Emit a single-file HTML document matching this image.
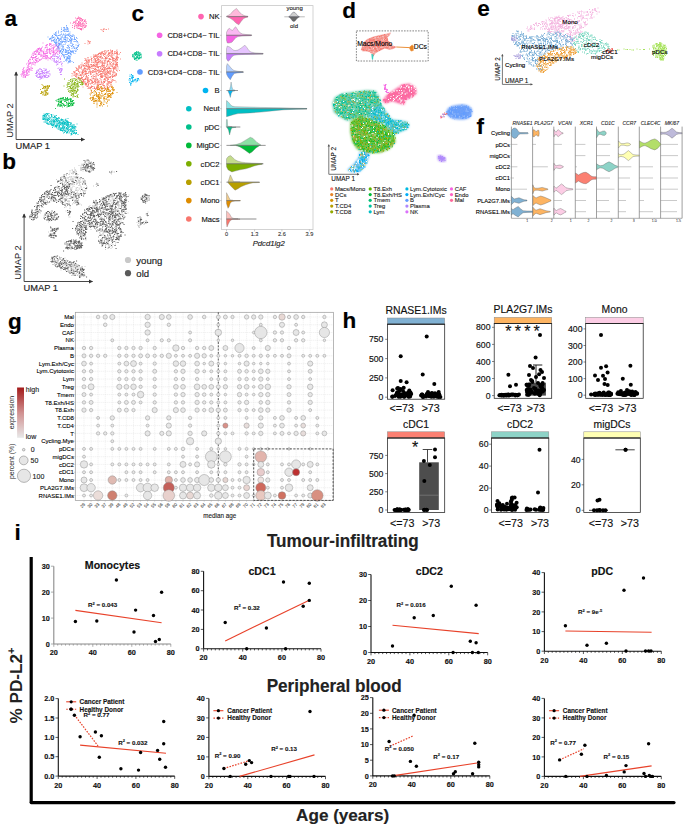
<!DOCTYPE html>
<html><head><meta charset="utf-8"><style>
html,body{margin:0;padding:0;background:#fff;width:685px;height:827px;overflow:hidden}
svg{display:block;font-family:"Liberation Sans",sans-serif}
</style></head><body>
<svg width="685" height="827" viewBox="0 0 685 827">
<rect width="685" height="827" fill="#fff"/>
<path d="M46 45h1M41.5 55.5h1M43 56.5h1M54.5 53h1M27.5 63h1M45.5 55.5h1M47.5 57.5h1M32.5 63h1M38.5 53h1M30 63h1M49 53h1M55 53.5h1M43.5 58.5h1M53 52.5h1M22.5 69.5h1M31.5 57.5h1M58.5 48h1M29.5 59.5h1M43.5 52h1M35 62.5h1M47 44.5h1M36 56.5h1M21.5 73.5h1M44.5 48h1M39 59.5h1M34 52h1M53 48.5h1M21 76h1M41 48h1M27 69.5h1M29.5 61h1M30.5 67h1M27.5 70.5h1M49 48.5h1M26 71.5h1M34 62h1M53 50h1M30 63h1M30.5 57.5h1M25.5 74.5h1M34.5 59h1M37.5 49h1M33 61h1M38 61.5h1M57.5 52h1M53.5 47.5h1M26.5 68h1M46.5 47.5h1M36 60h1M40.5 54.5h1M49 43.5h1M42.5 58h1M23 77h1M53 52h1M26 75h1M47.5 57.5h1M23 75.5h1M23.5 72.5h1M23 73h1M38.5 54.5h1M41 51h1M32.5 53.5h1M50.5 53h1M40 49h1M57.5 46.5h1M36 60.5h1M36.5 55h1M23 68.5h1M23.5 72h1M32 59h1M32.5 55h1M39 60.5h1M28 60.5h1M35.5 54h1M22 72h1M24.5 72h1M46.5 45h1M49.5 51.5h1M49 50h1M40 56h1M46 45.5h1M50 53.5h1M47 53h1M41 59h1M55.5 49.5h1M38 52h1M28.5 63h1M58 47.5h1M38 53.5h1M53.5 47h1M56 53h1M35 56.5h1M34.5 57.5h1M24.5 72h1M40.5 49.5h1M49 44.5h1M49.5 58.5h1M57 47h1M39 54.5h1M32 68.5h1M59 52h1M46.5 53h1M42.5 56.5h1M28.5 74.5h1M40 50.5h1M50 57h1M36.5 61h1M35 54.5h1M54.5 50.5h1M36 58.5h1M59 51.5h1M46 53.5h1M35.5 50.5h1M32 59h1M37 51.5h1M33.5 57.5h1M47.5 49.5h1M40.5 50h1M59 53.5h1M53 51h1M29 69.5h1M40 49.5h1M57 54h1M27.5 75.5h1M50 44h1M46.5 56h1M35 54.5h1M31.5 55h1M58 47h1M58.5 50h1M50.5 44h1M57 51.5h1M33.5 52h1M30.5 68h1M29.5 59.5h1M35.5 51.5h1M37.5 60h1M57 49h1M44.5 54h1M33 55.5h1M51.5 45.5h1M28 69h1M48.5 58.5h1M46.5 47h1M53.5 53h1M43 56h1M49.5 49.5h1M26.5 73.5h1M43 54h1M40.5 51h1M30.5 70h1M58 46.5h1M30.5 63.5h1M46 50h1M47 49h1M36 62h1M45.5 46h1M27 67h1M36.5 52.5h1M32.5 62.5h1M34.5 57.5h1M49 50h1M20.5 74.5h1M38.5 48.5h1M35 60.5h1M53 48.5h1M51.5 50.5h1M53 49h1M41 56h1M50.5 44h1M53.5 47h1M45 53.5h1M38 58h1M39.5 51h1M38.5 49h1M45.5 45.5h1M40.5 56h1M58 47.5h1M56.5 48.5h1M50.5 48.5h1M56 52.5h1M52.5 47.5h1M40.5 54h1M26.5 75.5h1M27 70h1M45.5 55.5h1M24.5 77.5h1M45.5 56.5h1M52 52h1M38 49h1M50 44.5h1M53 51.5h1M44.5 58h1M29 63h1M43.5 50h1M25.5 75.5h1M36 52h1M42.5 55h1M46 58h1M36.5 51h1M22.5 70h1M57.5 47.5h1M28 64h1M52.5 49h1M32.5 53h1M22 74h1M50 59h1M49.5 58.5h1M48.5 52h1M42 58h1M31 65h1M58.5 50.5h1M50 54h1M55 54h1M43 53.5h1M28.5 64.5h1M23.5 74.5h1M24.5 75h1M23 73h1M45.5 53h1M50.5 50h1M33 57.5h1M31.5 68h1M35 54h1M41.5 50.5h1M54.5 46h1M53 48.5h1M23.5 70.5h1M45 55h1M36 56.5h1M55.5 45.5h1M29.5 59h1M34 54h1M26.5 72h1M55.5 51h1M41 48.5h1M24.5 76.5h1M49.5 58h1M28 65h1M45.5 59h1M26 64h1M37 50.5h1M45.5 58.5h1M32.5 64.5h1M45.5 51.5h1M37 58.5h1M45 57h1M27.5 65.5h1M51 56.5h1M26.5 70h1M28.5 66.5h1M25 77h1M31 56.5h1M34 52h1M29 68.5h1M29 71h1M36 50h1M25.5 70h1M34.5 65h1M39 53h1M42 47h1M53.5 55h1M54 52h1M35 51.5h1M37 49h1M32 59.5h1M46.5 55.5h1M22.5 71.5h1M26 72h1M46.5 51.5h1M29.5 70h1M27 74h1M28 67h1M42.5 52h1M39 48h1M40 60h1M35 57.5h1M40.5 59.5h1M35 59.5h1M37 62h1M53 53h1M40.5 52h1M33.5 54h1M32 63h1M47.5 50h1M46.5 58.5h1M50.5 46.5h1M46.5 55.5h1M42.5 51.5h1M32 57.5h1M33 58h1M46 50h1M25 76.5h1M24 73h1M49 51h1M49.5 49.5h1M49 45.5h1M52.5 45.5h1M27 73h1M35 63h1M26 70.5h1M45.5 57.5h1M43 53h1M22.5 77h1M33.5 64h1M44 53.5h1M52.5 52.5h1M22 72h1M43 52.5h1M28 69h1M57.5 51h1M38.5 50h1M30.5 69h1M23.5 71h1M51 51h1M27.5 67.5h1M34.5 62.5h1M36 61h1M51.5 48h1M44 55h1M43 52h1M51 57.5h1M56.5 45h1M44 56.5h1M25 76.5h1M30.5 62.5h1M47 56.5h1M38 48.5h1M53.5 44.5h1M47 53h1M39.5 48.5h1M48.5 49.5h1M21.5 75h1M24 75h1M38 54.5h1M45 47.5h1M26 73h1M31 57h1M53.5 54.5h1M25 77h1M22.5 74h1M47 50h1M39 52.5h1M56 44.5h1M49 53h1M52.5 54.5h1M56.5 50.5h1M42.5 43h1M58 43.5h1M29 63.5h1M31.5 70.5h1M38 49.5h1M51.5 41h1M28 61.5h1M23.5 67.5h1M61 56h1M28 71.5h1M28.5 72.5h1M55.5 46.5h1M47.5 60h1" stroke="#F564E3" stroke-width="1" stroke-opacity="0.8" fill="none"/>
<path d="M72.5 47h1M63 56h1M56 40h1M55.5 41.5h1M68 48h1M58 44h1M69 61.5h1M65 41.5h1M64 31h1M71.5 51.5h1M70.5 52.5h1M72.5 35h1M51.5 37h1M73.5 41.5h1M63 50h1M68 58.5h1M69.5 60h1M52 37h1M61 49h1M62 54.5h1M65.5 50h1M77 47.5h1M55.5 45h1M69 48h1M72 51h1M66.5 52.5h1M50 38.5h1M72.5 39.5h1M76.5 42h1M67.5 34.5h1M65 39.5h1M77.5 43h1M59 45h1M69.5 57.5h1M67.5 45.5h1M69.5 34h1M69 58h1M72.5 44.5h1M73.5 47h1M72.5 35h1M54 39.5h1M63.5 44.5h1M68 52.5h1M66.5 35.5h1M68 31h1M69.5 32h1M61 34h1M63.5 28h1M76 37.5h1M52 38h1M62.5 47.5h1M57.5 47h1M78.5 44.5h1M71.5 38.5h1M71 36h1M68.5 62h1M63.5 55.5h1M58.5 40h1M51.5 37h1M67.5 53.5h1M70 51h1M53 40h1M78 46h1M60.5 50.5h1M59.5 35h1M74 36h1M61.5 53.5h1M67.5 31.5h1M68 41.5h1M63.5 34.5h1M67.5 57.5h1M64.5 31.5h1M70.5 40.5h1M69 47.5h1M63 46.5h1M64.5 42.5h1M65 49.5h1M53.5 41.5h1M67 29.5h1M66 42h1M60 51h1M65 50h1M71 52h1M59.5 35.5h1M62 36h1M68.5 33.5h1M69 53h1M55.5 43.5h1M65 52.5h1M66 58h1M69.5 56.5h1M64 57.5h1M78 45.5h1M62.5 52h1M51.5 40.5h1M67.5 41.5h1M70 62h1M62.5 31h1M71 39.5h1M56 45.5h1M64.5 39.5h1M63.5 57h1M59.5 39.5h1M58.5 49h1M56 39.5h1M72.5 44.5h1M75 51.5h1M74 48.5h1M72 36.5h1M63.5 27.5h1M67.5 50.5h1M67 58h1M62.5 35h1M77.5 45.5h1M59.5 46h1M58 31h1M67.5 34.5h1M59 44h1M59 44.5h1M55.5 35.5h1M75.5 49h1M68 53.5h1M53 40.5h1M59.5 48h1M66.5 31.5h1M70 60.5h1M55 42.5h1M66 30h1M70.5 39h1M70 51.5h1M53.5 34h1M61 41h1M66.5 31.5h1M70.5 36h1M66 51h1M66.5 37.5h1M59.5 44h1M74 38.5h1M65.5 54.5h1M67.5 35h1M57.5 45h1M52 35.5h1M73.5 48h1M49.5 38.5h1M49.5 38.5h1M63.5 49h1M58.5 42h1M74 39.5h1M60 39h1M69.5 58.5h1M66 35h1M67.5 57h1M63.5 27.5h1M68.5 50.5h1M65.5 52.5h1M65.5 40h1M65 36.5h1M68 41.5h1M67.5 31h1M65 34h1M72.5 36h1M67 54h1M65 39.5h1M70.5 43h1M60.5 34.5h1M69 39.5h1M55.5 40.5h1M76 40.5h1M68.5 58.5h1M70 35.5h1M59.5 38.5h1M61.5 37h1M75.5 45h1M53 37.5h1M58.5 49h1M62 42.5h1M69.5 56.5h1M53 37.5h1M64 39.5h1M71.5 43.5h1M61 42h1M68 51h1M61 39h1M76 48h1M67 48h1M70 53.5h1M68 46.5h1M57 38.5h1M57.5 38.5h1M71.5 36.5h1M61.5 46.5h1M60.5 32h1M68 35.5h1M70 53.5h1M70.5 41.5h1M65.5 52h1M62 51.5h1M62.5 48h1M63 50.5h1M63 39h1M65.5 40.5h1M75 39.5h1M73 51h1M74.5 39.5h1M66.5 47.5h1M71.5 40h1M55 32.5h1M60 51.5h1M74.5 50.5h1M76.5 38.5h1M62 41.5h1M70 40.5h1M60 51h1M64.5 37.5h1M69 36.5h1M57.5 43h1M69 49.5h1M64.5 56.5h1M66.5 38h1M65.5 60.5h1M56.5 36.5h1M62 46h1M63.5 29.5h1M62 49h1M56.5 35.5h1M67.5 63h1M74.5 48h1M62.5 41h1M68 56h1M61 31.5h1M56 34h1M57.5 38.5h1M60.5 43.5h1M66 27h1M64 58h1M55.5 43.5h1M65.5 54.5h1M61 28h1M67.5 38.5h1M64.5 29.5h1M60.5 51h1M58 41h1M58 35.5h1M60.5 42.5h1M65 37.5h1M68.5 61h1M68.5 53h1M59 43.5h1M70 51h1M55.5 43h1M55 34h1M61 53.5h1M55 34h1M70.5 54h1M54 34.5h1M70.5 54.5h1M73 46.5h1M70.5 45.5h1M63 34h1M70 43h1M73 53h1M70.5 38h1M69 35h1M53.5 37h1M68.5 52.5h1M54.5 39h1M59.5 51h1M64.5 29h1M57.5 37.5h1M66.5 54.5h1M55 44h1M76 48h1M58 48h1M58 33h1M59.5 44.5h1M59 40h1M62.5 54.5h1M61.5 52.5h1M71 40h1M74 37.5h1M56 32h1M57 46.5h1M58.5 35.5h1M66 28h1M57.5 47h1M71 46.5h1M72.5 52.5h1M61.5 49.5h1M55.5 35.5h1M72 45.5h1M51 39h1M71.5 48.5h1M54.5 38h1M67 28.5h1M60 41.5h1M68.5 62.5h1M66.5 56.5h1M63.5 55h1M64 36h1M70 37.5h1M72.5 52h1M54 41h1M68 61.5h1M64.5 54.5h1M67 51h1M68 29h1M66 59h1M66 61h1M69 41h1M68 55.5h1M59 40.5h1M69 56h1M69 60h1M61.5 37.5h1M63 41.5h1M58 32h1M65.5 29.5h1M60.5 44h1M50 39h1M75.5 41.5h1M65 35.5h1M60.5 39h1M58 38.5h1M67 58.5h1M52 35.5h1M66 51h1M71 51.5h1M71.5 51h1M56.5 42h1M64.5 38.5h1M57 37.5h1M69.5 61.5h1M68.5 45h1M52.5 40.5h1M58 45.5h1M61 29.5h1M64 28h1M65 60h1M50.5 38h1M64.5 52h1M76 48.5h1M59.5 52.5h1M63 49.5h1M77 41.5h1M69.5 40h1M63 30.5h1M77 49.5h1M64 41.5h1M65 51h1M74.5 41.5h1M51 41h1M70.5 41h1M70 38h1M67 40h1M67 57.5h1M61 45h1M71 42h1M56 42.5h1M72.5 51.5h1M60.5 37h1M68.5 59h1M70.5 55h1M67 45.5h1M67 60h1M58 40h1M66 59.5h1M64.5 31h1M62.5 55h1M62.5 45h1M67 27.5h1M65 44h1M63.5 37.5h1M73 62.5h1M76 51h1M78 46h1M47.5 37h1M49 39.5h1M74.5 53.5h1M63.5 61.5h1M59 56h1M55 35.5h1M71.5 61.5h1M54 42.5h1M56.5 49h1M66 25.5h1M77 46h1M139.5 73h1M138.5 71h1M139.5 69.5h1M138.5 72h1M138.5 71h1M137.5 71.5h1M138.5 73.5h1M138.5 72.5h1" stroke="#619CFF" stroke-width="1" stroke-opacity="0.8" fill="none"/>
<path d="M39 77h1M36 76h1M42 71h1M42.5 75h1M44.5 75.5h1M35.5 75.5h1M46.5 75.5h1M37 72.5h1M40.5 78h1M39.5 69h1M48 75.5h1M44.5 76h1M35 73.5h1M46 73h1M47.5 71.5h1M39.5 71.5h1M40.5 73.5h1M36 72.5h1M48 76.5h1M45 70.5h1M42 71.5h1M46.5 71.5h1M41 76h1M43.5 76.5h1M38.5 77.5h1M37 77h1M44 73.5h1M43 72.5h1M39 74.5h1M39 73h1M37 72h1M46 70h1M41 69.5h1M47.5 77h1M38.5 74.5h1M38 70h1M45.5 69.5h1M41.5 77h1M36 76.5h1M37.5 70h1M36 72.5h1M39.5 75.5h1M45.5 74.5h1M41.5 73.5h1M43 75.5h1M40.5 74h1M43.5 73h1M44 71h1M40.5 77.5h1M49.5 75h1M41 78.5h1M38.5 77h1M45.5 69h1M45 70.5h1M40 78h1M41.5 72h1M48.5 73.5h1M49.5 74h1M41 70h1M46 72.5h1M45.5 72.5h1M42.5 72.5h1M42.5 78h1M44 75.5h1M42 73h1M40 74h1M40 76.5h1M39.5 77h1M45.5 75.5h1M46.5 72.5h1M36.5 75h1M39 74h1M38 71h1M44 76.5h1M40.5 77.5h1M44.5 70h1M36 73h1M45 76.5h1M44 73h1M43.5 68.5h1M47 77.5h1M36 71h1M37.5 70.5h1M48.5 76.5h1M38 73.5h1M36 72h1M39 76.5h1M48 72h1M49 71h1M39 69h1M40 73.5h1M37 75h1M46 77.5h1M41 71.5h1M36 73.5h1M47 73h1M42 77h1M44.5 77h1M42 73h1M38 77.5h1M42 76.5h1M42.5 74h1M40 69h1M42.5 70.5h1M45.5 73h1M44.5 77.5h1M39.5 79.5h1M44.5 77h1M37.5 77.5h1M60.5 71.5h1M54 62h1M55.5 62h1M55.5 56.5h1M61 70.5h1M59.5 70h1M60 59.5h1M58.5 62.5h1M57 61.5h1M60.5 61.5h1M60.5 72h1M61.5 70h1M58.5 68h1M57.5 64h1M60 72.5h1M53.5 61.5h1M54 56.5h1M55 55h1M60 59h1M52 56h1M59.5 58.5h1M56.5 63h1M60 74.5h1M61 64.5h1M61 70h1M57.5 56.5h1M57 64.5h1M58.5 59h1M55 62h1M62 69h1M56 56.5h1M60 62h1M60 59h1M56 62.5h1M53.5 60.5h1M60 58h1M61.5 66h1M59.5 72.5h1M53.5 55h1M61 74.5h1M57.5 57.5h1M54 60h1M56 65h1M56.5 56.5h1M59 70h1M54 60h1M57 58h1M59 70h1M59 69.5h1M61.5 63.5h1M52 56h1M60 68.5h1M54 58.5h1M58 61h1M53 59h1M52 58.5h1M56.5 58.5h1M58 57.5h1M53 56h1M55.5 62h1M56 62h1M59 62.5h1M57.5 54.5h1M60.5 69.5h1M61.5 63h1M56 60.5h1M57.5 68.5h1M60.5 71h1M61 68.5h1M51.5 60h1" stroke="#C77CFF" stroke-width="1" stroke-opacity="0.8" fill="none"/>
<path d="M78 22.5h1M79.5 23.5h1M84.5 27.5h1M81.5 25.5h1M79.5 25h1M85 27h1M80.5 28.5h1M74 22.5h1M74.5 25h1M82 23.5h1M83.5 23.5h1M80 26h1M76 25.5h1M80 29h1M82.5 29h1M84 21.5h1M82.5 19.5h1M78.5 25.5h1M78 23h1M81 29.5h1M76.5 25.5h1M81 21h1M81.5 24.5h1M83.5 21.5h1M81 24h1M86 23.5h1M79 18h1M79 21h1M80 26h1M75.5 22h1M84.5 25h1M79 28.5h1M79.5 22h1M77.5 18h1M77 27h1M76.5 23.5h1M80 24h1M83 26h1M82 20.5h1M81.5 21h1M82 26h1M84 27.5h1M77.5 25h1M84.5 26.5h1M85.5 21.5h1M77 23.5h1M79.5 17.5h1M84.5 20h1M81 28.5h1M75 21h1M84 25h1M85.5 25.5h1M83 25.5h1M84 20.5h1M76.5 28h1M76.5 20.5h1M78.5 25h1M79 23h1M78 18h1M78.5 25.5h1M80 24h1M76.5 20.5h1M80 18.5h1M78 28.5h1M79.5 29h1M81 18.5h1M80 29.5h1M78 21.5h1M75 22h1M80 20.5h1M78 24.5h1M76 27h1M78 23h1M85.5 23h1M78.5 27h1M85.5 26h1M80 29h1M82 19.5h1M76.5 19.5h1M77.5 26h1M82.5 24.5h1M79 19.5h1M75 23.5h1M82 27h1M77 18.5h1M77.5 18.5h1M76.5 24.5h1M82 20.5h1M77.5 28.5h1M82.5 23.5h1M78 26h1M80.5 19.5h1M81 30h1M85 20h1M76.5 18.5h1M81 26.5h1M85.5 26h1M74.5 25h1M82.5 22.5h1M80 22.5h1M79 24h1M78.5 22h1M78.5 18.5h1M85 22h1M80.5 19h1M81 29.5h1M82.5 28h1M78 17h1M75 18h1M74 27h1M73.5 21.5h1M72 27.5h1M74 28.5h1M74 26.5h1M74.5 26h1M72.5 23.5h1M72 25.5h1M73 22.5h1M75.5 22h1M70 23h1" stroke="#FF64B0" stroke-width="1" stroke-opacity="0.8" fill="none"/>
<path d="M84 65.5h1M104 82.5h1M93.5 79h1M80.5 67.5h1M87.5 61.5h1M87.5 80h1M105 57.5h1M81.5 81.5h1M101.5 77h1M100.5 77.5h1M116 70.5h1M102 88.5h1M108.5 58.5h1M108 79.5h1M93.5 64.5h1M83.5 69h1M104 86h1M110.5 84.5h1M91.5 66.5h1M111 62.5h1M90.5 57h1M107 64.5h1M91.5 65.5h1M98.5 59.5h1M88 80.5h1M86.5 77h1M100 57h1M99.5 61h1M113.5 58.5h1M98 72.5h1M86 75.5h1M99 70h1M85 66h1M87.5 86h1M82 73h1M108 82.5h1M83 81h1M81.5 74.5h1M107.5 83.5h1M96.5 65h1M108.5 53.5h1M83 80h1M88 67h1M94.5 61h1M103.5 70.5h1M117 56h1M94.5 69.5h1M88 84.5h1M87.5 63h1M99.5 72h1M115.5 64.5h1M76 76h1M95.5 62.5h1M86 83.5h1M86.5 66.5h1M116 64h1M102 76.5h1M91.5 66h1M92 83h1M88 79h1M102.5 69.5h1M93 57.5h1M78.5 75.5h1M103.5 60h1M101 55h1M99.5 56h1M94.5 62h1M96.5 54.5h1M93.5 74.5h1M102.5 71.5h1M99.5 81h1M97.5 58.5h1M91.5 83h1M97.5 80h1M87.5 67.5h1M101.5 53.5h1M105 60h1M110.5 56.5h1M109.5 70.5h1M91.5 83h1M103 71h1M111.5 57.5h1M113 63h1M100 54h1M117.5 67h1M108 60.5h1M105 58.5h1M96.5 74h1M111.5 55h1M103.5 68h1M107.5 68h1M84 79.5h1M110 59.5h1M103.5 65.5h1M115.5 64h1M94.5 69.5h1M106 85h1M87.5 58h1M87 79h1M101.5 66h1M95.5 55.5h1M114 68.5h1M94.5 81.5h1M80 78.5h1M87 82.5h1M100.5 69h1M88.5 73h1M81 67h1M96.5 74h1M100 54.5h1M107.5 61h1M111.5 81.5h1M102.5 82.5h1M91 76.5h1M115.5 57h1M94.5 55.5h1M79 73h1M79.5 68.5h1M96 67h1M94.5 83.5h1M107 72.5h1M96 58h1M107.5 61.5h1M105 58.5h1M97.5 75.5h1M88 69h1M73.5 75.5h1M103 55.5h1M96.5 79h1M111.5 51.5h1M93.5 59.5h1M84.5 68h1M88 81.5h1M104.5 54h1M103.5 81h1M117.5 57.5h1M90 87.5h1M89 62h1M94.5 67h1M91 80.5h1M110 68.5h1M79 66h1M112.5 66h1M102 72h1M92.5 72.5h1M82 72h1M111.5 52.5h1M88 85h1M100 75h1M110.5 68.5h1M104 79h1M80 75.5h1M101.5 76h1M86 73.5h1M102 61h1M108 61.5h1M96.5 82h1M89 69.5h1M95 61.5h1M116.5 65h1M91 58.5h1M116.5 62.5h1M101 83h1M89 80h1M112 57.5h1M91.5 80.5h1M95 66.5h1M82 72h1M91.5 86.5h1M85 73h1M104 52h1M114 53.5h1M85 78.5h1M76.5 68.5h1M95 55h1M109.5 66h1M110 51h1M105.5 53h1M115 66h1M99 84.5h1M103.5 73h1M104.5 60.5h1M94 57h1M91 60.5h1M98 61.5h1M83.5 75.5h1M94 58.5h1M76 70h1M94.5 78.5h1M88 66h1M112.5 60.5h1M82.5 82.5h1M99.5 57.5h1M109 72h1M99.5 57h1M92.5 78.5h1M75 76h1M101 77.5h1M116 65h1M90.5 64.5h1M103.5 79.5h1M101.5 65.5h1M97.5 70.5h1M110 59h1M105.5 78.5h1M112 60h1M108 68.5h1M85.5 64.5h1M108.5 83.5h1M110.5 76.5h1M97.5 58h1M78 78.5h1M86 84h1M85 60h1M91 64.5h1M116 58.5h1M98 70h1M116.5 64.5h1M109 77.5h1M96.5 82.5h1M78 71.5h1M83 65.5h1M79.5 78h1M97.5 81h1M100 73.5h1M97.5 62.5h1M114.5 64.5h1M104 87.5h1M101 76.5h1M91.5 68h1M106.5 62h1M75.5 74.5h1M109 59.5h1M103 85.5h1M94 63h1M91.5 81.5h1M100.5 56.5h1M116.5 56.5h1M90 88h1M90 84h1M107.5 73h1M94 65.5h1M101 70h1M86 74h1M117.5 57.5h1M90.5 83.5h1M103.5 88.5h1M110 73h1M88.5 60h1M96 64.5h1M94 65.5h1M108.5 73.5h1M76 73.5h1M106.5 51h1M112 76.5h1M109.5 86h1M82 73h1M88.5 61.5h1M106.5 74.5h1M86 71.5h1M114.5 72.5h1M113.5 72.5h1M92.5 72h1M105 89h1M100 68.5h1M100.5 71h1M104 88h1M112 51.5h1M108 50.5h1M101 82h1M82 65h1M81 78h1M95.5 74h1M86 73h1M115.5 59.5h1M95 65h1M87 82h1M79 72h1M107 87.5h1M94 87.5h1M89.5 71.5h1M114.5 52h1M103.5 73h1M94.5 55h1M109.5 82.5h1M109 58.5h1M109.5 53h1M107 81h1M100.5 83h1M117 62.5h1M85.5 77h1M103 84h1M97.5 60.5h1M82.5 71.5h1M112.5 59h1M103.5 76.5h1M107 61.5h1M107 68.5h1M109 55.5h1M112 56h1M75 76.5h1M102 85h1M90 67.5h1M82 81.5h1M104.5 81.5h1M95.5 78h1M84.5 60.5h1M105.5 58h1M86 60.5h1M111.5 75.5h1M93 64.5h1M92 72.5h1M111.5 59.5h1M94.5 80.5h1M78 67h1M117.5 69h1M88.5 83.5h1M112.5 64.5h1M76.5 75h1M105.5 87h1M101.5 62h1M95 61h1M91.5 68.5h1M114.5 68.5h1M116 55h1M114 75.5h1M112 66h1M110.5 82.5h1M88 83h1M80.5 80h1M92.5 66h1M105 53h1M117 58h1M88.5 66h1M98 85.5h1M115 75h1M98 67.5h1M117 66h1M87 66.5h1M98.5 71.5h1M90.5 59.5h1M85.5 69.5h1M97 57.5h1M87 81h1M112.5 59h1M107.5 67h1M96 71h1M102 77.5h1M88.5 87h1M109.5 61.5h1M73.5 72h1M101.5 58.5h1M100 60.5h1M91.5 58.5h1M109 67.5h1M104.5 63.5h1M108.5 73.5h1M101.5 65.5h1M97 57h1M95.5 75.5h1M111.5 81h1M104.5 61.5h1M81.5 78h1M84.5 79h1M87 80.5h1M97.5 82.5h1M117 64.5h1M112 50.5h1M96.5 65h1M107 62h1M96.5 80h1M107 58h1M83 76.5h1M106.5 75h1M91.5 79h1M102 57.5h1M96 73.5h1M105 57.5h1M85 63h1M105 73h1M78.5 79h1M82.5 70h1M115 61h1M106 77.5h1M97 59.5h1M91 86h1M113 60.5h1M98 67.5h1M85 70.5h1M107 79h1M87 86.5h1M108 72h1M93 62.5h1M99.5 53h1M82 71h1M110 63.5h1M94 76.5h1M79.5 75h1M79.5 78.5h1M95.5 56.5h1M108 53h1M100 84.5h1M106.5 68.5h1M114.5 63h1M89.5 88.5h1M112.5 57.5h1M96.5 87.5h1M107 80h1M99 53.5h1M116 53.5h1M107.5 79h1M85.5 77h1M90 80h1M88.5 82h1M93 82.5h1M85 71.5h1M102.5 66.5h1M116 52.5h1M104 79h1M114 67h1M98.5 82.5h1M114 60.5h1M113 76.5h1M98 54.5h1M90 88h1M110.5 79h1M94 69.5h1M77.5 70h1M108.5 54.5h1M112 66.5h1M92.5 75.5h1M97.5 85.5h1M94.5 70h1M117.5 58h1M114 69h1M112 77.5h1M105 80h1M85 79h1M80.5 72h1M98.5 81h1M109.5 82h1M117 54h1M104.5 79.5h1M101 81h1M95 72h1M114 75.5h1M101.5 73.5h1M94 80h1M97.5 54.5h1M90.5 66.5h1M91 72h1M87.5 65h1M90.5 64.5h1M116.5 53h1M89 67.5h1M98.5 64h1M84 68h1M103.5 82h1M92.5 65h1M76 73.5h1M102 68.5h1M99.5 53.5h1M98.5 66.5h1M105 54h1M81.5 63h1M97.5 62.5h1M91.5 82.5h1M79 78.5h1M115.5 62.5h1M99 53.5h1M90 74.5h1M100.5 63h1M97 56h1M85 74.5h1M113 70.5h1M82.5 73h1M83.5 81h1M91.5 86.5h1M86 65.5h1M106.5 65.5h1M93 65.5h1M107 86h1M90.5 87h1M95.5 77h1M88.5 60.5h1M87.5 78h1M92.5 70.5h1M86.5 77h1M104 67h1M96.5 62.5h1M84 63.5h1M108 81.5h1M103.5 85.5h1M101.5 54h1M82.5 71h1M109.5 73h1M91 59h1M117 59.5h1M110.5 54h1M101.5 64h1M112.5 61.5h1M101 77h1M72.5 74h1M91 87h1M100.5 76h1M94.5 56.5h1M112 53.5h1M95 68.5h1M96.5 79h1M113 68.5h1M77.5 74h1M107.5 54.5h1M84.5 84h1M103 53.5h1M103 81.5h1M101.5 62h1M88.5 71.5h1M96.5 65.5h1M108.5 53h1M106.5 71h1M108 72.5h1M85.5 66h1M104 81.5h1M108 85h1M106.5 77.5h1M88 63h1M92.5 82.5h1M86.5 62.5h1M95 79.5h1M112.5 63.5h1M103.5 65.5h1M111.5 80.5h1M97 64h1M108.5 61.5h1M116 51h1M109 71h1M96.5 71.5h1M90 72h1M102.5 75.5h1M108.5 77.5h1M114.5 51.5h1M107.5 55.5h1M95.5 80.5h1M78 71h1M113 80h1M89.5 69h1M107.5 77h1M85 79h1M93.5 82h1M87.5 85h1M103 67.5h1M97 82h1M95.5 88.5h1M104.5 69h1M110.5 55.5h1M86.5 78.5h1M109.5 64.5h1M74 72.5h1M85.5 60h1M97 67.5h1M85 74h1M109.5 52.5h1M116 58.5h1M95.5 61.5h1M102.5 72h1M99 61.5h1M105.5 77.5h1M104.5 68.5h1M92.5 61h1M99.5 57h1M111 82.5h1M93.5 56.5h1M83.5 79.5h1M117 53.5h1M87 73.5h1M86.5 86.5h1M86 61.5h1M98.5 83h1M73.5 71.5h1M105 89.5h1M115 53.5h1M96 88.5h1M115.5 60h1M97 64h1M98 87.5h1M82.5 83h1M115 59.5h1M88 73h1M81.5 78h1M101.5 53h1M114 52h1M103.5 63.5h1M92 81.5h1M95.5 60.5h1M95 89.5h1M105 76.5h1M110.5 66h1M97 84h1M97.5 55h1M114 67h1M79.5 66h1M98.5 66.5h1M104 54.5h1M82.5 82h1M106 73.5h1M91 59h1M98.5 89.5h1M103.5 53.5h1M81 67h1M117 62.5h1M85.5 68.5h1M103.5 62.5h1M108 56.5h1M75.5 75h1M92 86.5h1M102 64.5h1M76.5 74h1M106.5 68.5h1M93 77h1M99.5 66.5h1M79.5 68h1M96.5 86h1M100.5 79.5h1M82 77.5h1M115 67h1M101.5 84.5h1M117 52h1M85 68.5h1M105.5 75h1M114.5 76.5h1M100.5 57.5h1M111 66h1M116 64h1M100 71.5h1M83 81h1M85.5 85.5h1M84.5 74h1M109 53.5h1M107.5 65h1M95.5 66.5h1M105.5 78h1M110 76.5h1M100.5 62h1M86.5 63.5h1M109 81.5h1M108 54h1M110.5 83h1M95 59h1M111 54h1M117 66h1M107 82h1M98 89.5h1M107 87h1M116 52.5h1M106 58.5h1M86 63h1M103.5 70.5h1M107 63h1M90 79.5h1M103.5 85.5h1M85 84h1M105.5 72.5h1M90 72.5h1M105 74.5h1M80.5 78.5h1M109.5 74.5h1M81.5 72.5h1M89 60h1M100.5 87.5h1M85 71.5h1M93.5 86.5h1M98 75.5h1M98 81.5h1M81 76h1M83 65h1M86 66h1M87.5 62.5h1M105.5 69.5h1M113 68h1M112.5 54h1M94 72h1M100 76.5h1M100 74.5h1M109.5 83h1M88.5 87.5h1M83 72.5h1M102.5 58.5h1M108 56.5h1M101 75h1M95.5 84h1M106 58h1M96 56h1M112.5 76h1M98.5 71h1M97.5 74h1M82 73.5h1M95.5 63h1M115.5 65.5h1M90.5 71.5h1M107 71h1M104.5 75.5h1M106.5 58h1M97.5 67h1M81.5 81h1M81 78h1M93.5 66.5h1M104 79h1M108.5 60h1M102 69.5h1M115 67.5h1M92.5 71h1M78.5 67.5h1M87 69.5h1M95.5 65h1M97 89h1M84 63.5h1M85.5 79.5h1M94 81.5h1M80.5 64.5h1M89.5 65h1M116 67h1M97.5 88.5h1M101 73.5h1M109.5 63h1M96 73h1M88 75.5h1M88 60.5h1M113 58.5h1M83.5 69h1M117 54h1M107.5 78.5h1M108 54h1M112.5 64h1M109 68.5h1M112.5 68.5h1M97.5 84.5h1M77.5 69h1M104.5 70h1M99.5 84.5h1M115.5 73.5h1M77 70h1M98 68h1M104.5 71h1M85 83.5h1M117 52h1M89 67.5h1M82.5 79.5h1M113.5 55h1M94.5 88.5h1M112.5 67.5h1M95 81.5h1M99.5 53h1M106 66.5h1M114.5 58.5h1M112 58.5h1M116.5 63.5h1M104.5 50.5h1M95 71h1M75 73h1M91.5 62.5h1M110 77.5h1M100.5 89h1M106.5 68.5h1M76.5 74h1M100 84.5h1M116.5 60h1M113 72h1M99 74.5h1M107 70.5h1M101.5 52.5h1M108 71.5h1M98 59h1M97.5 84h1M88 67h1M98 89.5h1M100.5 56.5h1M98 62.5h1M93 78.5h1M85.5 73.5h1M109.5 68.5h1M100.5 61h1M82.5 70h1M95.5 58.5h1M106.5 69.5h1M87.5 59.5h1M115 59.5h1M74 75h1M102.5 63h1M91.5 77h1M107.5 77h1M98 53.5h1M97.5 87h1M96.5 86.5h1M92.5 70.5h1M84 68h1M115 69h1M80 74.5h1M94.5 68.5h1M114.5 80.5h1M103.5 73.5h1M101.5 69.5h1M110 74h1M113.5 71.5h1M78.5 78h1M101 82h1M109 63h1M73.5 72h1M115.5 74.5h1M112 53.5h1M98 56.5h1M101.5 75.5h1M113.5 80.5h1M96 87.5h1M104 56.5h1M117 71h1M113 69.5h1M86 76.5h1M104 68h1M83.5 66.5h1M104.5 58.5h1M78 69h1M101.5 52h1M83 80.5h1M93.5 84.5h1M107.5 51h1M104 74.5h1M93.5 76.5h1M95 56.5h1M103.5 54.5h1M85 84h1M97.5 70h1M104 69.5h1M88.5 72h1M113.5 76h1M84 82h1M101.5 74h1M105.5 60h1M110 71.5h1M106.5 83.5h1M82.5 66h1M112 77h1M93.5 71.5h1M112 52h1M87.5 77.5h1M96 69.5h1M102 63h1M116.5 60.5h1M94 88.5h1M106.5 64h1M111 52h1M115.5 75.5h1M89 66.5h1M99.5 70.5h1M107.5 75.5h1M101.5 52h1M87.5 68.5h1M116.5 57h1M97 79.5h1M108 88h1M104.5 71.5h1M109.5 82h1M100.5 76.5h1M86 84.5h1M107.5 61h1M87.5 65h1M111 71h1M100.5 67h1M92.5 88.5h1M83.5 70.5h1M93 55h1M77.5 70h1M108.5 67h1M90.5 80h1M91 66.5h1M89.5 70.5h1M96.5 63.5h1M104.5 51h1M102.5 64h1M114.5 61.5h1M91 62h1M95.5 60.5h1M102 66h1M104 61h1M92 72h1M104.5 76h1M102 63h1M113.5 59h1M77.5 77h1M98 59.5h1M109 77h1M91 74h1M101.5 67h1M115.5 64.5h1M100.5 53h1M107 84.5h1M88 64.5h1M95 59.5h1M103 70h1M110 50h1M112 74.5h1M100 67h1M96.5 60.5h1M97.5 85h1M84.5 73h1M83.5 83h1M80.5 75.5h1M97 62.5h1M95 82.5h1M85 82h1M81.5 75h1M104 69.5h1M76 68.5h1M115 65h1M97 66.5h1M112.5 73h1M87 61h1M110.5 64.5h1M99 72h1M105.5 56h1M101.5 74h1M116 69h1M111 51h1M110 68.5h1M81 66h1M74 73h1M81 78h1M78.5 77.5h1M99.5 78.5h1M115.5 61.5h1M103 65.5h1M106.5 73.5h1M86.5 83h1M102.5 83.5h1M108.5 68h1M89 81.5h1M101.5 71.5h1M112 50.5h1M106 77h1M90 73.5h1M96.5 88h1M94.5 71.5h1M92.5 66h1M103 54h1M103.5 87h1M106.5 71.5h1M75 71h1M108.5 69h1M111 57h1M86.5 70h1M105 67.5h1M85 84.5h1M89 66.5h1M81 69h1M104 64h1M102 69.5h1M84 71.5h1M116 57.5h1M83.5 70h1M113.5 67.5h1M81.5 73.5h1M76 70.5h1M101 53h1M96.5 62h1M105.5 74.5h1M113.5 74h1M104 82.5h1M84 68.5h1M112 72h1M105.5 80.5h1M83.5 74.5h1M88.5 68.5h1M95.5 76.5h1M106.5 56h1M87 79.5h1M94 88.5h1M110.5 56h1M97 70.5h1M99.5 62.5h1M107 72.5h1M109.5 53h1M110.5 70h1M100.5 59h1M103.5 66h1M104.5 73h1M100.5 71.5h1M104.5 62.5h1M93 68.5h1M106 52h1M94.5 60h1M98.5 60h1M113 64h1M112 79.5h1M116 74h1M96 56h1M82 79.5h1M82.5 87h1M103.5 51.5h1M100.5 88h1M116 74h1M117.5 54.5h1M110.5 86.5h1M99 90h1M120 52.5h1M116.5 50h1M85.5 59h1M71.5 76h1M87.5 88.5h1M84.5 58.5h1M102 52h1M91 87.5h1M88.5 88.5h1M107.5 88h1M71.5 73.5h1M87.5 57.5h1M119 54h1M76 77h1M79 67h1M109 87h1M85 83.5h1M120 59h1M75.5 67.5h1M119 70.5h1M111.5 86h1M78 66h1M116 75h1M91 91.5h1M93.5 56.5h1M76.5 78h1M115.5 82h1M107.5 88h1M83 81h1M101.5 30h1M103.5 28.5h1M106 29.5h1M103 31.5h1M103 29.5h1M102.5 31h1M104.5 29.5h1M100.5 29.5h1M108 29h1M88 41.5h1M89.5 41.5h1M87.5 42h1M89.5 41.5h1M89 43h1M87.5 44h1M89 43h1M87.5 40.5h1M84.5 43.5h1M89.5 43h1" stroke="#F8766D" stroke-width="1" stroke-opacity="0.8" fill="none"/>
<path d="M92 99.5h1M94 101.5h1M107 89h1M109.5 95.5h1M98.5 100.5h1M98.5 89h1M101 88.5h1M101.5 87.5h1M108 90h1M105.5 99h1M94.5 98.5h1M103.5 98.5h1M94 95.5h1M95.5 92.5h1M111.5 86.5h1M101.5 96.5h1M101 91.5h1M101 86.5h1M108.5 89.5h1M97.5 87h1M97.5 96.5h1M108.5 96h1M92.5 99.5h1M103.5 98h1M92 92.5h1M98.5 101h1M94 95h1M112.5 89.5h1M98 98.5h1M107 95h1M102.5 103h1M91.5 98h1M97.5 101.5h1M107.5 94.5h1M93 101.5h1M107 97.5h1M95.5 100h1M110 91h1M112.5 92h1M109 93.5h1M101 98h1M110 94.5h1M112 90h1M102.5 88.5h1M93.5 91.5h1M90.5 97.5h1M105 94h1M109.5 97h1M97.5 86h1M93.5 103.5h1M92.5 98h1M99 99.5h1M99.5 106h1M108.5 91.5h1M97.5 96.5h1M111 87.5h1M104.5 94h1M99 94h1M107.5 95h1M113.5 89.5h1M110 94h1M100 98h1M96.5 104h1M108.5 91h1M99.5 94.5h1M107.5 91.5h1M98.5 96h1M95.5 94.5h1M108.5 96h1M90.5 93h1M104 90.5h1M99 97.5h1M98.5 89.5h1M111.5 87h1M112.5 87.5h1M103.5 97h1M99.5 98.5h1M112 92.5h1M90.5 90h1M108.5 93.5h1M97.5 100h1M103.5 104.5h1M93.5 93h1M101 102h1M92 99h1M97.5 100h1M97 89.5h1M96 100.5h1M100 87h1M110 91h1M107.5 96h1M95 101h1M101 104h1M110 97h1M99.5 97h1M93 97.5h1M96 93.5h1M101 91.5h1M93.5 99.5h1M95 91.5h1M98.5 96h1M112.5 87.5h1M104 98.5h1M96 93h1M100.5 104h1M109 95.5h1M91 93h1M110 94.5h1M99 99h1M90 99h1M100 103.5h1M96 96.5h1M98 97h1M99 93h1M101 93h1M111.5 93.5h1M106.5 89.5h1M103 91h1M112.5 93.5h1M98 97h1M110.5 97.5h1M105 88.5h1M106 92h1M108.5 96.5h1M109 100h1M99 105.5h1M100.5 96h1M101 102.5h1M89.5 94h1M95.5 98.5h1M98.5 98.5h1M112 94h1M110.5 95.5h1M97.5 95.5h1M104 90.5h1M105.5 99h1M97 88h1M96.5 90h1M96 101h1M90 98h1M104.5 94.5h1M110.5 97h1M98 96h1M101.5 89.5h1M106.5 103h1M99.5 101.5h1M92.5 96h1M106.5 97h1M97.5 86h1M107 89h1M104.5 96.5h1M111.5 89.5h1M107.5 93.5h1M107 100h1M99.5 105.5h1M100.5 95.5h1M107.5 89h1M112 92.5h1M112 88.5h1M92.5 98h1M95.5 95h1M94.5 100.5h1M108 100h1M107.5 97h1M106 103h1M102 91.5h1M91 100.5h1M106 99h1M102.5 95h1M112.5 93.5h1M93 96h1M101.5 93.5h1M109.5 91h1M114 90h1M96.5 103h1M95 100.5h1M96 94h1M101 91h1M113 89h1M90 95h1M108 97h1M106.5 91h1M99.5 87h1M99.5 101.5h1M97.5 89.5h1M103 104.5h1M100 90.5h1M110 94.5h1M100.5 104h1M97 95h1M103 99h1M98 98.5h1M100 103h1M103.5 101h1M104 100h1M99 88.5h1M98.5 92.5h1M102.5 95.5h1M92.5 100.5h1M102 106h1M111 94h1M98 94.5h1M109 95.5h1M108.5 96.5h1M108 96h1M104 94.5h1M103.5 97.5h1M92 97.5h1M113 90.5h1M109 91h1M107.5 91.5h1M104.5 102h1M102.5 90.5h1M97 97h1M108 89.5h1M91 90.5h1M105.5 94h1M98.5 98h1M93 98.5h1M106 90.5h1M106.5 88.5h1M94.5 101h1M105 93.5h1M107 101.5h1M106.5 90h1M100.5 105h1M94 90.5h1M101.5 88.5h1M95.5 101h1M89.5 98.5h1M99.5 100.5h1M96 95.5h1M111.5 93.5h1M96.5 105h1M98.5 97h1M104 90h1M116.5 92.5h1M110.5 85h1M107 106h1M108.5 95.5h1M93.5 103h1M107 87h1M107.5 88h1M96.5 107h1" stroke="#DE8C00" stroke-width="1" stroke-opacity="0.8" fill="none"/>
<path d="M74 91h1M77 90h1M70 88h1M82.5 84h1M76.5 95.5h1M79.5 81h1M72.5 96h1M72 91.5h1M73.5 93h1M77.5 85.5h1M81 84h1M71 92h1M70 87.5h1M79 82.5h1M71.5 88.5h1M76.5 81h1M68.5 83h1M71.5 94h1M73 89h1M76.5 83.5h1M71.5 93.5h1M74 82.5h1M67 83h1M77 89h1M66.5 87.5h1M72 91h1M80.5 82.5h1M82.5 84h1M77 96.5h1M68.5 80.5h1M79.5 79h1M74.5 78.5h1M75.5 85h1M76 92h1M71.5 88.5h1M78 90h1M71.5 84.5h1M69.5 86.5h1M70 81.5h1M67 86h1M75 82.5h1M72.5 94.5h1M81.5 85h1M72 81.5h1M69.5 91h1M75 88h1M77.5 81.5h1M69.5 92h1M76.5 85h1M68.5 84.5h1M77 83h1M67.5 84.5h1M81 82h1M72.5 97h1M73.5 96h1M74.5 89h1M74.5 88h1M79.5 80.5h1M70.5 95h1M74.5 96.5h1M79.5 79.5h1M77 84h1M74.5 84.5h1M68.5 90.5h1M74.5 85.5h1M81.5 84h1M68.5 86.5h1M76 79.5h1M68.5 88.5h1M72.5 90.5h1M75.5 83.5h1M73 84h1M75 80.5h1M74 84.5h1M71.5 83h1M73.5 93h1M78 85h1M73 94h1M67.5 84h1M70.5 87h1M75 87h1M75 80h1M70.5 88.5h1M72.5 93.5h1M79.5 82.5h1M77 96h1M82 84.5h1M75 96.5h1M71 95.5h1M72 81h1M75.5 93.5h1M74 82h1M67.5 86.5h1M73 95h1M77 89.5h1M74 83.5h1M68.5 82.5h1M76.5 91.5h1M70 86h1M76.5 91h1M73.5 85h1M81.5 82.5h1M77.5 87h1M69.5 88h1M75.5 88h1M70 80h1M76.5 84.5h1M76.5 87h1M77 90h1M73 87h1M73 91h1M75.5 91.5h1M76.5 86h1M73.5 78.5h1M72.5 89.5h1M74 90.5h1M69.5 92.5h1M72 87.5h1M70 79.5h1M71.5 79h1M72.5 86.5h1M77 83.5h1M71 85.5h1M71.5 80h1M72.5 84h1M74.5 80h1M71 82h1M76.5 81h1M75 93h1M72 85h1M82 84h1M71 90.5h1M76.5 97h1M75 90.5h1M73.5 90h1M68 91.5h1M66.5 85h1M71.5 90h1M81 81h1M77.5 97.5h1M73.5 86.5h1M78.5 82.5h1M70.5 90h1M77.5 87h1M71 88.5h1M78.5 86.5h1M77.5 83.5h1M68.5 83h1M70.5 84h1M80 84.5h1M69 86.5h1M72.5 83h1M82 82.5h1M67.5 89.5h1M73.5 88h1M72.5 80.5h1M73.5 92h1M70 91h1M76 92.5h1M71.5 94h1M76.5 86.5h1M77.5 79h1M77.5 94.5h1M78 77.5h1M64 79h1M63.5 86h1M72.5 79h1" stroke="#7CAE00" stroke-width="1" stroke-opacity="0.8" fill="none"/>
<path d="M58 102h1M61 101h1M68 103.5h1M67 97.5h1M72 104.5h1M72.5 103.5h1M67.5 106.5h1M69.5 103.5h1M69 106h1M63 99h1M64 106h1M69.5 98.5h1M59.5 99h1M69.5 99.5h1M72 101.5h1M59.5 101.5h1M58.5 106h1M56.5 101.5h1M63 97.5h1M71.5 101.5h1M71.5 104.5h1M66 102.5h1M69 103.5h1M72 105h1M64 106h1M61 101h1M66.5 107h1M60.5 106h1M68 106.5h1M61.5 104h1M68.5 106h1M67.5 103h1M59.5 102.5h1M56.5 100h1M60.5 106h1M59.5 105h1M59.5 100.5h1M66.5 100h1M68 99.5h1M73 100.5h1M73 103.5h1M72.5 105h1M57 105h1M63 99h1M72 104h1M62.5 98h1M59 105h1M61 105.5h1M69 103.5h1M67 98.5h1M65.5 99h1M57.5 99.5h1M61 102.5h1M70 100h1M70.5 105h1M59.5 106.5h1M66.5 103.5h1M66.5 98.5h1M70 101.5h1M62.5 105.5h1M62 107h1M62 103.5h1M60.5 104.5h1M61 101.5h1M69 105.5h1M58.5 99h1M60 105h1M68 104.5h1M70.5 99.5h1M62.5 103.5h1M60.5 105.5h1M60 101.5h1M68.5 99.5h1M68 101h1M67.5 105.5h1M68 106h1M68 105h1M71 103h1M65.5 98.5h1M58 101h1M61 103h1M71 100h1M72 105.5h1M59.5 103h1M60 99h1M70.5 106h1M62.5 100.5h1M68.5 102.5h1M62 98.5h1M58 104.5h1M60 102.5h1M61 102h1M65 100h1M58 101.5h1M70.5 98.5h1M65.5 105.5h1M66.5 100.5h1M72.5 105h1M64.5 101.5h1M71 103.5h1M66 102.5h1M72 100.5h1M58.5 99h1M60.5 98h1M73.5 103h1M70.5 101.5h1M65.5 99.5h1M72 101.5h1M63.5 104.5h1M64.5 101.5h1M71 101.5h1M59.5 102h1M61.5 99.5h1M70 100.5h1M67 100h1M58 105h1M70 104.5h1M67 99h1M65 105.5h1M70 103h1M67.5 99h1M57 106h1M63 104.5h1M68.5 106h1M60.5 98.5h1M62 98h1M73.5 103h1M65 97.5h1M70 99h1M61 98.5h1M65.5 100h1M66.5 104.5h1M60 98.5h1M65.5 101h1M64 101h1M69 103.5h1M68.5 103.5h1M65 99h1M72.5 102.5h1M64 99.5h1M63.5 105.5h1M58 103.5h1M70.5 105.5h1M55.5 100.5h1M55 108.5h1M58 99.5h1M58 104.5h1" stroke="#00BA38" stroke-width="1" stroke-opacity="0.8" fill="none"/>
<path d="M43.5 86.5h1M45 91.5h1M41 93.5h1M46.5 89h1M42.5 93h1M44 86.5h1M44.5 90.5h1M47.5 93h1M45 86.5h1M44.5 93h1M47 87h1M42 88.5h1M43.5 88h1M47 89h1M44.5 90h1M46 92.5h1M43.5 87h1M47 94h1M43.5 88.5h1M45 87.5h1M47.5 94h1M42.5 95h1M42 88.5h1M44 95h1M43 93h1M46.5 89h1M45.5 95.5h1M40 89.5h1M45.5 93h1M40 93.5h1M46.5 94h1M49 85.5h1M43 87.5h1M42.5 94.5h1M42 92.5h1M47.5 87.5h1M46.5 93h1M45.5 90.5h1M45 93h1M41.5 91.5h1M48 87h1M45 87h1M47 86.5h1M41 91.5h1M45 88h1M47.5 88.5h1M45.5 86h1M46 91h1M49 86.5h1M49 86.5h1M45.5 87h1M45.5 94.5h1M48 86h1M44.5 91h1M46 90h1M47 90.5h1M43.5 88h1M45.5 88h1M41 92.5h1M44.5 95.5h1M45.5 93h1M47 85.5h1M43.5 91.5h1M48 88h1M45.5 86.5h1M49 86.5h1M45 94.5h1M47 94h1M41.5 84.5h1M42.5 85.5h1" stroke="#B79F00" stroke-width="1" stroke-opacity="0.8" fill="none"/>
<path d="M62 123h1M72.5 130.5h1M51.5 124h1M66 121.5h1M71 128h1M59.5 130h1M62 131h1M50 121h1M62 124h1M72.5 130.5h1M56 120.5h1M59 126.5h1M66.5 121h1M59 122h1M65 131h1M50.5 120h1M55.5 123h1M74.5 128h1M51.5 123.5h1M67.5 121.5h1M68.5 133h1M61.5 123.5h1M68.5 127h1M49.5 117.5h1M71 126.5h1M68 129h1M59.5 122h1M47 114h1M67 126h1M62.5 131h1M57 120h1M56.5 124.5h1M55.5 122h1M59.5 124h1M50.5 124.5h1M45.5 114h1M57 121.5h1M54 121.5h1M64 127.5h1M64 132.5h1M56.5 125h1M65 121h1M46 119h1M45.5 118h1M72 126.5h1M49.5 122.5h1M54.5 127h1M67 123h1M62.5 122h1M42.5 115.5h1M76 133.5h1M58 123h1M65.5 131.5h1M70 131h1M56 119h1M69 127h1M67.5 127h1M60 129h1M44 115h1M66 125.5h1M60 130h1M56 126.5h1M60.5 130.5h1M50.5 124h1M70.5 123h1M74.5 132.5h1M46 113.5h1M46 121h1M59.5 128h1M64.5 127h1M45.5 117h1M59.5 124h1M58.5 118.5h1M67.5 122h1M53.5 118h1M47 124h1M67 122.5h1M48.5 124.5h1M42 119h1M48 118.5h1M67.5 123h1M68.5 129.5h1M67 129h1M47 120h1M64.5 128.5h1M70.5 129h1M64.5 123.5h1M61 129h1M66 124.5h1M57.5 124.5h1M63.5 123.5h1M56 127h1M62 119.5h1M71.5 128h1M42 117h1M51 115h1M74 128h1M48 116h1M65 131.5h1M65 120h1M61 120h1M53.5 125h1M72.5 125h1M69.5 129.5h1M73 133.5h1M56 121h1M68 127h1M59.5 124h1M61 130.5h1M63 120h1M52.5 124.5h1M67 131.5h1M66 133h1M68 124h1M53.5 122.5h1M64.5 124h1M74 129h1M47 118h1M61.5 120.5h1M60.5 120h1M53.5 119.5h1M56.5 128h1M69.5 122.5h1M47.5 113.5h1M44.5 115.5h1M56 127h1M64.5 129.5h1M68.5 122.5h1M59 121h1M70 131h1M67 132.5h1M51 123h1M67 129h1M53.5 124h1M53 120h1M47.5 115h1M54 120.5h1M54.5 118h1M59.5 125h1M66.5 120.5h1M72 131.5h1M54.5 116h1M49 116h1M54.5 121h1M52 125h1M60.5 123.5h1M70.5 124h1M51 121.5h1M59 122.5h1M53.5 117.5h1M60.5 130h1M47 119.5h1M58 120.5h1M51 114.5h1M62 127.5h1M51 117h1M55.5 126.5h1M53.5 124h1M63 129h1M43 119.5h1M57.5 119.5h1M58 121h1M74 126h1M58.5 127.5h1M44.5 115h1M76 130.5h1M56.5 126h1M44.5 118h1M63 130h1M54 123h1M63 124h1M68.5 124.5h1M70 129h1M60.5 130.5h1M53.5 124h1M64 127h1M62 126h1M66.5 125h1M65.5 130.5h1M67 122.5h1M67 129h1M66 123h1M66 128.5h1M43.5 116.5h1M44 119h1M71 129.5h1M45.5 114h1M68 124.5h1M48 124h1M73.5 133.5h1M75 134h1M66 132.5h1M61.5 124h1M48.5 124h1M63.5 122.5h1M75.5 127h1M52.5 115h1M70.5 130.5h1M62 122h1M53 121.5h1M56.5 123.5h1M58 129h1M51 116.5h1M66.5 132.5h1M73.5 124.5h1M55.5 121h1M50 123.5h1M61.5 122.5h1M51 125h1M59.5 122.5h1M58 117.5h1M52 117h1M45 119h1M58.5 127.5h1M47 120.5h1M66.5 129h1M72 126.5h1M70.5 135h1M48.5 123h1M76 132.5h1M55.5 117.5h1M66.5 133h1M66.5 125.5h1M51 115.5h1M75 130h1M67.5 131h1M64 123.5h1M43.5 117h1M61 119h1M63.5 122h1M71.5 125h1M56 126.5h1M57.5 125.5h1M73 129h1M68 125.5h1M73 128h1M70.5 125.5h1M49.5 121.5h1M52.5 120h1M72 127.5h1M54.5 117h1M74 130.5h1M64.5 126h1M66 121h1M45.5 116.5h1M64 123.5h1M64 131h1M57.5 129h1M43.5 118h1M47 120h1M67 126.5h1M55.5 118h1M64.5 124.5h1M72 128.5h1M53 125h1M58.5 123.5h1M56 120h1M68 130.5h1M75 126.5h1M62.5 128h1M66 127.5h1M70 124.5h1M59 129h1M43 115.5h1M57.5 126h1M60 120h1M71 133.5h1M67 124.5h1M45 114.5h1M56.5 118.5h1M62.5 126.5h1M51 120h1M60 129.5h1M70.5 123.5h1M47.5 118h1M45 120h1M62.5 123.5h1M58.5 126.5h1M60 128h1M73.5 126.5h1M57 118.5h1M57 122h1M43.5 115.5h1M64.5 124.5h1M53.5 122h1M54.5 116h1M61.5 128h1M75 133.5h1M71 131h1M65.5 122.5h1M68.5 122.5h1M63.5 121h1M71.5 130h1M62.5 124h1M46.5 123.5h1M51 124.5h1M56.5 118.5h1M43 119.5h1M43 119.5h1M63 125.5h1M70.5 133.5h1M63 128h1M47 123.5h1M61.5 123.5h1M54.5 117h1M51.5 119h1M67.5 131h1M65 122.5h1M59 126h1M44 116.5h1M63.5 127h1M59 121h1M53 125h1M43.5 115.5h1M44 119h1M74.5 128h1M73 127.5h1M43 118h1M53.5 120.5h1M62 125h1M64.5 122.5h1M53.5 126h1M60.5 129h1M54.5 121.5h1M48 119h1M61.5 119.5h1M46.5 120h1M74 127h1M46 123h1M54 116.5h1M64 130.5h1M70 126.5h1M68 128h1M68 123h1M69 132h1M59 125.5h1M63.5 122h1M45.5 117h1M52 121h1M53 117.5h1M55 126.5h1M64.5 120h1M56.5 125.5h1M49.5 118.5h1M61 119.5h1M51.5 125.5h1M65 120h1M67 121.5h1M60.5 122.5h1M64 122.5h1M62.5 126.5h1M55.5 119.5h1M56 126h1M49 119.5h1M48.5 119h1M53 122h1M50.5 114.5h1M69 126h1M47 122h1M44.5 120h1M53.5 121.5h1M55 119.5h1M60 124.5h1M46 115.5h1M49.5 117.5h1M74 133h1M45.5 119.5h1M72.5 131.5h1M55 125.5h1M71 133.5h1M46.5 123h1M66 129h1M44.5 122h1M72.5 132.5h1M51.5 122.5h1M55.5 125h1M58 123h1M66.5 123.5h1M76 133h1M48 120.5h1M52.5 126h1M48.5 113.5h1M71 132h1M71.5 134.5h1M43.5 122h1M74 132.5h1M56 118.5h1M57 121h1M66.5 127.5h1M67 125h1M71 134.5h1M42.5 119h1M63.5 124.5h1M72.5 126h1M60.5 122h1M69.5 130h1M65.5 123.5h1M67.5 123h1M61.5 120.5h1M44 115.5h1M72.5 126h1M49 121.5h1M55.5 125.5h1M72.5 133h1M54 116.5h1M62 123h1M70.5 123h1M64 128h1M47 114h1M52.5 121h1M62.5 128h1M59.5 122h1M61.5 128.5h1M61 128h1M63 121.5h1M47.5 120h1M72.5 131.5h1M61 125h1M62.5 129h1M45 122h1M57.5 123.5h1M52 125.5h1M65.5 119h1M47 114.5h1M43.5 118.5h1M57.5 118.5h1M67.5 118.5h1M62 130.5h1M63 133h1M56 115.5h1M43.5 114h1M73.5 131.5h1M52 127.5h1M62.5 130h1M59 118h1M76.5 124h1M77.5 134.5h1" stroke="#00BFC4" stroke-width="1" stroke-opacity="0.8" fill="none"/>
<path d="M139 55.5h1M135 54.5h1M140.5 57.5h1M136.5 54.5h1M140.5 58h1M137.5 57h1M136.5 54.5h1M135 55.5h1M138.5 58h1M133 55h1M137.5 55h1M133.5 56h1M138 59h1M135.5 54.5h1M137.5 52h1M135 58.5h1M139 56h1M140.5 54h1M134 54h1M139.5 57.5h1M136 51.5h1M139.5 55h1M134.5 58h1M135 53h1M133.5 56.5h1M136.5 57.5h1M136.5 56.5h1M134.5 53h1M138.5 53.5h1M133.5 58h1M134.5 58.5h1M136.5 59h1M136 53.5h1M136 53.5h1M133.5 57h1M140.5 54.5h1M137.5 57.5h1M136 58h1M134 53.5h1M139 58.5h1M134 53h1M136 54.5h1M134.5 54.5h1M135.5 60h1M138.5 52.5h1M135.5 53.5h1M140.5 57h1M137 57h1M135 58.5h1M137 57.5h1M136.5 58h1M134 59h1M138 55h1M139 55h1M140 53h1M137.5 54.5h1M137.5 55.5h1M132.5 55h1M136 52.5h1M139 57h1M139 53h1M138 58.5h1M140 54.5h1M136.5 60.5h1M135.5 58h1M136.5 56.5h1M137 53h1M132.5 57h1M134 59.5h1M133.5 54h1M135.5 58.5h1M139 55h1M136.5 55.5h1M135.5 54h1M134.5 59.5h1M132 55h1M134.5 55h1M137.5 56h1M138.5 53.5h1M135.5 58h1M138 53h1M137.5 52h1M138.5 59h1M136 57h1M135 52.5h1M136 54.5h1M134 58h1M138 52h1M132 56.5h1M141 56h1M138 58.5h1M136.5 52.5h1M139.5 58h1M132 55h1M139 58h1M139.5 55.5h1" stroke="#00C08B" stroke-width="1" stroke-opacity="0.8" fill="none"/>
<path d="M132 80h1M129.5 76.5h1M132.5 75.5h1M129.5 79h1M130.5 83.5h1M132 80.5h1M137 80.5h1M132 76.5h1M129 82.5h1M132 79h1M133.5 80h1M131.5 77.5h1M134.5 79.5h1M129.5 75h1M137 80.5h1M132 75.5h1M130 84h1M138 79h1M130 85h1M135 79.5h1M131.5 75.5h1M131.5 81.5h1M131 77h1M138 78.5h1M138 78.5h1M131 74.5h1M137 80h1M129.5 81h1M133 81h1M137 78.5h1M137 80h1M131.5 81.5h1M136 81h1M138.5 80h1M133 77.5h1M129.5 78.5h1M130 83h1M133.5 81h1M131.5 78.5h1M131.5 81.5h1M132.5 82h1M131 83h1M134.5 80.5h1M133 77h1M137 81h1M131.5 78.5h1M134.5 80h1M135.5 82h1M130.5 85h1M131 74.5h1M129 78.5h1M135.5 79h1M132 77.5h1M131.5 81.5h1M131.5 77.5h1M128.5 80h1M130 80h1" stroke="#00B4F0" stroke-width="1" stroke-opacity="0.8" fill="none"/>
<path d="M50 198h1M51.5 199h1M62.5 195.5h1M35.5 205.5h1M46.5 195.5h1M38 205.5h1M57.5 195.5h1M63.5 196h1M51.5 201h1M61 195h1M43 205h1M29.5 218.5h1M35 212h1M35.5 213h1M57.5 191h1M46.5 204h1M34.5 210.5h1M57 186h1M50.5 200.5h1M31 219.5h1M61 194.5h1M56 200h1M31.5 218h1M32 215h1M31 215.5h1M49.5 193.5h1M65.5 189h1M44 203h1M44.5 197.5h1M32 214.5h1M47.5 203h1M30.5 214.5h1M54.5 187.5h1M58 194h1M49 201.5h1M66.5 190h1M46.5 196h1M64.5 195.5h1M43.5 199h1M32.5 214.5h1M49 192h1M57 187h1M57.5 201h1M47.5 197h1M44.5 201h1M67 194h1M54 196h1M45 194h1M48.5 192.5h1M67 196h1M48 192h1M65.5 196.5h1M55 198.5h1M59 186.5h1M39 210.5h1M52.5 196.5h1M59.5 188h1M56.5 201h1M58 192h1M39 212.5h1M54.5 192.5h1M44.5 204.5h1M35 209.5h1M45 195h1M41 205h1M57.5 192.5h1M47 191h1M60 193h1M49 198.5h1M62 189.5h1M53.5 196h1M46.5 200.5h1M47 191.5h1M48.5 198.5h1M48.5 196.5h1M35 218h1M54 198h1M53.5 199h1M46 191.5h1M58 187h1M34 218h1M44.5 194.5h1M54 200.5h1M44.5 193.5h1M61 191.5h1M58 201h1M50.5 200.5h1M39 207.5h1M63.5 196.5h1M51 196h1M37 207h1M31 215.5h1M40 210.5h1M50 193h1M63 188.5h1M44.5 199h1M32.5 219h1M57.5 200.5h1M54 201h1M41 207h1M53.5 194h1M45.5 201h1M53 199.5h1M42.5 194.5h1M44 192.5h1M42.5 207.5h1M47 195.5h1M61.5 197.5h1M43.5 194h1M54.5 198h1M34 214.5h1M54.5 194h1M38 212.5h1M35 216.5h1M47 190.5h1M48 202.5h1M43.5 200h1M41.5 196.5h1M55.5 192.5h1M55 201h1M33.5 219h1M57.5 192h1M43 205.5h1M34.5 213h1M53.5 200h1M51 195.5h1M30 214.5h1M51.5 195h1M36.5 211.5h1M38.5 211.5h1M43 205h1M39 205h1M55.5 195.5h1M47.5 191h1M30 217.5h1M32.5 217.5h1M46.5 197h1M33 219.5h1M57.5 195.5h1M66.5 186h1M40 213h1M46 192h1M36.5 204h1M71 198.5h1M64.5 182.5h1M63.5 184h1M76 190.5h1M77.5 204h1M73.5 184h1M72.5 173.5h1M80 194h1M80.5 177.5h1M60 179.5h1M76 201h1M78 202.5h1M60 179.5h1M69.5 191.5h1M70 197h1M74 192.5h1M85.5 190h1M64 187.5h1M77.5 190.5h1M80 193.5h1M58.5 181h1M80.5 182h1M84.5 184.5h1M73 182h1M86 185.5h1M78 200h1M76 188h1M77.5 176.5h1M77.5 200.5h1M80.5 187h1M82 189.5h1M62 182h1M72 187h1M76.5 195h1M75 178h1M76 173.5h1M77.5 174.5h1M69.5 176.5h1M72 170.5h1M84 180h1M66 189.5h1M86.5 187h1M79.5 181h1M79.5 178.5h1M72 198h1M67 182.5h1M78 193.5h1M61.5 182.5h1M68.5 193h1M68 177.5h1M70 196h1M76.5 184h1M71.5 177h1M75.5 200h1M72.5 174h1M79 183h1M77.5 190h1M71.5 189h1M72.5 185h1M75.5 172h1M74 184.5h1M73 192.5h1M79.5 194.5h1M68 178h1M70.5 178.5h1M76.5 176h1M77.5 195.5h1M64 186h1M73.5 195h1M74 200.5h1M77.5 199h1M72.5 200h1M71 194.5h1M60 183h1M76 184h1M78.5 204.5h1M71 173.5h1M79 182h1M64.5 188h1M72 199.5h1M68 182h1M67 191.5h1M64.5 182h1M81 187h1M82.5 191h1M80 179h1M72 170h1M76 193h1M75 200.5h1M70.5 177.5h1M86 188h1M76 177h1M67.5 187h1M64 178h1M83.5 191.5h1M61.5 183h1M68 190.5h1M75 174h1M63 185h1M74.5 172.5h1M78.5 181.5h1M78.5 194h1M61.5 176.5h1M79 178.5h1M74.5 193.5h1M75 180h1M68 186.5h1M82.5 181h1M73.5 197h1M76 177.5h1M82 190.5h1M58 181h1M72 191.5h1M66.5 184.5h1M82.5 182h1M68 181.5h1M77.5 201h1M74.5 177.5h1M76 199.5h1M71.5 170h1M76.5 193h1M73 179h1M76 184h1M73.5 176.5h1M80.5 178.5h1M75.5 196.5h1M73 182h1M78.5 185.5h1M69 177h1M77.5 182h1M64 183h1M78.5 178h1M68 181h1M70 179.5h1M83.5 187.5h1M70.5 185h1M78 199h1M80 186h1M76.5 193.5h1M69 181.5h1M84 190.5h1M75 190.5h1M78 196h1M76 189h1M65 181h1M79.5 179h1M70 189h1M68.5 174.5h1M79 184h1M74 194.5h1M71 190.5h1M71.5 193h1M73.5 183h1M83.5 182h1M75 190h1M80 182.5h1M68 194h1M70 184h1M78.5 183h1M68 193.5h1M73 180h1M77 179h1M66 185.5h1M77 192h1M73 199h1M73.5 203h1M65 179h1M70.5 188.5h1M72 172h1M70 191.5h1M76 205.5h1M83 190.5h1M70.5 183.5h1M69 174h1M66 181h1M74.5 169.5h1M74 197h1M69.5 170.5h1M73 172h1M66 183.5h1M66.5 178h1M68.5 185h1M73.5 180h1M77 203.5h1M77 195.5h1M78.5 193.5h1M64 185.5h1M63 176.5h1M69.5 196h1M79 196.5h1M62 177h1M79 197h1M81.5 189h1M78.5 188h1M71 176.5h1M78.5 185.5h1M79 180.5h1M62 179.5h1M77 195h1M62.5 181.5h1M68 193.5h1M73 171.5h1M84.5 190.5h1M66 175.5h1M67.5 187h1M69.5 195h1M79.5 182.5h1M82.5 180h1M64.5 174.5h1M65.5 189h1M67 178h1M74.5 170.5h1M65.5 189.5h1M79 189h1M81 195h1M70 192h1M80.5 188h1M59.5 181.5h1M80 191h1M62.5 180.5h1M75.5 171h1M77 205h1M74.5 199h1M72 178.5h1M78 180h1M81 194.5h1M62 183.5h1M76.5 204h1M76 171.5h1M74 201.5h1M74.5 203.5h1M77 183.5h1M67.5 183h1M77.5 198.5h1M70 180h1M66 174.5h1M84 184h1M73.5 178h1M69 181.5h1M66.5 181h1M74 193.5h1M79.5 194h1M65 184.5h1M72.5 181h1M65 180h1M77 187.5h1M61 183h1M69.5 172h1M72 170.5h1M73 202.5h1M59 180.5h1M84.5 191h1M77.5 182.5h1M71.5 173h1M85 192h1M72.5 184h1M73.5 193.5h1M82.5 184h1M59.5 183.5h1M79 183.5h1M78 180.5h1M75.5 182.5h1M75.5 200h1M69 187.5h1M79.5 184.5h1M68.5 179.5h1M76.5 201.5h1M75.5 188h1M66.5 182.5h1M74.5 202h1M73 173.5h1M71 197.5h1M70.5 187.5h1M75 170h1M73.5 186.5h1M81 205h1M86 188.5h1M56 179.5h1M72 204h1M67.5 198.5h1M63.5 178h1M79.5 204h1M65 191.5h1M74 168h1M47.5 219.5h1M44 218.5h1M53 218h1M55 218h1M53 218.5h1M43.5 216h1M54 215.5h1M48.5 216h1M44 215h1M53.5 213h1M55 214h1M46.5 220h1M45.5 219.5h1M51.5 215h1M45 214.5h1M54.5 212.5h1M49.5 212h1M47 217h1M46.5 212.5h1M54 212h1M49.5 219.5h1M44 215h1M50 216h1M51 218h1M52 213.5h1M49 220h1M49.5 221h1M47 219.5h1M48 220.5h1M56.5 216h1M54.5 215h1M50 215.5h1M48 216.5h1M53.5 218h1M52 219h1M44 215.5h1M53 219h1M52 215.5h1M55 220h1M44.5 213.5h1M46 216h1M44 214.5h1M57 213.5h1M48 216h1M44 216h1M55 215.5h1M52.5 219.5h1M50 219h1M54 215.5h1M52.5 220h1M48 222h1M46 220h1M63.5 204.5h1M63.5 199h1M69.5 213h1M67.5 212.5h1M68.5 202h1M67 205h1M65.5 204h1M69 214.5h1M70 212.5h1M65.5 206.5h1M62.5 199h1M63 197.5h1M68.5 201.5h1M67.5 201h1M68.5 217h1M69.5 207h1M66 199h1M65.5 207h1M67 201.5h1M63.5 204.5h1M68.5 201.5h1M68.5 200.5h1M69.5 208.5h1M62 197.5h1M69.5 217h1M64 207.5h1M64.5 199h1M67.5 212.5h1M65 200.5h1M67.5 212h1M70 206h1M68.5 211h1M62 201h1M64 204.5h1M64 204.5h1M66 197h1M64.5 203h1M65.5 211h1M60 202.5h1M90 168h1M93 169.5h1M82.5 167.5h1M88.5 168.5h1M88.5 171.5h1M90.5 171.5h1M91 162h1M87 168h1M86.5 165.5h1M89 166.5h1M94 166h1M87.5 163.5h1M88.5 168.5h1M86 160.5h1M85.5 169.5h1M90 163.5h1M90.5 168.5h1M86 167.5h1M93.5 164h1M93 162.5h1M89.5 171h1M83.5 163.5h1M94 168h1M92.5 163h1M85 163h1M86 160.5h1M84.5 163h1M88.5 161h1M89 161h1M83.5 164.5h1M86 165.5h1M94 165.5h1M86.5 169.5h1M88 171.5h1M90.5 162h1M86 168.5h1M87.5 162h1M90.5 169.5h1M85 161h1M85.5 161h1M90.5 166h1M86.5 168.5h1M88.5 162h1M89 172.5h1M85 161h1M89.5 169h1M88.5 165h1M87.5 166.5h1M86.5 161h1M89 161.5h1M91 170.5h1M86.5 159.5h1M81.5 164h1M82.5 171h1M82.5 169h1M82.5 168.5h1M80.5 166h1M81 165h1M83.5 164.5h1M78.5 165.5h1M92.5 208h1M89 210h1M95.5 204h1M90 224h1M110 219.5h1M109 220h1M117 201h1M102 207h1M99.5 209h1M119 205h1M115.5 207h1M99.5 208h1M107 202h1M94.5 219.5h1M108.5 199.5h1M107.5 203.5h1M122 201h1M94 218h1M107.5 212.5h1M93.5 208.5h1M96 228.5h1M89.5 217h1M112 213h1M125.5 198.5h1M103 212h1M95.5 205.5h1M108 214.5h1M94.5 226h1M124 206.5h1M110 219h1M100 208.5h1M101 200h1M111.5 202.5h1M109.5 197.5h1M108 198.5h1M101.5 217h1M106 201h1M99.5 225.5h1M109.5 196h1M113 202.5h1M118 213h1M99.5 225.5h1M116.5 203h1M113.5 201h1M112 210.5h1M116 210.5h1M114 227.5h1M95 221.5h1M122.5 211h1M88 221h1M95.5 225h1M115.5 203.5h1M111 225h1M87.5 215.5h1M104 209.5h1M102.5 226h1M115 215h1M96.5 211.5h1M111.5 198h1M105 221.5h1M120 194h1M113 196.5h1M97.5 204.5h1M103 209.5h1M118 211h1M121 208.5h1M100.5 215h1M90.5 214.5h1M118.5 211h1M112.5 221.5h1M110 218.5h1M110.5 203.5h1M103.5 204h1M99.5 201h1M109.5 225.5h1M99.5 223h1M103.5 209h1M100 229h1M112.5 194.5h1M122.5 196h1M85 211h1M103.5 197.5h1M117.5 208.5h1M123.5 208.5h1M107 227h1M111.5 215.5h1M99.5 203h1M121 203h1M91 225h1M108 200h1M108 199.5h1M100.5 221h1M83.5 218.5h1M124 207.5h1M99 207h1M118.5 201.5h1M120.5 202.5h1M116 211h1M116.5 226h1M105.5 200.5h1M99.5 207h1M106.5 212.5h1M124.5 207h1M86 214h1M106 223.5h1M122.5 207h1M109.5 219h1M100 210.5h1M84 217h1M111 228h1M100 224h1M108.5 199h1M98.5 230.5h1M98.5 226.5h1M109.5 212.5h1M99 226h1M118.5 215.5h1M104.5 207h1M116.5 216h1M84.5 216h1M120.5 219h1M90.5 215.5h1M94.5 214h1M122 215h1M108.5 211h1M120.5 194h1M116 193h1M104 216.5h1M124 202h1M103 207.5h1M103 197.5h1M117.5 225h1M117 201h1M109 225.5h1M121 201.5h1M115.5 211h1M117.5 198h1M83 219h1M90.5 224h1M92.5 203h1M114 200.5h1M119.5 202h1M125.5 211.5h1M97 226h1M84.5 217.5h1M110 204.5h1M103 203.5h1M122.5 211h1M124.5 197.5h1M122.5 218h1M96.5 225.5h1M113.5 195.5h1M125.5 208.5h1M107 214h1M121 201.5h1M115.5 209.5h1M104 213.5h1M110.5 220h1M97 229.5h1M82 214.5h1M110 201h1M108.5 203h1M117.5 210h1M112.5 206h1M117 216h1M109.5 208h1M105.5 199.5h1M104 218h1M90 220.5h1M95.5 223h1M125.5 207h1M104.5 207.5h1M105 222.5h1M115.5 200.5h1M110.5 200h1M113.5 200h1M93.5 205.5h1M87 221.5h1M99 228.5h1M93 213h1M115.5 221.5h1M95 229h1M116 214.5h1M107.5 195.5h1M118.5 206h1M87.5 221h1M104 199h1M116.5 195.5h1M115 211h1M97.5 231h1M107 196h1M101 225h1M93 214h1M124 195h1M112 221.5h1M107 225h1M121.5 219h1M106.5 197h1M85.5 212.5h1M120.5 209h1M122.5 211.5h1M120.5 220h1M93 221.5h1M107 223.5h1M125 196.5h1M122.5 218h1M102 222.5h1M106 197h1M125 195.5h1M97.5 210h1M112 224.5h1M101 207.5h1M84 216h1M113.5 196.5h1M89.5 205.5h1M87.5 221h1M124 205h1M109 205.5h1M105.5 198.5h1M121.5 213h1M92 223.5h1M99 229.5h1M97 203h1M96 220.5h1M105 205h1M92 206h1M112 228h1M109.5 196.5h1M99.5 229.5h1M103 211h1M85.5 216.5h1M110 204.5h1M97 214h1M116.5 227.5h1M115 220h1M96.5 205.5h1M100.5 225h1M120.5 206h1M111.5 208h1M116.5 204h1M117 213.5h1M98 214.5h1M117 220h1M104 223h1M116 219.5h1M93 221.5h1M96 227.5h1M105.5 224.5h1M118 207h1M82.5 215h1M105 210h1M107 204h1M113.5 220h1M112.5 211h1M91.5 222h1M95.5 216h1M95 229h1M94.5 204h1M106 230h1M91 225.5h1M90 220.5h1M104 203h1M113.5 219h1M118.5 208.5h1M122.5 209.5h1M112.5 197h1M91 224.5h1M111.5 196h1M116.5 199h1M100 229h1M110.5 207h1M105 228.5h1M123 209.5h1M109.5 227h1M125.5 194.5h1M108.5 200h1M91.5 223.5h1M108.5 204.5h1M95 206h1M118.5 225.5h1M103 201.5h1M114.5 201h1M94 205.5h1M115 205.5h1M98.5 222h1M113.5 217h1M118 217h1M97.5 202.5h1M108.5 230h1M106.5 224h1M96 205h1M121.5 210.5h1M102.5 214.5h1M108.5 217h1M97 230h1M110.5 201h1M116.5 199h1M103.5 226.5h1M107 213.5h1M105.5 216.5h1M123.5 208h1M115 213.5h1M112.5 218h1M115 200.5h1M89.5 223.5h1M102 209h1M101 213.5h1M87 210h1M104 207.5h1M92 206h1M97.5 207.5h1M118 205.5h1M104 215.5h1M96.5 218h1M125 196.5h1M116 221h1M121 206.5h1M117.5 211h1M106 227h1M86 211.5h1M113 212.5h1M124 216h1M113 213.5h1M93.5 226h1M91 222h1M103 231h1M121 210h1M107.5 195.5h1M122.5 201h1M112.5 193h1M103 213.5h1M83.5 215.5h1M115 211h1M85 216.5h1M121 214.5h1M107.5 217h1M115.5 213h1M116.5 214h1M105.5 226.5h1M96 209.5h1M106 232h1M109 199h1M104 201h1M115 212h1M111 205.5h1M116 219.5h1M106 229.5h1M103 211h1M109.5 212h1M121.5 214h1M86.5 220.5h1M109.5 224.5h1M117 205.5h1M124 217h1M106 199h1M110 218h1M121.5 223h1M104.5 230h1M112 199h1M112.5 210.5h1M112.5 201h1M86.5 211.5h1M91.5 223h1M111.5 197h1M93.5 226.5h1M122 218.5h1M92 224.5h1M114.5 226h1M120 219.5h1M102 214h1M120.5 194.5h1M102.5 231h1M124 218h1M97 209h1M125 199.5h1M94 227h1M101.5 197.5h1M85.5 212.5h1M116.5 209.5h1M98.5 222.5h1M98 213h1M105 206h1M99.5 204.5h1M104 203h1M110.5 208.5h1M112.5 203.5h1M100.5 214.5h1M113 218.5h1M110 205.5h1M106 202h1M117 219.5h1M110 209.5h1M123.5 207h1M109 195.5h1M103 202h1M120 217h1M104.5 203h1M106 227.5h1M92 225.5h1M88.5 218h1M105 205h1M103.5 225h1M93.5 224.5h1M112.5 212h1M84 211h1M123.5 207.5h1M105 209h1M120.5 215.5h1M95 203.5h1M118.5 207h1M107.5 214.5h1M113.5 198.5h1M124 211.5h1M118.5 211h1M82.5 215.5h1M89 220.5h1M87 220h1M111 208h1M115 216h1M95 225.5h1M117 210.5h1M97.5 224h1M110 214h1M120 193h1M105 230.5h1M103 214h1M100.5 208.5h1M111.5 196.5h1M111.5 229.5h1M83 213.5h1M119.5 199.5h1M113 210h1M93 227h1M124 200h1M90 216h1M105 204.5h1M112 225h1M114 223h1M92 217h1M104 219h1M95 222h1M102 231h1M108 205h1M115 215h1M118 195.5h1M119 212.5h1M108.5 201.5h1M113 215.5h1M108.5 214h1M112.5 205h1M101.5 211h1M106.5 202.5h1M121 206.5h1M120.5 222h1M124.5 216.5h1M90 222h1M90.5 229.5h1M111.5 194h1M108.5 230.5h1M124.5 216.5h1M128.5 195h1M94 201.5h1M99.5 230h1M97 231h1M95.5 200h1M117 229.5h1M128 201.5h1M127.5 213h1M124.5 217.5h1M99.5 234h1M101.5 199h1M91 223.5h1M110 172.5h1M111.5 171h1M114 172h1M111 174h1M110.5 173.5h1M112.5 172h1M97.5 184h1M95.5 184.5h1M97.5 184h1M96 186.5h1M97.5 185.5h1M96 183h1M93 186h1M107 243h1M116 232.5h1M102.5 241h1M103.5 235h1M109 229h1M117 232h1M105.5 239h1M111.5 240.5h1M121 232h1M106.5 241h1M115 237.5h1M100 240.5h1M116 237h1M115.5 240h1M120.5 234.5h1M118 237h1M111 231h1M102 234h1M98.5 240h1M113.5 236.5h1M106 228.5h1M107 242h1M107.5 248.5h1M106 239h1M119 230h1M112.5 236.5h1M107.5 236.5h1M121.5 232h1M108.5 240.5h1M105 246.5h1M108 237h1M115.5 234h1M106.5 238.5h1M103.5 237h1M99 235.5h1M112 233h1M107.5 240h1M120 229.5h1M120.5 230h1M99 232.5h1M117 236h1M112 247h1M101.5 235.5h1M109.5 244.5h1M100.5 241.5h1M105 232h1M104.5 243h1M108 229.5h1M116 238.5h1M109.5 246.5h1M118 239.5h1M108 239.5h1M102 242h1M103 234h1M107 238.5h1M112 241h1M109 246.5h1M118.5 237h1M107.5 241.5h1M108 246h1M104 239h1M106.5 239.5h1M107.5 235.5h1M119.5 236h1M121 236h1M106 239.5h1M117 239h1M107.5 248h1M109.5 245h1M98 236.5h1M106.5 241h1M114 241.5h1M105 230.5h1M105 232.5h1M98 240.5h1M118.5 239.5h1M109.5 232h1M114.5 245.5h1M108 244h1M101 238.5h1M115.5 231.5h1M116 236h1M115.5 242.5h1M108 248h1M116 231.5h1M120 231h1M116.5 242.5h1M110.5 234h1M114.5 241.5h1M121 236h1M101.5 238.5h1M105 245.5h1M103.5 243h1M104.5 236.5h1M109.5 233.5h1M98 237.5h1M115 233.5h1M105.5 232h1M111.5 247h1M118.5 237h1M109 246.5h1M105 237.5h1M111.5 241.5h1M106 241h1M108.5 245.5h1M111.5 243.5h1M110.5 248.5h1M119.5 236.5h1M106.5 237h1M116.5 238.5h1M121.5 233h1M116 234h1M112.5 244.5h1M111 233h1M116.5 232h1M99.5 233h1M113.5 236.5h1M107 240.5h1M101 241h1M114 233h1M103 243.5h1M115 244h1M102.5 233h1M103.5 243.5h1M108 243h1M104 238h1M107 239.5h1M105 249.5h1M82.5 233.5h1M78 230.5h1M82 235.5h1M79.5 234.5h1M78.5 230h1M87.5 225h1M85 223.5h1M80 236.5h1M84.5 226h1M82.5 225h1M75.5 225.5h1M80 233.5h1M88.5 225h1M85.5 239h1M83 221h1M80 231h1M86 232.5h1M90 227.5h1M85.5 224h1M78 234.5h1M81.5 238.5h1M83 231.5h1M88 223h1M79 237.5h1M88 222h1M83 227h1M83 228h1M89.5 226.5h1M81 233h1M81.5 226.5h1M82.5 227h1M81.5 235.5h1M86 227.5h1M81.5 236.5h1M83 229.5h1M81 236h1M87.5 225h1M83.5 239h1M76 229h1M81.5 237.5h1M85.5 232h1M82 226h1M78.5 228.5h1M83.5 230.5h1M85 227h1M81.5 233.5h1M78 222h1M85 226h1M80.5 227.5h1M79 233h1M85 239.5h1M82 232.5h1M75 227.5h1M80 232.5h1M85.5 240h1M86.5 225h1M79 231h1M87 229h1M88.5 227h1M90.5 225h1M81.5 230.5h1M80.5 223h1M82 234.5h1M78 233.5h1M84.5 229h1M86 221.5h1M85.5 237h1M86.5 220h1M66.5 244.5h1M69 243.5h1M76 246h1M77 248.5h1M78 241h1M68 244h1M74.5 245h1M77 246h1M68.5 248.5h1M69.5 246.5h1M77 248.5h1M67.5 245h1M65 242.5h1M68.5 248.5h1M68 243h1M75 241h1M74 241.5h1M66 242h1M70.5 249.5h1M70.5 246h1M69 247h1M69.5 244h1M67 241.5h1M70.5 246h1M68 244h1M66.5 243.5h1M79 242.5h1M67.5 245.5h1M68 241.5h1M79 248.5h1M66.5 247h1M68.5 240.5h1M71.5 247h1M68 244.5h1M75.5 242.5h1M73.5 248h1M72.5 242h1M64 243h1M66.5 247h1M52.5 229h1M53 233h1M53 232.5h1M54.5 235h1M55 236.5h1M50.5 231h1M55 231.5h1M48 232h1M55 236.5h1M56 230h1M53.5 235.5h1M53.5 229.5h1M49 234h1M57.5 229h1M53.5 237h1M53 233.5h1M55 233h1M52.5 238h1M53.5 235.5h1M55.5 228h1M56.5 230.5h1M54 229h1M53 237h1M70 265.5h1M80.5 273h1M59.5 266.5h1M74.5 264h1M79.5 270.5h1M68 272.5h1M70 273.5h1M70 266.5h1M80.5 273h1M64 263h1M67 264.5h1M58.5 262.5h1M63.5 265.5h1M82.5 270.5h1M76 264h1M77 275.5h1M70 266h1M79.5 269h1M76.5 271.5h1M67.5 264.5h1M55 256.5h1M75 268.5h1M70.5 273.5h1M65 267h1M64 264.5h1M68 266.5h1M59 267h1M62.5 264h1M72 270h1M64.5 267.5h1M73 263.5h1M54 260.5h1M75 265.5h1M71 264.5h1M84.5 276h1M74 274h1M78 273.5h1M64.5 261.5h1M76 269.5h1M68 271.5h1M52.5 257.5h1M74.5 268h1M68.5 272.5h1M69 273h1M54.5 256h1M54 263.5h1M68 270.5h1M73 269.5h1M54 259.5h1M68 266.5h1M76 264.5h1M55.5 266.5h1M75.5 265h1M56.5 261h1M76 265.5h1M55.5 262.5h1M78.5 271.5h1M73 266h1M69.5 271.5h1M74 267h1M66 267h1M72 266h1M64.5 269.5h1M70.5 262h1M80 270.5h1M50.5 259.5h1M59 257.5h1M82.5 270.5h1M56 258.5h1M73.5 274h1M73 262.5h1M69 262.5h1M61.5 267.5h1M80.5 267.5h1M77.5 272h1M81 276h1M64.5 263.5h1M76.5 269.5h1M67.5 266.5h1M60.5 267h1M75 274h1M61.5 265h1M72.5 266.5h1M82 271.5h1M55 260.5h1M70 263h1M69 262.5h1M62 262h1M65 270.5h1M78 265h1M56 256h1M52.5 258h1M73 272h1M76.5 265h1M67 263.5h1M78 273.5h1M75.5 275h1M61.5 266.5h1M61.5 262.5h1M56 257.5h1M62.5 263h1M63 260.5h1M74.5 263h1M80.5 274h1M62.5 258.5h1M69 266h1M78.5 266.5h1M67.5 265h1M61.5 260h1M69 272.5h1M55 262h1M66 263h1M59 257h1M70 270h1M59.5 259.5h1M62 266.5h1M71.5 271.5h1M51 262h1M65.5 262h1M66 263.5h1M66.5 270h1M84 273h1M64.5 268.5h1M52.5 260.5h1M71 272.5h1M62.5 265.5h1M71.5 266.5h1M77 267h1M78.5 271.5h1M69 273h1M72 269.5h1M70.5 268.5h1M74.5 267.5h1M75.5 265h1M75.5 271.5h1M74 265.5h1M74.5 271h1M52.5 261.5h1M76.5 267h1M56.5 266.5h1M81.5 276h1M83 276.5h1M74 275h1M69.5 266.5h1M72 265h1M61 257.5h1M70 264.5h1M61.5 264h1M65 266h1M66.5 271.5h1M59 259h1M75 275h1M63.5 263.5h1M58 266h1M59 267.5h1M67.5 265h1M66 260h1M60 259.5h1M53 261.5h1M67 270h1M55.5 263h1M75 271.5h1M80.5 269h1M57 265.5h1M63.5 260h1M74.5 275.5h1M76 273.5h1M72 266h1M52 259.5h1M69 261.5h1M71.5 264.5h1M80 267.5h1M64.5 269h1M66 268h1M76.5 268h1M81 270.5h1M78.5 268h1M58 264h1M61 262.5h1M63 259.5h1M82 273h1M72.5 268.5h1M74.5 263.5h1M72.5 266h1M72 273.5h1M52 260.5h1M55.5 262.5h1M75.5 269h1M72.5 267h1M80.5 271h1M67 266h1M76 273h1M83.5 269h1M74 270h1M78.5 267h1M67 271.5h1M51.5 258h1M79.5 276h1M75.5 267h1M53.5 257h1M64.5 261h1M70.5 269h1M68.5 272h1M79 266h1M55.5 260.5h1M53.5 262.5h1M70.5 266h1M66.5 269h1M68.5 270.5h1M65.5 261h1M65.5 264.5h1M73 267h1M62 264.5h1M70 270.5h1M83.5 276h1M77 265h1M71.5 263.5h1M79.5 272.5h1M55 266h1M59.5 267h1M64.5 261h1M51 262h1M71 268h1M78.5 276h1M71 270.5h1M70 266h1M76 273.5h1M73.5 265h1M67 268.5h1M71.5 269.5h1M67.5 263.5h1M61 267.5h1M51.5 260.5h1M70.5 267.5h1M73 265h1M69 271.5h1M63 264h1M56.5 261.5h1M55 262.5h1M54.5 265.5h1M62.5 259h1M78 269h1M76.5 265.5h1M77.5 274.5h1M71.5 264.5h1M53.5 259.5h1M60 263.5h1M61 260h1M63.5 269h1M73 262.5h1M58 261h1M75 264h1M72.5 265h1M63.5 262h1M64.5 268.5h1M57 262h1M57 261.5h1M59 257h1M77.5 268.5h1M52.5 262.5h1M62 264h1M63 262h1M68 267h1M54 258h1M57.5 260h1M82.5 275.5h1M54 262h1M81 274h1M63.5 268h1M54.5 265.5h1M53 264.5h1M66.5 265.5h1M75 266h1M84 275.5h1M60.5 268.5h1M79.5 274.5h1M52 264.5h1M75 270h1M75.5 267.5h1M79.5 277h1M51 261.5h1M71.5 267h1M80.5 268.5h1M77.5 272.5h1M73.5 266h1M76 265.5h1M69.5 263h1M81 268.5h1M57.5 264h1M64 268h1M80.5 275.5h1M62.5 259h1M70.5 265.5h1M79 265.5h1M72.5 270.5h1M55.5 256.5h1M70.5 270.5h1M68 264.5h1M70 271h1M69.5 270.5h1M69.5 267.5h1M70.5 271.5h1M53.5 264.5h1M66 266h1M65.5 261h1M70 273h1M71 275.5h1M64.5 258h1M51.5 256.5h1M60.5 270h1M67.5 260.5h1M84.5 266.5h1M147 198h1M143.5 197h1M148.5 200h1M145 197h1M149 200.5h1M146 199.5h1M145 197h1M143 198h1M147 200.5h1M141.5 197.5h1M146.5 201.5h1M144 197h1M147 198.5h1M148.5 196.5h1M148 200h1M148 197.5h1M143 200.5h1M143 195.5h1M141.5 199h1M145 200h1M145 199h1M143 195.5h1M147 196h1M142.5 201h1M144.5 196h1M144.5 196h1M149 197h1M146 200h1M147 201h1M142 195.5h1M144.5 197h1M143 197h1M147 195h1M144 196h1M149 199.5h1M143 201h1M145.5 200h1M144.5 200.5h1M142.5 201.5h1M146 197.5h1M147.5 197.5h1M145.5 197h1M146 198h1M141 197.5h1M147 199.5h1M147.5 195.5h1M146.5 201h1M148 197h1M144.5 199h1M141.5 196.5h1M144 201h1M147.5 197.5h1M144.5 198h1M143 202h1M140.5 197.5h1M146.5 196h1M144 200.5h1M146 194.5h1M146.5 201.5h1M144 199.5h1M143.5 195h1M144 197h1M142.5 200.5h1M146.5 194.5h1M149 198.5h1M146.5 201h1M144.5 195h1M148 200.5h1M140.5 197.5h1M147.5 200.5h1M148 198h1M137.5 219h1M141 218h1M139 226h1M140 223h1M145.5 223h1M137 225h1M140 221.5h1M143 222h1M145.5 223h1M140.5 218h1M138 226.5h1M146.5 221.5h1M138.5 227.5h1M143 222h1M139.5 218h1M140 224h1M139.5 219.5h1M146 221h1M146 221h1M138 223.5h1M145 221h1M139.5 224h1M144 223.5h1M141 220h1M138 225.5h1M142 223.5h1M139.5 224h1M141 224.5h1M139.5 225.5h1M142.5 223h1M145.5 223.5h1M143.5 224.5h1M139 227.5h1M137.5 221h1M143.5 221.5h1M140.5 220h1M136.5 222.5h1M138.5 222.5h1M147 213.5h1M147.5 212h1M147 214.5h1M145.5 214h1M147 216h1" stroke="#CDCDCD" stroke-width="1" fill="none"/>
<path d="M54.5 187.5h1.1M54 198h1.1M55.5 200h1.1M41 205.5h1.1M31 212h1.1M39.5 200h1.1M66.5 190.5h1.1M38 202h1.1M52 194.5h1.1M55.5 187h1.1M44 199h1.1M29.5 216h1.1M53 190.5h1.1M47 202h1.1M42 194.5h1.1M61.5 191h1.1M49.5 190.5h1.1M37.5 203.5h1.1M39 209.5h1.1M34.5 214h1.1M42.5 204.5h1.1M61.5 192.5h1.1M38 205.5h1.1M39 200h1.1M34 217h1.1M42.5 201.5h1.1M46 191.5h1.1M41.5 203.5h1.1M66 194.5h1.1M62 190h1.1M55 190h1.1M44.5 202.5h1.1M49 197h1.1M34.5 217.5h1.1M46.5 197h1.1M41 196h1.1M58.5 195.5h1.1M48.5 191.5h1.1M31.5 211h1.1M40 201.5h1.1M41 197.5h1.1M36.5 203h1.1M44 196.5h1.1M32.5 214.5h1.1M57.5 192.5h1.1M48 198.5h1.1M54 188h1.1M58 196h1.1M55.5 195.5h1.1M64 192h1.1M46.5 194.5h1.1M37 205.5h1.1M62 189.5h1.1M43 200h1.1M65.5 189.5h1.1M40.5 211h1.1M67.5 194.5h1.1M54.5 195.5h1.1M50.5 199h1.1M37 217h1.1M48.5 193h1.1M58.5 199.5h1.1M45 203.5h1.1M43.5 197h1.1M63 193h1.1M44 193h1.1M40.5 201.5h1.1M42 200h1.1M55.5 192h1.1M61 193.5h1.1M37.5 212h1.1M36 218h1.1M58 186.5h1.1M43.5 197h1.1M39.5 197.5h1.1M66.5 189.5h1.1M67 192.5h1.1M65 194h1.1M42 194.5h1.1M38 202h1.1M44 194h1.1M45.5 202.5h1.1M65.5 191.5h1.1M41 198h1.1M36.5 211.5h1.1M55 189.5h1.1M62 195.5h1.1M51 198.5h1.1M34.5 216h1.1M51.5 196.5h1.1M48.5 193.5h1.1M66 189h1.1M38.5 206h1.1M55.5 191.5h1.1M54 188.5h1.1M42.5 200h1.1M29 217h1.1M43.5 203h1.1M61.5 191h1.1M61.5 191.5h1.1M58.5 186.5h1.1M48 193.5h1.1M54 188h1.1M66.5 190h1.1M65 191h1.1M58.5 191h1.1M64 195h1.1M61 190h1.1M35.5 212.5h1.1M32.5 220h1.1M60 194.5h1.1M61 194h1.1M53 200.5h1.1M37.5 205.5h1.1M52 192.5h1.1M51 197.5h1.1M31 212.5h1.1M66 190h1.1M36.5 206.5h1.1M41 195.5h1.1M30.5 216.5h1.1M58 201.5h1.1M57 194.5h1.1M67 193h1.1M58 196.5h1.1M31.5 217h1.1M33 217.5h1.1M53.5 195.5h1.1M58.5 192.5h1.1M41 200h1.1M43 196.5h1.1M61 191h1.1M32 213h1.1M53.5 197.5h1.1M64 188h1.1M38 201.5h1.1M42.5 196.5h1.1M34.5 214.5h1.1M63.5 193.5h1.1M49.5 191h1.1M36.5 207.5h1.1M53.5 201.5h1.1M34 206.5h1.1M45.5 193h1.1M36 208h1.1M59.5 199h1.1M35 212.5h1.1M37 209h1.1M33.5 219.5h1.1M39.5 199h1.1M37.5 211h1.1M37 213.5h1.1M33.5 212.5h1.1M50.5 189.5h1.1M62.5 194.5h1.1M45.5 191.5h1.1M40.5 202h1.1M31 214h1.1M36.5 209.5h1.1M50.5 194.5h1.1M49 202h1.1M43 202h1.1M45.5 204.5h1.1M61.5 195.5h1.1M48.5 194.5h1.1M40.5 205.5h1.1M59 189h1.1M54.5 198h1.1M51 194h1.1M40.5 200h1.1M41 200.5h1.1M54 192.5h1.1M32 215.5h1.1M57 193.5h1.1M57.5 188h1.1M61 188h1.1M35 215.5h1.1M31 219.5h1.1M41.5 206.5h1.1M52.5 196h1.1M60.5 195h1.1M65.5 193.5h1.1M47 192.5h1.1M32 213.5h1.1M59 193.5h1.1M35.5 210h1.1M44.5 203.5h1.1M60 190.5h1.1M52.5 197.5h1.1M51 194.5h1.1M59.5 200h1.1M64.5 187.5h1.1M52.5 199h1.1M33.5 219h1.1M55 199h1.1M46.5 191h1.1M62 187h1.1M57 192h1.1M53.5 190h1.1M34.5 215.5h1.1M39 199.5h1.1M62 197h1.1M31 216.5h1.1M55 192.5h1.1M47.5 195h1.1M64 187h1.1M60.5 197h1.1M65 193h1.1M50.5 185.5h1.1M37 206h1.1M60 183.5h1.1M31.5 210h1.1M69.5 198.5h1.1M36.5 214h1.1M36.5 215h1.1M64 189h1.1M56 202.5h1.1M81 189.5h1.1M66 186.5h1.1M78.5 195h1.1M82 184h1.1M71 192.5h1.1M75 195h1.1M75.5 177h1.1M67.5 187.5h1.1M80.5 177.5h1.1M60.5 180.5h1.1M70.5 190h1.1M76.5 204.5h1.1M60 179.5h1.1M75.5 196h1.1M86 188.5h1.1M82.5 178.5h1.1M76 174h1.1M73.5 192h1.1M62 184h1.1M68.5 193.5h1.1M86 188h1.1M73 182h1.1M83.5 194h1.1M68 188.5h1.1M66.5 173.5h1.1M67 186.5h1.1M76 196h1.1M78 203h1.1M69.5 183.5h1.1M75 174h1.1M65.5 187.5h1.1M60 178h1.1M57.5 181h1.1M73.5 195h1.1M74 182.5h1.1M76 173.5h1.1M84.5 183h1.1M77 201h1.1M61.5 180h1.1M67 191.5h1.1M61 180h1.1M72.5 182h1.1M69 184.5h1.1M65.5 181h1.1M76.5 178h1.1M78 196h1.1M70.5 194h1.1M71.5 181.5h1.1M81 193.5h1.1M83 182h1.1M63.5 175h1.1M83 193h1.1M84.5 181h1.1M75 180.5h1.1M65 178h1.1M76.5 198.5h1.1M64 176.5h1.1M69 186h1.1M72 200.5h1.1M63.5 186h1.1M76 181h1.1M68.5 193.5h1.1M67.5 186h1.1M63.5 176.5h1.1M81 195.5h1.1M77 177.5h1.1M65.5 180h1.1M75 197h1.1M63 186.5h1.1M66 190.5h1.1M67 182.5h1.1M71 197h1.1M63.5 178h1.1M68 184h1.1M72 197.5h1.1M72.5 197h1.1M75 193.5h1.1M76 198h1.1M77 202.5h1.1M71.5 184h1.1M73.5 172h1.1M69 186.5h1.1M58 181.5h1.1M75.5 201h1.1M60.5 178h1.1M80 193.5h1.1M78 204h1.1M66.5 188h1.1M73 194.5h1.1M68 195h1.1M71.5 192h1.1M85 184h1.1M64.5 185h1.1M81 194h1.1M78.5 197.5h1.1M75.5 202.5h1.1M71.5 180h1.1M84.5 193.5h1.1M57 182h1.1M83 196h1.1M62 185h1.1M85 188.5h1.1M50.5 213.5h1.1M51 217.5h1.1M43.5 218h1.1M45 215h1.1M49 220.5h1.1M48 211.5h1.1M56 218h1.1M56 214h1.1M47.5 214h1.1M56 219h1.1M50.5 214h1.1M49.5 218.5h1.1M51.5 219h1.1M52.5 216h1.1M47 217h1.1M47.5 215.5h1.1M55.5 219.5h1.1M44 219h1.1M46 212.5h1.1M47.5 218h1.1M54 217h1.1M48.5 216.5h1.1M51.5 215.5h1.1M57.5 217.5h1.1M54 211.5h1.1M53.5 213h1.1M50 214.5h1.1M58 216.5h1.1M49 212.5h1.1M54 215h1.1M50.5 215h1.1M51 220.5h1.1M52.5 218h1.1M48.5 219h1.1M48 219.5h1.1M55 215h1.1M45 217.5h1.1M47.5 216.5h1.1M46 213.5h1.1M48.5 220h1.1M53 212.5h1.1M51.5 211h1.1M45.5 213h1.1M57 219h1.1M47.5 219h1.1M56.5 214.5h1.1M47 211.5h1.1M45 217.5h1.1M54.5 220h1.1M49.5 214h1.1M50 219.5h1.1M50.5 215.5h1.1M46.5 220h1.1M50.5 216.5h1.1M48 211.5h1.1M51 213h1.1M53 219.5h1.1M69 214h1.1M62.5 204.5h1.1M68.5 204h1.1M67 210.5h1.1M68 215h1.1M62 204h1.1M60.5 198.5h1.1M64.5 205.5h1.1M69.5 212.5h1.1M70 211.5h1.1M64.5 199h1.1M68.5 204.5h1.1M64.5 205h1.1M61.5 203h1.1M68 215h1.1M65.5 200h1.1M62.5 202.5h1.1M62 202.5h1.1M67.5 212.5h1.1M60.5 198.5h1.1M66.5 203.5h1.1M61.5 201.5h1.1M60.5 201h1.1M64.5 201h1.1M66 200h1.1M61.5 198.5h1.1M67 205h1.1M69 212h1.1M69.5 205.5h1.1M69 213.5h1.1M69 211h1.1M86 165h1.1M87.5 166h1.1M93 170h1.1M87.5 167.5h1.1M89 171h1.1M82.5 165h1.1M90 166h1.1M91.5 166h1.1M84 168h1.1M92.5 164h1.1M89.5 172h1.1M85 168h1.1M89.5 163.5h1.1M90 167h1.1M92 164h1.1M87.5 160.5h1.1M84 164.5h1.1M93 167.5h1.1M87.5 171h1.1M87.5 164.5h1.1M85 166h1.1M88.5 166.5h1.1M91.5 168.5h1.1M90 163h1.1M92.5 170h1.1M92.5 169h1.1M85.5 166h1.1M87.5 160h1.1M92.5 167.5h1.1M91.5 168h1.1M85 170.5h1.1M87 167.5h1.1M87.5 165.5h1.1M87 168h1.1M88 166.5h1.1M86 171h1.1M88 171.5h1.1M88.5 172h1.1M86 164h1.1M88.5 163h1.1M86.5 167h1.1M84.5 169.5h1.1M93.5 168.5h1.1M84.5 162h1.1M91 167h1.1M83 166h1.1M84.5 167h1.1M90.5 163h1.1M85.5 171h1.1M93 162.5h1.1M94 168.5h1.1M82.5 167.5h1.1M90.5 165h1.1M87 164.5h1.1M93.5 164.5h1.1M89.5 172h1.1M83.5 160.5h1.1M82.5 169.5h1.1M80.5 170h1.1M80.5 168h1.1M112.5 225h1.1M101.5 221.5h1.1M96 222.5h1.1M113.5 200h1.1M124.5 213h1.1M110.5 231h1.1M116.5 222h1.1M91.5 211.5h1.1M112.5 228.5h1.1M119 227h1.1M99 199.5h1.1M96.5 223h1.1M106.5 215h1.1M90.5 215.5h1.1M116.5 225h1.1M91.5 223.5h1.1M115.5 226h1.1M104.5 207.5h1.1M116.5 196h1.1M91 222.5h1.1M96.5 209.5h1.1M103 203.5h1.1M96.5 227h1.1M124 207h1.1M84 218.5h1.1M104 205h1.1M95 209h1.1M100.5 225.5h1.1M96.5 221.5h1.1M111 212h1.1M87 218h1.1M103 204.5h1.1M105 197h1.1M111 214h1.1M108 223.5h1.1M105.5 222.5h1.1M96 210h1.1M119 199h1.1M111.5 213.5h1.1M119.5 200h1.1M121.5 205.5h1.1M108.5 196.5h1.1M125.5 209.5h1.1M105 216.5h1.1M119.5 197.5h1.1M92 222h1.1M118 202h1.1M111.5 208h1.1M124 206.5h1.1M103 212h1.1M95.5 200.5h1.1M110 208.5h1.1M103.5 198h1.1M103 224h1.1M109 211.5h1.1M96.5 215.5h1.1M89 209.5h1.1M105 216.5h1.1M108.5 197h1.1M119.5 224h1.1M99.5 219h1.1M124 199.5h1.1M103 198h1.1M88 211h1.1M104.5 200.5h1.1M116 204h1.1M113 201h1.1M106 218h1.1M82 218h1.1M102 202h1.1M93 210.5h1.1M96.5 224h1.1M112 223.5h1.1M126 200h1.1M98.5 230h1.1M99.5 223h1.1M87 208.5h1.1M110 214.5h1.1M119.5 195h1.1M96.5 227.5h1.1M108.5 217.5h1.1M88.5 218h1.1M94 216h1.1M116 204h1.1M104.5 224.5h1.1M97.5 212h1.1M124.5 207.5h1.1M124.5 205h1.1M97.5 222.5h1.1M120 200h1.1M90 214.5h1.1M93 215.5h1.1M93 221h1.1M118.5 193.5h1.1M114 195.5h1.1M113 203h1.1M102.5 199.5h1.1M106.5 204h1.1M92 218h1.1M102.5 201h1.1M84 212.5h1.1M102.5 221h1.1M96.5 208.5h1.1M117 214.5h1.1M109.5 220h1.1M111.5 222h1.1M109.5 208h1.1M105.5 213h1.1M114 221h1.1M93.5 207h1.1M119 219h1.1M86 221h1.1M94.5 226.5h1.1M93 202.5h1.1M124 201h1.1M117 220h1.1M105 225h1.1M91.5 208h1.1M88 220.5h1.1M108.5 216h1.1M105.5 205h1.1M112 230h1.1M114.5 204.5h1.1M117 202h1.1M102 205.5h1.1M125 199h1.1M115.5 215.5h1.1M102 208h1.1M94 216.5h1.1M126 200h1.1M112 231h1.1M97 202.5h1.1M102 208h1.1M114.5 193.5h1.1M118 228.5h1.1M96.5 204h1.1M115 217h1.1M122.5 215h1.1M100.5 214.5h1.1M113 231.5h1.1M109 213.5h1.1M112 230.5h1.1M109.5 224.5h1.1M90 207.5h1.1M89.5 220.5h1.1M94 215.5h1.1M95 224.5h1.1M87 214.5h1.1M115.5 230h1.1M102 230h1.1M97.5 214h1.1M122.5 194.5h1.1M112 215.5h1.1M118 195.5h1.1M115 223.5h1.1M125.5 205h1.1M93.5 219.5h1.1M111 226.5h1.1M105.5 203h1.1M90.5 214h1.1M112 219h1.1M115 204h1.1M120.5 198.5h1.1M110 227.5h1.1M98 210h1.1M112.5 224h1.1M104 220.5h1.1M94 203h1.1M119.5 218h1.1M101.5 207h1.1M100 215h1.1M102.5 223h1.1M86 209.5h1.1M121 207h1.1M114 229.5h1.1M100 211h1.1M120 208.5h1.1M119 225h1.1M89 222.5h1.1M101 208.5h1.1M125 200.5h1.1M96.5 208.5h1.1M106 228h1.1M123.5 217.5h1.1M106.5 210h1.1M95.5 209h1.1M99 202h1.1M93.5 212h1.1M105.5 200h1.1M95 223.5h1.1M117.5 204h1.1M100 201h1.1M120 223.5h1.1M113 204h1.1M93 221.5h1.1M106 225h1.1M120.5 193h1.1M115 204.5h1.1M91 219h1.1M115 217.5h1.1M100 221.5h1.1M104 216h1.1M113.5 215.5h1.1M90.5 212.5h1.1M123 203.5h1.1M114.5 220h1.1M105.5 202h1.1M121.5 203h1.1M106 210h1.1M101.5 205h1.1M90 213.5h1.1M102.5 219h1.1M88 217.5h1.1M108.5 227h1.1M123 205.5h1.1M121 200h1.1M104.5 230h1.1M115.5 222.5h1.1M124 196h1.1M116 221.5h1.1M94 219.5h1.1M98 222.5h1.1M97 224.5h1.1M111 209h1.1M122.5 209.5h1.1M122.5 203h1.1M98.5 230.5h1.1M118.5 221.5h1.1M102 212h1.1M116.5 197h1.1M100.5 218h1.1M106 228h1.1M103 212.5h1.1M125.5 200.5h1.1M113.5 222.5h1.1M88.5 214.5h1.1M118 224.5h1.1M113 222h1.1M109.5 223.5h1.1M103 214.5h1.1M110 216h1.1M99 209h1.1M99.5 214.5h1.1M96 207.5h1.1M99 207h1.1M107 206.5h1.1M92.5 210.5h1.1M110.5 211h1.1M108 196h1.1M106.5 209h1.1M106 205h1.1M99.5 225h1.1M107.5 196h1.1M98 217h1.1M93.5 217h1.1M91 215.5h1.1M99.5 229h1.1M94.5 208h1.1M114.5 208h1.1M101.5 208h1.1M115.5 228.5h1.1M103.5 219.5h1.1M100.5 213h1.1M94.5 219.5h1.1M112.5 209.5h1.1M116 224h1.1M91 213.5h1.1M117.5 215.5h1.1M99 201.5h1.1M125.5 202h1.1M119 196.5h1.1M109.5 206.5h1.1M121 204h1.1M109 219.5h1.1M81 216.5h1.1M108.5 218.5h1.1M103 199h1.1M120 196h1.1M105 221.5h1.1M121 211h1.1M116 197h1.1M92.5 226.5h1.1M111.5 196h1.1M111.5 224h1.1M105 208h1.1M116.5 195.5h1.1M115 213.5h1.1M116 215h1.1M94 208.5h1.1M112 224h1.1M95 205h1.1M103 222h1.1M119.5 223h1.1M105 206.5h1.1M124.5 193.5h1.1M105 214h1.1M110.5 218h1.1M123 194h1.1M115.5 198h1.1M86 213.5h1.1M121.5 222.5h1.1M97.5 211.5h1.1M102 224.5h1.1M111 210h1.1M104 231h1.1M112.5 211.5h1.1M119 198h1.1M95 221h1.1M94 202.5h1.1M93.5 216.5h1.1M118 195h1.1M124 201h1.1M104 204h1.1M110.5 214.5h1.1M101 203.5h1.1M108 199.5h1.1M119 225h1.1M102 199h1.1M125.5 196h1.1M106.5 225.5h1.1M82 214h1.1M113.5 232h1.1M123 196h1.1M104 231h1.1M123.5 202.5h1.1M105.5 206.5h1.1M123.5 202h1.1M96 215.5h1.1M109.5 195.5h1.1M122.5 194.5h1.1M112 206h1.1M100.5 224h1.1M103.5 232h1.1M105 226.5h1.1M106 197.5h1.1M87.5 208.5h1.1M107 209h1.1M114.5 216h1.1M99 201.5h1.1M106.5 232h1.1M89.5 209.5h1.1M125.5 205h1.1M94 211h1.1M112 205h1.1M83.5 217.5h1.1M85 216.5h1.1M114.5 211h1.1M101 219.5h1.1M107.5 209h1.1M87.5 210.5h1.1M108.5 222h1.1M90.5 220h1.1M93.5 211h1.1M114 217.5h1.1M123 219h1.1M119.5 208.5h1.1M124 206.5h1.1M108 214h1.1M94 228h1.1M93 216.5h1.1M117 196h1.1M115.5 207.5h1.1M103.5 209h1.1M113.5 220.5h1.1M118 219h1.1M117 224h1.1M116.5 196.5h1.1M119.5 196.5h1.1M125.5 208.5h1.1M115.5 224.5h1.1M106.5 232h1.1M115.5 229.5h1.1M124.5 195h1.1M112 213h1.1M112 228h1.1M93.5 226.5h1.1M113.5 215h1.1M98 215h1.1M88.5 221h1.1M89.5 215h1.1M93 214h1.1M101.5 229h1.1M106 218h1.1M89.5 218.5h1.1M91 207.5h1.1M94 208.5h1.1M113.5 212h1.1M121 196.5h1.1M108 219h1.1M117.5 225.5h1.1M91 215h1.1M109 217.5h1.1M114.5 200.5h1.1M104 198.5h1.1M120.5 218.5h1.1M90 216h1.1M104 205.5h1.1M99 214h1.1M105.5 209.5h1.1M89.5 220.5h1.1M112 221.5h1.1M116.5 202.5h1.1M110.5 212h1.1M123.5 210h1.1M95.5 212h1.1M105.5 231.5h1.1M94 222h1.1M102 224h1.1M88.5 207h1.1M124.5 209.5h1.1M106 231h1.1M109 216h1.1M96.5 203h1.1M121 201h1.1M91.5 211.5h1.1M116.5 196.5h1.1M121 211h1.1M107.5 227h1.1M85.5 212.5h1.1M106.5 210.5h1.1M125.5 194.5h1.1M97 210h1.1M121.5 197.5h1.1M103.5 224h1.1M114.5 209h1.1M120.5 201h1.1M125 206h1.1M100 205h1.1M118 220h1.1M109 231.5h1.1M108.5 227h1.1M125 202.5h1.1M109.5 195h1.1M106.5 201.5h1.1M106.5 205h1.1M101 221h1.1M93.5 216h1.1M117.5 211h1.1M108.5 203.5h1.1M91 212.5h1.1M95.5 202h1.1M123 202h1.1M82 217.5h1.1M99.5 219.5h1.1M106.5 196h1.1M105 229h1.1M101 213h1.1M92 210.5h1.1M123 211.5h1.1M88 217h1.1M122.5 223h1.1M112 216h1.1M118.5 216.5h1.1M82 214.5h1.1M120.5 196h1.1M125.5 213.5h1.1M121.5 212h1.1M94.5 219h1.1M92 209h1.1M110 194.5h1.1M102 227h1.1M115.5 193.5h1.1M112 217h1.1M101.5 219h1.1M103.5 199h1.1M105.5 212.5h1.1M112.5 212h1.1M97 214.5h1.1M109.5 216.5h1.1M114 202.5h1.1M118.5 214h1.1M91 208.5h1.1M95.5 220h1.1M104 212h1.1M110.5 205.5h1.1M124.5 203h1.1M115 206.5h1.1M119.5 194.5h1.1M107.5 213h1.1M115.5 218h1.1M110 194.5h1.1M96 211h1.1M105.5 222h1.1M116 230.5h1.1M112.5 214h1.1M118 224.5h1.1M108.5 219h1.1M116 203.5h1.1M96 207.5h1.1M119 213.5h1.1M108.5 209.5h1.1M100.5 231h1.1M92 213h1.1M99.5 209h1.1M113 193.5h1.1M111 206.5h1.1M122.5 204h1.1M122 201.5h1.1M85.5 219.5h1.1M99 216.5h1.1M115.5 227h1.1M96.5 207h1.1M111.5 212.5h1.1M118.5 192.5h1.1M108 209.5h1.1M92.5 215.5h1.1M90 217.5h1.1M109.5 216.5h1.1M119.5 193.5h1.1M89 208.5h1.1M108 221h1.1M124 204h1.1M111 226h1.1M114.5 219.5h1.1M98 216h1.1M115 214h1.1M117 211.5h1.1M94.5 212.5h1.1M97.5 209h1.1M89.5 211.5h1.1M112 206.5h1.1M110 212h1.1M92.5 214h1.1M91.5 212.5h1.1M121.5 210h1.1M84 213h1.1M109.5 195.5h1.1M114 217h1.1M122 216.5h1.1M92 211h1.1M120 214.5h1.1M96.5 211h1.1M115 198.5h1.1M118.5 198.5h1.1M105.5 213h1.1M111.5 208.5h1.1M114 194.5h1.1M103 202.5h1.1M104.5 198.5h1.1M126 197h1.1M119 229h1.1M107.5 232.5h1.1M125 192.5h1.1M80 218.5h1.1M96 231h1.1M93 201h1.1M110.5 194.5h1.1M116 230.5h1.1M80 216h1.1M127.5 196.5h1.1M84.5 219.5h1.1M87.5 209.5h1.1M93 226h1.1M84 210h1.1M120 228.5h1.1M86.5 208.5h1.1M84.5 220.5h1.1M123.5 224.5h1.1M116 230.5h1.1M111 172h1.1M109 172h1.1M116 171.5h1.1M96.5 184h1.1M97.5 185.5h1.1M97.5 185.5h1.1M100.5 242h1.1M102.5 244h1.1M115 231.5h1.1M118 238h1.1M107 231.5h1.1M109 231h1.1M109.5 230h1.1M113.5 241.5h1.1M111.5 241h1.1M102 238h1.1M120 229h1.1M109.5 239h1.1M109 234h1.1M105.5 229.5h1.1M117 238.5h1.1M101 242h1.1M100.5 235h1.1M107 243.5h1.1M102 237.5h1.1M111 245.5h1.1M105.5 244h1.1M101.5 244h1.1M103.5 242.5h1.1M118 233.5h1.1M117.5 236h1.1M109 240.5h1.1M120.5 232.5h1.1M118 239.5h1.1M101.5 246h1.1M101 240.5h1.1M117 234h1.1M116 237.5h1.1M118.5 236.5h1.1M116.5 233.5h1.1M116.5 238.5h1.1M107 232h1.1M111.5 239.5h1.1M108 241h1.1M120 235h1.1M106 242.5h1.1M106 242.5h1.1M118 233.5h1.1M103.5 243.5h1.1M101.5 240h1.1M104.5 236h1.1M109.5 234h1.1M120.5 230h1.1M104 235.5h1.1M117.5 238h1.1M99.5 235.5h1.1M98.5 241.5h1.1M109.5 235.5h1.1M115 232h1.1M111.5 233.5h1.1M118.5 240h1.1M113.5 231h1.1M114 234.5h1.1M117.5 242.5h1.1M108.5 238.5h1.1M104 241h1.1M120.5 236.5h1.1M119 238h1.1M105.5 238h1.1M112 233h1.1M104.5 243.5h1.1M113 237h1.1M106.5 238.5h1.1M115 239.5h1.1M106 228.5h1.1M113 239h1.1M120 232h1.1M108.5 238h1.1M120.5 235h1.1M100.5 240.5h1.1M103.5 237.5h1.1M102.5 243h1.1M116 239.5h1.1M114.5 245.5h1.1M99 243h1.1M110.5 237.5h1.1M110 236h1.1M117.5 233.5h1.1M122.5 232.5h1.1M121 231.5h1.1M116.5 239.5h1.1M108 229.5h1.1M107.5 244h1.1M108.5 233h1.1M112 242.5h1.1M107.5 231h1.1M107 235h1.1M111 238h1.1M100.5 243h1.1M117 238h1.1M116.5 239h1.1M112.5 237h1.1M112 240h1.1M100 240h1.1M117.5 233.5h1.1M105.5 239.5h1.1M114.5 231h1.1M113 236h1.1M115 232.5h1.1M108.5 247.5h1.1M110 231h1.1M98 241h1.1M119.5 236h1.1M105 247.5h1.1M112.5 232.5h1.1M124.5 235h1.1M118.5 227.5h1.1M115.5 248.5h1.1M117 238h1.1M102 245.5h1.1M115.5 229.5h1.1M116 230.5h1.1M85.5 232.5h1.1M91 226.5h1.1M85 238h1.1M87.5 223.5h1.1M81 238.5h1.1M80.5 234h1.1M86 228h1.1M89 226.5h1.1M79.5 231h1.1M76.5 225.5h1.1M81 231.5h1.1M80 236h1.1M85 231.5h1.1M75 230h1.1M91 226.5h1.1M77 223h1.1M87.5 221.5h1.1M84 227.5h1.1M84 234.5h1.1M80 227h1.1M78 229h1.1M78.5 224h1.1M75 228.5h1.1M83.5 225h1.1M81 237h1.1M80.5 224h1.1M78 233.5h1.1M83.5 230.5h1.1M85 227.5h1.1M76.5 227h1.1M85.5 225.5h1.1M76 227h1.1M89 224.5h1.1M81 239.5h1.1M83 230.5h1.1M83 239h1.1M85.5 226.5h1.1M77 233h1.1M76.5 229h1.1M84.5 222h1.1M77 231h1.1M83.5 226h1.1M83 223h1.1M79.5 225.5h1.1M76 226.5h1.1M79 229.5h1.1M83 222.5h1.1M79 231h1.1M85 238.5h1.1M90 227h1.1M79.5 238h1.1M80.5 223.5h1.1M83.5 236h1.1M82 224.5h1.1M77 225h1.1M84.5 234h1.1M84.5 233.5h1.1M81.5 227.5h1.1M89.5 225h1.1M86 229.5h1.1M77.5 230.5h1.1M78.5 222.5h1.1M85 229.5h1.1M85 232.5h1.1M81 229.5h1.1M83.5 234h1.1M85 228.5h1.1M82 221h1.1M81 232h1.1M82.5 233h1.1M78 235h1.1M80.5 230h1.1M80 221.5h1.1M81 229h1.1M79.5 228h1.1M79.5 222.5h1.1M81 226.5h1.1M83 222.5h1.1M79 224.5h1.1M84.5 223.5h1.1M83 235.5h1.1M90.5 226.5h1.1M83 233h1.1M76.5 234h1.1M89.5 223.5h1.1M81.5 229h1.1M79 232.5h1.1M85.5 229.5h1.1M85.5 226h1.1M77 225.5h1.1M78.5 226.5h1.1M77.5 229h1.1M80.5 225.5h1.1M76 232h1.1M84.5 235h1.1M80 236.5h1.1M72.5 221.5h1.1M72 228.5h1.1M81 221.5h1.1M75.5 240h1.1M80.5 247h1.1M80.5 246h1.1M76 249h1.1M77.5 246h1.1M71 241.5h1.1M72 248.5h1.1M68 241.5h1.1M77.5 242h1.1M80.5 244h1.1M67 248.5h1.1M64.5 244h1.1M71 240h1.1M80 244h1.1M79.5 247h1.1M80.5 247.5h1.1M72.5 248.5h1.1M69.5 243.5h1.1M74.5 249.5h1.1M76 249h1.1M75.5 245.5h1.1M67.5 247.5h1.1M75 242.5h1.1M76.5 242h1.1M81.5 243h1.1M81 246h1.1M81 247.5h1.1M65.5 247.5h1.1M71 241.5h1.1M80.5 246.5h1.1M70.5 240.5h1.1M67.5 247.5h1.1M69.5 248h1.1M77.5 246h1.1M69.5 245h1.1M78.5 242.5h1.1M79 247.5h1.1M67.5 249h1.1M75 246h1.1M75 241h1.1M78.5 244h1.1M71 248h1.1M77.5 248h1.1M68 247.5h1.1M76.5 247h1.1M79 242h1.1M69 248h1.1M76.5 242h1.1M76 243.5h1.1M76 248h1.1M76.5 248.5h1.1M76.5 247.5h1.1M79.5 245.5h1.1M74 241h1.1M69.5 245.5h1.1M80.5 248h1.1M71 243h1.1M77 245h1.1M70 241h1.1M68.5 245h1.1M69 244.5h1.1M73.5 242.5h1.1M66.5 244h1.1M79 241h1.1M74 248h1.1M74.5 243h1.1M81 247.5h1.1M73 244h1.1M79.5 246h1.1M74 245h1.1M80.5 243h1.1M66.5 241.5h1.1M82 245.5h1.1M78.5 244h1.1M73.5 242h1.1M80.5 244h1.1M73 244h1.1M79 244h1.1M70 242h1.1M78 243h1.1M66.5 247.5h1.1M78 247h1.1M75.5 241.5h1.1M78.5 245.5h1.1M75.5 241.5h1.1M65.5 248.5h1.1M71.5 247h1.1M77 248.5h1.1M69 241h1.1M70 240.5h1.1M81.5 245.5h1.1M73 240h1.1M78 241.5h1.1M69 241h1.1M74 242.5h1.1M74.5 247h1.1M68.5 241h1.1M73.5 243.5h1.1M72.5 243.5h1.1M77.5 246h1.1M76.5 246h1.1M73.5 241.5h1.1M81 245h1.1M71.5 248h1.1M66.5 246h1.1M79 248h1.1M63 251h1.1M66 242h1.1M52 229h1.1M53.5 234h1.1M49.5 236h1.1M55 231.5h1.1M50.5 235.5h1.1M55.5 235.5h1.1M53.5 229h1.1M52.5 235.5h1.1M55.5 229.5h1.1M50.5 231h1.1M52 230.5h1.1M55 231.5h1.1M52 229.5h1.1M52 231h1.1M53.5 230h1.1M55.5 236.5h1.1M50.5 237.5h1.1M52.5 237.5h1.1M51 235.5h1.1M53.5 238h1.1M53.5 235.5h1.1M48.5 236h1.1M57.5 228h1.1M51.5 230h1.1M51 237h1.1M50.5 235h1.1M55 235.5h1.1M53.5 233h1.1M50 234h1.1M56 229.5h1.1M55.5 229h1.1M53.5 230.5h1.1M55.5 231h1.1M54 228.5h1.1M54 233.5h1.1M57.5 229h1.1M53.5 229.5h1.1M56.5 228.5h1.1M54 232.5h1.1M52 230.5h1.1M54 230.5h1.1M49.5 235h1.1M51.5 234h1.1M57 229h1.1M55.5 236.5h1.1M50 227h1.1M50.5 228h1.1M58.5 263.5h1.1M67.5 269h1.1M75 263.5h1.1M73 273.5h1.1M59.5 266h1.1M77 269.5h1.1M57.5 260h1.1M65.5 262.5h1.1M54 256.5h1.1M65.5 264h1.1M72.5 275h1.1M54.5 261.5h1.1M80 269h1.1M58 265h1.1M63 269.5h1.1M51 258h1.1M66 265.5h1.1M77.5 269.5h1.1M64.5 269h1.1M58.5 266.5h1.1M78.5 265.5h1.1M83 275h1.1M67 261h1.1M61.5 260.5h1.1M56.5 267h1.1M50.5 261.5h1.1M77 272h1.1M75.5 271.5h1.1M73 271h1.1M69.5 273h1.1M71.5 262.5h1.1M74.5 275.5h1.1M76.5 266.5h1.1M64.5 269.5h1.1M59 265.5h1.1M75 271.5h1.1M67.5 267.5h1.1M57 258.5h1.1M63 263.5h1.1M60.5 267.5h1.1M59 264h1.1M64 269h1.1M82 268.5h1.1M52.5 257.5h1.1M62 266.5h1.1M73.5 273h1.1M52 259h1.1M79 272h1.1M53.5 256.5h1.1M57 266.5h1.1M83.5 269.5h1.1M79 273h1.1M81.5 267h1.1M70 265h1.1M79 277.5h1.1M84 275h1.1M75 268h1.1M59.5 258h1.1M83 272.5h1.1M81.5 271.5h1.1M80 270h1.1M54 259h1.1M66 271.5h1.1M64 260.5h1.1M61 267.5h1.1M64 262.5h1.1M71 270.5h1.1M66 268.5h1.1M68.5 262.5h1.1M59.5 262.5h1.1M81.5 269h1.1M52 258h1.1M63 258.5h1.1M79 273.5h1.1M74 265h1.1M70.5 266.5h1.1M51.5 262h1.1M55 266h1.1M62.5 259.5h1.1M60 261.5h1.1M52 259h1.1M52 258h1.1M52.5 261.5h1.1M83 270.5h1.1M81.5 270h1.1M61.5 263h1.1M61.5 268.5h1.1M70 262h1.1M82.5 269.5h1.1M72 273h1.1M76.5 270.5h1.1M67 268h1.1M65 268h1.1M69 262h1.1M60 268h1.1M73 262.5h1.1M69 265h1.1M71 269h1.1M61 264.5h1.1M55.5 264.5h1.1M79 276h1.1M74.5 271.5h1.1M80.5 275h1.1M59.5 265h1.1M63.5 267.5h1.1M56.5 263h1.1M57 256h1.1M79.5 277h1.1M82 275h1.1M64.5 261h1.1M65.5 263.5h1.1M68.5 264.5h1.1M52 258h1.1M60.5 263.5h1.1M71 264h1.1M55.5 262.5h1.1M81 274h1.1M60 268h1.1M73.5 261.5h1.1M55.5 257h1.1M52 261h1.1M76 261h1.1M82 274h1.1M71 272.5h1.1M86 277h1.1M145.5 197.5h1.1M141.5 198.5h1.1M145.5 194.5h1.1M143.5 201h1.1M142 196.5h1.1M144.5 194h1.1M142 200.5h1.1M145 201.5h1.1M141.5 199.5h1.1M144 200.5h1.1M142 196h1.1M143.5 202.5h1.1M145.5 199.5h1.1M148.5 195.5h1.1M144.5 195h1.1M145 203h1.1M143.5 200.5h1.1M145.5 195.5h1.1M141 199.5h1.1M142.5 202h1.1M144 196.5h1.1M142.5 197.5h1.1M146 198.5h1.1M146.5 195.5h1.1M140.5 199h1.1M140.5 222.5h1.1M138 221.5h1.1M140 219h1.1M142 222.5h1.1M140 220h1.1M137.5 217.5h1.1M139.5 217h1.1M145.5 222.5h1.1M141.5 223.5h1.1M145 222.5h1.1M147 222.5h1.1M138 221h1.1M139.5 221h1.1M141 219.5h1.1M139.5 221h1.1M142.5 222.5h1.1M139.5 217h1.1M140 224h1.1M140 220h1.1M147.5 215.5h1.1M146.5 213.5h1.1M146.5 215h1.1" stroke="#666666" stroke-width="1.1" fill="none"/>
<defs><filter id="bl" x="-10%" y="-10%" width="120%" height="120%"><feGaussianBlur stdDeviation="0.9"/></filter></defs>
<polygon points="332.3,103.4 334.8,97.2 342.3,93.5 354.7,91.8 367.1,90.3 375.8,91 379.5,97.2 380.7,104.7 384.4,109.6 382,117.1 374.5,119.6 367.1,118.3 359.6,117.1 352.2,119.6 347.2,120.8 339.8,117.1 333.6,112.1" fill="#62CEAA" filter="url(#bl)"/>
<path d="M356 107.5h1M380.5 104.5h1M359 108h1M342 106h1M365 114.5h1M337 99.5h1M368.5 91.5h1M366.5 109h1M360 92h1M342 97.5h1M334 104.5h1M355.5 116h1M359.5 110h1M358.5 110.5h1M356 99h1M376 112h1M348.5 97.5h1M372 102.5h1M376.5 102h1M382 116h1M379.5 104.5h1M336 109.5h1M373 98.5h1M337 100.5h1M382.5 113.5h1M338.5 98h1M374 95.5h1M361.5 104h1M342 112.5h1M339 110h1M338.5 103h1M343.5 98.5h1M348 117.5h1M343.5 102.5h1M377 110h1M343.5 98h1M372.5 100.5h1M337 108h1M345 108.5h1M351.5 104h1M362 116.5h1M342 95h1M379.5 115h1M345.5 96h1M378.5 108.5h1M354.5 93.5h1M344.5 112h1M345.5 115.5h1M363.5 99h1M341.5 112.5h1M336 97.5h1M361.5 116.5h1M364.5 99h1M355.5 92h1M341.5 101.5h1M362 94.5h1M351 117.5h1M383.5 110.5h1M368.5 108h1M333.5 109.5h1M357.5 112.5h1M336 107h1M370.5 118h1M370.5 112h1M373.5 118h1M350.5 111h1M379 117h1M354 114.5h1M377.5 108h1M365 102h1M362.5 109h1M336.5 110h1M370 102h1M370.5 108h1M355.5 116h1M336.5 113h1M334 108.5h1M357.5 97.5h1M368.5 105.5h1M348 111h1M343 95.5h1M379.5 110.5h1M355.5 117.5h1M349.5 110.5h1M342.5 103.5h1M374.5 118h1M378 102h1M362.5 100h1M339.5 105.5h1M376 116h1M346.5 95.5h1M356 98.5h1M343.5 103h1M365 105.5h1M348.5 116h1M369 107.5h1M348.5 114.5h1M375.5 97.5h1M365 104h1M365 110.5h1M374.5 119.5h1M368 96.5h1M357 95.5h1M333 104.5h1M369.5 96h1M346.5 101h1M368.5 106h1M364.5 113.5h1M353 114.5h1M381 112.5h1M339 104h1M352 107.5h1M378 114.5h1M366 96.5h1M370 115.5h1M365.5 112h1M343.5 117.5h1M360.5 114.5h1M349 118h1M377 101h1M336.5 103.5h1M361 113.5h1M374.5 92.5h1M374 95.5h1M350 114.5h1M339.5 95h1M359 112.5h1M376 111.5h1M344 106.5h1M347.5 112.5h1M365.5 106h1M376.5 107.5h1M348.5 102h1M376.5 118h1M343 116h1M362 96.5h1M360 105.5h1M364 91h1M353 114.5h1M361.5 105.5h1M368.5 92.5h1M360.5 103h1M346.5 104.5h1M339 103.5h1M375 118h1M357 100h1M342.5 109h1M373 91h1M342.5 97h1M368 100h1M351 109h1M338 112.5h1M338.5 106h1M345.5 96.5h1M360 103.5h1M352 103h1M360 95h1M343 109.5h1M365.5 106.5h1M376.5 109h1M377 97.5h1M371 115h1M379.5 100h1M348.5 118.5h1M345 112.5h1M346 93.5h1M375.5 103h1M373.5 94h1M353.5 111h1M368 118h1M358.5 113.5h1M358.5 111h1M361 106h1M362 95h1M342 96.5h1M356.5 113.5h1M349.5 104.5h1M359 103.5h1M369 116h1M341.5 104h1M371 102.5h1M342.5 95.5h1M379 115h1M369 116.5h1M365 102.5h1M363.5 105.5h1M346 118h1M371 114h1M374.5 102.5h1M379 117h1M368.5 113.5h1M372 102.5h1M370 92.5h1M350 104.5h1M365.5 109.5h1M344.5 119h1M367 100.5h1M366.5 107.5h1M360 102h1M369 113.5h1" stroke="#00BF74" stroke-width="1" fill="none"/>
<path d="M364.5 113h1M345.5 102.5h1M352 93.5h1M345.5 118h1M361 106h1M382.5 107.5h1M384 110h1M374.5 92.5h1M363.5 113.5h1M340.5 104.5h1M341 105.5h1M364 92h1M359.5 108.5h1M351.5 99h1M366.5 107.5h1M347 112h1M340.5 113.5h1M352.5 117.5h1M371.5 92h1M354.5 105h1M370 104.5h1M363.5 94h1M365 104h1M360 94h1M355.5 110.5h1M356 98.5h1M362.5 103h1M373 106.5h1M370.5 97.5h1M373 109.5h1M351 98.5h1M368 107.5h1M363 109.5h1M371.5 96h1M380 117h1M346.5 103.5h1M365 93.5h1M360.5 92.5h1M337 111h1M361 109.5h1M351.5 105h1M343.5 101h1M371 116h1M374.5 109.5h1M372.5 97h1M354.5 98h1M374.5 101.5h1M349.5 107h1M371 118.5h1M354.5 101.5h1M361.5 105h1M368 99.5h1M372.5 92.5h1M343.5 110.5h1M336.5 99.5h1M370 111.5h1M347 94.5h1M351 112.5h1M351.5 94h1M369.5 107.5h1M380 103.5h1M374 99.5h1M349 102.5h1M345 101.5h1M351.5 101.5h1M353 102h1M342.5 107.5h1M374 107h1M376 107.5h1M341.5 113.5h1M378 99h1M333.5 106h1M360.5 107.5h1M382.5 110h1M374 92.5h1M361 114.5h1M370.5 117.5h1M336.5 109.5h1M340 113h1M366 98h1M344 113.5h1M359.5 113.5h1M353 100.5h1M382.5 111h1M358 106.5h1M370 112h1M380 103h1M375.5 110.5h1M377 115h1M375.5 117.5h1M382 110h1M359.5 112h1M374 103h1M354 95h1M352 95.5h1M343 103.5h1M347.5 120h1M335.5 99.5h1M338.5 110h1M372.5 96h1M335.5 104.5h1M342 97h1M344.5 112h1M363.5 97h1M342 99h1M341.5 113.5h1M348.5 107h1M375 105h1M346 117.5h1M380 100.5h1M357.5 97h1M374 102h1M360 106h1M366.5 97.5h1M333 104.5h1M351.5 114.5h1M369.5 109h1M340.5 95h1M349 98h1M377.5 106h1M346 106.5h1M340 114h1M376.5 115.5h1M336.5 98.5h1M369.5 93.5h1M357.5 104.5h1M382 108h1M377 99.5h1M373.5 103h1M375.5 96.5h1M360.5 106.5h1M340.5 115.5h1M348.5 100h1M336.5 99.5h1M356.5 112h1M351 111.5h1M338 102.5h1M375.5 110h1M369.5 97.5h1M361.5 104.5h1M374 96.5h1M364.5 99h1M352 107h1M348 100.5h1M352.5 110.5h1M345.5 96.5h1M370.5 100.5h1M381.5 107.5h1M370 100.5h1M375.5 93h1M367.5 112h1M341.5 102.5h1M376 108.5h1M337 97h1M353.5 92.5h1M380.5 103.5h1M359 110h1M372.5 115.5h1M352.5 100.5h1M353 111.5h1M366.5 109h1M350 110h1M338 102h1M359 114.5h1M375.5 109h1M340.5 113.5h1M379.5 107h1M350.5 105.5h1M339.5 112h1M369.5 116h1M365 96.5h1M336.5 98h1M362.5 111.5h1M349.5 118.5h1M351 104.5h1M360.5 107.5h1M361.5 98.5h1M375 108.5h1M338.5 115.5h1M347.5 117.5h1M345 108h1M375.5 96h1M361 92.5h1M366.5 99.5h1M367.5 113h1M352 108.5h1M342.5 104.5h1M339.5 102h1M362 95.5h1M359.5 98.5h1M362 100.5h1M365.5 91.5h1M367.5 94.5h1M382.5 108.5h1M357 103h1M365 111.5h1M372 113h1M376 116.5h1M353.5 103.5h1M359.5 106.5h1" stroke="#00C19F" stroke-width="1" fill="none"/>
<path d="M355 118h1M370 118h1M370.5 108.5h1M371.5 99.5h1M363 92.5h1M339 104h1M358.5 102.5h1M335 111.5h1M359.5 97.5h1M348.5 102.5h1M367 116.5h1M354.5 115h1M344 113h1M337.5 114.5h1M338.5 106.5h1M345 99.5h1M379 115h1M353 101h1M363 91.5h1M348.5 105.5h1M357 96.5h1M347.5 118.5h1M376 101h1M357 95.5h1M343 109.5h1M342.5 117h1M370 100h1M379 117h1M369.5 94.5h1M355.5 92.5h1M344 99.5h1M369.5 96.5h1M341.5 97.5h1M367 114.5h1M351.5 110.5h1M378.5 108.5h1M344 99.5h1M380.5 110.5h1M346.5 110h1M355 106.5h1M360 91.5h1M363.5 99h1M345.5 115h1M337 99h1M371.5 98h1M347 107h1M342 117.5h1M356.5 113h1M352.5 118.5h1M358.5 96h1M361.5 110h1M351 110.5h1M373 106h1M358.5 116h1M368 106h1M373 95.5h1M364 97.5h1M355 114h1M373.5 114.5h1M344.5 105h1M344 108h1M358.5 91.5h1M363.5 112h1M362 117h1M341.5 95h1M333 105.5h1M355 104h1M346 114.5h1M362 107h1M373.5 97.5h1M340 100h1M334.5 100h1M364.5 106.5h1M346 108.5h1M341 98h1M340.5 111.5h1M375.5 114.5h1M335.5 103h1M351.5 97h1M358 113.5h1M356 113h1M353 99.5h1M354.5 92.5h1M372 112.5h1M344.5 98h1M361 97.5h1M351.5 100.5h1M383.5 109h1M334.5 102.5h1M366 92h1M350 111.5h1M377.5 108.5h1M378.5 104.5h1M353 116h1M352 114h1M343.5 101h1M342 107h1M341 96.5h1M343.5 104.5h1M348.5 104h1M377 96.5h1M352.5 92.5h1M368.5 101.5h1M342 98.5h1M353 118.5h1M369.5 98.5h1M351 95h1M372 112.5h1M349 102h1M349 114h1" stroke="#7CC850" stroke-width="1" fill="none"/>
<path d="M359.5 92h1M353 97.5h1M363.5 91.5h1M348.5 103h1M360.5 94.5h1M369 98h1M370 110.5h1M340 96.5h1M347 112h1M353.5 102h1M377.5 97h1M347.5 101h1M333.5 109.5h1M362 115h1M343.5 111.5h1M377.5 97.5h1M365.5 93h1M354.5 102.5h1M335.5 102h1M349.5 105.5h1M347 95h1M353.5 105h1M341 110.5h1M350 103h1M340 108h1M369 107h1M369 91h1M352.5 101.5h1M335.5 102.5h1M335 105.5h1M363 104.5h1M349.5 98h1M333.5 101h1M379 107.5h1M346 110.5h1M342 104.5h1M351 108h1M381.5 114h1M365 109h1M353.5 103h1M346.5 115.5h1M378 102h1M339.5 106h1M348.5 101.5h1M342.5 97.5h1M367.5 97.5h1M353 97.5h1M358 110h1M361 109.5h1M361.5 115.5h1M350.5 117.5h1M348.5 112h1M368.5 111h1M382.5 115.5h1M340.5 109.5h1M358 107.5h1M351.5 99h1M371.5 106.5h1M344.5 98h1M349 95.5h1M359 94h1M337.5 112h1M338 104h1M372.5 105h1M341 116.5h1M345.5 106h1M374 102.5h1M369.5 98h1M369.5 100.5h1M349.5 113.5h1M376 115.5h1M362 103h1M369 109.5h1M375.5 114.5h1M339 102h1M367 97.5h1M368 103h1M365 102.5h1M335 112h1M347 112.5h1M360.5 105h1M352 99.5h1M374 116h1M347 102h1M364.5 113.5h1M368.5 107h1M374 95h1M357.5 94h1M362 94.5h1M365 98.5h1M344 105h1M351.5 98h1M379 99.5h1M343 117h1M357.5 103h1M374.5 102.5h1M335.5 107h1M366.5 109.5h1M346.5 119h1M355.5 115.5h1M370 95.5h1M351 113.5h1M348.5 106h1M360 115h1M373.5 112.5h1M353 115h1M375.5 113.5h1M369 98h1M362.5 97h1M352.5 101.5h1" stroke="#C8A848" stroke-width="1" fill="none"/>
<path d="M366.5 115h1M351.5 110h1M350.5 99h1M379.5 100h1M337 100.5h1M371 96.5h1M371 107h1M367.5 95.5h1M350.5 103.5h1M333 105.5h1M353.5 100h1M343 117h1M349 113.5h1M343.5 103h1M369 95.5h1M346.5 111h1M342 101h1M365.5 102h1M366 97h1M364.5 117.5h1M377 109.5h1M358.5 107.5h1M338 116h1M368 104h1M367 103h1M352.5 97.5h1M363.5 108h1M359 91.5h1M365 104h1M363 108.5h1M370.5 100h1M353 117h1M358 97.5h1M376 110h1M381 115.5h1M374 106h1M377.5 112h1M345.5 115h1M356 106.5h1M377.5 96.5h1M347 110h1M336 107h1M373.5 105.5h1M345 114.5h1M377 114h1M374 95h1M351.5 93.5h1M334 101h1M377.5 115.5h1M338.5 96h1M352.5 116h1M364.5 118h1M343 109.5h1M378 112.5h1M342.5 110.5h1M350 100h1M365 99h1M363.5 111.5h1M341.5 94h1M368.5 104.5h1M381.5 109h1M351 96.5h1M370.5 101.5h1M348.5 103h1M340 109.5h1M354.5 115.5h1M353.5 104h1M350.5 112h1M344.5 108h1M347 117h1" stroke="#00BFC4" stroke-width="1" fill="none"/>
<path d="M347 116.5h1M367.5 104h1M371 108.5h1M355.5 92.5h1M354 99h1M347.5 111.5h1M367.5 98h1M353.5 94.5h1M379 98h1M354 100.5h1M375 116h1M363 107h1M337 101.5h1M352 112.5h1M367 101h1M333.5 109.5h1M356.5 101.5h1M356.5 100h1M367.5 109h1M375.5 110h1M336 104.5h1M353 110.5h1M343 101.5h1M339.5 102.5h1M371 93h1M341 110h1M365 113h1M345.5 115h1M370.5 114h1M338.5 104.5h1M333.5 101h1M360 106.5h1M338 114.5h1M348 106h1M339 107.5h1M359 99.5h1M373 98h1M354 92h1M343.5 104h1M361.5 104.5h1M376.5 93.5h1M376.5 95h1M353.5 109h1M340.5 115.5h1M370.5 112h1M340.5 106.5h1M348 120h1M366 116h1M334.5 103h1M336.5 98.5h1M349.5 105h1M366.5 117.5h1M381.5 107.5h1M353 99.5h1M371 98h1M351.5 103.5h1M357 101h1M354.5 104h1M335.5 106.5h1M361 102.5h1M344 93.5h1M351.5 100h1M357.5 97.5h1M371.5 105h1M333 102.5h1M351.5 108.5h1M351.5 99.5h1M364 108.5h1M348.5 105.5h1M359 113.5h1" stroke="#FFFFFF" stroke-width="1" fill="none"/>
<polygon points="372,106 380.7,104.7 384.4,109.6 391.9,119.6 400,120.5 408,122 409,126 406.8,129.5 400,132 394.4,134.4 384.4,127 374.5,121 368,119" fill="#58C8D4" filter="url(#bl)"/>
<path d="M378.5 112.5h1M400.5 124h1M406.5 127h1M386.5 117.5h1M373 114h1M395.5 121h1M372.5 108h1M376.5 117h1M390 129.5h1M385.5 116h1M395.5 132.5h1M388 125h1M376.5 115h1M374.5 115h1M392 120h1M384 122h1M383.5 126h1M385.5 123h1M391.5 121h1M381.5 109h1M407 127.5h1M376 120.5h1M399.5 122h1M407 126h1M378 105.5h1M380 112h1M373.5 119h1M379 113h1M379.5 120h1M403 130h1M393 121h1M398 120.5h1M395 132h1M377.5 118h1M408.5 125h1M403 128h1M388 121.5h1M373.5 113.5h1M369 119h1M392 125h1M393 123h1M402 125h1M389.5 122h1M399 128.5h1M382 115h1M379 122h1M375 109h1M378.5 119h1M378.5 120h1M375.5 111.5h1M380.5 114.5h1M398 124.5h1M400.5 120.5h1M378 111h1M383 115.5h1M400.5 128h1M383.5 113h1M392.5 126.5h1M387.5 129h1M404 126.5h1M383.5 108.5h1M371 110h1M380.5 110h1M373 120.5h1M390 121.5h1M377 107h1M374.5 114.5h1M387 122.5h1M388.5 124h1M387.5 123h1M381 115.5h1M404 122h1M385 120.5h1M387 114.5h1M380 110h1M382 121.5h1M389 116h1M379 122h1M371.5 119.5h1M388 123.5h1M402 128.5h1M388.5 117.5h1M388 119h1M376 111h1M402 128.5h1M396 128.5h1M397 128.5h1M393 132h1M406 124h1M403.5 127.5h1" stroke="#00B9E3" stroke-width="1" fill="none"/>
<path d="M400 130.5h1M384 115h1M395 127.5h1M381 113h1M396 132.5h1M407 123h1M407.5 127.5h1M381.5 113h1M389.5 119h1M390 118.5h1M376 122h1M378 114.5h1M382.5 120.5h1M407 123.5h1M385 117h1M377.5 119h1M386 125h1M399.5 121h1M394.5 132.5h1M399.5 124h1M371 112.5h1M373 117.5h1M391.5 127h1M384.5 124h1M396 123h1M373.5 106.5h1M371 116.5h1M388 122h1M373 113.5h1M389 117h1M383 117.5h1M386.5 114h1M386.5 119h1M384.5 124.5h1M397.5 133h1M395 124.5h1M386 124h1M368.5 117h1M401.5 129.5h1M384 122h1M397 127.5h1M398.5 122h1M391 121h1M398 133h1M379.5 121.5h1M389.5 119.5h1M404.5 124.5h1M371 113.5h1M396.5 125h1M379 115.5h1M383.5 124h1M374 114h1M378 110h1M373 107h1M400.5 126.5h1M379 119h1M401.5 130h1M387.5 114h1M391.5 123h1M382 118h1M405.5 125h1M375 115h1M377.5 115.5h1M390.5 122h1M392.5 130.5h1M375 113h1M395.5 125.5h1M381 118.5h1M380 121.5h1M382.5 115.5h1M378 113.5h1M378.5 105h1M380.5 122.5h1M379 108h1M404.5 127h1M393.5 124.5h1M385 116.5h1M388.5 118.5h1M389.5 120.5h1M400.5 131h1" stroke="#00BFC4" stroke-width="1" fill="none"/>
<path d="M377 105.5h1M380.5 105.5h1M400.5 123h1M379.5 110.5h1M403.5 129.5h1M396 125h1M384.5 121h1M405.5 129.5h1M371 112h1M374 116.5h1M386 127.5h1M392.5 122h1M375 118.5h1M405 124.5h1M377 118h1M391.5 123.5h1M401.5 126h1M374 110.5h1M381 112.5h1M394 123h1M378 113h1M405.5 124.5h1M370.5 110h1M377.5 113.5h1M402.5 125.5h1M408 124.5h1M370.5 119.5h1M383.5 120.5h1M381.5 109h1M392.5 132h1M375.5 119.5h1M388.5 127.5h1M393.5 127h1M399 126h1M374 109.5h1M402.5 122.5h1M372.5 113h1M376 108h1M375 109.5h1M389 116h1" stroke="#00C19F" stroke-width="1" fill="none"/>
<path d="M404.5 122h1M384 121h1M383.5 125.5h1M383.5 125.5h1M379.5 113.5h1M399 128h1M396.5 132h1M375.5 116.5h1M403 127.5h1M398.5 130.5h1M383 122.5h1M391.5 131h1M395 133h1M374 116.5h1M381 122.5h1M376 118h1M379 115.5h1M387.5 126h1M385.5 114h1M384.5 114h1M374.5 105.5h1M398 121.5h1M395.5 133.5h1M369.5 118.5h1M402 125h1M390.5 130h1M377.5 105.5h1M374.5 106.5h1M392.5 129h1M382 108.5h1" stroke="#7CC850" stroke-width="1" fill="none"/>
<path d="M395.5 126.5h1M392 130.5h1M396 133.5h1M368.5 119h1M379 122.5h1M389 120h1M393 125h1M380 118h1M388.5 128.5h1M388 116.5h1M387.5 115.5h1M374 117.5h1M392.5 127.5h1M386 113.5h1M373.5 108.5h1M404.5 127h1M377 118h1M405 128h1M376.5 106h1M407 123h1" stroke="#C8A848" stroke-width="1" fill="none"/>
<path d="M405 128.5h1M378 121h1M381 109.5h1M398.5 127.5h1M382 117h1M396.5 126.5h1M372 109.5h1M383 110h1M408 122.5h1M392.5 123h1M399.5 123h1M384.5 124h1M383.5 117h1M383 124h1M382.5 115h1M402.5 128.5h1M395.5 130h1M384 124h1M378.5 114h1M382.5 119h1M376.5 113.5h1M385.5 113h1M394 128.5h1M381.5 110.5h1M373 107h1M400.5 122.5h1M368.5 118h1M369.5 117h1M403.5 122h1M372 107.5h1M399 124h1M387.5 128h1M389.5 117h1M389 126h1M396.5 121.5h1M400.5 129h1M372 109h1M386 118.5h1M402.5 128.5h1M371 112.5h1" stroke="#FFFFFF" stroke-width="1" fill="none"/>
<polygon points="350.5,121 359.6,116.5 368,118.5 376,121 384.4,125.8 394.4,134.4 395.6,141.9 392,146 389.4,149.3 379.5,153 367.1,153 357.1,149.3 352.2,141.9 350.2,132" fill="#6CC648" filter="url(#bl)"/>
<path d="M385 138h1M380.5 131.5h1M374 124h1M371 126h1M356.5 123.5h1M374.5 137.5h1M388 130.5h1M357.5 146.5h1M384.5 146.5h1M355.5 122.5h1M360.5 149.5h1M391.5 134h1M356 129.5h1M361 140h1M383 145h1M370 133h1M371.5 130h1M371 141.5h1M382.5 128.5h1M376 122h1M352.5 130.5h1M354 132h1M351.5 128h1M367 128h1M356.5 138h1M388.5 130.5h1M358 120.5h1M360.5 143h1M359 128h1M385 143.5h1M364 133h1M366.5 133.5h1M387 150h1M377.5 151.5h1M364 132.5h1M388.5 141.5h1M359.5 149.5h1M389.5 135h1M352.5 127h1M363.5 132h1M393 138h1M361.5 143h1M365.5 125h1M369 136.5h1M368.5 137h1M381 129h1M372.5 130.5h1M362.5 118.5h1M363.5 127.5h1M370.5 135.5h1M386 137h1M372.5 129h1M384.5 135h1M386 147h1M391 143h1M381 133.5h1M374.5 137.5h1M374 146.5h1M384.5 139h1M377.5 149.5h1M352.5 134h1M367 151h1M357.5 137h1M357 144h1M372.5 143.5h1M364 148.5h1M350.5 124.5h1M383.5 148.5h1M354 142.5h1M392.5 136h1M351.5 134h1M365.5 120.5h1M356 133h1M362.5 141h1M355 128.5h1M369 134h1M370 138.5h1M391.5 147h1M360.5 125.5h1M371 140h1M377.5 129.5h1M359.5 143h1M361 125.5h1M386 149.5h1M362 120h1M382.5 134h1M384 144.5h1M373.5 126.5h1M374 140.5h1M365 140h1M360 125h1M388.5 146.5h1M383.5 147h1M372.5 149h1M381 141h1M381.5 130h1M391 143h1M386.5 133.5h1M359.5 133h1M381 136.5h1M368.5 125.5h1M360.5 124.5h1M369 142h1M391.5 141h1M378 143h1M378 129.5h1M365.5 119h1M381 150h1M380.5 138.5h1M378 140h1M389.5 139h1M388 139.5h1M395 138h1M389 144.5h1M350.5 128.5h1M368 126.5h1M364 131h1M356 138.5h1M369.5 146h1M365.5 152h1M359 136h1M360.5 117h1M364 149h1M363.5 134.5h1M374 126h1M366 127h1M387 144.5h1M382 138h1M389.5 143.5h1M352.5 121.5h1M384 147h1M357.5 137h1M378.5 138.5h1M373.5 126.5h1M353.5 141h1M362 124.5h1M364 138.5h1M364.5 141h1M361.5 146.5h1M354.5 137.5h1M353.5 120h1M383 135.5h1M387.5 134.5h1M374 150.5h1M383 142h1M365 144.5h1M376.5 131.5h1M374 126.5h1M363 149h1M366 144.5h1M367 123.5h1M357.5 118.5h1M378 139h1M361 124.5h1M372.5 132h1M367 151h1M364.5 146.5h1M382 125h1M381.5 147h1M383 125.5h1M367 149.5h1M353 127.5h1M366.5 119.5h1M366.5 124h1M370 139h1M370 146h1M362 146.5h1M361.5 131h1M375.5 136h1M382.5 151h1M381.5 124.5h1M359 134h1M363 136.5h1M354.5 142h1M389 148.5h1M368 152.5h1M358 143h1M377.5 134h1M355.5 140h1M356.5 121.5h1M377 140h1M386.5 146.5h1M356.5 127.5h1M356.5 134.5h1M381 146h1M372.5 150h1M388 147h1M366 118.5h1M385 134h1M370 148h1M362.5 139h1M353 141h1M393.5 135h1M357 137.5h1M353 133.5h1M354 131.5h1M387.5 143.5h1M389 133h1M386 137.5h1M368.5 122h1M355.5 119.5h1M369.5 121.5h1M388 139h1M389.5 136.5h1M357.5 126.5h1M388.5 138h1M379.5 139.5h1M352.5 124h1M370 147.5h1M393 138h1M362 118h1M375.5 131.5h1M359.5 117h1M361.5 139h1M391.5 144h1M363 138.5h1M363.5 144h1M362 148h1M381 149h1M366 151.5h1M376.5 126h1M379.5 128h1M378 125.5h1M354.5 145h1M356.5 144h1M362.5 130h1M377.5 150.5h1M378.5 137.5h1M365 130.5h1M376 125.5h1M379.5 148h1M351.5 130h1M370 147.5h1M375 135.5h1M377.5 136.5h1M381 137h1M375.5 125h1M356 132.5h1M363.5 137.5h1M373.5 133h1M358.5 145.5h1M354 125h1M363 124h1M359 119.5h1M374 123h1M379.5 138.5h1M378.5 134h1M378 127.5h1M371.5 141.5h1M360 143.5h1M377 152h1M378 136.5h1M385 127h1M367 132.5h1M383.5 143h1M367.5 119.5h1M383 139h1M385.5 132.5h1M384 138.5h1M379 136.5h1M380.5 137h1M354.5 141h1M382 132h1M358 135h1M366.5 122.5h1M373.5 153h1M391.5 133h1M379 133.5h1M357.5 129.5h1M370 148h1M355.5 136h1M371.5 136.5h1M386 138.5h1M365 151.5h1M377.5 126.5h1M375 148h1M352.5 140h1M372.5 127h1M357.5 125h1M370 132h1M377.5 126.5h1M378.5 134h1M386.5 146h1M375 128.5h1M362 142.5h1M370 141.5h1M362 148h1M362 148.5h1M370 131h1M376.5 135.5h1M375 137h1M393.5 143.5h1M351.5 123h1M372.5 147.5h1M351 122.5h1M364.5 134.5h1M394 140h1M389 138h1M391.5 141h1M361 130h1" stroke="#5EB300" stroke-width="1" fill="none"/>
<path d="M372 120.5h1M392 134h1M359.5 134.5h1M361 123.5h1M373 141.5h1M360.5 141.5h1M377 144h1M373.5 123h1M354 140h1M354 136.5h1M359 126h1M385 133h1M357 141.5h1M370.5 136h1M382 147h1M356 135h1M358.5 137h1M363 151h1M370 146.5h1M385 134.5h1M368.5 121h1M380 150h1M381.5 128h1M374 129.5h1M368 144.5h1M373.5 122h1M383.5 126h1M368.5 125.5h1M377.5 132h1M381 132h1M386 136.5h1M355 134.5h1M361.5 127.5h1M393 134h1M360.5 121h1M361 145h1M373.5 145.5h1M377.5 135.5h1M358.5 119h1M358.5 135.5h1M377.5 133.5h1M379 137h1M379.5 131.5h1M388.5 136h1M388 144.5h1M381.5 136.5h1M361.5 120h1M380 125.5h1M378 136.5h1M378 132h1M361 127.5h1M382 149h1M364.5 128h1M370.5 132h1M379 144h1M385 146h1M370.5 133h1M380 128h1M388 132h1M375.5 135.5h1M363 134h1M353.5 127.5h1M393 141h1M387.5 147h1M358.5 135h1M354.5 130.5h1M372.5 146.5h1M363.5 141h1M356.5 126h1M353 137.5h1M377 142.5h1M369.5 150.5h1M383 137h1M363.5 136.5h1M377.5 151.5h1M393 133.5h1M359.5 144.5h1M378.5 147.5h1M375 126h1M371.5 133.5h1M366 137.5h1M357 125.5h1M374 143.5h1M368.5 149.5h1M378 140.5h1M363 149.5h1M366 147.5h1M367.5 130.5h1M365.5 129.5h1M357.5 131h1M366.5 142.5h1M369.5 152h1M390 142.5h1M366.5 128.5h1M369.5 134h1M388.5 139.5h1M357 141h1M361 139h1M369 151.5h1M370.5 126.5h1M364.5 151.5h1M366 125.5h1M374.5 141h1M365 143h1M372.5 141.5h1M352.5 123h1M364 123h1M363 120.5h1M351.5 135.5h1M354.5 143h1M354 121.5h1M372.5 127.5h1M386 135h1M374 130h1M368 146.5h1M355 132.5h1M374.5 122h1M375 143h1M377.5 134h1M358 140h1M370.5 141.5h1M352 127h1M355.5 144.5h1M372 127h1M385.5 135.5h1M363.5 131h1M390 136.5h1M393 136h1M370 139h1M369 140.5h1M366 140.5h1M359.5 134.5h1M369.5 135.5h1M352.5 125.5h1M372 153h1M378 143.5h1M368 131h1M371.5 126.5h1M375.5 143h1M389.5 135h1M380 150.5h1M378 134.5h1M373.5 131.5h1M358.5 123.5h1M386.5 135.5h1M352 139h1M388 140.5h1M358.5 135h1M371 122.5h1M362.5 123.5h1M358 118h1M379.5 141h1M369.5 133h1M392.5 140h1M371.5 144h1M384 127.5h1M353.5 143h1M384 138.5h1M355.5 143.5h1M358 145.5h1M378.5 139.5h1M353.5 130h1M352 131.5h1M389 139.5h1M360.5 119.5h1M388 147.5h1M358 128h1M357.5 143.5h1M385 126.5h1M384 140h1M388 144h1M373 152h1M371 133h1M379 145.5h1M377 151h1M362.5 149h1M378.5 151.5h1M375.5 143h1M380.5 132.5h1M360 126.5h1M366.5 143.5h1M375.5 128h1M384.5 147h1M363 133.5h1M363.5 146.5h1M359.5 117h1M377.5 136.5h1M353.5 137h1M374 127.5h1M360.5 122h1M372 130h1M377 141h1M362.5 138.5h1M362 143.5h1M359.5 138h1M383.5 145.5h1M374.5 150h1M366.5 126h1M358 120h1M379.5 130.5h1M392 146h1M374.5 129h1M365 118.5h1M385.5 133h1M371.5 140h1M365.5 141h1M385.5 135h1M385.5 139.5h1M376 122.5h1M356.5 119.5h1M370 127h1M360 138h1M377 131h1M366 121.5h1M382 130h1M377.5 146.5h1M353.5 132h1M366 150.5h1M378.5 123.5h1M356.5 135h1" stroke="#00BA38" stroke-width="1" fill="none"/>
<path d="M374.5 124.5h1M376.5 128h1M388.5 133h1M358 127h1M369 119h1M371 151.5h1M358.5 123h1M375 140h1M356.5 124.5h1M377.5 125h1M389.5 146h1M364.5 138.5h1M378 139.5h1M375.5 125h1M361 119.5h1M353 137.5h1M394 139.5h1M350.5 130.5h1M366.5 128h1M353.5 125.5h1M351 133h1M372 125h1M373 146h1M366 144h1M385.5 129.5h1M384 129.5h1M358 132h1M355.5 142.5h1M361.5 134.5h1M387 138.5h1M391.5 143h1M381.5 143.5h1M381.5 150h1M377 140.5h1M375 136h1M359 135h1M364.5 142.5h1M359.5 139h1M368 141.5h1M371.5 120.5h1M381.5 152h1M354.5 139h1M378 139h1M373 135h1M370 146h1M380.5 146h1M360 125h1M360.5 134h1M390.5 143h1M377 149h1M378 144h1M363.5 127.5h1M391.5 145.5h1M378.5 143.5h1M393.5 143h1M363 120h1M358 126h1M376 128.5h1M357 119.5h1M381.5 146h1M356 135h1M374.5 146h1M385.5 143.5h1M366 134.5h1M354 140h1M359 133.5h1M386 137h1M359 138h1M354.5 128h1M369 128.5h1M358 119h1M379.5 151.5h1M379 150h1M356 139h1M367 147.5h1M377.5 139h1M356.5 132.5h1M354 137h1M360.5 142h1M362.5 135.5h1M363 133h1M375 140.5h1M366 124h1M383.5 130h1M360 123.5h1M369.5 147h1M370 146h1M371.5 137.5h1M362 131.5h1M371 125.5h1M363.5 129h1M359 137.5h1M352 125h1M362 123h1M388 141.5h1M358.5 128h1M373.5 147h1M388 148h1M365.5 132h1M350.5 129.5h1M360 128h1M358 147.5h1M355.5 132.5h1M360 125.5h1M383.5 129.5h1M379 125h1M352.5 136.5h1M372.5 148h1M386.5 143.5h1M385 136h1M372.5 135.5h1M368 147.5h1M358 129h1M365 118h1M362 144.5h1M363.5 120h1M369.5 137.5h1M356 130.5h1M375.5 143.5h1M368.5 152.5h1M362 144h1M375 123h1M387 148.5h1M386 143h1M376 130.5h1M364.5 146.5h1M353.5 137.5h1M385.5 142.5h1M365.5 132.5h1M383 142.5h1M371 151.5h1M379 149h1M359 131.5h1M363.5 134.5h1M368.5 134.5h1M367 125.5h1M354 136h1M365.5 151h1M379 132h1M357.5 118.5h1M381.5 139h1M372.5 135h1M369 149.5h1M352.5 125h1M386 128h1M365.5 132.5h1M363.5 144h1M354.5 137h1M382.5 129h1M383.5 129.5h1" stroke="#C8A040" stroke-width="1" fill="none"/>
<path d="M364.5 137h1M378 133.5h1M352 136h1M359.5 139h1M360.5 120h1M353.5 139.5h1M390 144.5h1M377 148.5h1M367.5 152h1M393 140h1M379 129h1M354.5 128.5h1M360.5 139.5h1M380 139.5h1M359.5 120h1M367 150h1M371.5 145.5h1M358.5 129.5h1M383.5 138.5h1M366.5 152.5h1M367 126.5h1M382 134h1M378.5 130.5h1M362.5 127h1M360.5 142h1M354 121h1M373 152.5h1M385.5 141h1M355.5 121h1M366 134h1M360 119.5h1M356.5 124h1M357 140h1M383.5 150.5h1M385 145h1M382 132h1M376 150.5h1M370.5 148.5h1M382.5 134h1M392.5 144h1M360.5 142h1M364.5 127.5h1M360 140.5h1M386.5 140h1M363 131h1M386 143.5h1M374.5 143.5h1M387.5 135.5h1M381 147.5h1M389 144h1M357.5 122h1M380 139h1M360 147h1M382 136.5h1M392 132.5h1M369 125h1M383 151h1M365 138h1M369 119h1M388.5 134.5h1M357.5 125h1M351 130.5h1M368 147.5h1M384 129.5h1M385 140.5h1M353.5 133.5h1M369.5 133.5h1M375.5 141.5h1M368.5 135.5h1M388 141.5h1M359 121.5h1M362.5 151h1M368 148.5h1M394 142h1M367 143.5h1M373 151.5h1M373 139.5h1M381.5 139.5h1M358.5 137h1M369.5 141.5h1" stroke="#93AA00" stroke-width="1" fill="none"/>
<path d="M367 126h1M394 134.5h1M370.5 151.5h1M385.5 148h1M373 121h1M367 119.5h1M368.5 133h1M372 152h1M374.5 122.5h1M358.5 141.5h1M373.5 131.5h1M372.5 131.5h1M381 138h1M352.5 134.5h1M361.5 138h1M371 144.5h1M394 143.5h1M378 135h1M355.5 143h1M359 130.5h1M376.5 126h1M389.5 136.5h1M371.5 128.5h1M376.5 140h1M377 151h1M370 130h1M384 136.5h1M362.5 150h1M360.5 119h1M374.5 149.5h1M389 146.5h1M378 135h1M363.5 122.5h1M370.5 147h1M375.5 152.5h1M386.5 136.5h1M377 131.5h1M358.5 149.5h1M381 129.5h1M384 132h1" stroke="#00BFC4" stroke-width="1" fill="none"/>
<path d="M381.5 135h1M379 150h1M390.5 134h1M368 142.5h1M373.5 126.5h1M363.5 125.5h1M363 137h1M389.5 140h1M379.5 144.5h1M368 132h1M380 124h1M384.5 150h1M356 139h1M366 123h1M378 136h1M374.5 135h1M378 145h1M383 142.5h1M388 133.5h1M354 133h1M381 125h1M372.5 133.5h1M361.5 139.5h1M366.5 129h1M370.5 137.5h1M361.5 150.5h1M355 142h1M353 136h1M365 151h1M370 147h1M351.5 125h1M352 126h1M366.5 136h1M367.5 127.5h1M371.5 133.5h1M358.5 135.5h1M376.5 137.5h1M384 133h1M355.5 127.5h1M369 131.5h1M360 148h1M364 136.5h1M370 121.5h1M375 143h1M355.5 133h1M380.5 130h1M393 134.5h1M368 142h1M388 134.5h1M389 144h1M369 142.5h1M373.5 120.5h1M373 127.5h1M373 130.5h1M375 132.5h1M384.5 140.5h1M363 123.5h1M361 128.5h1M369.5 135h1M362 127.5h1" stroke="#FFFFFF" stroke-width="1" fill="none"/>
<polygon points="359.6,151.8 369.6,153 368.3,159.3 364.6,166.7 359.6,171.7 352.2,172.5 347.2,170 353.4,164.2 358.4,158" fill="#6EC0EE" filter="url(#bl)"/>
<path d="M361.5 152.5h1M360.5 164h1M363.5 167h1M355 170h1M360 163h1M365 158h1M362.5 163.5h1M353 168h1M361.5 154.5h1M360.5 170h1M359.5 162.5h1M356.5 163.5h1M364 161.5h1M358.5 158h1M354 172h1M361.5 153.5h1M359 160.5h1M360.5 157.5h1M366 157h1M359.5 161h1M359 159.5h1M349.5 170.5h1M359.5 158h1M363.5 158h1M348.5 170h1M362.5 157.5h1M361.5 159.5h1M358.5 157.5h1M359.5 165h1M366 157h1M360 163.5h1M367 161.5h1M359 168h1M360.5 162.5h1M362 157h1M364 154h1M354.5 171h1M349.5 170h1M365 155h1M352 167h1M362 152.5h1M359 155.5h1M366.5 163h1M353 165.5h1M364.5 163.5h1M363.5 154.5h1M355.5 171h1M362 159h1M365 159.5h1M367.5 159h1M361 153h1M362.5 154.5h1M362 161.5h1M350.5 169.5h1M360.5 167.5h1M364 160h1M359.5 158h1M362 160.5h1M365 158h1M355.5 170h1M349.5 169h1M361 159h1M362.5 166.5h1M364.5 159h1M359 157.5h1M356.5 170.5h1M365.5 163h1M355 166.5h1M362 159.5h1M363 161.5h1" stroke="#00B9E3" stroke-width="1" fill="none"/>
<path d="M364 152.5h1M356.5 167h1M363 162h1M364.5 162h1M364 155h1M357.5 169h1M363 163.5h1M356.5 170h1M363 166h1M367.5 155h1M350.5 169.5h1M356 171h1M361 156.5h1M359.5 161.5h1M360 153h1M355.5 169h1M351 171h1M366.5 160h1M362.5 154h1M368.5 155.5h1M364 159h1M353 170h1M368 155h1M359 154.5h1M357.5 171h1M363.5 160.5h1M364.5 167h1M358.5 167h1M354.5 171.5h1M359.5 171h1M357.5 171.5h1M357 171.5h1M360 163h1M351.5 166.5h1M359 160h1M350 170.5h1M360 153.5h1M355.5 162h1M351 167h1M359 162.5h1M362.5 159.5h1M366.5 159h1M358 168h1M354 165h1M358.5 162h1M361.5 166.5h1M362.5 168.5h1M366 161h1M368 155.5h1M365.5 157.5h1" stroke="#00ADFA" stroke-width="1" fill="none"/>
<path d="M365 159.5h1M360 166h1M363.5 156h1M362 155h1M352.5 168h1M361 155h1M364 165.5h1M360 154.5h1M353.5 165.5h1M349 169.5h1M355 165h1M352 169h1M360 155.5h1M350 167.5h1M353 171h1M365.5 154h1M352 166h1M355 171h1M360 162h1M364 163.5h1" stroke="#C8A848" stroke-width="1" fill="none"/>
<path d="M365 165h1M357.5 167h1M361.5 157h1M361.5 166.5h1M353.5 168h1M366.5 161.5h1M360 165.5h1M361.5 169.5h1M362.5 154h1M362 163.5h1M361.5 153.5h1M359 157.5h1M362.5 165.5h1M363 157h1M352 168h1" stroke="#7CC850" stroke-width="1" fill="none"/>
<path d="M355 172h1M360 153h1M354.5 166h1M359.5 153h1M366 161.5h1M362.5 152.5h1M367.5 158.5h1M355.5 168h1M359.5 165h1M350.5 169h1M364.5 165h1M363 155h1M357.5 162h1M354.5 168h1M352 168.5h1M364.5 165h1M352.5 165.5h1M355 166h1M351.5 168h1M363 153.5h1M352 166.5h1M358.5 159.5h1M367 157.5h1M367.5 159.5h1M356.5 169h1M364 155.5h1M356 163.5h1M362 166.5h1M354.5 168h1M351 170h1M365.5 159h1M352 172h1M357.5 163h1M357.5 161.5h1M359.5 157h1M349 170.5h1M357 161h1M358 161h1M363 163.5h1M363 153h1M358 160.5h1M360.5 156h1M361 162h1M353.5 168.5h1M363.5 162h1M358.5 158h1M358 163h1M367 161h1M354 169.5h1M351.5 169h1" stroke="#FFFFFF" stroke-width="1" fill="none"/>
<polygon points="382,101 386.9,94.7 394.4,89.8 401.8,84.8 409.3,83.6 415.5,87.3 416.7,93.5 411.7,97.2 405.5,99.7 404.3,104.7 399.3,103.4 391.9,101 385.7,103.4" fill="#F870A6" filter="url(#bl)"/>
<path d="M406 95h1M397.5 100.5h1M414 91.5h1M400.5 92.5h1M396 91.5h1M393 97.5h1M405 96.5h1M400 98h1M406 99h1M410.5 88.5h1M403.5 101h1M389.5 95h1M413 91h1M396 97.5h1M403 104h1M406 91h1M388 94.5h1M412 95h1M400.5 88h1M392.5 93.5h1M414.5 89.5h1M390 99h1M414.5 88.5h1M392.5 92.5h1M401 89h1M390 100.5h1M398.5 95.5h1M405 99.5h1M386 99h1M399.5 95h1M408 96h1M389 93.5h1M393 96h1M405 90h1M395.5 94h1M413 95.5h1M414 92h1M389.5 97.5h1M393.5 94.5h1M405 95.5h1M397 92.5h1M400 89.5h1M401 96h1M395.5 100.5h1M408.5 98h1M387.5 98.5h1M405 95h1M407.5 95h1M409.5 87h1M398.5 97h1M407.5 99h1M404 96h1M398.5 93h1M403 90.5h1M409.5 95h1M397 94.5h1M398.5 99.5h1M397.5 102h1M394.5 94h1M402 86h1M405 89h1M404.5 88.5h1M398.5 90h1M409 92h1M385 102.5h1M406.5 86.5h1M403 93h1M406 85h1M388 100.5h1M400 93h1M389 95h1M385.5 98.5h1M389.5 95.5h1M399 94h1M406.5 92.5h1M403 96h1M401.5 98h1M401.5 85h1M411 95h1M383.5 99.5h1M396.5 93.5h1M408.5 93h1M397 99h1M413 93.5h1M406.5 95.5h1M401 88h1M405.5 99.5h1M404.5 98.5h1M387.5 102h1M410.5 88h1M410 87.5h1M394 100h1M411 92h1M396.5 98.5h1M388.5 96.5h1M407 88.5h1M408 96.5h1M402 94.5h1M400.5 97.5h1M404.5 87h1M412 92.5h1M399 97h1M393.5 96h1M407.5 88.5h1M386 97.5h1M402 95h1M403.5 85h1M408 85.5h1M399 100h1M409 90h1M404 95h1M399 96h1M397.5 91.5h1M408.5 97h1M410 86h1M399.5 94h1M393.5 96.5h1M395.5 91.5h1M404 98h1M413.5 91.5h1M399 93h1M383 100h1M404 85.5h1M402 98h1M394 95h1M404 95h1M408 92h1M400.5 90.5h1M411.5 90h1M404 100.5h1M415.5 91h1M407 88h1M414.5 89h1M410 87.5h1M398 96h1M408 89h1M411 87h1M399 89.5h1M401.5 89h1M401 89h1M409.5 93h1M400 97.5h1M396 99.5h1M407.5 93.5h1M403 89h1M410 91.5h1M402 98.5h1M400.5 99.5h1M391.5 100h1M393 94.5h1M388.5 95h1M405 98h1M406 99h1M403 87h1M401 89.5h1M416 93.5h1M408.5 97h1M411.5 96h1M398 95h1M394 93h1M403 90h1M403 85h1M412 86h1M388.5 95.5h1M384 99.5h1M409.5 88h1M405 98.5h1M412.5 87.5h1M413.5 89.5h1M408.5 87.5h1M412 93h1M385 101h1M398 94h1M402 85.5h1M396.5 99h1M413 96h1M407.5 88.5h1M389.5 94.5h1M390 97h1M395.5 93.5h1M385 101.5h1M385 101h1M415 91h1M393.5 99.5h1M390 99.5h1M383.5 100h1M402 86h1M405.5 96h1M399 100h1M404 102.5h1M391 92.5h1M400 93.5h1M414.5 91.5h1M400 103h1M402.5 103.5h1M393 91.5h1M387.5 102h1M401.5 96h1M402.5 102.5h1M400 95h1M397.5 90.5h1M404 84.5h1M398.5 88h1M390 93h1M407 85.5h1M411.5 92.5h1M389.5 100h1M395 91.5h1M414.5 94h1M397 96h1M412 97h1M392 93h1M400 95.5h1M400.5 93.5h1M409 89h1M397 98h1M413 89h1M394.5 93.5h1M391.5 94.5h1M414.5 88.5h1M399 91h1M411.5 91.5h1M391 101h1M387.5 95.5h1M408.5 94.5h1M392 96h1M393.5 97.5h1M409 86h1M391.5 97.5h1M404 102.5h1" stroke="#FF699C" stroke-width="1" fill="none"/>
<path d="M400.5 90.5h1M409 98h1M397.5 101h1M396.5 97.5h1M401.5 96h1M401 87h1M405 94h1M413.5 90.5h1M408.5 92.5h1M398.5 93.5h1M402.5 98h1M387 97.5h1M410.5 92.5h1M403 86h1M406 99.5h1" stroke="#FF61C3" stroke-width="1" fill="none"/>
<path d="M401 86.5h1M416.5 93.5h1M411 89h1M395.5 98h1M401 90.5h1M408.5 87.5h1M410.5 84.5h1M405 94h1M396.5 96h1M401 87h1M398.5 93h1M401 101h1M415 89.5h1M402 104h1M399.5 98h1M405 88h1M415.5 92h1M401.5 100h1M393 98.5h1M393 91h1M402 93h1M398.5 95.5h1M408.5 86.5h1M400 88h1M414.5 88h1M397.5 100h1M390 98.5h1M399 90.5h1M399.5 99.5h1M403.5 91h1M400.5 100.5h1M413.5 91h1M409 90h1M402 93h1M394 91h1M401 96.5h1M393.5 99h1M413.5 88h1M388 99.5h1M409 91h1M414 86.5h1M400 102h1M396 97.5h1M399 98.5h1M407.5 99h1M408.5 88h1M404.5 100.5h1M408 87.5h1M390.5 96.5h1M393 95.5h1M400.5 94.5h1M411 87.5h1M403.5 87.5h1M393 100.5h1M406 86.5h1M394 99.5h1M398.5 87h1M396.5 90.5h1M407.5 86h1M406.5 85.5h1M411 92.5h1M396.5 91h1M404.5 94h1M406.5 93h1M411 96h1M391.5 92.5h1M397 96.5h1M385.5 98h1M401 93h1M401 90.5h1" stroke="#FFFFFF" stroke-width="1" fill="none"/>
<path d="M384 89h1M384.5 89h1M385.5 84.5h1M384.5 85.5h1M385 88h1M385.5 91.5h1M388 92.5h1M384.5 89.5h1M386.5 89.5h1M385 85h1M384 88h1M385.5 89h1M384 88.5h1M386.5 90h1M384.5 87.5h1M384.5 89.5h1M385 88h1M385 85.5h1M386.5 90.5h1M385 85h1M386.5 89.5h1M386 91.5h1M386.5 92.5h1M384.5 86.5h1M385 86h1M384.5 85.5h1M385.5 91.5h1M387 92.5h1M386.5 92.5h1M383.5 85h1" stroke="#F564E3" stroke-width="1" fill="none"/>
<polygon points="447.7,108.4 452,106 458.9,104.7 464,104.6 468.8,105.9 471.8,109 472.2,112.1 471,115.5 468.8,118.3 464,119.5 458.9,119.6 454,119 450.2,117.6 446,113.3" fill="#6EA0F8" filter="url(#bl)"/>
<path d="M454.5 113h1M455.5 111h1M462.5 118.5h1M447.5 111h1M464.5 116.5h1M462.5 109h1M460.5 118h1M461.5 113.5h1M456 116h1M471.5 111.5h1M463 112.5h1M452.5 118h1M448 111h1M470 113h1M456 107.5h1M456 116h1M464 114h1M471 110h1M453.5 114h1M470.5 115h1M468.5 117h1M452.5 115h1M466.5 116.5h1M451 110h1M450 117h1M464.5 113h1M460.5 115.5h1M458 107.5h1M459 113h1M451.5 108h1M447.5 114.5h1M467.5 108.5h1M451 111h1M453.5 116h1M452.5 108.5h1M456.5 117.5h1M464.5 106.5h1M463.5 114.5h1M450.5 109h1M465 117h1M463 109.5h1M465.5 118.5h1M460.5 114h1M461.5 118.5h1M459 106.5h1M459 111h1M464 112h1M452.5 107.5h1M465.5 113h1M466 107.5h1M457.5 106.5h1M450.5 110h1M449 112.5h1M454.5 110h1M448.5 114h1M448 114.5h1M460 108.5h1M463 115h1M469 116.5h1M470 109.5h1M449.5 111h1M470 115h1M449 116h1M467 111.5h1M463 117.5h1M457 116.5h1M461 116.5h1M468 107h1M451 113.5h1M455 109h1M451.5 110h1M461.5 105h1M450.5 112.5h1M455.5 115h1M470 116h1M463 113.5h1M451 107h1M457.5 115h1M458 112h1M452.5 110.5h1M455.5 111.5h1M468 112h1M449 108h1M468 117h1M454 110h1M457.5 110h1M465.5 115h1M462 118.5h1M461.5 107.5h1M459.5 108.5h1M470 116.5h1M448.5 114.5h1M463 116h1M450 113.5h1M449 111h1M455.5 110h1M456.5 112.5h1M449 112.5h1M448 115h1M447 112h1M470.5 116h1M458 111.5h1M466 106h1M455.5 112h1M450.5 111.5h1M455 106.5h1M461.5 111h1M449.5 112.5h1M452 113h1M454.5 115.5h1" stroke="#619CFF" stroke-width="1" fill="none"/>
<path d="M455 116h1M455 116h1M465.5 111h1M458.5 106h1M453.5 108.5h1M467 116.5h1M462.5 116h1M457.5 114h1M459.5 118h1M459 118h1M456 108.5h1M450 111h1M454 106.5h1M454 119h1M466.5 111h1M452 112h1M454.5 114h1M453.5 114h1M466 109h1M452 113h1M461 118h1M467.5 111.5h1M459 116.5h1M461 106.5h1M456 106.5h1M463.5 116.5h1M462.5 105.5h1M464 116h1M451.5 115.5h1M470.5 108h1" stroke="#9CC0FC" stroke-width="1" fill="none"/>
<path d="M445.5 114.5h1M442.5 114h1M440.5 116.5h1M443.5 116.5h1M445 114.5h1M442.5 114.5h1M446 113.5h1M444 114.5h1M447 113.5h1M446 112h1M441.5 117h1M447 113.5h1" stroke="#619CFF" stroke-width="1" fill="none"/>
<path d="M443 115h1M443.5 117h1M444.5 114h1M440 117h1M440.5 116h1M440.5 118h1M442.5 114h1M441 117.5h1" stroke="#FF699C" stroke-width="1" fill="none"/>
<path d="M445 114.5h1M446 113.5h1M441 117.5h1M441.5 117h1M446.5 114h1M444 113h1" stroke="#F8766D" stroke-width="1" fill="none"/>
<polygon points="437.5,156 440,154.8 443,156.3 446,158.5 445.5,161.5 441,161.8 438,160" fill="#B08CF4" filter="url(#bl)"/>
<path d="M442 156.5h1M443.5 158.5h1M440 156h1M443.5 157.5h1M444.5 158h1M442 160h1M438.5 158h1M439 160.5h1M440.5 157.5h1M438 156.5h1M440.5 156.5h1M439.5 157h1M442 159.5h1M442.5 159h1M443 158h1M441.5 158h1M440 158.5h1M441 159h1M441 161.5h1M438.5 157h1M441 161h1M438.5 158.5h1M444 158h1M440.5 158.5h1M444.5 160.5h1" stroke="#AE87FF" stroke-width="1" fill="none"/>
<polygon points="361.3,49.4 362.5,45.9 363.7,42.4 367.2,39.4 373,37.1 380,35.3 385.9,34.2 390.5,32.8 389.4,35.3 387,37.7 388.2,41.2 391.7,44.7 394,46.4 396.4,47 392.9,48.8 389.4,49.4 384.7,48.2 380,50.5 375.4,52.9 373,56.4 371.9,54 369.5,51.7 366,51.1 362.5,51.1" fill="#F07A72" fill-opacity="0.8" stroke="#F07A72" stroke-width="0.8" stroke-opacity="0.5"/>
<path d="M372.5 52h0.8M371.5 49.5h0.8M381.5 47h0.8M391.5 45h0.8M377.5 37.5h0.8M378 45h0.8M382 41h0.8M385 46.5h0.8M370 46.5h0.8M384.5 39h0.8M385 43h0.8M369 49.5h0.8M389.5 47h0.8M386.5 47h0.8M388.5 36h0.8M368 44.5h0.8M377 49h0.8M375 46.5h0.8M385.5 46h0.8M374 53h0.8M383 39h0.8M381 40h0.8M381.5 48h0.8M378.5 36.5h0.8M383 37h0.8M366.5 50h0.8M373 56h0.8M372.5 49.5h0.8M374 51h0.8M370 50h0.8M380 35.5h0.8M363 45.5h0.8M382 48h0.8M375 37.5h0.8M387 35.5h0.8M377.5 50.5h0.8M374 38h0.8M379.5 37.5h0.8M382 45h0.8M382 41.5h0.8M380.5 47.5h0.8M366.5 43.5h0.8M367.5 49h0.8M387 42.5h0.8M390 48h0.8M380.5 38.5h0.8M367 51h0.8M375.5 49.5h0.8M368 41h0.8M371.5 53.5h0.8M372 48.5h0.8M390 43.5h0.8M376.5 49.5h0.8M367.5 41h0.8M387.5 42.5h0.8M365.5 45h0.8M371.5 47.5h0.8M373 52.5h0.8M373 54.5h0.8M386.5 34h0.8M379.5 35.5h0.8M383.5 36h0.8M395.5 47.5h0.8M373 38h0.8M389 44.5h0.8M374 44h0.8M363 45.5h0.8M365 44h0.8M376.5 39h0.8M371.5 44.5h0.8M373 43.5h0.8M369.5 44h0.8M364 42.5h0.8M388 41.5h0.8M385 39h0.8M377.5 49.5h0.8M363 46.5h0.8M388 47h0.8M389 47h0.8M370.5 51.5h0.8M364.5 43h0.8M363.5 43.5h0.8M371 45.5h0.8M389 34h0.8M378.5 42.5h0.8M383 45.5h0.8M378 51h0.8M372.5 48h0.8M383 36.5h0.8M387 47h0.8M386.5 43.5h0.8M382 36.5h0.8M373 42.5h0.8M386.5 35h0.8M375 52h0.8M386.5 38.5h0.8M373 48.5h0.8M382 41.5h0.8M373 42.5h0.8M373.5 51.5h0.8M393.5 46h0.8M365 44h0.8M362.5 50.5h0.8M376 47.5h0.8M375.5 41h0.8M364 45.5h0.8M377.5 42h0.8M368 43.5h0.8M365.5 48.5h0.8M371.5 53.5h0.8M368 50h0.8M379.5 48h0.8M374 45.5h0.8M376 44h0.8M365 45h0.8M383.5 47h0.8M383.5 40.5h0.8M367.5 49h0.8M363 45h0.8M379 47h0.8M388 40.5h0.8M392 45.5h0.8M380 44.5h0.8M386 45h0.8M365 45h0.8M383 39.5h0.8M388.5 48h0.8M373.5 43.5h0.8M364 43h0.8M370.5 48h0.8M368 45h0.8M369 48h0.8M378.5 37.5h0.8M375 39h0.8M371.5 48h0.8M373 48.5h0.8M390 46.5h0.8M371.5 46h0.8M369.5 41.5h0.8M369 43h0.8M388.5 33.5h0.8M379.5 38h0.8M385.5 44h0.8M365 50.5h0.8M376.5 47h0.8M371.5 44.5h0.8M378 36.5h0.8M375.5 41h0.8M368 41.5h0.8M373.5 48h0.8" stroke="#FFFFFF" stroke-width="0.8" stroke-opacity="0.6" fill="none"/>
<path d="M377.5 50h1M372.5 55.5h1M371.5 50h1M378 40.5h1M382.5 44h1M374.5 46.5h1M376 50.5h1M366.5 46h1M372.5 42h1M385.5 47h1M378.5 47h1M376.5 45.5h1M387 42h1M373 55.5h1M375 49h1M369.5 48.5h1M369.5 48.5h1M361.5 49.5h1M368.5 42h1M390 46h1M380 43.5h1M366 41h1M379 36.5h1M365 48h1M372.5 40.5h1M366 50.5h1M374 48.5h1M367 49h1M375 45.5h1M368 45.5h1M379 42.5h1M384 45h1M364 43h1M383 44.5h1M379.5 40.5h1M370 48h1M386 44h1M383.5 36h1M386.5 39h1M387 40h1M394 47h1M387 45.5h1M374.5 48.5h1M381 42.5h1M382.5 48.5h1M376.5 43.5h1M370.5 50.5h1M370 40h1M369 42.5h1M363 49.5h1M369 47.5h1M372 44h1M377 46.5h1M380 49h1M373 55h1M381.5 41.5h1M370.5 40.5h1M386.5 47.5h1M363 50h1M378.5 45h1M371 46h1M384.5 44h1M369 41.5h1M389.5 44h1M384.5 37h1M373 37.5h1M373.5 39.5h1M375 49h1M384 34.5h1M377 45.5h1M376.5 41.5h1M379.5 46.5h1M366 43.5h1M379 50.5h1M386.5 47.5h1M379 37h1M373.5 40h1M373.5 39.5h1M378.5 47.5h1M372 48h1M384.5 42h1M374.5 51.5h1M385.5 40.5h1M379 42h1M376.5 51h1M380.5 49h1M385 38.5h1M392.5 47.5h1M381.5 41.5h1M385.5 38h1M384 39.5h1M376.5 38.5h1M368.5 41.5h1M373 40h1M388.5 42h1M373 46.5h1M380.5 35.5h1M365.5 45.5h1M371.5 40h1M381.5 48.5h1M384.5 43.5h1M388 47h1M377.5 36.5h1M378 46.5h1M365.5 50.5h1M380.5 38.5h1M388 42h1M366 44.5h1M379.5 41h1M369 39h1M376 50h1M370 44.5h1M387 39h1M369.5 42h1M382.5 45.5h1M366.5 50.5h1M376 45.5h1M377 40.5h1M369 40h1M365 45h1" stroke="#F8766D" stroke-width="1" fill="none"/>
<line x1="396.4" y1="47" x2="409.2" y2="47.6" stroke="#E88526" stroke-width="0.9" />
<polygon points="409.2,47.6 412.1,44.9 413.3,45.9 413.3,50.5 411,51.1" fill="#E88526" stroke="#E88526" stroke-width="0.5"/>
<polygon points="371.3,54 373.6,54.6 373,59.9 371.9,59.3" fill="#3CCFC0"/>
<path d="M570 33.5h1M591.5 11h1M558.5 16h1M564 27.5h1M581 13h1M583.5 12h1M563.5 31h1M591 18h1M545.5 28.5h1M548 18h1M585 24h1M546.5 24h1M597.5 8h1M550.5 27.5h1M548.5 20h1M562.5 34.5h1M569 39.5h1M564 18.5h1M568 36.5h1M557 22h1M586.5 12h1M570.5 35h1M545 23h1M559.5 33h1M559 17.5h1M560.5 19h1M573.5 34h1M550 32h1M544 24.5h1M581.5 31.5h1M572 27.5h1M558 36h1M572 35.5h1M549 30h1M562 26h1M575.5 32.5h1M578.5 13.5h1M582.5 27.5h1M573.5 22h1M570 34.5h1M571 32.5h1M556 30h1M558 20.5h1M569.5 28h1M543.5 21.5h1M564 19h1M567 41h1M585 22h1M568 27h1M569 19.5h1M530.5 27h1M570.5 38.5h1M551 22.5h1M568 16.5h1M554 18.5h1M544 24h1M531.5 29h1M556.5 17.5h1M582.5 16h1M569 24h1M572 28.5h1M579.5 11.5h1M580.5 18h1M563 19h1M545 26h1M558 20h1M579.5 28h1M555 27.5h1M576.5 29.5h1M552 21h1M588 14h1M575.5 22.5h1M592.5 12.5h1M559 26.5h1M560.5 19h1M534 28h1M587 15h1M572 41h1M577 12h1M533.5 29h1M566.5 33.5h1M590 12h1M555.5 18.5h1M568.5 24.5h1M534 29.5h1M565 29h1M542.5 26.5h1M579 13.5h1M577 30.5h1M528.5 31h1M568 15.5h1M585.5 12h1M570.5 19.5h1M569.5 19.5h1M584 22.5h1M568 27.5h1M579 21h1M570 22.5h1M551 21h1M590 12.5h1M540 24.5h1M575 31h1M578.5 13h1M550 18h1M558 17h1M578.5 32.5h1M574 40.5h1M572 22.5h1M562 19.5h1M594 9h1M542 21.5h1M536 25h1M553 26h1M530.5 26.5h1M588 15h1M559.5 27.5h1M551 29.5h1M546 23h1M586 15h1M585.5 18.5h1M555 27.5h1M554.5 18.5h1M580 27h1M580.5 27.5h1M572.5 41h1M578 32h1M581 27h1M569.5 15.5h1M555 20h1M567 36.5h1M577 23h1M555.5 23h1M585 22h1M565.5 20h1M580 16h1M586 24.5h1M591.5 14.5h1M583.5 18.5h1M575 37.5h1M570 35.5h1M561.5 28h1M546 21h1M559 32h1M575.5 31h1M563.5 35.5h1M550 28h1M574.5 25.5h1M567 34h1M577 18h1M593.5 17h1M580 31h1M575 37h1M579 29h1M538 25.5h1M591 15.5h1M572.5 39h1M575 27h1M577.5 20.5h1M590.5 14.5h1M570 39h1M581 15h1M527 27h1M578 22h1M555 26h1M592 18h1M544 28.5h1M596.5 14h1M565.5 28.5h1M568 30h1M575.5 33h1M572 40h1M587 24h1M534 29h1M579 36h1M570.5 41.5h1M551 23.5h1M574.5 33.5h1M564 20.5h1M531 28.5h1M551 31.5h1M595 10h1M580.5 32.5h1M559 19.5h1M551.5 17.5h1M560.5 32h1M583 27.5h1M581 20h1M557.5 21h1M556 24h1M555.5 28h1M554.5 17h1M558.5 17.5h1M535 23.5h1M594.5 8.5h1M534 25.5h1M571.5 20.5h1M550.5 24h1M567 41.5h1M540.5 27.5h1M542.5 26.5h1M578.5 12h1M559 32h1M554.5 25h1M569 35h1M545 23h1M572.5 40h1M550.5 26h1M594 10h1M556.5 33h1M563 21h1M564.5 36.5h1M560 27h1M538 23.5h1M579 16.5h1M552 29.5h1M591.5 13.5h1M579 27h1M585.5 24.5h1M577.5 29h1M569.5 15h1M595.5 11h1M557.5 30h1M527.5 30h1M587 11.5h1M580.5 16.5h1M580.5 25.5h1M555 29h1M572.5 13.5h1M533 24.5h1M575 23h1M566.5 39.5h1M560 26h1M573 22h1M590.5 16.5h1M570.5 30h1M596 11.5h1M581.5 19h1M530 29.5h1M551.5 29.5h1M578 16.5h1M553.5 19h1M577.5 21.5h1M589 9.5h1M565.5 17.5h1M530.5 25.5h1M581.5 11.5h1M556 17h1M551.5 29.5h1M584.5 26h1M566.5 25h1M542 24h1M580.5 28.5h1M575.5 33h1M570 37.5h1M530 27.5h1M548 28h1M571.5 24.5h1M589.5 12h1M554.5 22h1M597.5 12h1M572.5 34h1M574 19h1M578.5 25h1M577 29h1M583.5 13h1M563.5 24h1M572.5 21h1M572 15.5h1M572.5 28h1M579.5 25h1M555.5 18h1M579 20.5h1M568 34h1M556.5 31.5h1M587 12.5h1M581 11h1M557.5 22.5h1M584 24h1M570 36.5h1M569.5 32.5h1M575 15h1M553 23h1M557 34.5h1M575.5 37.5h1M575 34h1M583 22h1M573 30.5h1M574.5 34.5h1M537 26h1M587 20h1M529.5 28.5h1M586.5 18.5h1M593.5 10h1M526.5 28.5h1M580.5 24h1M584 23h1M555 23h1M585.5 15.5h1M578.5 21.5h1M582 18h1M571.5 39.5h1M561.5 24h1M543.5 23h1M527.5 31h1M595 10.5h1M574.5 23.5h1M547.5 31.5h1M585.5 25h1M549 25h1M557 30.5h1M569.5 21.5h1M545.5 20h1M568.5 28h1M535.5 23h1M592 9.5h1M528.5 29.5h1M575.5 25h1M570 37h1M536 24h1M547 29.5h1M599 12h1M579.5 33h1M557.5 17h1M542 29h1M556 29h1M557 17.5h1M573 16h1M560.5 28h1M582 18h1M548 29h1M543 26h1M539 23.5h1M582.5 16h1M577.5 24.5h1M578.5 33h1M551.5 27.5h1M542 23.5h1M568 18.5h1M552.5 18.5h1M571 37.5h1M583 17.5h1M567 15.5h1M573.5 28h1M531.5 28h1M576.5 33h1M559.5 38h1M570.5 31.5h1M558 26.5h1M549 24h1M562.5 37h1M545.5 27h1M569 30.5h1M558.5 28.5h1M556.5 27h1M560.5 17.5h1M592 10h1M549 32h1M542 24h1M573.5 32.5h1M559 26h1M561 30.5h1M547.5 31.5h1M550.5 29h1M569.5 31h1M577 32h1M540 29h1M580.5 15h1M560 25.5h1M578 34.5h1M556.5 27h1M572.5 26.5h1M533.5 24.5h1M569.5 32h1M563 31h1M571.5 38h1M560 24.5h1M573 27h1M546.5 25h1M566 39h1M559 19h1M544.5 29.5h1M562.5 16.5h1M581 26.5h1M589.5 18.5h1M595 9h1M579 36h1M592 12.5h1M555 25.5h1M557 18h1M541 22h1M562.5 31h1M574 25.5h1M574 19h1M536 23h1M560 35h1M590.5 17.5h1M572.5 39.5h1M549 19.5h1M562 20.5h1M542.5 22h1" stroke="#F4B6E0" stroke-width="1" fill="none"/>
<path d="M569.5 26.5h1M564 29h1M561 24.5h1M563.5 24h1M550.5 20.5h1M554 23.5h1M552.5 29.5h1M558 19.5h1M546.5 24.5h1M551 27.5h1M554.5 21.5h1M553 27h1M558 25h1M562.5 24.5h1M569.5 24h1M561 26.5h1M565.5 28.5h1M550 23.5h1M562.5 22h1M546 28h1M554.5 24h1M562.5 32h1M563 20.5h1M560 27.5h1M552.5 31.5h1M561 28.5h1M549 30.5h1M552.5 27h1M564 22h1M552 22h1M557.5 26h1M562 21h1M560 26.5h1M558 23.5h1M557.5 23h1M564.5 26.5h1M558.5 29h1M559 26.5h1M560 18.5h1M548.5 29h1M554 19h1M566 29h1M564.5 23h1M548.5 29.5h1M551 28h1M563 21h1M545.5 26.5h1M565.5 26.5h1M564 24h1M560 21.5h1M551 26h1M560.5 32h1M560.5 25h1M562 27h1M555.5 21h1M562.5 23h1M554.5 28h1M562 25h1M566 22h1M554 29h1M562.5 24h1M559 31h1M567.5 20h1M566 25.5h1M569 22h1M562 27.5h1M570.5 22.5h1M555 18.5h1M562.5 18h1M567 19h1M550 32.5h1M558 29.5h1M554 20.5h1M554.5 33h1M550 32h1M567.5 28h1M552 29h1M568.5 26.5h1M551 27h1M561.5 17.5h1M552 25h1M547 26h1M562.5 22h1M560 25.5h1M565.5 26.5h1M561.5 26h1M566 18h1M548 31h1M568 27h1M567 28.5h1M555 18.5h1M564.5 28.5h1M557 21h1M554.5 32.5h1M557 20h1M564 23h1M557.5 28h1M552.5 26.5h1M550.5 20.5h1M559 24h1M568 19h1M568.5 21h1M554 18.5h1M553.5 33h1M554.5 30.5h1M550 24h1M549.5 21h1M554 19.5h1M562.5 25.5h1M552.5 21h1M556.5 18h1M558.5 21h1M565 21h1M569 20.5h1M569 24.5h1M567.5 24.5h1M559 21h1M564.5 23h1M567.5 28.5h1M552 23.5h1M554.5 26.5h1M563 28h1M565.5 24.5h1M558 32.5h1M559.5 26.5h1M553 28h1M557.5 32.5h1M566.5 26h1M549 29h1M561 19h1M566.5 27.5h1M564 21h1M556 23h1M555.5 32h1M556.5 30h1M561.5 18h1M550.5 26.5h1M565.5 20.5h1M551.5 23h1M557 23.5h1M569 27h1M552.5 22.5h1M558 19.5h1M555.5 17.5h1M562 31h1M568 26.5h1M555 26h1M559.5 19.5h1M559 25h1M550.5 24h1" stroke="#F4B6E0" stroke-width="1" fill="none"/>
<path d="M531.5 40h1M529.5 49.5h1M536.5 55.5h1M566 45.5h1M544.5 53h1M552.5 40.5h1M527 50h1M539 40h1M513.5 36h1M557 45.5h1M572.5 39h1M555 46.5h1M519 48h1M555 36.5h1M555.5 48h1M520 34.5h1M553.5 47.5h1M540 40h1M556.5 48h1M541.5 46.5h1M540 43.5h1M540 69h1M561 36h1M532.5 66h1M550 46h1M540 52.5h1M566.5 40.5h1M561 46h1M547 39.5h1M531.5 52.5h1M545 42h1M554.5 41h1M534 57.5h1M534.5 62h1M535 63.5h1M529.5 37.5h1M537 40h1M526 43h1M542 36h1M524 46.5h1M518.5 36.5h1M548.5 42.5h1M553 41.5h1M558.5 44h1M565.5 47.5h1M532.5 36.5h1M513 42h1M530.5 48h1M565.5 37.5h1M517.5 31h1M532 59.5h1M539 56.5h1M543 45h1M517 38.5h1M523.5 36h1M530 46h1M557 42.5h1M526 38.5h1M538.5 37.5h1M542 69h1M518.5 39.5h1M524.5 43.5h1M541.5 49h1M541.5 67h1M523 50h1M527.5 38.5h1M570.5 40h1M522 56.5h1M555.5 45h1M548.5 37h1M527.5 47h1M515.5 33.5h1M537.5 46.5h1M551 44.5h1M554.5 41.5h1M547.5 33h1M558.5 42.5h1M556 35h1M545 44.5h1M540.5 42h1M526 37.5h1M537.5 51h1M522 47h1M570 43h1M518.5 40.5h1M565 44.5h1M550 38.5h1M541 43.5h1M541 55h1M542.5 38.5h1M553 41.5h1M524 46h1M543 45.5h1M539.5 58.5h1M542.5 47h1M547 41.5h1M553.5 47.5h1M555 44.5h1M551 38.5h1M541.5 50.5h1M512 35.5h1M523 36.5h1M523 43h1M524 40h1M544 53h1M550.5 50h1M531.5 59.5h1M551 39.5h1M544 38.5h1M543.5 54h1M540 40h1M538.5 44h1M526 61.5h1M523 46h1M537.5 38h1M535 53.5h1M537.5 51h1M536 38h1M556.5 42.5h1M527.5 40.5h1M541 66h1M520.5 35h1M536.5 63.5h1M530 41h1M527 44h1M539 52h1M529 52h1M517 45.5h1M528.5 46.5h1M562.5 46h1M540 37h1M555.5 47h1M535 61.5h1M514 44.5h1M536.5 35.5h1M529 54h1M515 44h1M567 36h1M521.5 42.5h1M525 39h1M559.5 33.5h1M541.5 36h1M528.5 60h1M542 40h1M541.5 48h1M520.5 52.5h1M532 55h1M523.5 51.5h1M523 42h1M515.5 42.5h1M545 39.5h1M530.5 39h1M536 64.5h1M545 44h1M529 53h1M543 37.5h1M566 43h1M528.5 53.5h1M523.5 58.5h1M541 38.5h1M518.5 37h1M531.5 45.5h1M567.5 41h1M537 66.5h1M539 54h1M562.5 39.5h1M565.5 39.5h1M545 51h1M530.5 64.5h1M528.5 62h1M536.5 36.5h1M517 31.5h1M527 59h1M511.5 35.5h1M551 43h1M522 48h1M555.5 44h1M546 38h1M547 49.5h1M536 60.5h1M538.5 46.5h1M556 38h1M532.5 40h1M530.5 60h1M561.5 42h1M516.5 46h1M515 43.5h1M568 42h1M563.5 38h1M519.5 44h1M546.5 50.5h1M570.5 43h1M570.5 43.5h1M532.5 61h1M530.5 55.5h1M546.5 47.5h1M560.5 48.5h1M519.5 44.5h1M528.5 62h1M535 60.5h1M544.5 41h1M559.5 35h1M523 49.5h1M527 50h1M549.5 38.5h1M520 39.5h1M523 35h1M525.5 36.5h1M550.5 42.5h1M547 43.5h1M566 39.5h1M538.5 53.5h1M544.5 46h1M557.5 32h1M527 48.5h1M522 44.5h1M536 46h1M527 55h1M519.5 44h1M549.5 43h1M568 47h1M555 33.5h1M571.5 44h1M517.5 33.5h1M552 49.5h1M520 51h1M542 38.5h1M521.5 55.5h1M545 51.5h1M512.5 38.5h1M554 47h1M539 64.5h1M535 59.5h1M525.5 55h1M540 54h1M516.5 38h1M560 46h1M549 48h1M544.5 41h1M566.5 35.5h1M538.5 56h1M567.5 36.5h1M565 41h1M515.5 42.5h1M522.5 45.5h1M560.5 33.5h1M527 55.5h1M521.5 55.5h1M522.5 35h1M521 32h1M572 45h1M558.5 47.5h1M543 40.5h1M570 39h1M565 34.5h1M539 69h1M519.5 52h1M554.5 38h1M518.5 42.5h1M533.5 40h1M517.5 32h1M523.5 43.5h1M519.5 38.5h1M537.5 55.5h1M565.5 44h1M549 44h1M569 41.5h1M532 60.5h1M546.5 39h1M524 51h1M540.5 37h1M552.5 46.5h1M555.5 45.5h1M522 45h1M572 40.5h1M536 54.5h1M538.5 66h1M557 45.5h1M551 39h1M570 37h1M523.5 57.5h1M551 37h1M530.5 51.5h1M540.5 47h1M551.5 45h1M518 45.5h1M541 69.5h1M534 51.5h1M513 36h1M523 38h1M522 35h1M541.5 53h1M557 47.5h1M543.5 45.5h1M555 40h1M519.5 36.5h1M517.5 46h1M549 39h1M516 44h1M539.5 66h1M528.5 54h1M544.5 40h1M545 41h1M561 40h1M560 38h1M526.5 51h1M531.5 57h1M529 37h1M519.5 43.5h1M531.5 53h1M542 36.5h1M522.5 37.5h1M518.5 37.5h1M556 33h1M512 36.5h1M526 48h1M544.5 38.5h1M529 46.5h1M552.5 35.5h1M517.5 44h1M532 58.5h1M540.5 51.5h1M539.5 69h1M560 44.5h1M529 37.5h1M518.5 35h1M564 35.5h1M527.5 56.5h1M559.5 36h1M535 63h1M554.5 32h1M546 39.5h1M536.5 47.5h1M533 39.5h1M559.5 33h1M537.5 69h1M546.5 52h1M522.5 55h1M553.5 34.5h1M523 45.5h1M543.5 41.5h1M516 42h1M537 61.5h1M563 44.5h1M549 34.5h1M539.5 39.5h1M536.5 51.5h1M529 58.5h1M550 45.5h1M518 42.5h1M571 39h1M540.5 65.5h1M517.5 31.5h1M524 40h1M516 35h1M564 36h1M541 47.5h1M528 48h1M521 34h1M526.5 61.5h1M557 35h1M544 33.5h1M550 41h1M523 33.5h1M559 41.5h1M530.5 37.5h1M546.5 45h1M544 49h1M545 41h1M524 47.5h1M540 48.5h1M532.5 55.5h1M569.5 36.5h1M539 70h1M534 51h1M556.5 41h1M549 50.5h1M550.5 44.5h1M524 45h1M548 50.5h1M516.5 41.5h1M559 36h1M541 35h1M538.5 49.5h1M515.5 37h1M569.5 46.5h1M543 39.5h1M563 36h1M530 38h1M538.5 44h1M559 43.5h1M567.5 41h1M530.5 38.5h1M550.5 33.5h1M547 43h1M552.5 34.5h1M554 41h1M521.5 43.5h1M535.5 44.5h1M531.5 37h1M538.5 44h1M566.5 47h1M539 66h1M557.5 38h1M533.5 44h1M562 36.5h1M532 54.5h1M537.5 59.5h1M533 58.5h1M555.5 34h1M556 36h1M524.5 44.5h1M531 65h1M538 40.5h1M542 46.5h1M552.5 34h1M518.5 43h1M534.5 66h1M542 69h1M532 43.5h1M515.5 38h1M537.5 60.5h1M524 59.5h1M539 40h1M538 39.5h1M533.5 55h1M537.5 42h1M555 41h1M516.5 44.5h1M567 42h1M557 41.5h1M548.5 50h1M536.5 59.5h1M534 57.5h1M546.5 35h1M543 35h1M539 40h1M534.5 37h1M529 55h1M522 42h1M530.5 43h1M553.5 45.5h1M512.5 33.5h1M548.5 47h1M547.5 37h1M534.5 40.5h1M541.5 47h1M565 40.5h1M555.5 33h1M549.5 46.5h1M566 41.5h1M549.5 45.5h1M543 43.5h1M530.5 47h1M541.5 38.5h1M563.5 38h1M540 48h1M552 45.5h1M536.5 65h1M561 40.5h1M550.5 46h1M535.5 53h1M556.5 46.5h1M542 50h1M524 45h1M565 43h1M543 43h1M560.5 48.5h1M565.5 39h1M513.5 37h1M557.5 48.5h1M534 42.5h1M555.5 46.5h1M550.5 37.5h1M545 49h1M542 50h1M542.5 55h1M530.5 36.5h1M528.5 64h1M560 44h1M528.5 38.5h1M512 40.5h1M571.5 41h1M550.5 44h1M520.5 36.5h1M559.5 34h1M526 54h1M547.5 34h1M532 57.5h1M526 36h1M514.5 35h1M529.5 63.5h1M567 46.5h1M572 39.5h1M557.5 32h1M548.5 32h1M516 31h1M536.5 36h1M547.5 41h1M524.5 39h1M560 34.5h1M525.5 36h1M537.5 36.5h1M548.5 33h1M521.5 48h1M538.5 69h1M556 42h1M539.5 49h1M531.5 38.5h1M569 37h1M540.5 47.5h1M550.5 42h1M556.5 39h1M528.5 43h1M554.5 36.5h1M529 52.5h1M524.5 40.5h1M552 40.5h1M567 47.5h1M557 40.5h1M512 39.5h1M520 36h1M529.5 41h1M533 60.5h1M533.5 60.5h1M534 52.5h1M523.5 38.5h1M533 65h1M533 43.5h1M546.5 49h1M533.5 53h1M540 69h1M528.5 46.5h1M513.5 40.5h1M531 41h1M550.5 35.5h1M530 52.5h1M544.5 54h1M521.5 41h1M521.5 34h1M536 69h1M511 38.5h1M543 55h1M548 41h1M533 55.5h1M521 42h1M547.5 48.5h1M535.5 45.5h1M526.5 58h1M556 40.5h1M526.5 41h1M531 50.5h1M537 39h1M533 66h1M567 37h1M522.5 40h1M511 39.5h1M521.5 51.5h1M516.5 35.5h1M556.5 48.5h1M537.5 66.5h1M553 50h1M562.5 44.5h1M532.5 54.5h1M572.5 38h1M551.5 49.5h1M541 45h1M534 54h1M521 49.5h1M520 51h1M542 47h1M530.5 62.5h1M525.5 51.5h1M571.5 45h1M537 58h1M566.5 40h1M542.5 49.5h1M539.5 56h1M523 42h1M526.5 48h1" stroke="#7AAED6" stroke-width="1" fill="none"/>
<path d="M548 54.5h1M549.5 57h1M546 67.5h1M556.5 54.5h1M558.5 55h1M564 51.5h1M543 63h1M544.5 54h1M558.5 55h1M564.5 53.5h1M561 52.5h1M573.5 50.5h1M551.5 54.5h1M550 63h1M555 54.5h1M537 66h1M547.5 53h1M562.5 56h1M540.5 60.5h1M560 51.5h1M552 53.5h1M565.5 50.5h1M564 52.5h1M550 54h1M546 57.5h1M539.5 66h1M571.5 50h1M561 49.5h1M545.5 64.5h1M544.5 56.5h1M550.5 54.5h1M563 56h1M538 64.5h1M555.5 58h1M553.5 51h1M540.5 66h1M548.5 53.5h1M543.5 64h1M552.5 51.5h1M566 57.5h1M545 70.5h1M561.5 55h1M544.5 56h1M550 65.5h1M572.5 48h1M565 56.5h1M560 58.5h1M555.5 56h1M537.5 63h1M557.5 56.5h1M553 63h1M556.5 52.5h1M546.5 65h1M574 49.5h1M544 63.5h1M538 68.5h1M550 55h1M550 52.5h1M557.5 50h1M554 53.5h1M543 61h1M554.5 58.5h1M572.5 52.5h1M571 55h1M544 55.5h1M555 50h1M548 60.5h1M560.5 49.5h1M548 54h1M538 59h1M539 63.5h1M555 60h1M540 63h1M543 71.5h1M565 57.5h1M552 61.5h1M555 57.5h1M544.5 58.5h1M545 61h1M566.5 56.5h1M560.5 54h1M540.5 59.5h1M549 65.5h1M541 61.5h1M562.5 47.5h1M537 67h1M571 47h1M547.5 63.5h1M559.5 57h1M573.5 49h1M542 67h1M571.5 52h1M570 55h1M560.5 60h1M557.5 54h1M540 68.5h1M553.5 56h1M566 56h1M548.5 54h1M537 66.5h1M552 61h1M569 55h1M554.5 56h1M540.5 71.5h1M566.5 47h1M569.5 50h1M569.5 48h1M540 65.5h1M540 62h1M569 51.5h1M546.5 69.5h1M550 59.5h1M543.5 58.5h1M566 48.5h1M551.5 60h1M573.5 53.5h1M554 57h1M542.5 62h1M570.5 52.5h1M561.5 49.5h1M575.5 52.5h1M553.5 63h1M548 64h1M538.5 66.5h1M540 72h1M539.5 63h1M571 50h1M543 55.5h1M562 56h1M566 57.5h1M569.5 54.5h1M552.5 62.5h1M556 59h1M538.5 71h1M566.5 55.5h1M546 57h1M543 65.5h1M570.5 48.5h1M547 63.5h1M549 62.5h1M550 65h1M566.5 47h1M564 49.5h1M563 47.5h1M549 55h1M543 72.5h1M553 51h1M559 48.5h1M545 62.5h1M562 53.5h1M575 52h1M568.5 52.5h1M551.5 61.5h1M560.5 48h1M560.5 49.5h1M571.5 49.5h1M546.5 67h1M559 49.5h1M566 55h1M563.5 57h1M558 56h1M560.5 51h1M553 51h1M552 63h1M563.5 58.5h1M566 48.5h1M569.5 53h1M538.5 61h1M541 58.5h1M550 62.5h1M551 64h1M573.5 54h1M550.5 62h1M538.5 65h1M560.5 55.5h1M541 58h1M540 60.5h1M545 64h1M543.5 69.5h1M573 50h1M556 58.5h1M567.5 47h1M559 56h1M551 54h1M542 67.5h1M556.5 60.5h1M557.5 60.5h1M552.5 60.5h1M548 55h1M536.5 66.5h1M551.5 55.5h1M542 70h1M550.5 51.5h1M553 60.5h1M566.5 50h1M554 61h1M542.5 70h1M543.5 58.5h1M555.5 61.5h1M545 56.5h1M558 55h1M570 47h1M564.5 56.5h1M568 52.5h1M574 52h1M541.5 71h1M541.5 69h1M541.5 64.5h1M546.5 57.5h1M568.5 53.5h1M563.5 57.5h1M551.5 58h1M541.5 72.5h1M544 67h1M562 48h1M553 58h1M540 61.5h1M562 53.5h1M566 55h1M560 54h1M540 66h1M538.5 58h1M550.5 59.5h1M560 59h1M564 52.5h1M545 58.5h1M552.5 57.5h1M549 53.5h1M547 56h1M554.5 59.5h1M554.5 58h1M543.5 64h1M561.5 57h1M570.5 50h1M542.5 62h1M565.5 47h1M563 52.5h1M557 60.5h1M565.5 57.5h1M567.5 55h1M540.5 56.5h1M542 60.5h1M540.5 59.5h1M557.5 49h1M557.5 55h1M549.5 60h1M563 58h1M542 67.5h1M542 56.5h1M566.5 47.5h1M575.5 52.5h1M549.5 65.5h1M541.5 70h1M547.5 68h1M540 62.5h1M548.5 62h1M560.5 59h1M549 57.5h1M542 67.5h1M573.5 51h1M550 65h1M562.5 50.5h1M564 51h1M569.5 48.5h1M543 60.5h1M569.5 56.5h1M564 55h1M555.5 62h1M564 52.5h1M546 64h1M547.5 53.5h1M547.5 59h1M557 54h1M538.5 70h1M544 71h1M545.5 70h1M538 64.5h1M573 54.5h1M563 50.5h1M550.5 51.5h1M556 53.5h1M556.5 52.5h1M563.5 58h1M570.5 52.5h1M543.5 71.5h1M550 59h1M561 53.5h1M571.5 52.5h1M570 51.5h1M555 58.5h1M556.5 54h1M545 57.5h1M546.5 57h1M549.5 53.5h1M568.5 48.5h1M575.5 52h1M545 66h1M544.5 67.5h1M537.5 59.5h1M542 67.5h1M566 49.5h1M541 62h1M575 53.5h1M575 48.5h1M567 56h1M565.5 56h1M566 57.5h1M536 65h1M570 54.5h1M568.5 51h1M541 70.5h1M562.5 48.5h1M558 55.5h1M573 49h1M557 52.5h1M561.5 50.5h1M542.5 69h1M559 58.5h1M560.5 54.5h1M571 53h1M550.5 65.5h1M573 52.5h1M552 59h1M570 53h1M565 52h1M575.5 50.5h1M540 71h1M571.5 47h1M570 50h1M572.5 50h1" stroke="#EFA33E" stroke-width="1" fill="none"/>
<path d="M511 38h1M516 38.5h1M516.5 40h1M511 38.5h1M511.5 39.5h1M514.5 41h1M512 39h1M511.5 40.5h1M513 40h1M512 40h1M514 37.5h1M511 39h1M512 40.5h1M511.5 37.5h1M512.5 40.5h1M514 36h1M514 39h1M514 39.5h1M512 38.5h1M516 37h1M512 40.5h1M513.5 39h1M511.5 36.5h1M514.5 40.5h1M515 40h1" stroke="#B0A6DE" stroke-width="1" fill="none"/>
<path d="M517 56.5h1M519.5 55h1M518 56h1M518 58.5h1M516.5 56.5h1M515.5 58.5h1M516.5 56h1M516.5 55h1M518 57h1M520 55h1M519.5 57.5h1M515 56.5h1M519.5 56h1M519.5 58.5h1M518.5 55h1M518 54h1M514.5 56h1M514.5 56h1M516.5 55h1M516.5 57h1M520 56.5h1M513.5 55.5h1M519.5 56h1M520 57h1M519 58h1" stroke="#B0A6DE" stroke-width="1" fill="none"/>
<path d="M596.5 52h1M576 42h1M585.5 34.5h1M597.5 51h1M596 40.5h1M590 36h1M593.5 45h1M589 49.5h1M602 48h1M600.5 50.5h1M591.5 38h1M601 40.5h1M590.5 41h1M581.5 46.5h1M585.5 43h1M576.5 50h1M590.5 53h1M586.5 49h1M589 52h1M596 46.5h1M587 48.5h1M595 44.5h1M607.5 44h1M584.5 38h1M587 53.5h1M607 50h1M604.5 48.5h1M577.5 43.5h1M596.5 51.5h1M591.5 53h1M583 36.5h1M593.5 53.5h1M603.5 45h1M575 45.5h1M599 48.5h1M593.5 45.5h1M600 42h1M600 42.5h1M578.5 46h1M594 37h1M577.5 41.5h1M597.5 50h1M577.5 39h1M587 38.5h1M580 48.5h1M596 40.5h1M589 43.5h1M586.5 46.5h1M584.5 32h1M603 46h1M595 39.5h1M592.5 45.5h1M582 33.5h1M575.5 41.5h1M598.5 46h1M577.5 42h1M575 44.5h1M593.5 45h1M582 42.5h1M589 37h1M589 46h1M585 48h1M606.5 44h1M603.5 47.5h1M581 34.5h1M579.5 33.5h1M594 44h1M601 52.5h1M586.5 39.5h1M587.5 44h1M587.5 53.5h1M593.5 39.5h1M605.5 45h1M591.5 36h1M586 43h1M604.5 50.5h1M583 39.5h1M582 52h1M578 37h1M580.5 34h1M586.5 46.5h1M600.5 42.5h1M590.5 36h1M580 49.5h1M586 54h1M586.5 45h1M578.5 43.5h1M578 48h1M574 38h1M605 51.5h1M574 44h1M605 43.5h1M585 50h1M586.5 41h1M586 38.5h1M591.5 42h1M579.5 35h1M574.5 37h1M575.5 43.5h1M585.5 32h1M584 48h1M586.5 32.5h1M601.5 48h1M603.5 47.5h1M588 42.5h1M609 48.5h1M588.5 36h1M599 50.5h1M591.5 35h1M588.5 47h1M606 45h1M594 45.5h1M601.5 42.5h1M582.5 48.5h1M595 54h1M604 47.5h1M603.5 49.5h1M592 51.5h1M608 48h1M585 50h1M573 47h1M591.5 45h1M593.5 37.5h1M583 35.5h1M587.5 43.5h1M582.5 34h1M596.5 40.5h1M588 39.5h1M577.5 52h1M576 36h1M595 53.5h1M574 44.5h1M599 48h1M601 46h1M607.5 46.5h1M582 49h1M577 41.5h1M596 52h1M583.5 35.5h1M598 46.5h1M594.5 46.5h1M573.5 42h1M578.5 36h1M590.5 50.5h1M600.5 50.5h1M595.5 53h1M584 35h1M592.5 37.5h1M581 38.5h1M603 46.5h1M607.5 48.5h1M580 36.5h1M608 48.5h1M593 50h1M588 34.5h1M599 41.5h1M600.5 48h1M584 53h1M587 33.5h1M582 49h1M606 43h1M597.5 48h1M590.5 35h1M604.5 48.5h1M578 52.5h1M599.5 39.5h1M580.5 41.5h1M583.5 43.5h1M579 34.5h1M586.5 36.5h1M584.5 49.5h1M585.5 50h1M592 47.5h1M598 48.5h1M587.5 45h1M596.5 50.5h1M574 42.5h1M607.5 46h1M589 40.5h1M584 33h1M578.5 49h1M581 45h1M583.5 49h1M601 43h1M596.5 45.5h1M584 52h1M580.5 42h1M578.5 47.5h1M575 49h1M589 51h1M600 41.5h1M587.5 48.5h1M608.5 50h1M586 41h1M604.5 44h1M602.5 52h1M594.5 50.5h1M593.5 42.5h1M601.5 40.5h1M588.5 39.5h1M593.5 51h1M574.5 44h1M583 37h1M598.5 46h1M576 39h1M590.5 47h1M588 40.5h1M599 51.5h1M600 44h1M595 43h1M587.5 48.5h1M601 45.5h1M587 38h1M579 37.5h1M591 53.5h1M597.5 49h1M573 43.5h1M573.5 38.5h1M582 35.5h1M578 37h1M576.5 39.5h1M601.5 52.5h1M581.5 44.5h1M582.5 39h1M586.5 36h1M591.5 40h1M577.5 51.5h1M593 39.5h1M578.5 47h1M583.5 46.5h1M595.5 45.5h1M588 33h1M577.5 41h1M607.5 44.5h1M584.5 33.5h1M581 46.5h1M582.5 33h1M591.5 51h1M582 36.5h1M581 44.5h1M595 38h1M602.5 43.5h1M589.5 39.5h1M578 52h1M579.5 50h1M591 53.5h1M607.5 47h1M584.5 44h1M594.5 51.5h1M583 41.5h1M585.5 50h1M583.5 40.5h1M584.5 40.5h1M577 41.5h1M581.5 45.5h1M580 38h1M590.5 51h1M608.5 46.5h1M588 43h1M581 35h1" stroke="#7ED8C2" stroke-width="1" fill="none"/>
<path d="M605 51h1M609.5 50h1M610.5 52h1M607 51h1M611.5 49h1M611.5 48.5h1M607 49.5h1M609.5 50h1M609 52h1M606 51.5h1M612 49h1M610 52h1M611.5 51.5h1M612 49.5h1M610.5 51.5h1M608 52.5h1M611 51.5h1M608.5 52.5h1M608 49h1M606 51h1M610.5 50h1M610 52h1M608 52h1M609 52.5h1M606.5 50.5h1" stroke="#F0605A" stroke-width="1" fill="none"/>
<path d="M659.5 46.5h1M656.5 45.5h1M658 52.5h1M661 52.5h1M658 44.5h1M653.5 47.5h1M653 53h1M660 57.5h1M664.5 47h1M658.5 57h1M659 53h1M657.5 46h1M658.5 47h1M660.5 46.5h1M665 52.5h1M657.5 51.5h1M665 51h1M656.5 44h1M652 51.5h1M662.5 48h1M653.5 49h1M659.5 55.5h1M660.5 44h1M661.5 49h1M664 51h1M661.5 51.5h1M658 48h1M663.5 53h1M663 48.5h1M659 57h1M658.5 47h1M659 53.5h1M661.5 46h1M654 51.5h1M665.5 47h1M664.5 48h1M662 47h1M665 50.5h1M661 53h1M658 53h1M658 52h1M653.5 48h1M661.5 53.5h1M656.5 56.5h1M660.5 60h1M660 58h1M663.5 58h1M655 54h1M660 44.5h1M664.5 45h1M659 50h1M656.5 44.5h1M659.5 43.5h1M654.5 52h1M660 59h1M663 48.5h1M662.5 60.5h1M659 43h1M656.5 47h1M664.5 47.5h1M663 56.5h1M658.5 55h1M664.5 53.5h1M659.5 58h1M662.5 53h1M659 55h1M656 43.5h1M662 55h1M653.5 52.5h1M659 46h1M655.5 44.5h1M662 49h1M660.5 43h1M663 55.5h1M659.5 59.5h1M666 54h1M661 51h1M657.5 49h1M664 54.5h1M657.5 55h1M663 46h1M654 46h1M663.5 46.5h1M662.5 59.5h1M660 51.5h1M663.5 49h1M660 58.5h1M658.5 49h1M660 57.5h1M663 45h1M659.5 58.5h1M662.5 51h1M655 50.5h1M662.5 49h1M659.5 42.5h1M659.5 47.5h1M661.5 44h1M654 53h1M660.5 44h1M661.5 56.5h1M662.5 51.5h1M653.5 52h1M658.5 50.5h1M660 52h1M660.5 46h1M655.5 43.5h1M664 47.5h1M655.5 57.5h1M654 51h1M653 49h1M656 54h1M665 52.5h1M664 45.5h1M654.5 52.5h1M661 52.5h1M664 53h1M663.5 56h1M660.5 48h1M661.5 55.5h1M656.5 43.5h1M660 48.5h1M653 53.5h1M657.5 54.5h1M662 47.5h1M652.5 47.5h1M660 54h1M656.5 45.5h1M660.5 57.5h1M655 53h1M660 54h1M656.5 56h1M664.5 49.5h1M656 51.5h1M662 55.5h1M661.5 56.5h1M660 50.5h1M652 46h1M660 57.5h1M665.5 53h1M660.5 48.5h1M664 48.5h1M662.5 50h1M654 52h1M661 53h1M658 48.5h1M655.5 49.5h1M665.5 54h1M660 50h1M655.5 52.5h1M656.5 46h1M660 55.5h1M653.5 45h1M660 45.5h1M661 49.5h1M664.5 53.5h1M666 48.5h1M663 50h1M657.5 49.5h1M664.5 45.5h1M662.5 59h1M662.5 58.5h1M661 56h1M657 57.5h1M662 57.5h1M666 52h1M656 46.5h1M661.5 58h1M655.5 48.5h1M662.5 52.5h1M653 54h1M653 55h1M652.5 51h1M660.5 46.5h1M657.5 45.5h1M661 59h1M653 55h1M658 54h1M657 51.5h1M659.5 43h1M655 57h1M654 51.5h1M659 44.5h1M663 59h1M662.5 47.5h1M661.5 59.5h1M655.5 55.5h1M664 52.5h1M664 50.5h1M656 51.5h1M660.5 45.5h1M658.5 45.5h1M661 59.5h1M663 48.5h1M653 46h1M658 50h1M665 55.5h1M666 50h1M666 53.5h1M653 55.5h1M660.5 57h1M664.5 52.5h1M660.5 54h1M659 46.5h1M660.5 55h1M662 58h1M659.5 48h1M660.5 60h1M655 48h1M653 48.5h1M655 48.5h1" stroke="#A6E25A" stroke-width="1" fill="none"/>
<path d="M617 50h1M618.5 50h1M623.5 49h1M625.5 49.5h1M627 49.5h1M629.5 49.5h1M631.5 50h1M633 50h1M636.5 49h1M639.5 49.5h1M643 49.5h1M644 49.5h1M649 49h1" stroke="#A6E25A" stroke-width="1" fill="none"/>
<line x1="16.1" y1="139.5" x2="16.1" y2="72" stroke="#333" stroke-width="0.9" />
<line x1="16.1" y1="139.5" x2="84.5" y2="139.5" stroke="#333" stroke-width="0.9" />
<path d="M14.1 75.5L16.1 71.5L18.1 75.5z" fill="#333"/>
<path d="M81 137.5L85 139.5L81 141.5z" fill="#333"/>
<text transform="translate(13.4 120.5) rotate(-90)" font-size="9.3" text-anchor="middle" font-weight="normal" fill="#222" >UMAP 2</text>
<text x="15.6" y="149.2" font-size="9.3" text-anchor="start" font-weight="normal" fill="#222"  stroke="#222" stroke-width="0.16">UMAP 1</text>
<line x1="24.1" y1="281.5" x2="24.1" y2="214" stroke="#333" stroke-width="0.9" />
<line x1="24.1" y1="281.5" x2="92.5" y2="281.5" stroke="#333" stroke-width="0.9" />
<path d="M22.1 217.5L24.1 213.5L26.1 217.5z" fill="#333"/>
<path d="M89 279.5L93 281.5L89 283.5z" fill="#333"/>
<text transform="translate(21.4 262.5) rotate(-90)" font-size="9.3" text-anchor="middle" font-weight="normal" fill="#222" >UMAP 2</text>
<text x="23.6" y="291.2" font-size="9.3" text-anchor="start" font-weight="normal" fill="#222"  stroke="#222" stroke-width="0.16">UMAP 1</text>
<circle cx="128" cy="260" r="3.1" fill="#C8C8C8" stroke="none" stroke-width="0.5" />
<circle cx="128" cy="273.2" r="3.1" fill="#5A5A5A" stroke="none" stroke-width="0.5" />
<text x="136.3" y="264" font-size="9.6" text-anchor="start" font-weight="normal" fill="#222"  stroke="#222" stroke-width="0.16">young</text>
<text x="136.3" y="277" font-size="9.6" text-anchor="start" font-weight="normal" fill="#222"  stroke="#222" stroke-width="0.16">old</text>
<line x1="328.8" y1="144.7" x2="328.8" y2="174.3" stroke="#555" stroke-width="0.8" />
<line x1="328.8" y1="174.3" x2="358.9" y2="174.3" stroke="#555" stroke-width="0.8" />
<path d="M327.6 146.5L328.8 144.2L330 146.5z" fill="#555"/>
<path d="M357 173.1L359.4 174.3L357 175.5z" fill="#555"/>
<text transform="translate(336.2 158.8) rotate(-90)" font-size="6.4" text-anchor="middle" font-weight="normal" fill="#111" stroke="#111" stroke-width="0.1">UMAP 2</text>
<text x="331.3" y="181.3" font-size="6.4" text-anchor="start" font-weight="normal" fill="#111" stroke="#111" stroke-width="0.1">UMAP 1</text>
<line x1="502.4" y1="54.5" x2="502.4" y2="84.4" stroke="#555" stroke-width="0.8" />
<line x1="502.4" y1="84.4" x2="532.3" y2="84.4" stroke="#555" stroke-width="0.8" />
<path d="M501.2 56.3L502.4 54L503.6 56.3z" fill="#555"/>
<path d="M530.5 83.2L532.9 84.4L530.5 85.6z" fill="#555"/>
<text transform="translate(499.9 69) rotate(-90)" font-size="6.3" text-anchor="middle" font-weight="normal" fill="#111" stroke="#111" stroke-width="0.1">UMAP 2</text>
<text x="504.9" y="82.6" font-size="6.3" text-anchor="start" font-weight="normal" fill="#111" stroke="#111" stroke-width="0.1">UMAP 1</text>
<text x="562.3" y="24.1" font-size="6.2" text-anchor="start" font-weight="normal" fill="#000" stroke="#000" stroke-width="0.12">Mono</text>
<text x="521.3" y="49" font-size="6.2" text-anchor="start" font-weight="normal" fill="#000" stroke="#000" stroke-width="0.12">RNASE1.IMs</text>
<text x="539" y="60.7" font-size="6.2" text-anchor="start" font-weight="normal" fill="#000" stroke="#000" stroke-width="0.12">PLA2G7.IMs</text>
<text x="505" y="66.5" font-size="6.2" text-anchor="start" font-weight="normal" fill="#000" stroke="#000" stroke-width="0.12">Cycling</text>
<text x="583.8" y="47.4" font-size="6.2" text-anchor="start" font-weight="normal" fill="#000" stroke="#000" stroke-width="0.12">cDC2</text>
<text x="602.3" y="53.5" font-size="6.2" text-anchor="start" font-weight="normal" fill="#000" stroke="#000" stroke-width="0.12">cDC1</text>
<text x="591" y="58.6" font-size="6.2" text-anchor="start" font-weight="normal" fill="#000" stroke="#000" stroke-width="0.12">migDCs</text>
<text x="652" y="53.8" font-size="6.2" text-anchor="start" font-weight="normal" fill="#000" stroke="#000" stroke-width="0.12">pDCs</text>
<rect x="356.4" y="30.9" width="71.8" height="30.1" fill="none" stroke="#666" stroke-width="0.8" stroke-dasharray="1.6 1.2"/>
<text x="357.2" y="46" font-size="6.8" text-anchor="start" font-weight="normal" fill="#000" stroke="#000" stroke-width="0.12">Macs/Mono</text>
<text x="413.8" y="49.4" font-size="6.8" text-anchor="start" font-weight="normal" fill="#000" stroke="#000" stroke-width="0.12">DCs</text>
<circle cx="331.7" cy="188.9" r="1.6" fill="#F8766D" stroke="none" stroke-width="0.5" />
<text x="334.9" y="191" font-size="5.9" text-anchor="start" font-weight="normal" fill="#222"  stroke="#222" stroke-width="0.11">Macs/Mono</text>
<circle cx="331.7" cy="194.6" r="1.6" fill="#E88526" stroke="none" stroke-width="0.5" />
<text x="334.9" y="196.7" font-size="5.9" text-anchor="start" font-weight="normal" fill="#222"  stroke="#222" stroke-width="0.11">DCs</text>
<circle cx="331.7" cy="200.3" r="1.6" fill="#D39200" stroke="none" stroke-width="0.5" />
<text x="334.9" y="202.4" font-size="5.9" text-anchor="start" font-weight="normal" fill="#222"  stroke="#222" stroke-width="0.11">T</text>
<circle cx="331.7" cy="206.1" r="1.6" fill="#B79F00" stroke="none" stroke-width="0.5" />
<text x="334.9" y="208.2" font-size="5.9" text-anchor="start" font-weight="normal" fill="#222"  stroke="#222" stroke-width="0.11">T.CD4</text>
<circle cx="331.7" cy="211.8" r="1.6" fill="#93AA00" stroke="none" stroke-width="0.5" />
<text x="334.9" y="213.9" font-size="5.9" text-anchor="start" font-weight="normal" fill="#222"  stroke="#222" stroke-width="0.11">T.CD8</text>
<circle cx="370.2" cy="188.9" r="1.6" fill="#5EB300" stroke="none" stroke-width="0.5" />
<text x="373.4" y="191" font-size="5.9" text-anchor="start" font-weight="normal" fill="#222"  stroke="#222" stroke-width="0.11">T8.Exh</text>
<circle cx="370.2" cy="194.6" r="1.6" fill="#00BA38" stroke="none" stroke-width="0.5" />
<text x="373.4" y="196.7" font-size="5.9" text-anchor="start" font-weight="normal" fill="#222"  stroke="#222" stroke-width="0.11">T8.Exh/HS</text>
<circle cx="370.2" cy="200.3" r="1.6" fill="#00BF74" stroke="none" stroke-width="0.5" />
<text x="373.4" y="202.4" font-size="5.9" text-anchor="start" font-weight="normal" fill="#222"  stroke="#222" stroke-width="0.11">Tmem</text>
<circle cx="370.2" cy="206.1" r="1.6" fill="#00C19F" stroke="none" stroke-width="0.5" />
<text x="373.4" y="208.2" font-size="5.9" text-anchor="start" font-weight="normal" fill="#222"  stroke="#222" stroke-width="0.11">Treg</text>
<circle cx="370.2" cy="211.8" r="1.6" fill="#00BFC4" stroke="none" stroke-width="0.5" />
<text x="373.4" y="213.9" font-size="5.9" text-anchor="start" font-weight="normal" fill="#222"  stroke="#222" stroke-width="0.11">Lym</text>
<circle cx="406.9" cy="188.9" r="1.6" fill="#00B9E3" stroke="none" stroke-width="0.5" />
<text x="410.1" y="191" font-size="5.9" text-anchor="start" font-weight="normal" fill="#222"  stroke="#222" stroke-width="0.11">Lym.Cytotoxic</text>
<circle cx="406.9" cy="194.6" r="1.6" fill="#00ADFA" stroke="none" stroke-width="0.5" />
<text x="410.1" y="196.7" font-size="5.9" text-anchor="start" font-weight="normal" fill="#222"  stroke="#222" stroke-width="0.11">Lym.Exh/Cyc</text>
<circle cx="406.9" cy="200.3" r="1.6" fill="#619CFF" stroke="none" stroke-width="0.5" />
<text x="410.1" y="202.4" font-size="5.9" text-anchor="start" font-weight="normal" fill="#222"  stroke="#222" stroke-width="0.11">B</text>
<circle cx="406.9" cy="206.1" r="1.6" fill="#AE87FF" stroke="none" stroke-width="0.5" />
<text x="410.1" y="208.2" font-size="5.9" text-anchor="start" font-weight="normal" fill="#222"  stroke="#222" stroke-width="0.11">Plasma</text>
<circle cx="406.9" cy="211.8" r="1.6" fill="#DB72FB" stroke="none" stroke-width="0.5" />
<text x="410.1" y="213.9" font-size="5.9" text-anchor="start" font-weight="normal" fill="#222"  stroke="#222" stroke-width="0.11">NK</text>
<circle cx="451.5" cy="188.9" r="1.6" fill="#F564E3" stroke="none" stroke-width="0.5" />
<text x="454.7" y="191" font-size="5.9" text-anchor="start" font-weight="normal" fill="#222"  stroke="#222" stroke-width="0.11">CAF</text>
<circle cx="451.5" cy="194.6" r="1.6" fill="#FF61C3" stroke="none" stroke-width="0.5" />
<text x="454.7" y="196.7" font-size="5.9" text-anchor="start" font-weight="normal" fill="#222"  stroke="#222" stroke-width="0.11">Endo</text>
<circle cx="451.5" cy="200.3" r="1.6" fill="#FF699C" stroke="none" stroke-width="0.5" />
<text x="454.7" y="202.4" font-size="5.9" text-anchor="start" font-weight="normal" fill="#222"  stroke="#222" stroke-width="0.11">Mal</text>
<rect x="221.6" y="5.6" width="91.4" height="224" fill="none" stroke="#C8C8C8" stroke-width="0.8"/>
<text x="219.6" y="19.3" font-size="7.6" text-anchor="end" font-weight="normal" fill="#111"  stroke="#111" stroke-width="0.14">NK</text>
<circle cx="201" cy="16.6" r="2.8" fill="#FF64B0" stroke="none" stroke-width="0.5" />
<line x1="220" y1="16.6" x2="221.6" y2="16.6" stroke="#999" stroke-width="0.5" />
<line x1="226.5" y1="16.6" x2="248" y2="16.6" stroke="#888" stroke-width="0.5" />
<path d="M226.5 16.6L226.5 16.1L230 14.6L233 11.1L236.5 8.4L239 11.6L242 14.6L245 15.8L248 16.3L248 16.6Z" fill="#FFB9DB" stroke="#777" stroke-width="0.35"/>
<path d="M227.5 16.6L227.5 17.1L230 18.1L233 20.1L236 23.1L238.8 24.8L241 21.6L243.5 18.6L246 17.4L248 16.9L248 16.6Z" fill="#FF64B0" stroke="#777" stroke-width="0.35"/>
<line x1="226.5" y1="16.6" x2="248" y2="16.6" stroke="#666" stroke-width="0.45" />
<text x="219.6" y="38" font-size="7.6" text-anchor="end" font-weight="normal" fill="#111"  stroke="#111" stroke-width="0.14">CD8+CD4&#8722; TIL</text>
<circle cx="159.6" cy="35.3" r="2.8" fill="#F564E3" stroke="none" stroke-width="0.5" />
<line x1="220" y1="35.3" x2="221.6" y2="35.3" stroke="#999" stroke-width="0.5" />
<line x1="226.5" y1="35.3" x2="251.8" y2="35.3" stroke="#888" stroke-width="0.5" />
<path d="M226.5 35.3L226.5 32.3L228 29.3L229.6 28.3L231 29.8L232.6 30.5L234 28.3L235.7 26.8L238 30.3L240 32.8L242.6 34L246 34.5L251.8 35L251.8 35.3Z" fill="#FAB9F2" stroke="#777" stroke-width="0.35"/>
<path d="M226.5 35.3L226.5 40.3L227.3 43L229 43.1L231.9 42.2L234 39.8L236 37.5L238 36.6L242 36.1L251 35.7L251 35.3Z" fill="#F564E3" stroke="#777" stroke-width="0.35"/>
<line x1="226.5" y1="35.3" x2="251.8" y2="35.3" stroke="#666" stroke-width="0.45" />
<text x="219.6" y="56.4" font-size="7.6" text-anchor="end" font-weight="normal" fill="#111"  stroke="#111" stroke-width="0.14">CD4+CD8&#8722; TIL</text>
<circle cx="159.6" cy="53.7" r="2.8" fill="#C77CFF" stroke="none" stroke-width="0.5" />
<line x1="220" y1="53.7" x2="221.6" y2="53.7" stroke="#999" stroke-width="0.5" />
<line x1="226.5" y1="53.7" x2="263.3" y2="53.7" stroke="#888" stroke-width="0.5" />
<path d="M226.5 53.7L226.5 48.7L227.3 46L230 47.2L233 49.9L235 50.6L238 50.1L241 48.2L244.9 45.2L247 47.7L249 50.7L251 52.1L255 52.9L263 53.4L263 53.7Z" fill="#E6C4FF" stroke="#777" stroke-width="0.35"/>
<path d="M226.5 53.7L226.5 58.7L228 61.3L229.5 60.2L231.9 56.7L234 55.3L238 54.7L245.7 54.4L263 54L263 53.7Z" fill="#C77CFF" stroke="#777" stroke-width="0.35"/>
<line x1="226.5" y1="53.7" x2="263.3" y2="53.7" stroke="#666" stroke-width="0.45" />
<text x="219.6" y="74.7" font-size="7.6" text-anchor="end" font-weight="normal" fill="#111"  stroke="#111" stroke-width="0.14">CD3+CD4&#8722;CD8&#8722; TIL</text>
<circle cx="140" cy="72" r="2.8" fill="#619CFF" stroke="none" stroke-width="0.5" />
<line x1="220" y1="72" x2="221.6" y2="72" stroke="#999" stroke-width="0.5" />
<line x1="226.5" y1="72" x2="243.4" y2="72" stroke="#888" stroke-width="0.5" />
<path d="M226.5 72L226.5 66L227.3 63.6L229 65.5L231.9 69L234 70.5L238 71.3L243 71.7L243 72Z" fill="#B8D2FF" stroke="#777" stroke-width="0.35"/>
<path d="M226.5 72L226.5 74L228 77L230.3 79.8L232 76.5L234.2 73.6L237 73L243.4 72.3L243.4 72Z" fill="#619CFF" stroke="#777" stroke-width="0.35"/>
<line x1="226.5" y1="72" x2="243.4" y2="72" stroke="#666" stroke-width="0.45" />
<text x="219.6" y="93.2" font-size="7.6" text-anchor="end" font-weight="normal" fill="#111"  stroke="#111" stroke-width="0.14">B</text>
<circle cx="205.5" cy="90.5" r="2.8" fill="#00B4F0" stroke="none" stroke-width="0.5" />
<line x1="220" y1="90.5" x2="221.6" y2="90.5" stroke="#999" stroke-width="0.5" />
<line x1="226.5" y1="90.5" x2="238" y2="90.5" stroke="#888" stroke-width="0.5" />
<path d="M229.5 90.5L229.5 90L230.5 86.5L231.1 82L231.8 86.5L232.8 89.7L235 90.1L235 90.5Z" fill="#8CDDF8" stroke="#777" stroke-width="0.35"/>
<path d="M228 90.5L228 91L229.5 94.5L230.3 97.5L231.2 93.5L232.5 91.3L235 90.9L235 90.5Z" fill="#00B4F0" stroke="#777" stroke-width="0.35"/>
<line x1="226.5" y1="90.5" x2="238" y2="90.5" stroke="#666" stroke-width="0.45" />
<text x="219.6" y="111.4" font-size="7.6" text-anchor="end" font-weight="normal" fill="#111"  stroke="#111" stroke-width="0.14">Neut</text>
<circle cx="188.8" cy="108.7" r="2.8" fill="#00BFC4" stroke="none" stroke-width="0.5" />
<line x1="220" y1="108.7" x2="221.6" y2="108.7" stroke="#999" stroke-width="0.5" />
<line x1="226.5" y1="108.7" x2="307" y2="108.7" stroke="#888" stroke-width="0.5" />
<path d="M226.5 108.7L226.5 100.6L228 101.7L230.3 104.4L232 106.1L234.9 106.7L245 106.9L260 107.4L280 107.8L300 108.3L307 108.5L307 108.7Z" fill="#8CE2E4" stroke="#777" stroke-width="0.35"/>
<path d="M226.5 108.7L226.5 116.7L230 115.7L234 114.5L238 113.6L250 112.9L261 112.1L272 110.9L284 109.8L296 109.2L307 108.9L307 108.7Z" fill="#00BFC4" stroke="#777" stroke-width="0.35"/>
<line x1="226.5" y1="108.7" x2="307" y2="108.7" stroke="#666" stroke-width="0.45" />
<text x="219.6" y="129.7" font-size="7.6" text-anchor="end" font-weight="normal" fill="#111"  stroke="#111" stroke-width="0.14">pDC</text>
<circle cx="188.8" cy="127" r="2.8" fill="#00C08B" stroke="none" stroke-width="0.5" />
<line x1="220" y1="127" x2="221.6" y2="127" stroke="#999" stroke-width="0.5" />
<line x1="226.5" y1="127" x2="240.3" y2="127" stroke="#888" stroke-width="0.5" />
<path d="M226.3 127L226.3 126.5L226.5 119.6L227.3 119.6L227.6 126.2L232 126.7L232 127Z" fill="#8CE3CB" stroke="#777" stroke-width="0.35"/>
<path d="M227 127L227 127.5L228.5 130L229.6 135L230.8 130L232 127.8L236 127.3L236 127Z" fill="#00C08B" stroke="#777" stroke-width="0.35"/>
<line x1="226.5" y1="127" x2="240.3" y2="127" stroke="#666" stroke-width="0.45" />
<text x="219.6" y="148.1" font-size="7.6" text-anchor="end" font-weight="normal" fill="#111"  stroke="#111" stroke-width="0.14">MigDC</text>
<circle cx="188.8" cy="145.4" r="2.8" fill="#00BA38" stroke="none" stroke-width="0.5" />
<line x1="220" y1="145.4" x2="221.6" y2="145.4" stroke="#999" stroke-width="0.5" />
<line x1="226.5" y1="145.4" x2="265.6" y2="145.4" stroke="#888" stroke-width="0.5" />
<path d="M230.3 145.4L230.3 145.3L236 144.6L241 142.9L246 139.9L250.3 137.3L253 138.4L257 142.4L261 145L261 145.4Z" fill="#8CE0A5" stroke="#777" stroke-width="0.35"/>
<path d="M236 145.4L236 145.6L240 146.9L244 149.4L249.5 153.4L252 151.9L256 147.9L259.5 145.7L259.5 145.4Z" fill="#00BA38" stroke="#777" stroke-width="0.35"/>
<line x1="226.5" y1="145.4" x2="265.6" y2="145.4" stroke="#666" stroke-width="0.45" />
<text x="219.6" y="166.5" font-size="7.6" text-anchor="end" font-weight="normal" fill="#111"  stroke="#111" stroke-width="0.14">cDC2</text>
<circle cx="188.8" cy="163.8" r="2.8" fill="#7CAE00" stroke="none" stroke-width="0.5" />
<line x1="220" y1="163.8" x2="221.6" y2="163.8" stroke="#999" stroke-width="0.5" />
<line x1="226.5" y1="163.8" x2="263.3" y2="163.8" stroke="#888" stroke-width="0.5" />
<path d="M226.5 163.8L226.5 158.8L228 156.8L230.3 155.5L232 156.8L235 159.8L238 161.2L242 162.2L245.7 162.7L252 163.1L263 163.5L263 163.8Z" fill="#C4DB8C" stroke="#777" stroke-width="0.35"/>
<path d="M226.5 163.8L226.5 166.8L228 169.8L231.9 171.9L235 171.1L240 169.8L245.7 168.8L250 167.5L254 166L258 165L262 164.2L262 163.8Z" fill="#7CAE00" stroke="#777" stroke-width="0.35"/>
<line x1="226.5" y1="163.8" x2="263.3" y2="163.8" stroke="#666" stroke-width="0.45" />
<text x="219.6" y="184.9" font-size="7.6" text-anchor="end" font-weight="normal" fill="#111"  stroke="#111" stroke-width="0.14">cDC1</text>
<circle cx="188.8" cy="182.2" r="2.8" fill="#B79F00" stroke="none" stroke-width="0.5" />
<line x1="220" y1="182.2" x2="221.6" y2="182.2" stroke="#999" stroke-width="0.5" />
<line x1="226.5" y1="182.2" x2="259.5" y2="182.2" stroke="#888" stroke-width="0.5" />
<path d="M228 182.2L228 181.8L229 179.2L230.3 174.9L231.5 177.2L233 180.7L234.2 181.8L240 181.9L240 182.2Z" fill="#DFD48C" stroke="#777" stroke-width="0.35"/>
<path d="M228 182.2L228 182.7L231 186.2L235 190.2L238 188.7L241 186.7L245.7 184.8L250 183.4L253.3 182.8L259.5 182.5L259.5 182.2Z" fill="#B79F00" stroke="#777" stroke-width="0.35"/>
<line x1="226.5" y1="182.2" x2="259.5" y2="182.2" stroke="#666" stroke-width="0.45" />
<text x="219.6" y="203.3" font-size="7.6" text-anchor="end" font-weight="normal" fill="#111"  stroke="#111" stroke-width="0.14">Mono</text>
<circle cx="188.8" cy="200.6" r="2.8" fill="#DE8C00" stroke="none" stroke-width="0.5" />
<line x1="220" y1="200.6" x2="221.6" y2="200.6" stroke="#999" stroke-width="0.5" />
<line x1="226.5" y1="200.6" x2="240.3" y2="200.6" stroke="#888" stroke-width="0.5" />
<path d="M226.5 200.6L226.5 192.7L227.5 194.6L229 197.6L230.3 199.9L233 200.2L233 200.6Z" fill="#F0CB8C" stroke="#777" stroke-width="0.35"/>
<path d="M226.5 200.6L226.5 203.6L228 208.3L229.2 206.6L230.3 202.9L232 201.6L235 201.1L240.3 200.9L240.3 200.6Z" fill="#DE8C00" stroke="#777" stroke-width="0.35"/>
<line x1="226.5" y1="200.6" x2="240.3" y2="200.6" stroke="#666" stroke-width="0.45" />
<text x="219.6" y="221.7" font-size="7.6" text-anchor="end" font-weight="normal" fill="#111"  stroke="#111" stroke-width="0.14">Macs</text>
<circle cx="188.8" cy="219" r="2.8" fill="#F8766D" stroke="none" stroke-width="0.5" />
<line x1="220" y1="219" x2="221.6" y2="219" stroke="#999" stroke-width="0.5" />
<line x1="226.5" y1="219" x2="256.4" y2="219" stroke="#888" stroke-width="0.5" />
<path d="M226.5 219L226.5 210.9L227.5 211.8L229.6 214L231 216.5L231.9 217.8L234 218.5L238 218.7L238 219Z" fill="#FCC1BD" stroke="#777" stroke-width="0.35"/>
<path d="M226.5 219L226.5 223L227 227L228.3 224L229.6 221.6L231 220L232.6 219.3L240 219.2L240 219Z" fill="#F8766D" stroke="#777" stroke-width="0.35"/>
<line x1="226.5" y1="219" x2="256.4" y2="219" stroke="#666" stroke-width="0.45" />
<line x1="226.5" y1="229.6" x2="226.5" y2="231.4" stroke="#999" stroke-width="0.5" />
<text x="226.5" y="236.1" font-size="5.6" text-anchor="middle" font-weight="normal" fill="#333"  stroke="#333" stroke-width="0.1">0</text>
<line x1="254.6" y1="229.6" x2="254.6" y2="231.4" stroke="#999" stroke-width="0.5" />
<text x="254.6" y="236.1" font-size="5.6" text-anchor="middle" font-weight="normal" fill="#333"  stroke="#333" stroke-width="0.1">1.3</text>
<line x1="281.9" y1="229.6" x2="281.9" y2="231.4" stroke="#999" stroke-width="0.5" />
<text x="281.9" y="236.1" font-size="5.6" text-anchor="middle" font-weight="normal" fill="#333"  stroke="#333" stroke-width="0.1">2.6</text>
<line x1="309.4" y1="229.6" x2="309.4" y2="231.4" stroke="#999" stroke-width="0.5" />
<text x="309.4" y="236.1" font-size="5.6" text-anchor="middle" font-weight="normal" fill="#333"  stroke="#333" stroke-width="0.1">3.9</text>
<text x="268.7" y="246.1" font-size="7.7" text-anchor="middle" font-weight="normal" fill="#222" font-style="italic"  stroke="#222" stroke-width="0.14">Pdcd1lg2</text>
<line x1="284.3" y1="16.8" x2="304.8" y2="16.8" stroke="#AAA" stroke-width="0.8" />
<path d="M288.8 16.8C291 15.5 292 12.1 293.8 12.1C295.6 12.1 296.6 15.5 299.3 16.8Z" fill="#CFCFCF" stroke="#445" stroke-width="0.35"/>
<path d="M288.8 16.8C291 18.1 292 21.5 293.8 21.5C295.6 21.5 296.6 18.1 299.3 16.8Z" fill="#6A6A6A" stroke="#445" stroke-width="0.35"/>
<text x="294.6" y="10" font-size="6.0" text-anchor="middle" font-weight="normal" fill="#222"  stroke="#222" stroke-width="0.11">young</text>
<text x="294" y="27.9" font-size="6.0" text-anchor="middle" font-weight="normal" fill="#222"  stroke="#222" stroke-width="0.11">old</text>
<line x1="511.4" y1="126.6" x2="511.4" y2="218.3" stroke="#777" stroke-width="0.7" />
<line x1="532.6" y1="126.6" x2="532.6" y2="218.3" stroke="#777" stroke-width="0.7" />
<line x1="553.8" y1="126.6" x2="553.8" y2="218.3" stroke="#777" stroke-width="0.7" />
<line x1="575.3" y1="126.6" x2="575.3" y2="218.3" stroke="#777" stroke-width="0.7" />
<line x1="596.5" y1="126.6" x2="596.5" y2="218.3" stroke="#777" stroke-width="0.7" />
<line x1="618.3" y1="126.6" x2="618.3" y2="218.3" stroke="#777" stroke-width="0.7" />
<line x1="639.3" y1="126.6" x2="639.3" y2="218.3" stroke="#777" stroke-width="0.7" />
<line x1="660.6" y1="126.6" x2="660.6" y2="218.3" stroke="#777" stroke-width="0.7" />
<line x1="682.1" y1="126.6" x2="682.1" y2="218.3" stroke="#777" stroke-width="0.7" />
<line x1="511.4" y1="218.3" x2="682.1" y2="218.3" stroke="#777" stroke-width="0.6" />
<text x="522.5" y="125.2" font-size="5.0" text-anchor="middle" font-weight="normal" fill="#222" font-style="italic"  stroke="#222" stroke-width="0.09">RNASE1</text>
<text x="543.7" y="125.2" font-size="5.0" text-anchor="middle" font-weight="normal" fill="#222" font-style="italic"  stroke="#222" stroke-width="0.09">PLA2G7</text>
<text x="565" y="125.2" font-size="5.0" text-anchor="middle" font-weight="normal" fill="#222" font-style="italic"  stroke="#222" stroke-width="0.09">VCAN</text>
<text x="586.4" y="125.2" font-size="5.0" text-anchor="middle" font-weight="normal" fill="#222" font-style="italic"  stroke="#222" stroke-width="0.09">XCR1</text>
<text x="607.9" y="125.2" font-size="5.0" text-anchor="middle" font-weight="normal" fill="#222" font-style="italic"  stroke="#222" stroke-width="0.09">CD1C</text>
<text x="629.3" y="125.2" font-size="5.0" text-anchor="middle" font-weight="normal" fill="#222" font-style="italic"  stroke="#222" stroke-width="0.09">CCR7</text>
<text x="650.5" y="125.2" font-size="5.0" text-anchor="middle" font-weight="normal" fill="#222" font-style="italic"  stroke="#222" stroke-width="0.09">CLEC4C</text>
<text x="671.9" y="125.2" font-size="5.0" text-anchor="middle" font-weight="normal" fill="#222" font-style="italic"  stroke="#222" stroke-width="0.09">MKI67</text>
<text x="510" y="135.3" font-size="5.8" text-anchor="end" font-weight="normal" fill="#000"  stroke="#000" stroke-width="0.1">Cycling</text>
<line x1="510.2" y1="133.2" x2="511.4" y2="133.2" stroke="#999" stroke-width="0.4" />
<text x="510" y="146.5" font-size="5.8" text-anchor="end" font-weight="normal" fill="#000"  stroke="#000" stroke-width="0.1">pDCs</text>
<line x1="510.2" y1="144.4" x2="511.4" y2="144.4" stroke="#999" stroke-width="0.4" />
<text x="510" y="157.7" font-size="5.8" text-anchor="end" font-weight="normal" fill="#000"  stroke="#000" stroke-width="0.1">migDCs</text>
<line x1="510.2" y1="155.6" x2="511.4" y2="155.6" stroke="#999" stroke-width="0.4" />
<text x="510" y="168.9" font-size="5.8" text-anchor="end" font-weight="normal" fill="#000"  stroke="#000" stroke-width="0.1">cDC2</text>
<line x1="510.2" y1="166.8" x2="511.4" y2="166.8" stroke="#999" stroke-width="0.4" />
<text x="510" y="180.1" font-size="5.8" text-anchor="end" font-weight="normal" fill="#000"  stroke="#000" stroke-width="0.1">cDC1</text>
<line x1="510.2" y1="178" x2="511.4" y2="178" stroke="#999" stroke-width="0.4" />
<text x="510" y="191.3" font-size="5.8" text-anchor="end" font-weight="normal" fill="#000"  stroke="#000" stroke-width="0.1">Mono</text>
<line x1="510.2" y1="189.2" x2="511.4" y2="189.2" stroke="#999" stroke-width="0.4" />
<text x="510" y="202.6" font-size="5.8" text-anchor="end" font-weight="normal" fill="#000"  stroke="#000" stroke-width="0.1">PLA2G7.IMs</text>
<line x1="510.2" y1="200.5" x2="511.4" y2="200.5" stroke="#999" stroke-width="0.4" />
<text x="510" y="213.8" font-size="5.8" text-anchor="end" font-weight="normal" fill="#000"  stroke="#000" stroke-width="0.1">RNASE1.IMs</text>
<line x1="510.2" y1="211.7" x2="511.4" y2="211.7" stroke="#999" stroke-width="0.4" />
<line x1="511.4" y1="144.4" x2="517.4" y2="144.4" stroke="#888" stroke-width="0.45" />
<line x1="511.4" y1="166.8" x2="517.4" y2="166.8" stroke="#888" stroke-width="0.45" />
<line x1="511.4" y1="178" x2="514" y2="178" stroke="#888" stroke-width="0.45" />
<line x1="511.4" y1="189.2" x2="527" y2="189.2" stroke="#888" stroke-width="0.45" />
<line x1="532.6" y1="166.8" x2="547.9" y2="166.8" stroke="#888" stroke-width="0.45" />
<line x1="532.6" y1="144.4" x2="536" y2="144.4" stroke="#888" stroke-width="0.45" />
<line x1="553.8" y1="144.4" x2="561.9" y2="144.4" stroke="#888" stroke-width="0.45" />
<line x1="553.8" y1="200.5" x2="562" y2="200.5" stroke="#888" stroke-width="0.45" />
<line x1="575.3" y1="144.4" x2="585.4" y2="144.4" stroke="#888" stroke-width="0.45" />
<line x1="575.3" y1="155.6" x2="585.4" y2="155.6" stroke="#888" stroke-width="0.45" />
<line x1="575.3" y1="166.8" x2="577" y2="166.8" stroke="#888" stroke-width="0.45" />
<line x1="575.3" y1="189.2" x2="586.8" y2="189.2" stroke="#888" stroke-width="0.45" />
<line x1="575.3" y1="200.5" x2="586" y2="200.5" stroke="#888" stroke-width="0.45" />
<line x1="575.3" y1="211.7" x2="586" y2="211.7" stroke="#888" stroke-width="0.45" />
<line x1="596.5" y1="144.4" x2="610.3" y2="144.4" stroke="#888" stroke-width="0.45" />
<line x1="596.5" y1="155.6" x2="610" y2="155.6" stroke="#888" stroke-width="0.45" />
<line x1="596.5" y1="178" x2="610" y2="178" stroke="#888" stroke-width="0.45" />
<line x1="596.5" y1="189.2" x2="614.5" y2="189.2" stroke="#888" stroke-width="0.45" />
<line x1="596.5" y1="200.5" x2="609" y2="200.5" stroke="#888" stroke-width="0.45" />
<line x1="596.5" y1="211.7" x2="610" y2="211.7" stroke="#888" stroke-width="0.45" />
<line x1="618.3" y1="166.8" x2="631.3" y2="166.8" stroke="#888" stroke-width="0.45" />
<line x1="618.3" y1="178" x2="630" y2="178" stroke="#888" stroke-width="0.45" />
<line x1="618.3" y1="189.2" x2="631" y2="189.2" stroke="#888" stroke-width="0.45" />
<line x1="618.3" y1="200.5" x2="626" y2="200.5" stroke="#888" stroke-width="0.45" />
<line x1="618.3" y1="211.7" x2="626" y2="211.7" stroke="#888" stroke-width="0.45" />
<line x1="639.3" y1="166.8" x2="653" y2="166.8" stroke="#888" stroke-width="0.45" />
<line x1="639.3" y1="178" x2="653" y2="178" stroke="#888" stroke-width="0.45" />
<line x1="639.3" y1="189.2" x2="654" y2="189.2" stroke="#888" stroke-width="0.45" />
<line x1="639.3" y1="200.5" x2="644" y2="200.5" stroke="#888" stroke-width="0.45" />
<line x1="639.3" y1="211.7" x2="653" y2="211.7" stroke="#888" stroke-width="0.45" />
<line x1="660.6" y1="144.4" x2="678" y2="144.4" stroke="#888" stroke-width="0.45" />
<line x1="660.6" y1="155.6" x2="678" y2="155.6" stroke="#888" stroke-width="0.45" />
<line x1="660.6" y1="166.8" x2="678" y2="166.8" stroke="#888" stroke-width="0.45" />
<line x1="660.6" y1="178" x2="678" y2="178" stroke="#888" stroke-width="0.45" />
<line x1="660.6" y1="189.2" x2="678" y2="189.2" stroke="#888" stroke-width="0.45" />
<line x1="660.6" y1="200.5" x2="677" y2="200.5" stroke="#888" stroke-width="0.45" />
<line x1="660.6" y1="211.7" x2="677" y2="211.7" stroke="#888" stroke-width="0.45" />
<path d="M511.4 133.2 L511.4 130.7 L513 128.6 L515 127.9 L517 129.2 L518.5 131.7 L520 132.5 L527.8 132.6 L528.3 133.1 L528.3 133.2 L528.3 133.3 L527.8 133.8 L520 133.9 L518.5 134.7 L517 137.2 L515 138.5 L513 137.8 L511.4 135.7 Z" fill="#80B1D3" stroke="#555" stroke-width="0.35" stroke-linejoin="round"/>
<path d="M511.4 200.5 L511.4 196.3 L512.5 197.3 L514.2 199 L516 198.5 L519 197.7 L522 199 L524 199.8 L527 200.1 L527 200.5 L527 200.9 L524 201.2 L522 202 L519 203.3 L516 202.5 L514.2 202 L512.5 203.7 L511.4 204.7 Z" fill="#80B1D3" stroke="#555" stroke-width="0.35" stroke-linejoin="round"/>
<path d="M511.4 211.7 L511.4 208.5 L513 209.7 L515 208.2 L518.2 206.4 L520.5 208.7 L523 210.7 L527 211 L532.6 211.1 L532.6 211.7 L532.6 212.3 L527 212.4 L523 212.7 L520.5 214.7 L518.2 217 L515 215.2 L513 213.7 L511.4 214.9 Z" fill="#80B1D3" stroke="#555" stroke-width="0.35" stroke-linejoin="round"/>
<path d="M533 133.2 L533 129.7 L534.5 129.9 L536 131.7 L537.5 130.4 L538.8 130.2 L539.2 132.9 L539.2 133.2 L539.2 133.5 L538.8 136.2 L537.5 136 L536 134.7 L534.5 136.5 L533 136.7 Z" fill="#FDB462" stroke="#555" stroke-width="0.35" stroke-linejoin="round"/>
<path d="M532.9 189.2 L532.9 184.8 L533.5 186.8 L535 188.2 L538 188.2 L542.3 187.4 L545 188.2 L547.9 188.9 L547.9 189.2 L547.9 189.6 L545 190.2 L542.3 191.1 L538 190.2 L535 190.2 L533.5 191.8 L532.9 193.8 Z" fill="#FDB462" stroke="#555" stroke-width="0.35" stroke-linejoin="round"/>
<path d="M532.9 200.5 L532.9 195.5 L534 196.5 L536 198 L538 197 L540.7 196 L544 197 L548 198.7 L551 200.1 L551 200.5 L551 200.9 L548 202.3 L544 204 L540.7 205 L538 204 L536 203 L534 204.5 L532.9 205.5 Z" fill="#FDB462" stroke="#555" stroke-width="0.35" stroke-linejoin="round"/>
<path d="M532.9 211.7 L532.9 207.2 L534 208.7 L536 210.2 L538 209.5 L540 208.7 L543 209.7 L546 210.7 L550.3 211.4 L550.3 211.7 L550.3 212 L546 212.7 L543 213.7 L540 214.7 L538 213.9 L536 213.2 L534 214.7 L532.9 216.2 Z" fill="#FDB462" stroke="#555" stroke-width="0.35" stroke-linejoin="round"/>
<path d="M554 133.2 L554 129.7 L555 131.2 L556 132.2 L557 130.7 L558.3 129.7 L560 131.2 L561.5 132.4 L563.1 132.9 L563.1 133.2 L563.1 133.5 L561.5 134 L560 135.2 L558.3 136.7 L557 135.7 L556 134.2 L555 135.2 L554 136.7 Z" fill="#FCCDE5" stroke="#555" stroke-width="0.35" stroke-linejoin="round"/>
<path d="M554 166.8 L554 163.3 L555 165 L556 165.8 L558 165.3 L560 165 L562 165.8 L563.3 166.5 L563.3 166.8 L563.3 167.1 L562 167.8 L560 168.6 L558 168.3 L556 167.8 L555 168.6 L554 170.3 Z" fill="#FCCDE5" stroke="#555" stroke-width="0.35" stroke-linejoin="round"/>
<path d="M554 189.2 L554 186.2 L555 187.2 L556 188.2 L558 186.8 L561.5 183.9 L564 185.8 L566 187.8 L569 188.4 L572.8 188.8 L572.8 189.2 L572.8 189.7 L569 190.1 L566 190.8 L564 192.8 L561.5 194.6 L558 191.8 L556 190.2 L555 191.2 L554 192.2 Z" fill="#FCCDE5" stroke="#555" stroke-width="0.35" stroke-linejoin="round"/>
<path d="M554 211.7 L554 208.2 L555 209.7 L556.5 210.5 L558.5 209.2 L560.7 208.5 L563 209.7 L564.5 210.7 L566 211.3 L566 211.7 L566 212.1 L564.5 212.7 L563 213.7 L560.7 214.9 L558.5 214.2 L556.5 212.9 L555 213.7 L554 215.2 Z" fill="#FCCDE5" stroke="#555" stroke-width="0.35" stroke-linejoin="round"/>
<path d="M575.5 178 L575.5 173 L577 174 L578.5 175 L581 173.5 L583.5 172.5 L586 172.3 L588.5 173.8 L590.5 175.5 L592 176.5 L594 176.8 L596.3 176.8 L596.3 178 L596.3 179.2 L594 179.2 L592 179.5 L590.5 180.5 L588.5 182.2 L586 183.7 L583.5 183.5 L581 182.5 L578.5 181 L577 182 L575.5 183 Z" fill="#FB8072" stroke="#555" stroke-width="0.35" stroke-linejoin="round"/>
<path d="M596.6 133.2 L596.6 128.7 L597.5 130.2 L599 132.2 L601 132 L602.5 131.2 L604.4 131 L605.5 131.7 L606.2 132.8 L606.2 133.2 L606.2 133.6 L605.5 134.7 L604.4 135.4 L602.5 135.2 L601 134.4 L599 134.2 L597.5 136.2 L596.6 137.7 Z" fill="#8DD3C7" stroke="#555" stroke-width="0.35" stroke-linejoin="round"/>
<path d="M596.6 166.8 L596.6 163.8 L598 164.8 L600 165.8 L603 165.3 L606 163.3 L609 161.8 L612 163.3 L615 165.3 L617.8 166.3 L617.8 166.8 L617.8 167.3 L615 168.3 L612 170.3 L609 171.8 L606 170.3 L603 168.3 L600 167.8 L598 168.8 L596.6 169.8 Z" fill="#8DD3C7" stroke="#555" stroke-width="0.35" stroke-linejoin="round"/>
<path d="M618.5 144.4 L618.5 140.9 L619.5 142.2 L621 143.6 L624 143.6 L627 142.9 L629 143.2 L630.5 144.1 L630.5 144.4 L630.5 144.7 L629 145.6 L627 145.9 L624 145.2 L621 145.2 L619.5 146.6 L618.5 147.9 Z" fill="#FFFFB3" stroke="#555" stroke-width="0.35" stroke-linejoin="round"/>
<path d="M618.5 155.6 L618.5 153.6 L619.5 154.4 L621 154.8 L624 154.1 L626.5 152.1 L628.4 150.6 L630.5 152.4 L633 154.6 L636 155 L639.2 155.1 L639.2 155.6 L639.2 156.1 L636 156.2 L633 156.6 L630.5 158.8 L628.4 160.6 L626.5 159.1 L624 157.1 L621 156.4 L619.5 156.8 L618.5 157.6 Z" fill="#FFFFB3" stroke="#555" stroke-width="0.35" stroke-linejoin="round"/>
<path d="M639.5 144.4 L639.5 140.9 L641 141.9 L643 142.9 L645 143.2 L648 141.9 L651 140.1 L654.8 138.9 L657.5 140.4 L659.5 142.6 L660.5 143.8 L660.5 144.4 L660.5 145 L659.5 146.2 L657.5 148.4 L654.8 149.9 L651 148.7 L648 146.9 L645 145.6 L643 145.9 L641 146.9 L639.5 147.9 Z" fill="#B3DE69" stroke="#555" stroke-width="0.35" stroke-linejoin="round"/>
<path d="M660.8 133.2 L660.8 132 L663 132.4 L666 132.2 L669 130.7 L672 128.2 L674.5 130.2 L676.5 132 L679 132.6 L682 132.7 L682 133.2 L682 133.7 L679 133.8 L676.5 134.4 L674.5 136.2 L672 138.2 L669 135.7 L666 134.2 L663 134 L660.8 134.4 Z" fill="#BEBADA" stroke="#555" stroke-width="0.35" stroke-linejoin="round"/>
<text x="527.3" y="221.9" font-size="3.6" text-anchor="middle" font-weight="normal" fill="#444"  stroke="#444" stroke-width="0.06">1</text>
<line x1="527.3" y1="218.3" x2="527.3" y2="219.3" stroke="#777" stroke-width="0.4" />
<text x="551.8" y="221.9" font-size="3.6" text-anchor="middle" font-weight="normal" fill="#444"  stroke="#444" stroke-width="0.06">2</text>
<line x1="551.8" y1="218.3" x2="551.8" y2="219.3" stroke="#777" stroke-width="0.4" />
<text x="570.7" y="221.9" font-size="3.6" text-anchor="middle" font-weight="normal" fill="#444"  stroke="#444" stroke-width="0.06">1</text>
<line x1="570.7" y1="218.3" x2="570.7" y2="219.3" stroke="#777" stroke-width="0.4" />
<text x="588.6" y="221.9" font-size="3.6" text-anchor="middle" font-weight="normal" fill="#444"  stroke="#444" stroke-width="0.06">2</text>
<line x1="588.6" y1="218.3" x2="588.6" y2="219.3" stroke="#777" stroke-width="0.4" />
<text x="611.4" y="221.9" font-size="3.6" text-anchor="middle" font-weight="normal" fill="#444"  stroke="#444" stroke-width="0.06">2</text>
<line x1="611.4" y1="218.3" x2="611.4" y2="219.3" stroke="#777" stroke-width="0.4" />
<text x="633.7" y="221.9" font-size="3.6" text-anchor="middle" font-weight="normal" fill="#444"  stroke="#444" stroke-width="0.06">3</text>
<line x1="633.7" y1="218.3" x2="633.7" y2="219.3" stroke="#777" stroke-width="0.4" />
<text x="654.2" y="221.9" font-size="3.6" text-anchor="middle" font-weight="normal" fill="#444"  stroke="#444" stroke-width="0.06">1.0</text>
<line x1="654.2" y1="218.3" x2="654.2" y2="219.3" stroke="#777" stroke-width="0.4" />
<text x="678.4" y="221.9" font-size="3.6" text-anchor="middle" font-weight="normal" fill="#444"  stroke="#444" stroke-width="0.06">1.5</text>
<line x1="678.4" y1="218.3" x2="678.4" y2="219.3" stroke="#777" stroke-width="0.4" />
<line x1="84" y1="312.3" x2="84" y2="500.4" stroke="#D8D8D8" stroke-width="0.45" stroke-dasharray="1 1"/>
<line x1="91.1" y1="312.3" x2="91.1" y2="500.4" stroke="#D8D8D8" stroke-width="0.45" stroke-dasharray="1 1"/>
<line x1="98.1" y1="312.3" x2="98.1" y2="500.4" stroke="#D8D8D8" stroke-width="0.45" stroke-dasharray="1 1"/>
<line x1="105.2" y1="312.3" x2="105.2" y2="500.4" stroke="#D8D8D8" stroke-width="0.45" stroke-dasharray="1 1"/>
<line x1="112.3" y1="312.3" x2="112.3" y2="500.4" stroke="#D8D8D8" stroke-width="0.45" stroke-dasharray="1 1"/>
<line x1="119.3" y1="312.3" x2="119.3" y2="500.4" stroke="#D8D8D8" stroke-width="0.45" stroke-dasharray="1 1"/>
<line x1="126.4" y1="312.3" x2="126.4" y2="500.4" stroke="#D8D8D8" stroke-width="0.45" stroke-dasharray="1 1"/>
<line x1="133.5" y1="312.3" x2="133.5" y2="500.4" stroke="#D8D8D8" stroke-width="0.45" stroke-dasharray="1 1"/>
<line x1="140.6" y1="312.3" x2="140.6" y2="500.4" stroke="#D8D8D8" stroke-width="0.45" stroke-dasharray="1 1"/>
<line x1="147.6" y1="312.3" x2="147.6" y2="500.4" stroke="#D8D8D8" stroke-width="0.45" stroke-dasharray="1 1"/>
<line x1="154.7" y1="312.3" x2="154.7" y2="500.4" stroke="#D8D8D8" stroke-width="0.45" stroke-dasharray="1 1"/>
<line x1="161.8" y1="312.3" x2="161.8" y2="500.4" stroke="#D8D8D8" stroke-width="0.45" stroke-dasharray="1 1"/>
<line x1="168.8" y1="312.3" x2="168.8" y2="500.4" stroke="#D8D8D8" stroke-width="0.45" stroke-dasharray="1 1"/>
<line x1="175.9" y1="312.3" x2="175.9" y2="500.4" stroke="#D8D8D8" stroke-width="0.45" stroke-dasharray="1 1"/>
<line x1="183" y1="312.3" x2="183" y2="500.4" stroke="#D8D8D8" stroke-width="0.45" stroke-dasharray="1 1"/>
<line x1="190.1" y1="312.3" x2="190.1" y2="500.4" stroke="#D8D8D8" stroke-width="0.45" stroke-dasharray="1 1"/>
<line x1="197.1" y1="312.3" x2="197.1" y2="500.4" stroke="#D8D8D8" stroke-width="0.45" stroke-dasharray="1 1"/>
<line x1="204.2" y1="312.3" x2="204.2" y2="500.4" stroke="#D8D8D8" stroke-width="0.45" stroke-dasharray="1 1"/>
<line x1="211.3" y1="312.3" x2="211.3" y2="500.4" stroke="#D8D8D8" stroke-width="0.45" stroke-dasharray="1 1"/>
<line x1="218.3" y1="312.3" x2="218.3" y2="500.4" stroke="#D8D8D8" stroke-width="0.45" stroke-dasharray="1 1"/>
<line x1="225.4" y1="312.3" x2="225.4" y2="500.4" stroke="#D8D8D8" stroke-width="0.45" stroke-dasharray="1 1"/>
<line x1="232.5" y1="312.3" x2="232.5" y2="500.4" stroke="#D8D8D8" stroke-width="0.45" stroke-dasharray="1 1"/>
<line x1="239.5" y1="312.3" x2="239.5" y2="500.4" stroke="#D8D8D8" stroke-width="0.45" stroke-dasharray="1 1"/>
<line x1="246.6" y1="312.3" x2="246.6" y2="500.4" stroke="#D8D8D8" stroke-width="0.45" stroke-dasharray="1 1"/>
<line x1="253.7" y1="312.3" x2="253.7" y2="500.4" stroke="#D8D8D8" stroke-width="0.45" stroke-dasharray="1 1"/>
<line x1="260.8" y1="312.3" x2="260.8" y2="500.4" stroke="#D8D8D8" stroke-width="0.45" stroke-dasharray="1 1"/>
<line x1="267.8" y1="312.3" x2="267.8" y2="500.4" stroke="#D8D8D8" stroke-width="0.45" stroke-dasharray="1 1"/>
<line x1="274.9" y1="312.3" x2="274.9" y2="500.4" stroke="#D8D8D8" stroke-width="0.45" stroke-dasharray="1 1"/>
<line x1="282" y1="312.3" x2="282" y2="500.4" stroke="#D8D8D8" stroke-width="0.45" stroke-dasharray="1 1"/>
<line x1="289" y1="312.3" x2="289" y2="500.4" stroke="#D8D8D8" stroke-width="0.45" stroke-dasharray="1 1"/>
<line x1="296.1" y1="312.3" x2="296.1" y2="500.4" stroke="#D8D8D8" stroke-width="0.45" stroke-dasharray="1 1"/>
<line x1="303.2" y1="312.3" x2="303.2" y2="500.4" stroke="#D8D8D8" stroke-width="0.45" stroke-dasharray="1 1"/>
<line x1="310.2" y1="312.3" x2="310.2" y2="500.4" stroke="#D8D8D8" stroke-width="0.45" stroke-dasharray="1 1"/>
<line x1="317.3" y1="312.3" x2="317.3" y2="500.4" stroke="#D8D8D8" stroke-width="0.45" stroke-dasharray="1 1"/>
<line x1="324.4" y1="312.3" x2="324.4" y2="500.4" stroke="#D8D8D8" stroke-width="0.45" stroke-dasharray="1 1"/>
<line x1="75.3" y1="317" x2="333.4" y2="317" stroke="#D8D8D8" stroke-width="0.45" stroke-dasharray="1 1"/>
<line x1="75.3" y1="324.8" x2="333.4" y2="324.8" stroke="#D8D8D8" stroke-width="0.45" stroke-dasharray="1 1"/>
<line x1="75.3" y1="332.5" x2="333.4" y2="332.5" stroke="#D8D8D8" stroke-width="0.45" stroke-dasharray="1 1"/>
<line x1="75.3" y1="340.3" x2="333.4" y2="340.3" stroke="#D8D8D8" stroke-width="0.45" stroke-dasharray="1 1"/>
<line x1="75.3" y1="348" x2="333.4" y2="348" stroke="#D8D8D8" stroke-width="0.45" stroke-dasharray="1 1"/>
<line x1="75.3" y1="355.8" x2="333.4" y2="355.8" stroke="#D8D8D8" stroke-width="0.45" stroke-dasharray="1 1"/>
<line x1="75.3" y1="363.6" x2="333.4" y2="363.6" stroke="#D8D8D8" stroke-width="0.45" stroke-dasharray="1 1"/>
<line x1="75.3" y1="371.3" x2="333.4" y2="371.3" stroke="#D8D8D8" stroke-width="0.45" stroke-dasharray="1 1"/>
<line x1="75.3" y1="379.1" x2="333.4" y2="379.1" stroke="#D8D8D8" stroke-width="0.45" stroke-dasharray="1 1"/>
<line x1="75.3" y1="386.8" x2="333.4" y2="386.8" stroke="#D8D8D8" stroke-width="0.45" stroke-dasharray="1 1"/>
<line x1="75.3" y1="394.6" x2="333.4" y2="394.6" stroke="#D8D8D8" stroke-width="0.45" stroke-dasharray="1 1"/>
<line x1="75.3" y1="402.4" x2="333.4" y2="402.4" stroke="#D8D8D8" stroke-width="0.45" stroke-dasharray="1 1"/>
<line x1="75.3" y1="410.1" x2="333.4" y2="410.1" stroke="#D8D8D8" stroke-width="0.45" stroke-dasharray="1 1"/>
<line x1="75.3" y1="417.9" x2="333.4" y2="417.9" stroke="#D8D8D8" stroke-width="0.45" stroke-dasharray="1 1"/>
<line x1="75.3" y1="425.6" x2="333.4" y2="425.6" stroke="#D8D8D8" stroke-width="0.45" stroke-dasharray="1 1"/>
<line x1="75.3" y1="433.4" x2="333.4" y2="433.4" stroke="#D8D8D8" stroke-width="0.45" stroke-dasharray="1 1"/>
<line x1="75.3" y1="441.2" x2="333.4" y2="441.2" stroke="#D8D8D8" stroke-width="0.45" stroke-dasharray="1 1"/>
<line x1="75.3" y1="448.9" x2="333.4" y2="448.9" stroke="#D8D8D8" stroke-width="0.45" stroke-dasharray="1 1"/>
<line x1="75.3" y1="456.7" x2="333.4" y2="456.7" stroke="#D8D8D8" stroke-width="0.45" stroke-dasharray="1 1"/>
<line x1="75.3" y1="464.4" x2="333.4" y2="464.4" stroke="#D8D8D8" stroke-width="0.45" stroke-dasharray="1 1"/>
<line x1="75.3" y1="472.2" x2="333.4" y2="472.2" stroke="#D8D8D8" stroke-width="0.45" stroke-dasharray="1 1"/>
<line x1="75.3" y1="480" x2="333.4" y2="480" stroke="#D8D8D8" stroke-width="0.45" stroke-dasharray="1 1"/>
<line x1="75.3" y1="487.7" x2="333.4" y2="487.7" stroke="#D8D8D8" stroke-width="0.45" stroke-dasharray="1 1"/>
<line x1="75.3" y1="495.5" x2="333.4" y2="495.5" stroke="#D8D8D8" stroke-width="0.45" stroke-dasharray="1 1"/>
<rect x="75.3" y="312.3" width="258.1" height="188.1" fill="none" stroke="#999" stroke-width="0.7"/>
<line x1="218.3" y1="312.3" x2="218.3" y2="500.4" stroke="#333" stroke-width="0.8" stroke-dasharray="2 1.3"/>
<circle cx="98.1" cy="317" r="1.8" fill="#E6E6E6" stroke="#8A8A8A" stroke-width="0.45" />
<circle cx="105.2" cy="317" r="2.2" fill="#E6E6E6" stroke="#8A8A8A" stroke-width="0.45" />
<circle cx="112.3" cy="317" r="2.6" fill="#E6E6E6" stroke="#8A8A8A" stroke-width="0.45" />
<circle cx="147.6" cy="317" r="2.7" fill="#E6E6E6" stroke="#8A8A8A" stroke-width="0.45" />
<circle cx="161.8" cy="317" r="2.6" fill="#E6E6E6" stroke="#8A8A8A" stroke-width="0.45" />
<circle cx="168.8" cy="317" r="2.4" fill="#E6E6E6" stroke="#8A8A8A" stroke-width="0.45" />
<circle cx="190.1" cy="317" r="2.4" fill="#E6E6E6" stroke="#8A8A8A" stroke-width="0.45" />
<circle cx="204.2" cy="317" r="1.8" fill="#E6E6E6" stroke="#8A8A8A" stroke-width="0.45" />
<circle cx="218.3" cy="317" r="2" fill="#E6E6E6" stroke="#8A8A8A" stroke-width="0.45" />
<circle cx="225.4" cy="317" r="2" fill="#E6E6E6" stroke="#8A8A8A" stroke-width="0.45" />
<circle cx="232.5" cy="317" r="1.7" fill="#E6E6E6" stroke="#8A8A8A" stroke-width="0.45" />
<circle cx="246.6" cy="317" r="2.2" fill="#E6E6E6" stroke="#8A8A8A" stroke-width="0.45" />
<circle cx="253.7" cy="317" r="2.2" fill="#E6E6E6" stroke="#8A8A8A" stroke-width="0.45" />
<circle cx="260.8" cy="317" r="2.2" fill="#E6E6E6" stroke="#8A8A8A" stroke-width="0.45" />
<circle cx="274.9" cy="317" r="1.7" fill="#E6E6E6" stroke="#8A8A8A" stroke-width="0.45" />
<circle cx="282" cy="317" r="3.2" fill="#E8D8D4" stroke="#8A8A8A" stroke-width="0.45" />
<circle cx="289" cy="317" r="1.7" fill="#E6E6E6" stroke="#8A8A8A" stroke-width="0.45" />
<circle cx="296.1" cy="317" r="2.4" fill="#E6E6E6" stroke="#8A8A8A" stroke-width="0.45" />
<circle cx="303.2" cy="317" r="1.7" fill="#E6E6E6" stroke="#8A8A8A" stroke-width="0.45" />
<circle cx="324.4" cy="317" r="1.7" fill="#E6E6E6" stroke="#8A8A8A" stroke-width="0.45" />
<circle cx="105.2" cy="324.8" r="1.8" fill="#E6E6E6" stroke="#8A8A8A" stroke-width="0.45" />
<circle cx="147.6" cy="324.8" r="2.7" fill="#E6E6E6" stroke="#8A8A8A" stroke-width="0.45" />
<circle cx="168.8" cy="324.8" r="1.7" fill="#E6E6E6" stroke="#8A8A8A" stroke-width="0.45" />
<circle cx="218.3" cy="324.8" r="1.5" fill="#E6E6E6" stroke="#8A8A8A" stroke-width="0.45" />
<circle cx="260.8" cy="324.8" r="1.5" fill="#E6E6E6" stroke="#8A8A8A" stroke-width="0.45" />
<circle cx="282" cy="324.8" r="2.6" fill="#E6E6E6" stroke="#8A8A8A" stroke-width="0.45" />
<circle cx="296.1" cy="324.8" r="1.5" fill="#E6E6E6" stroke="#8A8A8A" stroke-width="0.45" />
<circle cx="324.4" cy="324.8" r="3" fill="#E6E6E6" stroke="#8A8A8A" stroke-width="0.45" />
<circle cx="147.6" cy="332.5" r="2.7" fill="#E6E6E6" stroke="#8A8A8A" stroke-width="0.45" />
<circle cx="190.1" cy="332.5" r="1.5" fill="#E6E6E6" stroke="#8A8A8A" stroke-width="0.45" />
<circle cx="218.3" cy="332.5" r="3.3" fill="#E6E6E6" stroke="#8A8A8A" stroke-width="0.45" />
<circle cx="253.7" cy="332.5" r="1.3" fill="#E6E6E6" stroke="#8A8A8A" stroke-width="0.45" />
<circle cx="260.8" cy="332.5" r="6.2" fill="#E6E6E6" stroke="#8A8A8A" stroke-width="0.45" />
<circle cx="274.9" cy="332.5" r="1.7" fill="#E6E6E6" stroke="#8A8A8A" stroke-width="0.45" />
<circle cx="282" cy="332.5" r="1.7" fill="#E6E6E6" stroke="#8A8A8A" stroke-width="0.45" />
<circle cx="296.1" cy="332.5" r="3" fill="#E6E6E6" stroke="#8A8A8A" stroke-width="0.45" />
<circle cx="303.2" cy="332.5" r="1.5" fill="#E6E6E6" stroke="#8A8A8A" stroke-width="0.45" />
<circle cx="324.4" cy="332.5" r="5.1" fill="#E6E6E6" stroke="#8A8A8A" stroke-width="0.45" />
<circle cx="112.3" cy="340.3" r="1.5" fill="#E6E6E6" stroke="#8A8A8A" stroke-width="0.45" />
<circle cx="147.6" cy="340.3" r="1.5" fill="#E6E6E6" stroke="#8A8A8A" stroke-width="0.45" />
<circle cx="161.8" cy="340.3" r="1.6" fill="#E6E6E6" stroke="#8A8A8A" stroke-width="0.45" />
<circle cx="168.8" cy="340.3" r="1.6" fill="#E6E6E6" stroke="#8A8A8A" stroke-width="0.45" />
<circle cx="190.1" cy="340.3" r="1.6" fill="#E6E6E6" stroke="#8A8A8A" stroke-width="0.45" />
<circle cx="218.3" cy="340.3" r="1.3" fill="#E6E6E6" stroke="#8A8A8A" stroke-width="0.45" />
<circle cx="232.5" cy="340.3" r="1.3" fill="#E6E6E6" stroke="#8A8A8A" stroke-width="0.45" />
<circle cx="260.8" cy="340.3" r="1.5" fill="#E6E6E6" stroke="#8A8A8A" stroke-width="0.45" />
<circle cx="274.9" cy="340.3" r="1.7" fill="#E6E6E6" stroke="#8A8A8A" stroke-width="0.45" />
<circle cx="282" cy="340.3" r="1.7" fill="#E6E6E6" stroke="#8A8A8A" stroke-width="0.45" />
<circle cx="296.1" cy="340.3" r="1.7" fill="#E6E6E6" stroke="#8A8A8A" stroke-width="0.45" />
<circle cx="303.2" cy="340.3" r="1.7" fill="#E6E6E6" stroke="#8A8A8A" stroke-width="0.45" />
<circle cx="324.4" cy="340.3" r="1.3" fill="#E6E6E6" stroke="#8A8A8A" stroke-width="0.45" />
<circle cx="84" cy="348" r="1.7" fill="#E6E6E6" stroke="#8A8A8A" stroke-width="0.45" />
<circle cx="91.1" cy="348" r="1.7" fill="#E6E6E6" stroke="#8A8A8A" stroke-width="0.45" />
<circle cx="119.3" cy="348" r="1.7" fill="#E6E6E6" stroke="#8A8A8A" stroke-width="0.45" />
<circle cx="126.4" cy="348" r="1.7" fill="#E6E6E6" stroke="#8A8A8A" stroke-width="0.45" />
<circle cx="133.5" cy="348" r="1.7" fill="#E6E6E6" stroke="#8A8A8A" stroke-width="0.45" />
<circle cx="140.6" cy="348" r="1.7" fill="#E6E6E6" stroke="#8A8A8A" stroke-width="0.45" />
<circle cx="154.7" cy="348" r="1.7" fill="#E6E6E6" stroke="#8A8A8A" stroke-width="0.45" />
<circle cx="175.9" cy="348" r="3.2" fill="#E6E6E6" stroke="#8A8A8A" stroke-width="0.45" />
<circle cx="183" cy="348" r="1.7" fill="#E6E6E6" stroke="#8A8A8A" stroke-width="0.45" />
<circle cx="197.1" cy="348" r="1.7" fill="#E6E6E6" stroke="#8A8A8A" stroke-width="0.45" />
<circle cx="204.2" cy="348" r="1.7" fill="#E6E6E6" stroke="#8A8A8A" stroke-width="0.45" />
<circle cx="211.3" cy="348" r="2.5" fill="#E6E6E6" stroke="#8A8A8A" stroke-width="0.45" />
<circle cx="225.4" cy="348" r="2.5" fill="#E6E6E6" stroke="#8A8A8A" stroke-width="0.45" />
<circle cx="239.5" cy="348" r="4.6" fill="#E6E6E6" stroke="#8A8A8A" stroke-width="0.45" />
<circle cx="253.7" cy="348" r="1.5" fill="#E6E6E6" stroke="#8A8A8A" stroke-width="0.45" />
<circle cx="267.8" cy="348" r="2.6" fill="#E6E6E6" stroke="#8A8A8A" stroke-width="0.45" />
<circle cx="289" cy="348" r="1.7" fill="#E6E6E6" stroke="#8A8A8A" stroke-width="0.45" />
<circle cx="84" cy="355.8" r="2" fill="#E6E6E6" stroke="#8A8A8A" stroke-width="0.45" />
<circle cx="91.1" cy="355.8" r="1.7" fill="#E6E6E6" stroke="#8A8A8A" stroke-width="0.45" />
<circle cx="98.1" cy="355.8" r="1.7" fill="#E6E6E6" stroke="#8A8A8A" stroke-width="0.45" />
<circle cx="105.2" cy="355.8" r="1.7" fill="#E6E6E6" stroke="#8A8A8A" stroke-width="0.45" />
<circle cx="119.3" cy="355.8" r="1.7" fill="#E6E6E6" stroke="#8A8A8A" stroke-width="0.45" />
<circle cx="126.4" cy="355.8" r="1.7" fill="#E6E6E6" stroke="#8A8A8A" stroke-width="0.45" />
<circle cx="133.5" cy="355.8" r="1.7" fill="#E6E6E6" stroke="#8A8A8A" stroke-width="0.45" />
<circle cx="140.6" cy="355.8" r="2" fill="#E6E6E6" stroke="#8A8A8A" stroke-width="0.45" />
<circle cx="147.6" cy="355.8" r="2" fill="#E6E6E6" stroke="#8A8A8A" stroke-width="0.45" />
<circle cx="154.7" cy="355.8" r="1.7" fill="#E6E6E6" stroke="#8A8A8A" stroke-width="0.45" />
<circle cx="161.8" cy="355.8" r="1.7" fill="#E6E6E6" stroke="#8A8A8A" stroke-width="0.45" />
<circle cx="168.8" cy="355.8" r="2.6" fill="#E6E6E6" stroke="#8A8A8A" stroke-width="0.45" />
<circle cx="175.9" cy="355.8" r="1.5" fill="#E6E6E6" stroke="#8A8A8A" stroke-width="0.45" />
<circle cx="183" cy="355.8" r="1.5" fill="#E6E6E6" stroke="#8A8A8A" stroke-width="0.45" />
<circle cx="190.1" cy="355.8" r="1.5" fill="#E6E6E6" stroke="#8A8A8A" stroke-width="0.45" />
<circle cx="197.1" cy="355.8" r="2.6" fill="#E6E6E6" stroke="#8A8A8A" stroke-width="0.45" />
<circle cx="204.2" cy="355.8" r="2.2" fill="#E6E6E6" stroke="#8A8A8A" stroke-width="0.45" />
<circle cx="211.3" cy="355.8" r="1.5" fill="#E6E6E6" stroke="#8A8A8A" stroke-width="0.45" />
<circle cx="218.3" cy="355.8" r="1.5" fill="#E6E6E6" stroke="#8A8A8A" stroke-width="0.45" />
<circle cx="225.4" cy="355.8" r="1.3" fill="#E6E6E6" stroke="#8A8A8A" stroke-width="0.45" />
<circle cx="232.5" cy="355.8" r="1.3" fill="#E6E6E6" stroke="#8A8A8A" stroke-width="0.45" />
<circle cx="239.5" cy="355.8" r="1.5" fill="#E6E6E6" stroke="#8A8A8A" stroke-width="0.45" />
<circle cx="246.6" cy="355.8" r="1.8" fill="#E6E6E6" stroke="#8A8A8A" stroke-width="0.45" />
<circle cx="253.7" cy="355.8" r="1.5" fill="#E6E6E6" stroke="#8A8A8A" stroke-width="0.45" />
<circle cx="260.8" cy="355.8" r="1.7" fill="#E6E6E6" stroke="#8A8A8A" stroke-width="0.45" />
<circle cx="267.8" cy="355.8" r="1.5" fill="#E6E6E6" stroke="#8A8A8A" stroke-width="0.45" />
<circle cx="274.9" cy="355.8" r="1.5" fill="#E6E6E6" stroke="#8A8A8A" stroke-width="0.45" />
<circle cx="282" cy="355.8" r="1.5" fill="#E6E6E6" stroke="#8A8A8A" stroke-width="0.45" />
<circle cx="289" cy="355.8" r="2" fill="#E6E6E6" stroke="#8A8A8A" stroke-width="0.45" />
<circle cx="303.2" cy="355.8" r="1.5" fill="#E6E6E6" stroke="#8A8A8A" stroke-width="0.45" />
<circle cx="310.2" cy="355.8" r="1.5" fill="#E6E6E6" stroke="#8A8A8A" stroke-width="0.45" />
<circle cx="317.3" cy="355.8" r="1.5" fill="#E6E6E6" stroke="#8A8A8A" stroke-width="0.45" />
<circle cx="324.4" cy="355.8" r="1.5" fill="#E6E6E6" stroke="#8A8A8A" stroke-width="0.45" />
<circle cx="84" cy="363.6" r="2.4" fill="#E6E6E6" stroke="#8A8A8A" stroke-width="0.45" />
<circle cx="91.1" cy="363.6" r="1.5" fill="#E6E6E6" stroke="#8A8A8A" stroke-width="0.45" />
<circle cx="119.3" cy="363.6" r="1.5" fill="#E6E6E6" stroke="#8A8A8A" stroke-width="0.45" />
<circle cx="126.4" cy="363.6" r="2.4" fill="#E6E6E6" stroke="#8A8A8A" stroke-width="0.45" />
<circle cx="133.5" cy="363.6" r="3" fill="#E6E6E6" stroke="#8A8A8A" stroke-width="0.45" />
<circle cx="140.6" cy="363.6" r="1.5" fill="#E6E6E6" stroke="#8A8A8A" stroke-width="0.45" />
<circle cx="154.7" cy="363.6" r="1.7" fill="#E6E6E6" stroke="#8A8A8A" stroke-width="0.45" />
<circle cx="175.9" cy="363.6" r="2.8" fill="#E6E6E6" stroke="#8A8A8A" stroke-width="0.45" />
<circle cx="183" cy="363.6" r="2.8" fill="#E6E6E6" stroke="#8A8A8A" stroke-width="0.45" />
<circle cx="197.1" cy="363.6" r="2.4" fill="#E6E6E6" stroke="#8A8A8A" stroke-width="0.45" />
<circle cx="204.2" cy="363.6" r="1.3" fill="#E6E6E6" stroke="#8A8A8A" stroke-width="0.45" />
<circle cx="211.3" cy="363.6" r="2.5" fill="#E6E6E6" stroke="#8A8A8A" stroke-width="0.45" />
<circle cx="218.3" cy="363.6" r="1.3" fill="#E6E6E6" stroke="#8A8A8A" stroke-width="0.45" />
<circle cx="225.4" cy="363.6" r="1.3" fill="#E6E6E6" stroke="#8A8A8A" stroke-width="0.45" />
<circle cx="239.5" cy="363.6" r="1.3" fill="#E6E6E6" stroke="#8A8A8A" stroke-width="0.45" />
<circle cx="246.6" cy="363.6" r="2.6" fill="#E6E6E6" stroke="#8A8A8A" stroke-width="0.45" />
<circle cx="253.7" cy="363.6" r="1.3" fill="#E6E6E6" stroke="#8A8A8A" stroke-width="0.45" />
<circle cx="260.8" cy="363.6" r="1.3" fill="#E6E6E6" stroke="#8A8A8A" stroke-width="0.45" />
<circle cx="267.8" cy="363.6" r="1.3" fill="#E6E6E6" stroke="#8A8A8A" stroke-width="0.45" />
<circle cx="289" cy="363.6" r="1.5" fill="#E6E6E6" stroke="#8A8A8A" stroke-width="0.45" />
<circle cx="310.2" cy="363.6" r="2.6" fill="#E6E6E6" stroke="#8A8A8A" stroke-width="0.45" />
<circle cx="84" cy="371.3" r="1.7" fill="#E6E6E6" stroke="#8A8A8A" stroke-width="0.45" />
<circle cx="91.1" cy="371.3" r="1.7" fill="#E6E6E6" stroke="#8A8A8A" stroke-width="0.45" />
<circle cx="119.3" cy="371.3" r="1.7" fill="#E6E6E6" stroke="#8A8A8A" stroke-width="0.45" />
<circle cx="126.4" cy="371.3" r="1.7" fill="#E6E6E6" stroke="#8A8A8A" stroke-width="0.45" />
<circle cx="133.5" cy="371.3" r="1.7" fill="#E6E6E6" stroke="#8A8A8A" stroke-width="0.45" />
<circle cx="140.6" cy="371.3" r="1.7" fill="#E6E6E6" stroke="#8A8A8A" stroke-width="0.45" />
<circle cx="154.7" cy="371.3" r="2" fill="#E6E6E6" stroke="#8A8A8A" stroke-width="0.45" />
<circle cx="175.9" cy="371.3" r="1.7" fill="#E6E6E6" stroke="#8A8A8A" stroke-width="0.45" />
<circle cx="183" cy="371.3" r="2.2" fill="#E6E6E6" stroke="#8A8A8A" stroke-width="0.45" />
<circle cx="197.1" cy="371.3" r="2.2" fill="#E6E6E6" stroke="#8A8A8A" stroke-width="0.45" />
<circle cx="204.2" cy="371.3" r="1.5" fill="#E6E6E6" stroke="#8A8A8A" stroke-width="0.45" />
<circle cx="211.3" cy="371.3" r="1.5" fill="#E6E6E6" stroke="#8A8A8A" stroke-width="0.45" />
<circle cx="218.3" cy="371.3" r="1.5" fill="#E6E6E6" stroke="#8A8A8A" stroke-width="0.45" />
<circle cx="225.4" cy="371.3" r="1.5" fill="#E6E6E6" stroke="#8A8A8A" stroke-width="0.45" />
<circle cx="239.5" cy="371.3" r="2" fill="#E6E6E6" stroke="#8A8A8A" stroke-width="0.45" />
<circle cx="246.6" cy="371.3" r="1.8" fill="#E6E6E6" stroke="#8A8A8A" stroke-width="0.45" />
<circle cx="253.7" cy="371.3" r="1.5" fill="#E6E6E6" stroke="#8A8A8A" stroke-width="0.45" />
<circle cx="260.8" cy="371.3" r="2.4" fill="#E6E6E6" stroke="#8A8A8A" stroke-width="0.45" />
<circle cx="267.8" cy="371.3" r="2.2" fill="#E6E6E6" stroke="#8A8A8A" stroke-width="0.45" />
<circle cx="289" cy="371.3" r="1.5" fill="#E6E6E6" stroke="#8A8A8A" stroke-width="0.45" />
<circle cx="310.2" cy="371.3" r="2" fill="#E6E6E6" stroke="#8A8A8A" stroke-width="0.45" />
<circle cx="84" cy="379.1" r="1.7" fill="#E6E6E6" stroke="#8A8A8A" stroke-width="0.45" />
<circle cx="91.1" cy="379.1" r="1.7" fill="#E6E6E6" stroke="#8A8A8A" stroke-width="0.45" />
<circle cx="119.3" cy="379.1" r="1.7" fill="#E6E6E6" stroke="#8A8A8A" stroke-width="0.45" />
<circle cx="126.4" cy="379.1" r="1.7" fill="#E6E6E6" stroke="#8A8A8A" stroke-width="0.45" />
<circle cx="133.5" cy="379.1" r="1.7" fill="#E6E6E6" stroke="#8A8A8A" stroke-width="0.45" />
<circle cx="140.6" cy="379.1" r="1.7" fill="#E6E6E6" stroke="#8A8A8A" stroke-width="0.45" />
<circle cx="154.7" cy="379.1" r="1.7" fill="#E6E6E6" stroke="#8A8A8A" stroke-width="0.45" />
<circle cx="175.9" cy="379.1" r="1.7" fill="#E6E6E6" stroke="#8A8A8A" stroke-width="0.45" />
<circle cx="183" cy="379.1" r="1.7" fill="#E6E6E6" stroke="#8A8A8A" stroke-width="0.45" />
<circle cx="197.1" cy="379.1" r="1.7" fill="#E6E6E6" stroke="#8A8A8A" stroke-width="0.45" />
<circle cx="211.3" cy="379.1" r="1.5" fill="#E6E6E6" stroke="#8A8A8A" stroke-width="0.45" />
<circle cx="218.3" cy="379.1" r="1.5" fill="#E6E6E6" stroke="#8A8A8A" stroke-width="0.45" />
<circle cx="225.4" cy="379.1" r="1.7" fill="#E6E6E6" stroke="#8A8A8A" stroke-width="0.45" />
<circle cx="239.5" cy="379.1" r="1.7" fill="#E6E6E6" stroke="#8A8A8A" stroke-width="0.45" />
<circle cx="246.6" cy="379.1" r="1.8" fill="#E6E6E6" stroke="#8A8A8A" stroke-width="0.45" />
<circle cx="253.7" cy="379.1" r="1.5" fill="#E6E6E6" stroke="#8A8A8A" stroke-width="0.45" />
<circle cx="260.8" cy="379.1" r="2.2" fill="#E6E6E6" stroke="#8A8A8A" stroke-width="0.45" />
<circle cx="267.8" cy="379.1" r="1.5" fill="#E6E6E6" stroke="#8A8A8A" stroke-width="0.45" />
<circle cx="289" cy="379.1" r="1.5" fill="#E6E6E6" stroke="#8A8A8A" stroke-width="0.45" />
<circle cx="310.2" cy="379.1" r="1.5" fill="#E6E6E6" stroke="#8A8A8A" stroke-width="0.45" />
<circle cx="84" cy="386.8" r="2" fill="#E6E6E6" stroke="#8A8A8A" stroke-width="0.45" />
<circle cx="91.1" cy="386.8" r="3" fill="#E6E6E6" stroke="#8A8A8A" stroke-width="0.45" />
<circle cx="119.3" cy="386.8" r="2.6" fill="#E6E6E6" stroke="#8A8A8A" stroke-width="0.45" />
<circle cx="126.4" cy="386.8" r="2.4" fill="#E6E6E6" stroke="#8A8A8A" stroke-width="0.45" />
<circle cx="133.5" cy="386.8" r="2.8" fill="#E6E6E6" stroke="#8A8A8A" stroke-width="0.45" />
<circle cx="140.6" cy="386.8" r="1.7" fill="#E6E6E6" stroke="#8A8A8A" stroke-width="0.45" />
<circle cx="154.7" cy="386.8" r="1.7" fill="#E6E6E6" stroke="#8A8A8A" stroke-width="0.45" />
<circle cx="175.9" cy="386.8" r="2.4" fill="#E6E6E6" stroke="#8A8A8A" stroke-width="0.45" />
<circle cx="183" cy="386.8" r="2.4" fill="#E6E6E6" stroke="#8A8A8A" stroke-width="0.45" />
<circle cx="197.1" cy="386.8" r="2.9" fill="#E6E6E6" stroke="#8A8A8A" stroke-width="0.45" />
<circle cx="204.2" cy="386.8" r="2.4" fill="#E6E6E6" stroke="#8A8A8A" stroke-width="0.45" />
<circle cx="211.3" cy="386.8" r="2.4" fill="#E6E6E6" stroke="#8A8A8A" stroke-width="0.45" />
<circle cx="218.3" cy="386.8" r="2" fill="#E6E6E6" stroke="#8A8A8A" stroke-width="0.45" />
<circle cx="225.4" cy="386.8" r="2.2" fill="#E6E6E6" stroke="#8A8A8A" stroke-width="0.45" />
<circle cx="239.5" cy="386.8" r="2.2" fill="#E6E6E6" stroke="#8A8A8A" stroke-width="0.45" />
<circle cx="246.6" cy="386.8" r="2.4" fill="#E6E6E6" stroke="#8A8A8A" stroke-width="0.45" />
<circle cx="253.7" cy="386.8" r="1.3" fill="#E6E6E6" stroke="#8A8A8A" stroke-width="0.45" />
<circle cx="260.8" cy="386.8" r="2.4" fill="#E6E6E6" stroke="#8A8A8A" stroke-width="0.45" />
<circle cx="267.8" cy="386.8" r="2.8" fill="#E6E6E6" stroke="#8A8A8A" stroke-width="0.45" />
<circle cx="289" cy="386.8" r="2.2" fill="#E6E6E6" stroke="#8A8A8A" stroke-width="0.45" />
<circle cx="310.2" cy="386.8" r="2.8" fill="#E6E6E6" stroke="#8A8A8A" stroke-width="0.45" />
<circle cx="84" cy="394.6" r="2" fill="#E6E6E6" stroke="#8A8A8A" stroke-width="0.45" />
<circle cx="91.1" cy="394.6" r="1.5" fill="#E6E6E6" stroke="#8A8A8A" stroke-width="0.45" />
<circle cx="119.3" cy="394.6" r="1.5" fill="#E6E6E6" stroke="#8A8A8A" stroke-width="0.45" />
<circle cx="126.4" cy="394.6" r="1.5" fill="#E6E6E6" stroke="#8A8A8A" stroke-width="0.45" />
<circle cx="133.5" cy="394.6" r="1.5" fill="#E6E6E6" stroke="#8A8A8A" stroke-width="0.45" />
<circle cx="140.6" cy="394.6" r="3.3" fill="#E6E6E6" stroke="#8A8A8A" stroke-width="0.45" />
<circle cx="154.7" cy="394.6" r="1.7" fill="#E6E6E6" stroke="#8A8A8A" stroke-width="0.45" />
<circle cx="175.9" cy="394.6" r="1.7" fill="#E6E6E6" stroke="#8A8A8A" stroke-width="0.45" />
<circle cx="183" cy="394.6" r="2.2" fill="#E6E6E6" stroke="#8A8A8A" stroke-width="0.45" />
<circle cx="197.1" cy="394.6" r="2.2" fill="#E6E6E6" stroke="#8A8A8A" stroke-width="0.45" />
<circle cx="204.2" cy="394.6" r="1.8" fill="#E6E6E6" stroke="#8A8A8A" stroke-width="0.45" />
<circle cx="211.3" cy="394.6" r="1.5" fill="#E6E6E6" stroke="#8A8A8A" stroke-width="0.45" />
<circle cx="218.3" cy="394.6" r="1.7" fill="#E6E6E6" stroke="#8A8A8A" stroke-width="0.45" />
<circle cx="225.4" cy="394.6" r="1.3" fill="#E6E6E6" stroke="#8A8A8A" stroke-width="0.45" />
<circle cx="239.5" cy="394.6" r="2.2" fill="#E6E6E6" stroke="#8A8A8A" stroke-width="0.45" />
<circle cx="246.6" cy="394.6" r="1.5" fill="#E6E6E6" stroke="#8A8A8A" stroke-width="0.45" />
<circle cx="253.7" cy="394.6" r="1.3" fill="#E6E6E6" stroke="#8A8A8A" stroke-width="0.45" />
<circle cx="260.8" cy="394.6" r="2.2" fill="#E6E6E6" stroke="#8A8A8A" stroke-width="0.45" />
<circle cx="267.8" cy="394.6" r="2.2" fill="#E6E6E6" stroke="#8A8A8A" stroke-width="0.45" />
<circle cx="289" cy="394.6" r="2" fill="#E6E6E6" stroke="#8A8A8A" stroke-width="0.45" />
<circle cx="310.2" cy="394.6" r="2.2" fill="#E6E6E6" stroke="#8A8A8A" stroke-width="0.45" />
<circle cx="84" cy="402.4" r="1.7" fill="#E6E6E6" stroke="#8A8A8A" stroke-width="0.45" />
<circle cx="91.1" cy="402.4" r="2" fill="#E6E6E6" stroke="#8A8A8A" stroke-width="0.45" />
<circle cx="119.3" cy="402.4" r="1.5" fill="#E6E6E6" stroke="#8A8A8A" stroke-width="0.45" />
<circle cx="126.4" cy="402.4" r="2" fill="#E6E6E6" stroke="#8A8A8A" stroke-width="0.45" />
<circle cx="133.5" cy="402.4" r="2" fill="#E6E6E6" stroke="#8A8A8A" stroke-width="0.45" />
<circle cx="140.6" cy="402.4" r="1.5" fill="#E6E6E6" stroke="#8A8A8A" stroke-width="0.45" />
<circle cx="154.7" cy="402.4" r="1.7" fill="#E6E6E6" stroke="#8A8A8A" stroke-width="0.45" />
<circle cx="175.9" cy="402.4" r="1.7" fill="#E6E6E6" stroke="#8A8A8A" stroke-width="0.45" />
<circle cx="183" cy="402.4" r="1.7" fill="#E6E6E6" stroke="#8A8A8A" stroke-width="0.45" />
<circle cx="197.1" cy="402.4" r="2.2" fill="#E6E6E6" stroke="#8A8A8A" stroke-width="0.45" />
<circle cx="204.2" cy="402.4" r="1.7" fill="#E6E6E6" stroke="#8A8A8A" stroke-width="0.45" />
<circle cx="211.3" cy="402.4" r="1.7" fill="#E6E6E6" stroke="#8A8A8A" stroke-width="0.45" />
<circle cx="218.3" cy="402.4" r="1.5" fill="#E6E6E6" stroke="#8A8A8A" stroke-width="0.45" />
<circle cx="225.4" cy="402.4" r="1.5" fill="#E6E6E6" stroke="#8A8A8A" stroke-width="0.45" />
<circle cx="239.5" cy="402.4" r="1.7" fill="#E6E6E6" stroke="#8A8A8A" stroke-width="0.45" />
<circle cx="246.6" cy="402.4" r="2.2" fill="#E6E6E6" stroke="#8A8A8A" stroke-width="0.45" />
<circle cx="260.8" cy="402.4" r="1.8" fill="#E6E6E6" stroke="#8A8A8A" stroke-width="0.45" />
<circle cx="267.8" cy="402.4" r="2.2" fill="#E6E6E6" stroke="#8A8A8A" stroke-width="0.45" />
<circle cx="289" cy="402.4" r="1.7" fill="#E6E6E6" stroke="#8A8A8A" stroke-width="0.45" />
<circle cx="310.2" cy="402.4" r="2.2" fill="#E6E6E6" stroke="#8A8A8A" stroke-width="0.45" />
<circle cx="84" cy="410.1" r="2.2" fill="#E6E6E6" stroke="#8A8A8A" stroke-width="0.45" />
<circle cx="91.1" cy="410.1" r="1.7" fill="#E6E6E6" stroke="#8A8A8A" stroke-width="0.45" />
<circle cx="119.3" cy="410.1" r="2" fill="#E6E6E6" stroke="#8A8A8A" stroke-width="0.45" />
<circle cx="126.4" cy="410.1" r="2" fill="#E6E6E6" stroke="#8A8A8A" stroke-width="0.45" />
<circle cx="133.5" cy="410.1" r="1.7" fill="#E6E6E6" stroke="#8A8A8A" stroke-width="0.45" />
<circle cx="154.7" cy="410.1" r="2.6" fill="#E6E6E6" stroke="#8A8A8A" stroke-width="0.45" />
<circle cx="175.9" cy="410.1" r="2.6" fill="#E6E6E6" stroke="#8A8A8A" stroke-width="0.45" />
<circle cx="183" cy="410.1" r="2.4" fill="#E6E6E6" stroke="#8A8A8A" stroke-width="0.45" />
<circle cx="197.1" cy="410.1" r="2.2" fill="#E6E6E6" stroke="#8A8A8A" stroke-width="0.45" />
<circle cx="204.2" cy="410.1" r="1.7" fill="#E6E6E6" stroke="#8A8A8A" stroke-width="0.45" />
<circle cx="211.3" cy="410.1" r="2.4" fill="#E6E6E6" stroke="#8A8A8A" stroke-width="0.45" />
<circle cx="218.3" cy="410.1" r="2.2" fill="#E6E6E6" stroke="#8A8A8A" stroke-width="0.45" />
<circle cx="225.4" cy="410.1" r="2" fill="#E6E6E6" stroke="#8A8A8A" stroke-width="0.45" />
<circle cx="239.5" cy="410.1" r="1.7" fill="#E6E6E6" stroke="#8A8A8A" stroke-width="0.45" />
<circle cx="246.6" cy="410.1" r="1.7" fill="#E6E6E6" stroke="#8A8A8A" stroke-width="0.45" />
<circle cx="253.7" cy="410.1" r="1.5" fill="#E6E6E6" stroke="#8A8A8A" stroke-width="0.45" />
<circle cx="260.8" cy="410.1" r="2.4" fill="#E6E6E6" stroke="#8A8A8A" stroke-width="0.45" />
<circle cx="267.8" cy="410.1" r="2.2" fill="#E6E6E6" stroke="#8A8A8A" stroke-width="0.45" />
<circle cx="289" cy="410.1" r="2.2" fill="#E6E6E6" stroke="#8A8A8A" stroke-width="0.45" />
<circle cx="310.2" cy="410.1" r="1.5" fill="#E6E6E6" stroke="#8A8A8A" stroke-width="0.45" />
<circle cx="98.1" cy="417.9" r="1.5" fill="#E6E6E6" stroke="#8A8A8A" stroke-width="0.45" />
<circle cx="112.3" cy="417.9" r="2.2" fill="#E6E6E6" stroke="#8A8A8A" stroke-width="0.45" />
<circle cx="147.6" cy="417.9" r="2.2" fill="#E6E6E6" stroke="#8A8A8A" stroke-width="0.45" />
<circle cx="168.8" cy="417.9" r="2.2" fill="#E6E6E6" stroke="#8A8A8A" stroke-width="0.45" />
<circle cx="190.1" cy="417.9" r="1.7" fill="#E6E6E6" stroke="#8A8A8A" stroke-width="0.45" />
<circle cx="218.3" cy="417.9" r="1.5" fill="#E6E6E6" stroke="#8A8A8A" stroke-width="0.45" />
<circle cx="225.4" cy="417.9" r="1.5" fill="#E6E6E6" stroke="#8A8A8A" stroke-width="0.45" />
<circle cx="246.6" cy="417.9" r="1.5" fill="#E6E6E6" stroke="#8A8A8A" stroke-width="0.45" />
<circle cx="260.8" cy="417.9" r="2.2" fill="#E6E6E6" stroke="#8A8A8A" stroke-width="0.45" />
<circle cx="274.9" cy="417.9" r="1.5" fill="#E6E6E6" stroke="#8A8A8A" stroke-width="0.45" />
<circle cx="282" cy="417.9" r="2.4" fill="#E6E6E6" stroke="#8A8A8A" stroke-width="0.45" />
<circle cx="296.1" cy="417.9" r="1.5" fill="#E6E6E6" stroke="#8A8A8A" stroke-width="0.45" />
<circle cx="303.2" cy="417.9" r="2.4" fill="#E6E6E6" stroke="#8A8A8A" stroke-width="0.45" />
<circle cx="317.3" cy="417.9" r="1.5" fill="#E6E6E6" stroke="#8A8A8A" stroke-width="0.45" />
<circle cx="98.1" cy="425.6" r="1.5" fill="#E6E6E6" stroke="#8A8A8A" stroke-width="0.45" />
<circle cx="112.3" cy="425.6" r="1.5" fill="#E6E6E6" stroke="#8A8A8A" stroke-width="0.45" />
<circle cx="147.6" cy="425.6" r="1.5" fill="#E6E6E6" stroke="#8A8A8A" stroke-width="0.45" />
<circle cx="168.8" cy="425.6" r="2.6" fill="#E6E6E6" stroke="#8A8A8A" stroke-width="0.45" />
<circle cx="190.1" cy="425.6" r="1.7" fill="#E6E6E6" stroke="#8A8A8A" stroke-width="0.45" />
<circle cx="218.3" cy="425.6" r="1.5" fill="#E6E6E6" stroke="#8A8A8A" stroke-width="0.45" />
<circle cx="225.4" cy="425.6" r="2.6" fill="#D89088" stroke="#8A8A8A" stroke-width="0.45" />
<circle cx="246.6" cy="425.6" r="2.6" fill="#E6DCDA" stroke="#8A8A8A" stroke-width="0.45" />
<circle cx="260.8" cy="425.6" r="2.6" fill="#E6E6E6" stroke="#8A8A8A" stroke-width="0.45" />
<circle cx="274.9" cy="425.6" r="1.5" fill="#E6E6E6" stroke="#8A8A8A" stroke-width="0.45" />
<circle cx="282" cy="425.6" r="2.4" fill="#E6E6E6" stroke="#8A8A8A" stroke-width="0.45" />
<circle cx="296.1" cy="425.6" r="1.5" fill="#E6E6E6" stroke="#8A8A8A" stroke-width="0.45" />
<circle cx="303.2" cy="425.6" r="2.4" fill="#E6DCDA" stroke="#8A8A8A" stroke-width="0.45" />
<circle cx="317.3" cy="425.6" r="1.5" fill="#E6E6E6" stroke="#8A8A8A" stroke-width="0.45" />
<circle cx="98.1" cy="433.4" r="1.7" fill="#E6E6E6" stroke="#8A8A8A" stroke-width="0.45" />
<circle cx="105.2" cy="433.4" r="1.7" fill="#E6E6E6" stroke="#8A8A8A" stroke-width="0.45" />
<circle cx="112.3" cy="433.4" r="1.7" fill="#E6E6E6" stroke="#8A8A8A" stroke-width="0.45" />
<circle cx="147.6" cy="433.4" r="2.6" fill="#E6E6E6" stroke="#8A8A8A" stroke-width="0.45" />
<circle cx="161.8" cy="433.4" r="2.1" fill="#E6E6E6" stroke="#8A8A8A" stroke-width="0.45" />
<circle cx="168.8" cy="433.4" r="2.6" fill="#E6E6E6" stroke="#8A8A8A" stroke-width="0.45" />
<circle cx="190.1" cy="433.4" r="2.2" fill="#E6E6E6" stroke="#8A8A8A" stroke-width="0.45" />
<circle cx="204.2" cy="433.4" r="2.6" fill="#E6E6E6" stroke="#8A8A8A" stroke-width="0.45" />
<circle cx="218.3" cy="433.4" r="1.7" fill="#E6E6E6" stroke="#8A8A8A" stroke-width="0.45" />
<circle cx="225.4" cy="433.4" r="1.5" fill="#E6E6E6" stroke="#8A8A8A" stroke-width="0.45" />
<circle cx="232.5" cy="433.4" r="1.5" fill="#E6E6E6" stroke="#8A8A8A" stroke-width="0.45" />
<circle cx="246.6" cy="433.4" r="1.7" fill="#E6E6E6" stroke="#8A8A8A" stroke-width="0.45" />
<circle cx="253.7" cy="433.4" r="1.5" fill="#E6E6E6" stroke="#8A8A8A" stroke-width="0.45" />
<circle cx="260.8" cy="433.4" r="2.2" fill="#E6E6E6" stroke="#8A8A8A" stroke-width="0.45" />
<circle cx="274.9" cy="433.4" r="1.5" fill="#E6E6E6" stroke="#8A8A8A" stroke-width="0.45" />
<circle cx="282" cy="433.4" r="2" fill="#E6E6E6" stroke="#8A8A8A" stroke-width="0.45" />
<circle cx="289" cy="433.4" r="1.5" fill="#E6E6E6" stroke="#8A8A8A" stroke-width="0.45" />
<circle cx="296.1" cy="433.4" r="2.2" fill="#E6E6E6" stroke="#8A8A8A" stroke-width="0.45" />
<circle cx="303.2" cy="433.4" r="2.6" fill="#E6DCDA" stroke="#8A8A8A" stroke-width="0.45" />
<circle cx="317.3" cy="433.4" r="1.5" fill="#E6E6E6" stroke="#8A8A8A" stroke-width="0.45" />
<circle cx="324.4" cy="433.4" r="2.4" fill="#E6E6E6" stroke="#8A8A8A" stroke-width="0.45" />
<circle cx="112.3" cy="441.2" r="1.5" fill="#E6E6E6" stroke="#8A8A8A" stroke-width="0.45" />
<circle cx="190.1" cy="441.2" r="3.7" fill="#E6E6E6" stroke="#8A8A8A" stroke-width="0.45" />
<circle cx="218.3" cy="441.2" r="3.2" fill="#E6E6E6" stroke="#8A8A8A" stroke-width="0.45" />
<circle cx="84" cy="448.9" r="1.5" fill="#E6E6E6" stroke="#8A8A8A" stroke-width="0.45" />
<circle cx="91.1" cy="448.9" r="1.5" fill="#E6E6E6" stroke="#8A8A8A" stroke-width="0.45" />
<circle cx="112.3" cy="448.9" r="1.5" fill="#E6E6E6" stroke="#8A8A8A" stroke-width="0.45" />
<circle cx="119.3" cy="448.9" r="1.5" fill="#E6E6E6" stroke="#8A8A8A" stroke-width="0.45" />
<circle cx="126.4" cy="448.9" r="1.5" fill="#E6E6E6" stroke="#8A8A8A" stroke-width="0.45" />
<circle cx="133.5" cy="448.9" r="1.5" fill="#E6E6E6" stroke="#8A8A8A" stroke-width="0.45" />
<circle cx="140.6" cy="448.9" r="1.5" fill="#E6E6E6" stroke="#8A8A8A" stroke-width="0.45" />
<circle cx="154.7" cy="448.9" r="1.5" fill="#E6E6E6" stroke="#8A8A8A" stroke-width="0.45" />
<circle cx="168.8" cy="448.9" r="1.5" fill="#E6E6E6" stroke="#8A8A8A" stroke-width="0.45" />
<circle cx="175.9" cy="448.9" r="1.5" fill="#E6E6E6" stroke="#8A8A8A" stroke-width="0.45" />
<circle cx="183" cy="448.9" r="1.8" fill="#E6E6E6" stroke="#8A8A8A" stroke-width="0.45" />
<circle cx="197.1" cy="448.9" r="1.5" fill="#E6E6E6" stroke="#8A8A8A" stroke-width="0.45" />
<circle cx="211.3" cy="448.9" r="1.5" fill="#E6E6E6" stroke="#8A8A8A" stroke-width="0.45" />
<circle cx="218.3" cy="448.9" r="1.3" fill="#E6E6E6" stroke="#8A8A8A" stroke-width="0.45" />
<circle cx="225.4" cy="448.9" r="1.3" fill="#E6E6E6" stroke="#8A8A8A" stroke-width="0.45" />
<circle cx="239.5" cy="448.9" r="1.5" fill="#E6E6E6" stroke="#8A8A8A" stroke-width="0.45" />
<circle cx="246.6" cy="448.9" r="1.5" fill="#E6E6E6" stroke="#8A8A8A" stroke-width="0.45" />
<circle cx="253.7" cy="448.9" r="1.3" fill="#E6E6E6" stroke="#8A8A8A" stroke-width="0.45" />
<circle cx="260.8" cy="448.9" r="1.3" fill="#E6E6E6" stroke="#8A8A8A" stroke-width="0.45" />
<circle cx="267.8" cy="448.9" r="1.3" fill="#E6E6E6" stroke="#8A8A8A" stroke-width="0.45" />
<circle cx="289" cy="448.9" r="1.3" fill="#E6E6E6" stroke="#8A8A8A" stroke-width="0.45" />
<circle cx="310.2" cy="448.9" r="1.3" fill="#E6E6E6" stroke="#8A8A8A" stroke-width="0.45" />
<circle cx="84" cy="456.7" r="1.5" fill="#E6E6E6" stroke="#8A8A8A" stroke-width="0.45" />
<circle cx="183" cy="456.7" r="1.5" fill="#E6E6E6" stroke="#8A8A8A" stroke-width="0.45" />
<circle cx="197.1" cy="456.7" r="1.5" fill="#E6E6E6" stroke="#8A8A8A" stroke-width="0.45" />
<circle cx="211.3" cy="456.7" r="5.9" fill="#E6E6E6" stroke="#8A8A8A" stroke-width="0.45" />
<circle cx="225.4" cy="456.7" r="5.9" fill="#E6E6E6" stroke="#8A8A8A" stroke-width="0.45" />
<circle cx="246.6" cy="456.7" r="1.5" fill="#E6E6E6" stroke="#8A8A8A" stroke-width="0.45" />
<circle cx="260.8" cy="456.7" r="5.8" fill="#E2B4AC" stroke="#8A8A8A" stroke-width="0.45" />
<circle cx="84" cy="464.4" r="3.7" fill="#E6E6E6" stroke="#8A8A8A" stroke-width="0.45" />
<circle cx="91.1" cy="464.4" r="1.5" fill="#E6E6E6" stroke="#8A8A8A" stroke-width="0.45" />
<circle cx="112.3" cy="464.4" r="1.5" fill="#E6E6E6" stroke="#8A8A8A" stroke-width="0.45" />
<circle cx="119.3" cy="464.4" r="1.5" fill="#E6E6E6" stroke="#8A8A8A" stroke-width="0.45" />
<circle cx="126.4" cy="464.4" r="1.5" fill="#E6E6E6" stroke="#8A8A8A" stroke-width="0.45" />
<circle cx="133.5" cy="464.4" r="1.5" fill="#E6E6E6" stroke="#8A8A8A" stroke-width="0.45" />
<circle cx="140.6" cy="464.4" r="1.5" fill="#E6E6E6" stroke="#8A8A8A" stroke-width="0.45" />
<circle cx="147.6" cy="464.4" r="1.5" fill="#E6E6E6" stroke="#8A8A8A" stroke-width="0.45" />
<circle cx="154.7" cy="464.4" r="1.5" fill="#E6E6E6" stroke="#8A8A8A" stroke-width="0.45" />
<circle cx="168.8" cy="464.4" r="1.5" fill="#E6E6E6" stroke="#8A8A8A" stroke-width="0.45" />
<circle cx="183" cy="464.4" r="3" fill="#E6E6E6" stroke="#8A8A8A" stroke-width="0.45" />
<circle cx="190.1" cy="464.4" r="1.5" fill="#E6E6E6" stroke="#8A8A8A" stroke-width="0.45" />
<circle cx="197.1" cy="464.4" r="2.6" fill="#E6E6E6" stroke="#8A8A8A" stroke-width="0.45" />
<circle cx="211.3" cy="464.4" r="3.8" fill="#E6E6E6" stroke="#8A8A8A" stroke-width="0.45" />
<circle cx="218.3" cy="464.4" r="1.3" fill="#E6E6E6" stroke="#8A8A8A" stroke-width="0.45" />
<circle cx="225.4" cy="464.4" r="1.7" fill="#E6E6E6" stroke="#8A8A8A" stroke-width="0.45" />
<circle cx="239.5" cy="464.4" r="1.7" fill="#E6E6E6" stroke="#8A8A8A" stroke-width="0.45" />
<circle cx="246.6" cy="464.4" r="1.5" fill="#E6E6E6" stroke="#8A8A8A" stroke-width="0.45" />
<circle cx="253.7" cy="464.4" r="1.3" fill="#E6E6E6" stroke="#8A8A8A" stroke-width="0.45" />
<circle cx="260.8" cy="464.4" r="3" fill="#E6E6E6" stroke="#8A8A8A" stroke-width="0.45" />
<circle cx="267.8" cy="464.4" r="1.5" fill="#E6E6E6" stroke="#8A8A8A" stroke-width="0.45" />
<circle cx="282" cy="464.4" r="1.5" fill="#E6E6E6" stroke="#8A8A8A" stroke-width="0.45" />
<circle cx="289" cy="464.4" r="1.5" fill="#E6E6E6" stroke="#8A8A8A" stroke-width="0.45" />
<circle cx="296.1" cy="464.4" r="4.5" fill="#E6E6E6" stroke="#8A8A8A" stroke-width="0.45" />
<circle cx="303.2" cy="464.4" r="1.5" fill="#E6E6E6" stroke="#8A8A8A" stroke-width="0.45" />
<circle cx="310.2" cy="464.4" r="3" fill="#E6E6E6" stroke="#8A8A8A" stroke-width="0.45" />
<circle cx="317.3" cy="464.4" r="1.5" fill="#E6E6E6" stroke="#8A8A8A" stroke-width="0.45" />
<circle cx="84" cy="472.2" r="1.5" fill="#E6E6E6" stroke="#8A8A8A" stroke-width="0.45" />
<circle cx="91.1" cy="472.2" r="1.5" fill="#E6E6E6" stroke="#8A8A8A" stroke-width="0.45" />
<circle cx="126.4" cy="472.2" r="1.5" fill="#E6E6E6" stroke="#8A8A8A" stroke-width="0.45" />
<circle cx="133.5" cy="472.2" r="1.5" fill="#E6E6E6" stroke="#8A8A8A" stroke-width="0.45" />
<circle cx="140.6" cy="472.2" r="1.5" fill="#E6E6E6" stroke="#8A8A8A" stroke-width="0.45" />
<circle cx="154.7" cy="472.2" r="1.5" fill="#E6E6E6" stroke="#8A8A8A" stroke-width="0.45" />
<circle cx="168.8" cy="472.2" r="1.5" fill="#E6E6E6" stroke="#8A8A8A" stroke-width="0.45" />
<circle cx="175.9" cy="472.2" r="1.5" fill="#E6E6E6" stroke="#8A8A8A" stroke-width="0.45" />
<circle cx="183" cy="472.2" r="1.5" fill="#E6E6E6" stroke="#8A8A8A" stroke-width="0.45" />
<circle cx="197.1" cy="472.2" r="1.5" fill="#E6E6E6" stroke="#8A8A8A" stroke-width="0.45" />
<circle cx="211.3" cy="472.2" r="1.5" fill="#E6E6E6" stroke="#8A8A8A" stroke-width="0.45" />
<circle cx="218.3" cy="472.2" r="1.3" fill="#E6E6E6" stroke="#8A8A8A" stroke-width="0.45" />
<circle cx="225.4" cy="472.2" r="1.5" fill="#E6E6E6" stroke="#8A8A8A" stroke-width="0.45" />
<circle cx="239.5" cy="472.2" r="1.5" fill="#E6E6E6" stroke="#8A8A8A" stroke-width="0.45" />
<circle cx="246.6" cy="472.2" r="1.5" fill="#E6E6E6" stroke="#8A8A8A" stroke-width="0.45" />
<circle cx="260.8" cy="472.2" r="3.8" fill="#E8CCCC" stroke="#8A8A8A" stroke-width="0.45" />
<circle cx="267.8" cy="472.2" r="1.5" fill="#E6E6E6" stroke="#8A8A8A" stroke-width="0.45" />
<circle cx="289" cy="472.2" r="4.2" fill="#E6E6E6" stroke="#8A8A8A" stroke-width="0.45" />
<circle cx="296.1" cy="472.2" r="3.5" fill="#BD2F2F" stroke="#8A8A8A" stroke-width="0.45" />
<circle cx="310.2" cy="472.2" r="1.5" fill="#E6E6E6" stroke="#8A8A8A" stroke-width="0.45" />
<circle cx="84" cy="480" r="3" fill="#E6E6E6" stroke="#8A8A8A" stroke-width="0.45" />
<circle cx="91.1" cy="480" r="1.5" fill="#E6E6E6" stroke="#8A8A8A" stroke-width="0.45" />
<circle cx="112.3" cy="480" r="4.2" fill="#DFBAB2" stroke="#8A8A8A" stroke-width="0.45" />
<circle cx="119.3" cy="480" r="1.5" fill="#E6E6E6" stroke="#8A8A8A" stroke-width="0.45" />
<circle cx="126.4" cy="480" r="1.5" fill="#E6E6E6" stroke="#8A8A8A" stroke-width="0.45" />
<circle cx="133.5" cy="480" r="1.5" fill="#E6E6E6" stroke="#8A8A8A" stroke-width="0.45" />
<circle cx="140.6" cy="480" r="1.5" fill="#E6E6E6" stroke="#8A8A8A" stroke-width="0.45" />
<circle cx="147.6" cy="480" r="1.5" fill="#E6E6E6" stroke="#8A8A8A" stroke-width="0.45" />
<circle cx="168.8" cy="480" r="3.7" fill="#E0B2AA" stroke="#8A8A8A" stroke-width="0.45" />
<circle cx="175.9" cy="480" r="1.5" fill="#E6E6E6" stroke="#8A8A8A" stroke-width="0.45" />
<circle cx="183" cy="480" r="2.4" fill="#E6E6E6" stroke="#8A8A8A" stroke-width="0.45" />
<circle cx="190.1" cy="480" r="2.4" fill="#E6E6E6" stroke="#8A8A8A" stroke-width="0.45" />
<circle cx="197.1" cy="480" r="2.6" fill="#E6E6E6" stroke="#8A8A8A" stroke-width="0.45" />
<circle cx="204.2" cy="480" r="5.5" fill="#E6E6E6" stroke="#8A8A8A" stroke-width="0.45" />
<circle cx="211.3" cy="480" r="2.4" fill="#E6E6E6" stroke="#8A8A8A" stroke-width="0.45" />
<circle cx="218.3" cy="480" r="2.2" fill="#E6E6E6" stroke="#8A8A8A" stroke-width="0.45" />
<circle cx="225.4" cy="480" r="2.6" fill="#E4D4D0" stroke="#8A8A8A" stroke-width="0.45" />
<circle cx="232.5" cy="480" r="1.5" fill="#E6E6E6" stroke="#8A8A8A" stroke-width="0.45" />
<circle cx="239.5" cy="480" r="1.5" fill="#E6E6E6" stroke="#8A8A8A" stroke-width="0.45" />
<circle cx="246.6" cy="480" r="3.7" fill="#E6E6E6" stroke="#8A8A8A" stroke-width="0.45" />
<circle cx="260.8" cy="480" r="3" fill="#EEE4E2" stroke="#8A8A8A" stroke-width="0.45" />
<circle cx="267.8" cy="480" r="2.2" fill="#E6E6E6" stroke="#8A8A8A" stroke-width="0.45" />
<circle cx="282" cy="480" r="1.5" fill="#E6E6E6" stroke="#8A8A8A" stroke-width="0.45" />
<circle cx="289" cy="480" r="1.5" fill="#E6E6E6" stroke="#8A8A8A" stroke-width="0.45" />
<circle cx="303.2" cy="480" r="1.5" fill="#E6E6E6" stroke="#8A8A8A" stroke-width="0.45" />
<circle cx="310.2" cy="480" r="1.5" fill="#E6E6E6" stroke="#8A8A8A" stroke-width="0.45" />
<circle cx="317.3" cy="480" r="1.5" fill="#E6E6E6" stroke="#8A8A8A" stroke-width="0.45" />
<circle cx="84" cy="487.7" r="3.9" fill="#E6E6E6" stroke="#8A8A8A" stroke-width="0.45" />
<circle cx="91.1" cy="487.7" r="4.2" fill="#E6E6E6" stroke="#8A8A8A" stroke-width="0.45" />
<circle cx="140.6" cy="487.7" r="4.2" fill="#E6E6E6" stroke="#8A8A8A" stroke-width="0.45" />
<circle cx="147.6" cy="487.7" r="4.5" fill="#E6E6E6" stroke="#8A8A8A" stroke-width="0.45" />
<circle cx="154.7" cy="487.7" r="3.8" fill="#E6E6E6" stroke="#8A8A8A" stroke-width="0.45" />
<circle cx="168.8" cy="487.7" r="5.5" fill="#C4605A" stroke="#8A8A8A" stroke-width="0.45" />
<circle cx="175.9" cy="487.7" r="1.5" fill="#E6E6E6" stroke="#8A8A8A" stroke-width="0.45" />
<circle cx="183" cy="487.7" r="3.7" fill="#E6E6E6" stroke="#8A8A8A" stroke-width="0.45" />
<circle cx="190.1" cy="487.7" r="3.7" fill="#E6E6E6" stroke="#8A8A8A" stroke-width="0.45" />
<circle cx="197.1" cy="487.7" r="3.7" fill="#E6E6E6" stroke="#8A8A8A" stroke-width="0.45" />
<circle cx="211.3" cy="487.7" r="3.7" fill="#E6E6E6" stroke="#8A8A8A" stroke-width="0.45" />
<circle cx="218.3" cy="487.7" r="3.7" fill="#E6E6E6" stroke="#8A8A8A" stroke-width="0.45" />
<circle cx="225.4" cy="487.7" r="3" fill="#E6E6E6" stroke="#8A8A8A" stroke-width="0.45" />
<circle cx="232.5" cy="487.7" r="1.5" fill="#E6E6E6" stroke="#8A8A8A" stroke-width="0.45" />
<circle cx="239.5" cy="487.7" r="1.5" fill="#E6E6E6" stroke="#8A8A8A" stroke-width="0.45" />
<circle cx="246.6" cy="487.7" r="3" fill="#E8D4D0" stroke="#8A8A8A" stroke-width="0.45" />
<circle cx="260.8" cy="487.7" r="5" fill="#CF685C" stroke="#8A8A8A" stroke-width="0.45" />
<circle cx="267.8" cy="487.7" r="1.5" fill="#E6E6E6" stroke="#8A8A8A" stroke-width="0.45" />
<circle cx="282" cy="487.7" r="1.5" fill="#E6E6E6" stroke="#8A8A8A" stroke-width="0.45" />
<circle cx="289" cy="487.7" r="3.8" fill="#E6E6E6" stroke="#8A8A8A" stroke-width="0.45" />
<circle cx="310.2" cy="487.7" r="3" fill="#E6E6E6" stroke="#8A8A8A" stroke-width="0.45" />
<circle cx="84" cy="495.5" r="1.5" fill="#E6E6E6" stroke="#8A8A8A" stroke-width="0.45" />
<circle cx="91.1" cy="495.5" r="1.5" fill="#E6E6E6" stroke="#8A8A8A" stroke-width="0.45" />
<circle cx="98.1" cy="495.5" r="4.7" fill="#EBDDD9" stroke="#8A8A8A" stroke-width="0.45" />
<circle cx="112.3" cy="495.5" r="4.7" fill="#CF8070" stroke="#8A8A8A" stroke-width="0.45" />
<circle cx="126.4" cy="495.5" r="1.5" fill="#E6E6E6" stroke="#8A8A8A" stroke-width="0.45" />
<circle cx="147.6" cy="495.5" r="4.2" fill="#E6E6E6" stroke="#8A8A8A" stroke-width="0.45" />
<circle cx="168.8" cy="495.5" r="5.8" fill="#E8D0CC" stroke="#8A8A8A" stroke-width="0.45" />
<circle cx="183" cy="495.5" r="3.5" fill="#E6E6E6" stroke="#8A8A8A" stroke-width="0.45" />
<circle cx="190.1" cy="495.5" r="3.5" fill="#E8D8D4" stroke="#8A8A8A" stroke-width="0.45" />
<circle cx="197.1" cy="495.5" r="3.5" fill="#E6E6E6" stroke="#8A8A8A" stroke-width="0.45" />
<circle cx="211.3" cy="495.5" r="1.8" fill="#E6E6E6" stroke="#8A8A8A" stroke-width="0.45" />
<circle cx="218.3" cy="495.5" r="3.8" fill="#E6E6E6" stroke="#8A8A8A" stroke-width="0.45" />
<circle cx="225.4" cy="495.5" r="3" fill="#E6E6E6" stroke="#8A8A8A" stroke-width="0.45" />
<circle cx="232.5" cy="495.5" r="1.5" fill="#E6E6E6" stroke="#8A8A8A" stroke-width="0.45" />
<circle cx="239.5" cy="495.5" r="1.5" fill="#E6E6E6" stroke="#8A8A8A" stroke-width="0.45" />
<circle cx="246.6" cy="495.5" r="3" fill="#E6E6E6" stroke="#8A8A8A" stroke-width="0.45" />
<circle cx="253.7" cy="495.5" r="1.3" fill="#E6E6E6" stroke="#8A8A8A" stroke-width="0.45" />
<circle cx="260.8" cy="495.5" r="5" fill="#E8C8C0" stroke="#8A8A8A" stroke-width="0.45" />
<circle cx="267.8" cy="495.5" r="3.5" fill="#E6E6E6" stroke="#8A8A8A" stroke-width="0.45" />
<circle cx="274.9" cy="495.5" r="1.5" fill="#E6E6E6" stroke="#8A8A8A" stroke-width="0.45" />
<circle cx="282" cy="495.5" r="3.8" fill="#D07060" stroke="#8A8A8A" stroke-width="0.45" />
<circle cx="296.1" cy="495.5" r="1.5" fill="#E6E6E6" stroke="#8A8A8A" stroke-width="0.45" />
<circle cx="303.2" cy="495.5" r="1.5" fill="#E6E6E6" stroke="#8A8A8A" stroke-width="0.45" />
<circle cx="310.2" cy="495.5" r="2.5" fill="#E6E6E6" stroke="#8A8A8A" stroke-width="0.45" />
<circle cx="317.3" cy="495.5" r="5.8" fill="#D88F80" stroke="#8A8A8A" stroke-width="0.45" />
<rect x="253.7" y="448.9" width="79.4" height="51.5" fill="none" stroke="#444" stroke-width="0.9" stroke-dasharray="2.2 1.4"/>
<text x="73.9" y="319.1" font-size="6.0" text-anchor="end" font-weight="normal" fill="#000"  stroke="#000" stroke-width="0.11">Mal</text>
<line x1="73.9" y1="317" x2="75.3" y2="317" stroke="#999" stroke-width="0.4" />
<text x="73.9" y="326.9" font-size="6.0" text-anchor="end" font-weight="normal" fill="#000"  stroke="#000" stroke-width="0.11">Endo</text>
<line x1="73.9" y1="324.8" x2="75.3" y2="324.8" stroke="#999" stroke-width="0.4" />
<text x="73.9" y="334.6" font-size="6.0" text-anchor="end" font-weight="normal" fill="#000"  stroke="#000" stroke-width="0.11">CAF</text>
<line x1="73.9" y1="332.5" x2="75.3" y2="332.5" stroke="#999" stroke-width="0.4" />
<text x="73.9" y="342.4" font-size="6.0" text-anchor="end" font-weight="normal" fill="#000"  stroke="#000" stroke-width="0.11">NK</text>
<line x1="73.9" y1="340.3" x2="75.3" y2="340.3" stroke="#999" stroke-width="0.4" />
<text x="73.9" y="350.1" font-size="6.0" text-anchor="end" font-weight="normal" fill="#000"  stroke="#000" stroke-width="0.11">Plasma</text>
<line x1="73.9" y1="348" x2="75.3" y2="348" stroke="#999" stroke-width="0.4" />
<text x="73.9" y="357.9" font-size="6.0" text-anchor="end" font-weight="normal" fill="#000"  stroke="#000" stroke-width="0.11">B</text>
<line x1="73.9" y1="355.8" x2="75.3" y2="355.8" stroke="#999" stroke-width="0.4" />
<text x="73.9" y="365.7" font-size="6.0" text-anchor="end" font-weight="normal" fill="#000"  stroke="#000" stroke-width="0.11">Lym.Exh/Cyc</text>
<line x1="73.9" y1="363.6" x2="75.3" y2="363.6" stroke="#999" stroke-width="0.4" />
<text x="73.9" y="373.4" font-size="6.0" text-anchor="end" font-weight="normal" fill="#000"  stroke="#000" stroke-width="0.11">Lym.Cytotoxic</text>
<line x1="73.9" y1="371.3" x2="75.3" y2="371.3" stroke="#999" stroke-width="0.4" />
<text x="73.9" y="381.2" font-size="6.0" text-anchor="end" font-weight="normal" fill="#000"  stroke="#000" stroke-width="0.11">Lym</text>
<line x1="73.9" y1="379.1" x2="75.3" y2="379.1" stroke="#999" stroke-width="0.4" />
<text x="73.9" y="388.9" font-size="6.0" text-anchor="end" font-weight="normal" fill="#000"  stroke="#000" stroke-width="0.11">Treg</text>
<line x1="73.9" y1="386.8" x2="75.3" y2="386.8" stroke="#999" stroke-width="0.4" />
<text x="73.9" y="396.7" font-size="6.0" text-anchor="end" font-weight="normal" fill="#000"  stroke="#000" stroke-width="0.11">Tmem</text>
<line x1="73.9" y1="394.6" x2="75.3" y2="394.6" stroke="#999" stroke-width="0.4" />
<text x="73.9" y="404.5" font-size="6.0" text-anchor="end" font-weight="normal" fill="#000"  stroke="#000" stroke-width="0.11">T8.Exh/HS</text>
<line x1="73.9" y1="402.4" x2="75.3" y2="402.4" stroke="#999" stroke-width="0.4" />
<text x="73.9" y="412.2" font-size="6.0" text-anchor="end" font-weight="normal" fill="#000"  stroke="#000" stroke-width="0.11">T8.Exh</text>
<line x1="73.9" y1="410.1" x2="75.3" y2="410.1" stroke="#999" stroke-width="0.4" />
<text x="73.9" y="420" font-size="6.0" text-anchor="end" font-weight="normal" fill="#000"  stroke="#000" stroke-width="0.11">T.CD8</text>
<line x1="73.9" y1="417.9" x2="75.3" y2="417.9" stroke="#999" stroke-width="0.4" />
<text x="73.9" y="427.7" font-size="6.0" text-anchor="end" font-weight="normal" fill="#000"  stroke="#000" stroke-width="0.11">T.CD4</text>
<line x1="73.9" y1="425.6" x2="75.3" y2="425.6" stroke="#999" stroke-width="0.4" />
<text x="73.9" y="435.5" font-size="6.0" text-anchor="end" font-weight="normal" fill="#000"  stroke="#000" stroke-width="0.11">T</text>
<line x1="73.9" y1="433.4" x2="75.3" y2="433.4" stroke="#999" stroke-width="0.4" />
<text x="73.9" y="443.3" font-size="6.0" text-anchor="end" font-weight="normal" fill="#000"  stroke="#000" stroke-width="0.11">Cycling.Mye</text>
<line x1="73.9" y1="441.2" x2="75.3" y2="441.2" stroke="#999" stroke-width="0.4" />
<text x="73.9" y="451" font-size="6.0" text-anchor="end" font-weight="normal" fill="#000"  stroke="#000" stroke-width="0.11">pDCs</text>
<line x1="73.9" y1="448.9" x2="75.3" y2="448.9" stroke="#999" stroke-width="0.4" />
<text x="73.9" y="458.8" font-size="6.0" text-anchor="end" font-weight="normal" fill="#000"  stroke="#000" stroke-width="0.11">migDCs</text>
<line x1="73.9" y1="456.7" x2="75.3" y2="456.7" stroke="#999" stroke-width="0.4" />
<text x="73.9" y="466.5" font-size="6.0" text-anchor="end" font-weight="normal" fill="#000"  stroke="#000" stroke-width="0.11">cDC2</text>
<line x1="73.9" y1="464.4" x2="75.3" y2="464.4" stroke="#999" stroke-width="0.4" />
<text x="73.9" y="474.3" font-size="6.0" text-anchor="end" font-weight="normal" fill="#000"  stroke="#000" stroke-width="0.11">cDC1</text>
<line x1="73.9" y1="472.2" x2="75.3" y2="472.2" stroke="#999" stroke-width="0.4" />
<text x="73.9" y="482.1" font-size="6.0" text-anchor="end" font-weight="normal" fill="#000"  stroke="#000" stroke-width="0.11">Mono</text>
<line x1="73.9" y1="480" x2="75.3" y2="480" stroke="#999" stroke-width="0.4" />
<text x="73.9" y="489.8" font-size="6.0" text-anchor="end" font-weight="normal" fill="#000"  stroke="#000" stroke-width="0.11">PLA2G7.IMs</text>
<line x1="73.9" y1="487.7" x2="75.3" y2="487.7" stroke="#999" stroke-width="0.4" />
<text x="73.9" y="497.6" font-size="6.0" text-anchor="end" font-weight="normal" fill="#000"  stroke="#000" stroke-width="0.11">RNASE1.IMs</text>
<line x1="73.9" y1="495.5" x2="75.3" y2="495.5" stroke="#999" stroke-width="0.4" />
<line x1="84" y1="500.4" x2="84" y2="501.7" stroke="#999" stroke-width="0.4" />
<text transform="translate(85.6 504.6) rotate(-45)" font-size="4.5" text-anchor="end" fill="#222">29</text>
<line x1="91.1" y1="500.4" x2="91.1" y2="501.7" stroke="#999" stroke-width="0.4" />
<text transform="translate(92.7 504.6) rotate(-45)" font-size="4.5" text-anchor="end" fill="#222">30</text>
<line x1="98.1" y1="500.4" x2="98.1" y2="501.7" stroke="#999" stroke-width="0.4" />
<text transform="translate(99.7 504.6) rotate(-45)" font-size="4.5" text-anchor="end" fill="#222">33</text>
<line x1="105.2" y1="500.4" x2="105.2" y2="501.7" stroke="#999" stroke-width="0.4" />
<text transform="translate(106.8 504.6) rotate(-45)" font-size="4.5" text-anchor="end" fill="#222">37</text>
<line x1="112.3" y1="500.4" x2="112.3" y2="501.7" stroke="#999" stroke-width="0.4" />
<text transform="translate(113.9 504.6) rotate(-45)" font-size="4.5" text-anchor="end" fill="#222">39</text>
<line x1="119.3" y1="500.4" x2="119.3" y2="501.7" stroke="#999" stroke-width="0.4" />
<text transform="translate(120.9 504.6) rotate(-45)" font-size="4.5" text-anchor="end" fill="#222">48</text>
<line x1="126.4" y1="500.4" x2="126.4" y2="501.7" stroke="#999" stroke-width="0.4" />
<text transform="translate(128 504.6) rotate(-45)" font-size="4.5" text-anchor="end" fill="#222">49</text>
<line x1="133.5" y1="500.4" x2="133.5" y2="501.7" stroke="#999" stroke-width="0.4" />
<text transform="translate(135.1 504.6) rotate(-45)" font-size="4.5" text-anchor="end" fill="#222">52</text>
<line x1="140.6" y1="500.4" x2="140.6" y2="501.7" stroke="#999" stroke-width="0.4" />
<text transform="translate(142.2 504.6) rotate(-45)" font-size="4.5" text-anchor="end" fill="#222">53</text>
<line x1="147.6" y1="500.4" x2="147.6" y2="501.7" stroke="#999" stroke-width="0.4" />
<text transform="translate(149.2 504.6) rotate(-45)" font-size="4.5" text-anchor="end" fill="#222">54</text>
<line x1="154.7" y1="500.4" x2="154.7" y2="501.7" stroke="#999" stroke-width="0.4" />
<text transform="translate(156.3 504.6) rotate(-45)" font-size="4.5" text-anchor="end" fill="#222">55</text>
<line x1="161.8" y1="500.4" x2="161.8" y2="501.7" stroke="#999" stroke-width="0.4" />
<text transform="translate(163.4 504.6) rotate(-45)" font-size="4.5" text-anchor="end" fill="#222">56</text>
<line x1="168.8" y1="500.4" x2="168.8" y2="501.7" stroke="#999" stroke-width="0.4" />
<text transform="translate(170.4 504.6) rotate(-45)" font-size="4.5" text-anchor="end" fill="#222">58</text>
<line x1="175.9" y1="500.4" x2="175.9" y2="501.7" stroke="#999" stroke-width="0.4" />
<text transform="translate(177.5 504.6) rotate(-45)" font-size="4.5" text-anchor="end" fill="#222">60</text>
<line x1="183" y1="500.4" x2="183" y2="501.7" stroke="#999" stroke-width="0.4" />
<text transform="translate(184.6 504.6) rotate(-45)" font-size="4.5" text-anchor="end" fill="#222">61</text>
<line x1="190.1" y1="500.4" x2="190.1" y2="501.7" stroke="#999" stroke-width="0.4" />
<text transform="translate(191.7 504.6) rotate(-45)" font-size="4.5" text-anchor="end" fill="#222">62</text>
<line x1="197.1" y1="500.4" x2="197.1" y2="501.7" stroke="#999" stroke-width="0.4" />
<text transform="translate(198.7 504.6) rotate(-45)" font-size="4.5" text-anchor="end" fill="#222">63</text>
<line x1="204.2" y1="500.4" x2="204.2" y2="501.7" stroke="#999" stroke-width="0.4" />
<text transform="translate(205.8 504.6) rotate(-45)" font-size="4.5" text-anchor="end" fill="#222">64</text>
<line x1="211.3" y1="500.4" x2="211.3" y2="501.7" stroke="#999" stroke-width="0.4" />
<text transform="translate(212.9 504.6) rotate(-45)" font-size="4.5" text-anchor="end" fill="#222">65</text>
<line x1="218.3" y1="500.4" x2="218.3" y2="501.7" stroke="#999" stroke-width="0.4" />
<text transform="translate(219.9 504.6) rotate(-45)" font-size="4.5" text-anchor="end" fill="#222">66</text>
<line x1="225.4" y1="500.4" x2="225.4" y2="501.7" stroke="#999" stroke-width="0.4" />
<text transform="translate(227 504.6) rotate(-45)" font-size="4.5" text-anchor="end" fill="#222">67</text>
<line x1="232.5" y1="500.4" x2="232.5" y2="501.7" stroke="#999" stroke-width="0.4" />
<text transform="translate(234.1 504.6) rotate(-45)" font-size="4.5" text-anchor="end" fill="#222">68</text>
<line x1="239.5" y1="500.4" x2="239.5" y2="501.7" stroke="#999" stroke-width="0.4" />
<text transform="translate(241.1 504.6) rotate(-45)" font-size="4.5" text-anchor="end" fill="#222">69</text>
<line x1="246.6" y1="500.4" x2="246.6" y2="501.7" stroke="#999" stroke-width="0.4" />
<text transform="translate(248.2 504.6) rotate(-45)" font-size="4.5" text-anchor="end" fill="#222">70</text>
<line x1="253.7" y1="500.4" x2="253.7" y2="501.7" stroke="#999" stroke-width="0.4" />
<text transform="translate(255.3 504.6) rotate(-45)" font-size="4.5" text-anchor="end" fill="#222">71</text>
<line x1="260.8" y1="500.4" x2="260.8" y2="501.7" stroke="#999" stroke-width="0.4" />
<text transform="translate(262.4 504.6) rotate(-45)" font-size="4.5" text-anchor="end" fill="#222">72</text>
<line x1="267.8" y1="500.4" x2="267.8" y2="501.7" stroke="#999" stroke-width="0.4" />
<text transform="translate(269.4 504.6) rotate(-45)" font-size="4.5" text-anchor="end" fill="#222">73</text>
<line x1="274.9" y1="500.4" x2="274.9" y2="501.7" stroke="#999" stroke-width="0.4" />
<text transform="translate(276.5 504.6) rotate(-45)" font-size="4.5" text-anchor="end" fill="#222">74</text>
<line x1="282" y1="500.4" x2="282" y2="501.7" stroke="#999" stroke-width="0.4" />
<text transform="translate(283.6 504.6) rotate(-45)" font-size="4.5" text-anchor="end" fill="#222">75</text>
<line x1="289" y1="500.4" x2="289" y2="501.7" stroke="#999" stroke-width="0.4" />
<text transform="translate(290.6 504.6) rotate(-45)" font-size="4.5" text-anchor="end" fill="#222">76</text>
<line x1="296.1" y1="500.4" x2="296.1" y2="501.7" stroke="#999" stroke-width="0.4" />
<text transform="translate(297.7 504.6) rotate(-45)" font-size="4.5" text-anchor="end" fill="#222">77</text>
<line x1="303.2" y1="500.4" x2="303.2" y2="501.7" stroke="#999" stroke-width="0.4" />
<text transform="translate(304.8 504.6) rotate(-45)" font-size="4.5" text-anchor="end" fill="#222">79</text>
<line x1="310.2" y1="500.4" x2="310.2" y2="501.7" stroke="#999" stroke-width="0.4" />
<text transform="translate(311.8 504.6) rotate(-45)" font-size="4.5" text-anchor="end" fill="#222">80</text>
<line x1="317.3" y1="500.4" x2="317.3" y2="501.7" stroke="#999" stroke-width="0.4" />
<text transform="translate(318.9 504.6) rotate(-45)" font-size="4.5" text-anchor="end" fill="#222">81</text>
<line x1="324.4" y1="500.4" x2="324.4" y2="501.7" stroke="#999" stroke-width="0.4" />
<text transform="translate(326 504.6) rotate(-45)" font-size="4.5" text-anchor="end" fill="#222">83</text>
<text x="219.8" y="518.2" font-size="6.3" text-anchor="middle" font-weight="normal" fill="#222"  stroke="#222" stroke-width="0.11">median age</text>
<defs><linearGradient id="gr" x1="0" y1="0" x2="0" y2="1"><stop offset="0" stop-color="#A31A1A"/><stop offset="0.5" stop-color="#D09090"/><stop offset="1" stop-color="#E8E8E8"/></linearGradient></defs>
<rect x="17.1" y="387.5" width="6.9" height="50.3" fill="url(#gr)" stroke="none" stroke-width="1" />
<text x="25.8" y="391.8" font-size="7.0" text-anchor="start" font-weight="normal" fill="#222"  stroke="#222" stroke-width="0.13">high</text>
<text x="25.8" y="439.2" font-size="7.0" text-anchor="start" font-weight="normal" fill="#222"  stroke="#222" stroke-width="0.13">low</text>
<text transform="translate(14.4 412.6) rotate(-90)" font-size="6.9" text-anchor="middle" fill="#222">expression</text>
<text transform="translate(14.4 461.3) rotate(-90)" font-size="6.9" text-anchor="middle" fill="#222">percent (%)</text>
<circle cx="23.7" cy="449.7" r="1.3" fill="#E6E6E6" stroke="#777" stroke-width="0.5" />
<circle cx="23.7" cy="460.4" r="4.4" fill="#E6E6E6" stroke="#777" stroke-width="0.5" />
<circle cx="24" cy="475.8" r="6.6" fill="#E6E6E6" stroke="#777" stroke-width="0.5" />
<text x="30.8" y="452.3" font-size="7.0" text-anchor="start" font-weight="normal" fill="#222"  stroke="#222" stroke-width="0.13">0</text>
<text x="30.5" y="463.2" font-size="7.0" text-anchor="start" font-weight="normal" fill="#222"  stroke="#222" stroke-width="0.13">50</text>
<text x="32.6" y="478.6" font-size="7.0" text-anchor="start" font-weight="normal" fill="#222"  stroke="#222" stroke-width="0.13">100</text>
<rect x="387.4" y="318" width="57.3" height="6.2" fill="#80B1D3" stroke="#8A8A8A" stroke-width="0.5" />
<rect x="387.4" y="324.2" width="57.3" height="75" fill="none" stroke="#222" stroke-width="0.75" />
<line x1="387.4" y1="324.2" x2="444.7" y2="324.2" stroke="#222" stroke-width="0.9" />
<text x="416" y="313.7" font-size="10.4" text-anchor="middle" font-weight="normal" fill="#111"  stroke="#111" stroke-width="0.16">RNASE1.IMs</text>
<line x1="385.2" y1="339.3" x2="387.4" y2="339.3" stroke="#333" stroke-width="0.6" />
<text x="383.4" y="342.4" font-size="8.7" text-anchor="end" font-weight="normal" fill="#111"  stroke="#111" stroke-width="0.16">750</text>
<line x1="385.2" y1="358.6" x2="387.4" y2="358.6" stroke="#333" stroke-width="0.6" />
<text x="383.4" y="361.7" font-size="8.7" text-anchor="end" font-weight="normal" fill="#111"  stroke="#111" stroke-width="0.16">500</text>
<line x1="385.2" y1="377.9" x2="387.4" y2="377.9" stroke="#333" stroke-width="0.6" />
<text x="383.4" y="381" font-size="8.7" text-anchor="end" font-weight="normal" fill="#111"  stroke="#111" stroke-width="0.16">250</text>
<line x1="385.2" y1="397.2" x2="387.4" y2="397.2" stroke="#333" stroke-width="0.6" />
<text x="383.4" y="400.3" font-size="8.7" text-anchor="end" font-weight="normal" fill="#111"  stroke="#111" stroke-width="0.16">0</text>
<circle cx="392.4" cy="396.4" r="2" fill="#000" stroke="none" stroke-width="0.5" />
<circle cx="395.9" cy="395.1" r="2" fill="#000" stroke="none" stroke-width="0.5" />
<circle cx="398.7" cy="396.7" r="2" fill="#000" stroke="none" stroke-width="0.5" />
<circle cx="408" cy="392.6" r="2" fill="#000" stroke="none" stroke-width="0.5" />
<circle cx="408.7" cy="392.9" r="2" fill="#000" stroke="none" stroke-width="0.5" />
<circle cx="397.6" cy="394.2" r="2" fill="#000" stroke="none" stroke-width="0.5" />
<circle cx="410.1" cy="395.1" r="2" fill="#000" stroke="none" stroke-width="0.5" />
<circle cx="403.1" cy="395.9" r="2" fill="#000" stroke="none" stroke-width="0.5" />
<circle cx="395" cy="396.1" r="2" fill="#000" stroke="none" stroke-width="0.5" />
<circle cx="399.5" cy="390.4" r="2" fill="#000" stroke="none" stroke-width="0.5" />
<circle cx="410.5" cy="392.5" r="2" fill="#000" stroke="none" stroke-width="0.5" />
<circle cx="399.5" cy="395.6" r="2" fill="#000" stroke="none" stroke-width="0.5" />
<circle cx="404.3" cy="396.7" r="2" fill="#000" stroke="none" stroke-width="0.5" />
<circle cx="396.9" cy="393.4" r="2" fill="#000" stroke="none" stroke-width="0.5" />
<circle cx="392.3" cy="396.7" r="2" fill="#000" stroke="none" stroke-width="0.5" />
<circle cx="405.4" cy="394" r="2" fill="#000" stroke="none" stroke-width="0.5" />
<circle cx="408.8" cy="396.2" r="2" fill="#000" stroke="none" stroke-width="0.5" />
<circle cx="404.5" cy="393.9" r="2" fill="#000" stroke="none" stroke-width="0.5" />
<circle cx="397.2" cy="388.5" r="2" fill="#000" stroke="none" stroke-width="0.5" />
<circle cx="400.4" cy="396.6" r="2" fill="#000" stroke="none" stroke-width="0.5" />
<circle cx="407.3" cy="394.4" r="2" fill="#000" stroke="none" stroke-width="0.5" />
<circle cx="404.6" cy="395.7" r="2" fill="#000" stroke="none" stroke-width="0.5" />
<circle cx="410.1" cy="396.5" r="2" fill="#000" stroke="none" stroke-width="0.5" />
<circle cx="409.3" cy="390.5" r="2" fill="#000" stroke="none" stroke-width="0.5" />
<circle cx="403.5" cy="395.2" r="2" fill="#000" stroke="none" stroke-width="0.5" />
<circle cx="398.8" cy="392.9" r="2" fill="#000" stroke="none" stroke-width="0.5" />
<circle cx="403.7" cy="387.7" r="2" fill="#000" stroke="none" stroke-width="0.5" />
<circle cx="409.3" cy="393.5" r="2" fill="#000" stroke="none" stroke-width="0.5" />
<circle cx="397" cy="394.9" r="2" fill="#000" stroke="none" stroke-width="0.5" />
<circle cx="401.5" cy="394.4" r="2" fill="#000" stroke="none" stroke-width="0.5" />
<circle cx="397.4" cy="392.3" r="2" fill="#000" stroke="none" stroke-width="0.5" />
<circle cx="400.7" cy="389.1" r="2" fill="#000" stroke="none" stroke-width="0.5" />
<circle cx="408.6" cy="396.8" r="2" fill="#000" stroke="none" stroke-width="0.5" />
<circle cx="406.5" cy="395" r="2" fill="#000" stroke="none" stroke-width="0.5" />
<circle cx="404.5" cy="392.9" r="2" fill="#000" stroke="none" stroke-width="0.5" />
<circle cx="405.4" cy="394.1" r="2" fill="#000" stroke="none" stroke-width="0.5" />
<circle cx="404" cy="396.5" r="2" fill="#000" stroke="none" stroke-width="0.5" />
<circle cx="398.2" cy="395.3" r="2" fill="#000" stroke="none" stroke-width="0.5" />
<circle cx="411.2" cy="394.1" r="2" fill="#000" stroke="none" stroke-width="0.5" />
<circle cx="392.6" cy="390.3" r="2" fill="#000" stroke="none" stroke-width="0.5" />
<circle cx="401.3" cy="395.4" r="2" fill="#000" stroke="none" stroke-width="0.5" />
<circle cx="406.1" cy="394.5" r="2" fill="#000" stroke="none" stroke-width="0.5" />
<circle cx="406" cy="395.3" r="2" fill="#000" stroke="none" stroke-width="0.5" />
<circle cx="406.3" cy="395.5" r="2" fill="#000" stroke="none" stroke-width="0.5" />
<circle cx="400.6" cy="396.5" r="2" fill="#000" stroke="none" stroke-width="0.5" />
<circle cx="436.7" cy="396.5" r="2" fill="#000" stroke="none" stroke-width="0.5" />
<circle cx="429.4" cy="393.7" r="2" fill="#000" stroke="none" stroke-width="0.5" />
<circle cx="421.8" cy="394.6" r="2" fill="#000" stroke="none" stroke-width="0.5" />
<circle cx="438.3" cy="395.5" r="2" fill="#000" stroke="none" stroke-width="0.5" />
<circle cx="436.6" cy="396.2" r="2" fill="#000" stroke="none" stroke-width="0.5" />
<circle cx="438.7" cy="392.1" r="2" fill="#000" stroke="none" stroke-width="0.5" />
<circle cx="423.7" cy="396.7" r="2" fill="#000" stroke="none" stroke-width="0.5" />
<circle cx="422.8" cy="397" r="2" fill="#000" stroke="none" stroke-width="0.5" />
<circle cx="433.4" cy="394.3" r="2" fill="#000" stroke="none" stroke-width="0.5" />
<circle cx="437.6" cy="395.9" r="2" fill="#000" stroke="none" stroke-width="0.5" />
<circle cx="421.1" cy="395.6" r="2" fill="#000" stroke="none" stroke-width="0.5" />
<circle cx="432" cy="394.6" r="2" fill="#000" stroke="none" stroke-width="0.5" />
<circle cx="432.7" cy="395.8" r="2" fill="#000" stroke="none" stroke-width="0.5" />
<circle cx="429" cy="395.9" r="2" fill="#000" stroke="none" stroke-width="0.5" />
<circle cx="429.3" cy="395.9" r="2" fill="#000" stroke="none" stroke-width="0.5" />
<circle cx="440.4" cy="397" r="2" fill="#000" stroke="none" stroke-width="0.5" />
<circle cx="427" cy="394.7" r="2" fill="#000" stroke="none" stroke-width="0.5" />
<circle cx="426.5" cy="394.6" r="2" fill="#000" stroke="none" stroke-width="0.5" />
<circle cx="431.6" cy="395.5" r="2" fill="#000" stroke="none" stroke-width="0.5" />
<circle cx="430" cy="395.9" r="2" fill="#000" stroke="none" stroke-width="0.5" />
<circle cx="433.9" cy="396.7" r="2" fill="#000" stroke="none" stroke-width="0.5" />
<circle cx="431.3" cy="396.7" r="2" fill="#000" stroke="none" stroke-width="0.5" />
<circle cx="422.3" cy="394.5" r="2" fill="#000" stroke="none" stroke-width="0.5" />
<circle cx="431.3" cy="393.6" r="2" fill="#000" stroke="none" stroke-width="0.5" />
<circle cx="436.9" cy="394.3" r="2" fill="#000" stroke="none" stroke-width="0.5" />
<circle cx="427" cy="393.8" r="2" fill="#000" stroke="none" stroke-width="0.5" />
<circle cx="436.7" cy="395.3" r="2" fill="#000" stroke="none" stroke-width="0.5" />
<circle cx="438.4" cy="393.4" r="2" fill="#000" stroke="none" stroke-width="0.5" />
<circle cx="439.4" cy="395.1" r="2" fill="#000" stroke="none" stroke-width="0.5" />
<circle cx="429.3" cy="395" r="2" fill="#000" stroke="none" stroke-width="0.5" />
<circle cx="425.2" cy="395.9" r="2" fill="#000" stroke="none" stroke-width="0.5" />
<circle cx="438.4" cy="396.9" r="2" fill="#000" stroke="none" stroke-width="0.5" />
<circle cx="426.1" cy="396.6" r="2" fill="#000" stroke="none" stroke-width="0.5" />
<circle cx="439.2" cy="394.6" r="2" fill="#000" stroke="none" stroke-width="0.5" />
<circle cx="435" cy="393.3" r="2" fill="#000" stroke="none" stroke-width="0.5" />
<circle cx="400.7" cy="356.2" r="2" fill="#000" stroke="none" stroke-width="0.5" />
<circle cx="400.7" cy="381.1" r="2" fill="#000" stroke="none" stroke-width="0.5" />
<circle cx="406.6" cy="382.2" r="2" fill="#000" stroke="none" stroke-width="0.5" />
<circle cx="398" cy="388" r="2" fill="#000" stroke="none" stroke-width="0.5" />
<circle cx="403" cy="391" r="2" fill="#000" stroke="none" stroke-width="0.5" />
<circle cx="397" cy="393" r="2" fill="#000" stroke="none" stroke-width="0.5" />
<circle cx="426.7" cy="336.6" r="2" fill="#000" stroke="none" stroke-width="0.5" />
<circle cx="422.7" cy="374.4" r="2" fill="#000" stroke="none" stroke-width="0.5" />
<circle cx="434.3" cy="384" r="2" fill="#000" stroke="none" stroke-width="0.5" />
<circle cx="428" cy="392" r="2" fill="#000" stroke="none" stroke-width="0.5" />
<circle cx="432" cy="393" r="2" fill="#000" stroke="none" stroke-width="0.5" />
<rect x="494.2" y="317.3" width="57.5" height="6.2" fill="#FDB462" stroke="#8A8A8A" stroke-width="0.5" />
<rect x="494.2" y="323.5" width="57.5" height="74.8" fill="none" stroke="#222" stroke-width="0.75" />
<line x1="494.2" y1="323.5" x2="551.7" y2="323.5" stroke="#222" stroke-width="0.9" />
<text x="523" y="313" font-size="10.4" text-anchor="middle" font-weight="normal" fill="#111"  stroke="#111" stroke-width="0.16">PLA2G7.IMs</text>
<line x1="492" y1="327.3" x2="494.2" y2="327.3" stroke="#333" stroke-width="0.6" />
<text x="490.5" y="330.4" font-size="8.7" text-anchor="end" font-weight="normal" fill="#111"  stroke="#111" stroke-width="0.16">800</text>
<line x1="492" y1="344.4" x2="494.2" y2="344.4" stroke="#333" stroke-width="0.6" />
<text x="490.5" y="347.5" font-size="8.7" text-anchor="end" font-weight="normal" fill="#111"  stroke="#111" stroke-width="0.16">600</text>
<line x1="492" y1="361.5" x2="494.2" y2="361.5" stroke="#333" stroke-width="0.6" />
<text x="490.5" y="364.6" font-size="8.7" text-anchor="end" font-weight="normal" fill="#111"  stroke="#111" stroke-width="0.16">400</text>
<line x1="492" y1="378.5" x2="494.2" y2="378.5" stroke="#333" stroke-width="0.6" />
<text x="490.5" y="381.6" font-size="8.7" text-anchor="end" font-weight="normal" fill="#111"  stroke="#111" stroke-width="0.16">200</text>
<line x1="492" y1="395.6" x2="494.2" y2="395.6" stroke="#333" stroke-width="0.6" />
<text x="490.5" y="398.7" font-size="8.7" text-anchor="end" font-weight="normal" fill="#111"  stroke="#111" stroke-width="0.16">0</text>
<rect x="526.3" y="382.7" width="19.6" height="12.9" fill="#4A4A4A" stroke="none" stroke-width="1" />
<line x1="536" y1="382.7" x2="536" y2="365" stroke="#222" stroke-width="1.0" />
<line x1="533" y1="365" x2="542.3" y2="365" stroke="#222" stroke-width="1.0" />
<text x="522.6" y="337.2" font-size="16" text-anchor="middle" font-weight="normal" fill="#111"  stroke="#111" stroke-width="0.16">*&#8201;*&#8201;*&#8201;*</text>
<circle cx="501.9" cy="395" r="2" fill="#000" stroke="none" stroke-width="0.5" />
<circle cx="512.3" cy="394.7" r="2" fill="#000" stroke="none" stroke-width="0.5" />
<circle cx="505.2" cy="394.8" r="2" fill="#000" stroke="none" stroke-width="0.5" />
<circle cx="511.4" cy="394.5" r="2" fill="#000" stroke="none" stroke-width="0.5" />
<circle cx="507" cy="395.2" r="2" fill="#000" stroke="none" stroke-width="0.5" />
<circle cx="504.3" cy="395.3" r="2" fill="#000" stroke="none" stroke-width="0.5" />
<circle cx="500.2" cy="395.2" r="2" fill="#000" stroke="none" stroke-width="0.5" />
<circle cx="508.6" cy="395.4" r="2" fill="#000" stroke="none" stroke-width="0.5" />
<circle cx="517.6" cy="395.2" r="2" fill="#000" stroke="none" stroke-width="0.5" />
<circle cx="517.2" cy="395.1" r="2" fill="#000" stroke="none" stroke-width="0.5" />
<circle cx="501.6" cy="395.5" r="2" fill="#000" stroke="none" stroke-width="0.5" />
<circle cx="501.8" cy="395" r="2" fill="#000" stroke="none" stroke-width="0.5" />
<circle cx="501.2" cy="395.2" r="2" fill="#000" stroke="none" stroke-width="0.5" />
<circle cx="508.8" cy="394.8" r="2" fill="#000" stroke="none" stroke-width="0.5" />
<circle cx="502.1" cy="395" r="2" fill="#000" stroke="none" stroke-width="0.5" />
<circle cx="515.1" cy="394.8" r="2" fill="#000" stroke="none" stroke-width="0.5" />
<circle cx="519" cy="394.5" r="2" fill="#000" stroke="none" stroke-width="0.5" />
<circle cx="516.4" cy="394.9" r="2" fill="#000" stroke="none" stroke-width="0.5" />
<circle cx="499.4" cy="395.3" r="2" fill="#000" stroke="none" stroke-width="0.5" />
<circle cx="515.4" cy="395.5" r="2" fill="#000" stroke="none" stroke-width="0.5" />
<circle cx="507.4" cy="394.8" r="2" fill="#000" stroke="none" stroke-width="0.5" />
<circle cx="513.1" cy="394.4" r="2" fill="#000" stroke="none" stroke-width="0.5" />
<circle cx="503.3" cy="395.4" r="2" fill="#000" stroke="none" stroke-width="0.5" />
<circle cx="503.9" cy="395.5" r="2" fill="#000" stroke="none" stroke-width="0.5" />
<circle cx="506.4" cy="395.6" r="2" fill="#000" stroke="none" stroke-width="0.5" />
<circle cx="501.7" cy="394.7" r="2" fill="#000" stroke="none" stroke-width="0.5" />
<circle cx="509.4" cy="395.3" r="2" fill="#000" stroke="none" stroke-width="0.5" />
<circle cx="517.5" cy="395.2" r="2" fill="#000" stroke="none" stroke-width="0.5" />
<circle cx="509.7" cy="394.9" r="2" fill="#000" stroke="none" stroke-width="0.5" />
<circle cx="503.1" cy="394.9" r="2" fill="#000" stroke="none" stroke-width="0.5" />
<circle cx="505.5" cy="395.3" r="2" fill="#000" stroke="none" stroke-width="0.5" />
<circle cx="500.8" cy="394.9" r="2" fill="#000" stroke="none" stroke-width="0.5" />
<circle cx="508.4" cy="394.5" r="2" fill="#000" stroke="none" stroke-width="0.5" />
<circle cx="506.6" cy="394.8" r="2" fill="#000" stroke="none" stroke-width="0.5" />
<circle cx="538" cy="393.7" r="2" fill="#000" stroke="none" stroke-width="0.5" />
<circle cx="538.6" cy="390.6" r="2" fill="#000" stroke="none" stroke-width="0.5" />
<circle cx="535.5" cy="388.7" r="2" fill="#000" stroke="none" stroke-width="0.5" />
<circle cx="536.6" cy="392.5" r="2" fill="#000" stroke="none" stroke-width="0.5" />
<circle cx="532.2" cy="380.9" r="2" fill="#000" stroke="none" stroke-width="0.5" />
<circle cx="530.4" cy="392.4" r="2" fill="#000" stroke="none" stroke-width="0.5" />
<circle cx="539.1" cy="374.3" r="2" fill="#000" stroke="none" stroke-width="0.5" />
<circle cx="542.8" cy="391.4" r="2" fill="#000" stroke="none" stroke-width="0.5" />
<circle cx="529.2" cy="384.6" r="2" fill="#000" stroke="none" stroke-width="0.5" />
<circle cx="526.5" cy="384.7" r="2" fill="#000" stroke="none" stroke-width="0.5" />
<circle cx="528" cy="393" r="2" fill="#000" stroke="none" stroke-width="0.5" />
<circle cx="542.5" cy="384.6" r="2" fill="#000" stroke="none" stroke-width="0.5" />
<circle cx="539.7" cy="395.3" r="2" fill="#000" stroke="none" stroke-width="0.5" />
<circle cx="535.5" cy="389.4" r="2" fill="#000" stroke="none" stroke-width="0.5" />
<circle cx="542" cy="389.6" r="2" fill="#000" stroke="none" stroke-width="0.5" />
<circle cx="540.8" cy="386.2" r="2" fill="#000" stroke="none" stroke-width="0.5" />
<circle cx="530.3" cy="389.4" r="2" fill="#000" stroke="none" stroke-width="0.5" />
<circle cx="527.1" cy="394.7" r="2" fill="#000" stroke="none" stroke-width="0.5" />
<circle cx="528.7" cy="394.8" r="2" fill="#000" stroke="none" stroke-width="0.5" />
<circle cx="537.2" cy="391.4" r="2" fill="#000" stroke="none" stroke-width="0.5" />
<circle cx="528.7" cy="385.9" r="2" fill="#000" stroke="none" stroke-width="0.5" />
<circle cx="528.1" cy="394" r="2" fill="#000" stroke="none" stroke-width="0.5" />
<circle cx="540.1" cy="385" r="2" fill="#000" stroke="none" stroke-width="0.5" />
<circle cx="531.6" cy="392.4" r="2" fill="#000" stroke="none" stroke-width="0.5" />
<circle cx="539.1" cy="392.3" r="2" fill="#000" stroke="none" stroke-width="0.5" />
<circle cx="528.5" cy="389.9" r="2" fill="#000" stroke="none" stroke-width="0.5" />
<circle cx="531.6" cy="391.6" r="2" fill="#000" stroke="none" stroke-width="0.5" />
<circle cx="527" cy="391.9" r="2" fill="#000" stroke="none" stroke-width="0.5" />
<circle cx="527.4" cy="389.5" r="2" fill="#000" stroke="none" stroke-width="0.5" />
<circle cx="542.2" cy="387.8" r="2" fill="#000" stroke="none" stroke-width="0.5" />
<circle cx="539.2" cy="391.6" r="2" fill="#000" stroke="none" stroke-width="0.5" />
<circle cx="535" cy="392.9" r="2" fill="#000" stroke="none" stroke-width="0.5" />
<circle cx="532.4" cy="382" r="2" fill="#000" stroke="none" stroke-width="0.5" />
<circle cx="534.8" cy="393.8" r="2" fill="#000" stroke="none" stroke-width="0.5" />
<circle cx="540.4" cy="393.4" r="2" fill="#000" stroke="none" stroke-width="0.5" />
<circle cx="528.9" cy="394.5" r="2" fill="#000" stroke="none" stroke-width="0.5" />
<circle cx="542.6" cy="383" r="2" fill="#000" stroke="none" stroke-width="0.5" />
<circle cx="526.7" cy="390.1" r="2" fill="#000" stroke="none" stroke-width="0.5" />
<circle cx="508.4" cy="374.7" r="2" fill="#000" stroke="none" stroke-width="0.5" />
<circle cx="510" cy="386.2" r="2" fill="#000" stroke="none" stroke-width="0.5" />
<circle cx="516" cy="384.7" r="2" fill="#000" stroke="none" stroke-width="0.5" />
<circle cx="540" cy="335" r="2" fill="#000" stroke="none" stroke-width="0.5" />
<circle cx="535.6" cy="357.4" r="2" fill="#000" stroke="none" stroke-width="0.5" />
<circle cx="530" cy="366" r="2" fill="#000" stroke="none" stroke-width="0.5" />
<circle cx="533" cy="368" r="2" fill="#000" stroke="none" stroke-width="0.5" />
<circle cx="540.5" cy="370" r="2" fill="#000" stroke="none" stroke-width="0.5" />
<circle cx="542" cy="372" r="2" fill="#000" stroke="none" stroke-width="0.5" />
<circle cx="529" cy="375" r="2" fill="#000" stroke="none" stroke-width="0.5" />
<circle cx="536" cy="377" r="2" fill="#000" stroke="none" stroke-width="0.5" />
<circle cx="544" cy="378" r="2" fill="#000" stroke="none" stroke-width="0.5" />
<circle cx="531" cy="380" r="2" fill="#000" stroke="none" stroke-width="0.5" />
<circle cx="538" cy="383" r="2" fill="#000" stroke="none" stroke-width="0.5" />
<circle cx="527" cy="385" r="2" fill="#000" stroke="none" stroke-width="0.5" />
<circle cx="541" cy="387" r="2" fill="#000" stroke="none" stroke-width="0.5" />
<circle cx="534" cy="388" r="2" fill="#000" stroke="none" stroke-width="0.5" />
<circle cx="530" cy="390" r="2" fill="#000" stroke="none" stroke-width="0.5" />
<circle cx="544" cy="390" r="2" fill="#000" stroke="none" stroke-width="0.5" />
<circle cx="537" cy="391" r="2" fill="#000" stroke="none" stroke-width="0.5" />
<circle cx="540" cy="393" r="2" fill="#000" stroke="none" stroke-width="0.5" />
<rect x="585.7" y="317.3" width="57.5" height="6.2" fill="#FCCDE5" stroke="#8A8A8A" stroke-width="0.5" />
<rect x="585.7" y="323.5" width="57.5" height="74.8" fill="none" stroke="#222" stroke-width="0.75" />
<line x1="585.7" y1="323.5" x2="643.2" y2="323.5" stroke="#222" stroke-width="0.9" />
<text x="614.5" y="313" font-size="10.4" text-anchor="middle" font-weight="normal" fill="#111"  stroke="#111" stroke-width="0.16">Mono</text>
<line x1="583.5" y1="328.9" x2="585.7" y2="328.9" stroke="#333" stroke-width="0.6" />
<text x="582.5" y="332" font-size="8.7" text-anchor="end" font-weight="normal" fill="#111"  stroke="#111" stroke-width="0.16">400</text>
<line x1="583.5" y1="345.5" x2="585.7" y2="345.5" stroke="#333" stroke-width="0.6" />
<text x="582.5" y="348.6" font-size="8.7" text-anchor="end" font-weight="normal" fill="#111"  stroke="#111" stroke-width="0.16">300</text>
<line x1="583.5" y1="362" x2="585.7" y2="362" stroke="#333" stroke-width="0.6" />
<text x="582.5" y="365.1" font-size="8.7" text-anchor="end" font-weight="normal" fill="#111"  stroke="#111" stroke-width="0.16">200</text>
<line x1="583.5" y1="378.6" x2="585.7" y2="378.6" stroke="#333" stroke-width="0.6" />
<text x="582.5" y="381.7" font-size="8.7" text-anchor="end" font-weight="normal" fill="#111"  stroke="#111" stroke-width="0.16">100</text>
<line x1="583.5" y1="395.2" x2="585.7" y2="395.2" stroke="#333" stroke-width="0.6" />
<text x="582.5" y="398.3" font-size="8.7" text-anchor="end" font-weight="normal" fill="#111"  stroke="#111" stroke-width="0.16">0</text>
<circle cx="607.5" cy="394.5" r="2" fill="#000" stroke="none" stroke-width="0.5" />
<circle cx="609.2" cy="395" r="2" fill="#000" stroke="none" stroke-width="0.5" />
<circle cx="603.7" cy="392.4" r="2" fill="#000" stroke="none" stroke-width="0.5" />
<circle cx="606.9" cy="394" r="2" fill="#000" stroke="none" stroke-width="0.5" />
<circle cx="595" cy="394.2" r="2" fill="#000" stroke="none" stroke-width="0.5" />
<circle cx="595.4" cy="394.6" r="2" fill="#000" stroke="none" stroke-width="0.5" />
<circle cx="594" cy="394.5" r="2" fill="#000" stroke="none" stroke-width="0.5" />
<circle cx="610" cy="394.8" r="2" fill="#000" stroke="none" stroke-width="0.5" />
<circle cx="600.4" cy="394.5" r="2" fill="#000" stroke="none" stroke-width="0.5" />
<circle cx="603.4" cy="393.8" r="2" fill="#000" stroke="none" stroke-width="0.5" />
<circle cx="598" cy="394.7" r="2" fill="#000" stroke="none" stroke-width="0.5" />
<circle cx="610.9" cy="394.2" r="2" fill="#000" stroke="none" stroke-width="0.5" />
<circle cx="596" cy="393.9" r="2" fill="#000" stroke="none" stroke-width="0.5" />
<circle cx="598.1" cy="394.4" r="2" fill="#000" stroke="none" stroke-width="0.5" />
<circle cx="596.6" cy="394.5" r="2" fill="#000" stroke="none" stroke-width="0.5" />
<circle cx="609" cy="394.7" r="2" fill="#000" stroke="none" stroke-width="0.5" />
<circle cx="600" cy="393.7" r="2" fill="#000" stroke="none" stroke-width="0.5" />
<circle cx="595.7" cy="393.9" r="2" fill="#000" stroke="none" stroke-width="0.5" />
<circle cx="609.2" cy="392.6" r="2" fill="#000" stroke="none" stroke-width="0.5" />
<circle cx="610.8" cy="393.5" r="2" fill="#000" stroke="none" stroke-width="0.5" />
<circle cx="604.3" cy="394.4" r="2" fill="#000" stroke="none" stroke-width="0.5" />
<circle cx="606.5" cy="394.5" r="2" fill="#000" stroke="none" stroke-width="0.5" />
<circle cx="608" cy="394.5" r="2" fill="#000" stroke="none" stroke-width="0.5" />
<circle cx="600.6" cy="393.4" r="2" fill="#000" stroke="none" stroke-width="0.5" />
<circle cx="611" cy="394" r="2" fill="#000" stroke="none" stroke-width="0.5" />
<circle cx="595.2" cy="395.1" r="2" fill="#000" stroke="none" stroke-width="0.5" />
<circle cx="595.2" cy="393.6" r="2" fill="#000" stroke="none" stroke-width="0.5" />
<circle cx="609.5" cy="395" r="2" fill="#000" stroke="none" stroke-width="0.5" />
<circle cx="604.1" cy="394.3" r="2" fill="#000" stroke="none" stroke-width="0.5" />
<circle cx="610.5" cy="394.7" r="2" fill="#000" stroke="none" stroke-width="0.5" />
<circle cx="602.3" cy="395" r="2" fill="#000" stroke="none" stroke-width="0.5" />
<circle cx="594.9" cy="394.1" r="2" fill="#000" stroke="none" stroke-width="0.5" />
<circle cx="594.9" cy="394.3" r="2" fill="#000" stroke="none" stroke-width="0.5" />
<circle cx="596.5" cy="393.9" r="2" fill="#000" stroke="none" stroke-width="0.5" />
<circle cx="609" cy="394.9" r="2" fill="#000" stroke="none" stroke-width="0.5" />
<circle cx="599.4" cy="392.8" r="2" fill="#000" stroke="none" stroke-width="0.5" />
<circle cx="610.8" cy="394.2" r="2" fill="#000" stroke="none" stroke-width="0.5" />
<circle cx="597.4" cy="393.5" r="2" fill="#000" stroke="none" stroke-width="0.5" />
<circle cx="606" cy="394.7" r="2" fill="#000" stroke="none" stroke-width="0.5" />
<circle cx="605.1" cy="395.1" r="2" fill="#000" stroke="none" stroke-width="0.5" />
<circle cx="608.2" cy="392.6" r="2" fill="#000" stroke="none" stroke-width="0.5" />
<circle cx="591.1" cy="394.5" r="2" fill="#000" stroke="none" stroke-width="0.5" />
<circle cx="599.8" cy="394.6" r="2" fill="#000" stroke="none" stroke-width="0.5" />
<circle cx="600.5" cy="394.5" r="2" fill="#000" stroke="none" stroke-width="0.5" />
<circle cx="609.6" cy="393.6" r="2" fill="#000" stroke="none" stroke-width="0.5" />
<circle cx="627" cy="393.4" r="2" fill="#000" stroke="none" stroke-width="0.5" />
<circle cx="620.7" cy="392.5" r="2" fill="#000" stroke="none" stroke-width="0.5" />
<circle cx="630.8" cy="394.4" r="2" fill="#000" stroke="none" stroke-width="0.5" />
<circle cx="631.3" cy="394.8" r="2" fill="#000" stroke="none" stroke-width="0.5" />
<circle cx="634.6" cy="394.8" r="2" fill="#000" stroke="none" stroke-width="0.5" />
<circle cx="623.3" cy="393.2" r="2" fill="#000" stroke="none" stroke-width="0.5" />
<circle cx="627.4" cy="393.7" r="2" fill="#000" stroke="none" stroke-width="0.5" />
<circle cx="631.9" cy="393.4" r="2" fill="#000" stroke="none" stroke-width="0.5" />
<circle cx="634.6" cy="392.8" r="2" fill="#000" stroke="none" stroke-width="0.5" />
<circle cx="635.5" cy="392" r="2" fill="#000" stroke="none" stroke-width="0.5" />
<circle cx="633.5" cy="394.7" r="2" fill="#000" stroke="none" stroke-width="0.5" />
<circle cx="623.8" cy="395.1" r="2" fill="#000" stroke="none" stroke-width="0.5" />
<circle cx="632.2" cy="391.6" r="2" fill="#000" stroke="none" stroke-width="0.5" />
<circle cx="625" cy="392.6" r="2" fill="#000" stroke="none" stroke-width="0.5" />
<circle cx="637.1" cy="393.7" r="2" fill="#000" stroke="none" stroke-width="0.5" />
<circle cx="633.8" cy="394.5" r="2" fill="#000" stroke="none" stroke-width="0.5" />
<circle cx="634.4" cy="395" r="2" fill="#000" stroke="none" stroke-width="0.5" />
<circle cx="628.5" cy="392.7" r="2" fill="#000" stroke="none" stroke-width="0.5" />
<circle cx="627.1" cy="393" r="2" fill="#000" stroke="none" stroke-width="0.5" />
<circle cx="618.2" cy="392.2" r="2" fill="#000" stroke="none" stroke-width="0.5" />
<circle cx="621.9" cy="394.3" r="2" fill="#000" stroke="none" stroke-width="0.5" />
<circle cx="629.6" cy="394" r="2" fill="#000" stroke="none" stroke-width="0.5" />
<circle cx="631.8" cy="394.5" r="2" fill="#000" stroke="none" stroke-width="0.5" />
<circle cx="628.2" cy="393.8" r="2" fill="#000" stroke="none" stroke-width="0.5" />
<circle cx="625.7" cy="395.1" r="2" fill="#000" stroke="none" stroke-width="0.5" />
<circle cx="618.8" cy="394.1" r="2" fill="#000" stroke="none" stroke-width="0.5" />
<circle cx="620.9" cy="391.1" r="2" fill="#000" stroke="none" stroke-width="0.5" />
<circle cx="629.4" cy="391.2" r="2" fill="#000" stroke="none" stroke-width="0.5" />
<circle cx="631.2" cy="394.8" r="2" fill="#000" stroke="none" stroke-width="0.5" />
<circle cx="636.9" cy="393.2" r="2" fill="#000" stroke="none" stroke-width="0.5" />
<circle cx="617.4" cy="393.7" r="2" fill="#000" stroke="none" stroke-width="0.5" />
<circle cx="620.1" cy="394.2" r="2" fill="#000" stroke="none" stroke-width="0.5" />
<circle cx="622.6" cy="394.8" r="2" fill="#000" stroke="none" stroke-width="0.5" />
<circle cx="624.1" cy="394.9" r="2" fill="#000" stroke="none" stroke-width="0.5" />
<circle cx="601" cy="335" r="2" fill="#000" stroke="none" stroke-width="0.5" />
<circle cx="601" cy="367.7" r="2" fill="#000" stroke="none" stroke-width="0.5" />
<circle cx="606.1" cy="366.2" r="2" fill="#000" stroke="none" stroke-width="0.5" />
<circle cx="607.6" cy="372.5" r="2" fill="#000" stroke="none" stroke-width="0.5" />
<circle cx="595" cy="375.4" r="2" fill="#000" stroke="none" stroke-width="0.5" />
<circle cx="603" cy="375.7" r="2" fill="#000" stroke="none" stroke-width="0.5" />
<circle cx="598" cy="380" r="2" fill="#000" stroke="none" stroke-width="0.5" />
<circle cx="605" cy="379" r="2" fill="#000" stroke="none" stroke-width="0.5" />
<circle cx="604.5" cy="384" r="2" fill="#000" stroke="none" stroke-width="0.5" />
<circle cx="607.7" cy="385" r="2" fill="#000" stroke="none" stroke-width="0.5" />
<circle cx="622.8" cy="378.7" r="2" fill="#000" stroke="none" stroke-width="0.5" />
<circle cx="630.4" cy="365.8" r="2" fill="#000" stroke="none" stroke-width="0.5" />
<circle cx="630.8" cy="384.7" r="2" fill="#000" stroke="none" stroke-width="0.5" />
<circle cx="627" cy="390" r="2" fill="#000" stroke="none" stroke-width="0.5" />
<rect x="387.4" y="431.8" width="57.3" height="6.2" fill="#FB8072" stroke="#8A8A8A" stroke-width="0.5" />
<rect x="387.4" y="438" width="57.3" height="74.4" fill="none" stroke="#222" stroke-width="0.75" />
<line x1="387.4" y1="438" x2="444.7" y2="438" stroke="#222" stroke-width="0.9" />
<text x="416" y="427.5" font-size="10.4" text-anchor="middle" font-weight="normal" fill="#111"  stroke="#111" stroke-width="0.16">cDC1</text>
<line x1="385.2" y1="455.4" x2="387.4" y2="455.4" stroke="#333" stroke-width="0.6" />
<text x="383.4" y="458.5" font-size="8.7" text-anchor="end" font-weight="normal" fill="#111"  stroke="#111" stroke-width="0.16">750</text>
<line x1="385.2" y1="473.6" x2="387.4" y2="473.6" stroke="#333" stroke-width="0.6" />
<text x="383.4" y="476.7" font-size="8.7" text-anchor="end" font-weight="normal" fill="#111"  stroke="#111" stroke-width="0.16">500</text>
<line x1="385.2" y1="491.8" x2="387.4" y2="491.8" stroke="#333" stroke-width="0.6" />
<text x="383.4" y="494.9" font-size="8.7" text-anchor="end" font-weight="normal" fill="#111"  stroke="#111" stroke-width="0.16">250</text>
<line x1="385.2" y1="510" x2="387.4" y2="510" stroke="#333" stroke-width="0.6" />
<text x="383.4" y="513.1" font-size="8.7" text-anchor="end" font-weight="normal" fill="#111"  stroke="#111" stroke-width="0.16">0</text>
<rect x="419.2" y="462.3" width="19.6" height="47.7" fill="#4D4D4D" stroke="none" stroke-width="1" />
<line x1="419.2" y1="495.2" x2="438.8" y2="495.2" stroke="#888" stroke-width="0.6" />
<line x1="427.5" y1="462.3" x2="427.5" y2="449.5" stroke="#333" stroke-width="0.9" />
<line x1="422.7" y1="449.5" x2="432.3" y2="449.5" stroke="#333" stroke-width="0.9" />
<text x="415.2" y="452.5" font-size="16" text-anchor="middle" font-weight="normal" fill="#111"  stroke="#111" stroke-width="0.16">*</text>
<circle cx="405.6" cy="509.8" r="2" fill="#000" stroke="none" stroke-width="0.5" />
<circle cx="398.2" cy="509.7" r="2" fill="#000" stroke="none" stroke-width="0.5" />
<circle cx="407.5" cy="509.6" r="2" fill="#000" stroke="none" stroke-width="0.5" />
<circle cx="400.9" cy="509.9" r="2" fill="#000" stroke="none" stroke-width="0.5" />
<circle cx="405.2" cy="509.5" r="2" fill="#000" stroke="none" stroke-width="0.5" />
<circle cx="397.1" cy="509.4" r="2" fill="#000" stroke="none" stroke-width="0.5" />
<circle cx="406.1" cy="509.8" r="2" fill="#000" stroke="none" stroke-width="0.5" />
<circle cx="408.6" cy="509.9" r="2" fill="#000" stroke="none" stroke-width="0.5" />
<circle cx="400.8" cy="509.7" r="2" fill="#000" stroke="none" stroke-width="0.5" />
<circle cx="399.9" cy="510" r="2" fill="#000" stroke="none" stroke-width="0.5" />
<circle cx="397.1" cy="509.5" r="2" fill="#000" stroke="none" stroke-width="0.5" />
<circle cx="397.2" cy="509.5" r="2" fill="#000" stroke="none" stroke-width="0.5" />
<circle cx="408" cy="509.5" r="2" fill="#000" stroke="none" stroke-width="0.5" />
<circle cx="399.3" cy="510" r="2" fill="#000" stroke="none" stroke-width="0.5" />
<circle cx="397" cy="509.8" r="2" fill="#000" stroke="none" stroke-width="0.5" />
<circle cx="397.2" cy="509.9" r="2" fill="#000" stroke="none" stroke-width="0.5" />
<circle cx="394.6" cy="509.9" r="2" fill="#000" stroke="none" stroke-width="0.5" />
<circle cx="408.4" cy="509.5" r="2" fill="#000" stroke="none" stroke-width="0.5" />
<circle cx="403.8" cy="509.8" r="2" fill="#000" stroke="none" stroke-width="0.5" />
<circle cx="404.7" cy="509.9" r="2" fill="#000" stroke="none" stroke-width="0.5" />
<circle cx="399.9" cy="509.8" r="2" fill="#000" stroke="none" stroke-width="0.5" />
<circle cx="406.5" cy="509.9" r="2" fill="#000" stroke="none" stroke-width="0.5" />
<circle cx="399.9" cy="509.6" r="2" fill="#000" stroke="none" stroke-width="0.5" />
<circle cx="408" cy="509.6" r="2" fill="#000" stroke="none" stroke-width="0.5" />
<circle cx="396" cy="510" r="2" fill="#000" stroke="none" stroke-width="0.5" />
<circle cx="407" cy="509.8" r="2" fill="#000" stroke="none" stroke-width="0.5" />
<circle cx="399.2" cy="509.6" r="2" fill="#000" stroke="none" stroke-width="0.5" />
<circle cx="396.9" cy="509.9" r="2" fill="#000" stroke="none" stroke-width="0.5" />
<circle cx="424.4" cy="509.8" r="2" fill="#000" stroke="none" stroke-width="0.5" />
<circle cx="426.4" cy="509.8" r="2" fill="#000" stroke="none" stroke-width="0.5" />
<circle cx="435" cy="449.5" r="2" fill="#000" stroke="none" stroke-width="0.5" />
<circle cx="435" cy="457.2" r="2" fill="#000" stroke="none" stroke-width="0.5" />
<circle cx="423.9" cy="461" r="2" fill="#000" stroke="none" stroke-width="0.5" />
<circle cx="429.8" cy="465" r="2" fill="#000" stroke="none" stroke-width="0.5" />
<circle cx="424.3" cy="481" r="2" fill="#000" stroke="none" stroke-width="0.5" />
<circle cx="424" cy="510" r="2" fill="#000" stroke="none" stroke-width="0.5" />
<circle cx="427" cy="510" r="2" fill="#000" stroke="none" stroke-width="0.5" />
<rect x="491.4" y="431.8" width="57.4" height="6.2" fill="#8DD3C7" stroke="#8A8A8A" stroke-width="0.5" />
<rect x="491.4" y="438" width="57.4" height="74.4" fill="none" stroke="#222" stroke-width="0.75" />
<line x1="491.4" y1="438" x2="548.8" y2="438" stroke="#222" stroke-width="0.9" />
<text x="520.1" y="427.5" font-size="10.4" text-anchor="middle" font-weight="normal" fill="#111"  stroke="#111" stroke-width="0.16">cDC2</text>
<line x1="489.2" y1="444.2" x2="491.4" y2="444.2" stroke="#333" stroke-width="0.6" />
<text x="488.5" y="447.3" font-size="8.7" text-anchor="end" font-weight="normal" fill="#111"  stroke="#111" stroke-width="0.16">60</text>
<line x1="489.2" y1="466.1" x2="491.4" y2="466.1" stroke="#333" stroke-width="0.6" />
<text x="488.5" y="469.2" font-size="8.7" text-anchor="end" font-weight="normal" fill="#111"  stroke="#111" stroke-width="0.16">40</text>
<line x1="489.2" y1="488.1" x2="491.4" y2="488.1" stroke="#333" stroke-width="0.6" />
<text x="488.5" y="491.2" font-size="8.7" text-anchor="end" font-weight="normal" fill="#111"  stroke="#111" stroke-width="0.16">20</text>
<line x1="489.2" y1="510" x2="491.4" y2="510" stroke="#333" stroke-width="0.6" />
<text x="488.5" y="513.1" font-size="8.7" text-anchor="end" font-weight="normal" fill="#111"  stroke="#111" stroke-width="0.16">0</text>
<circle cx="497.7" cy="509.6" r="2" fill="#000" stroke="none" stroke-width="0.5" />
<circle cx="506.1" cy="507.9" r="2" fill="#000" stroke="none" stroke-width="0.5" />
<circle cx="513.6" cy="507.6" r="2" fill="#000" stroke="none" stroke-width="0.5" />
<circle cx="500.5" cy="505.5" r="2" fill="#000" stroke="none" stroke-width="0.5" />
<circle cx="503.6" cy="509.3" r="2" fill="#000" stroke="none" stroke-width="0.5" />
<circle cx="509.4" cy="508.6" r="2" fill="#000" stroke="none" stroke-width="0.5" />
<circle cx="501.4" cy="507.7" r="2" fill="#000" stroke="none" stroke-width="0.5" />
<circle cx="502.8" cy="505.1" r="2" fill="#000" stroke="none" stroke-width="0.5" />
<circle cx="513.7" cy="507.2" r="2" fill="#000" stroke="none" stroke-width="0.5" />
<circle cx="511.1" cy="506.6" r="2" fill="#000" stroke="none" stroke-width="0.5" />
<circle cx="510.9" cy="501.2" r="2" fill="#000" stroke="none" stroke-width="0.5" />
<circle cx="515.6" cy="507.9" r="2" fill="#000" stroke="none" stroke-width="0.5" />
<circle cx="504.1" cy="507" r="2" fill="#000" stroke="none" stroke-width="0.5" />
<circle cx="497.1" cy="504.6" r="2" fill="#000" stroke="none" stroke-width="0.5" />
<circle cx="507" cy="503.7" r="2" fill="#000" stroke="none" stroke-width="0.5" />
<circle cx="503.8" cy="508.2" r="2" fill="#000" stroke="none" stroke-width="0.5" />
<circle cx="503" cy="508.4" r="2" fill="#000" stroke="none" stroke-width="0.5" />
<circle cx="497" cy="505" r="2" fill="#000" stroke="none" stroke-width="0.5" />
<circle cx="512.8" cy="506.2" r="2" fill="#000" stroke="none" stroke-width="0.5" />
<circle cx="501.8" cy="509" r="2" fill="#000" stroke="none" stroke-width="0.5" />
<circle cx="499.3" cy="503.3" r="2" fill="#000" stroke="none" stroke-width="0.5" />
<circle cx="507.5" cy="508.3" r="2" fill="#000" stroke="none" stroke-width="0.5" />
<circle cx="511.1" cy="502.9" r="2" fill="#000" stroke="none" stroke-width="0.5" />
<circle cx="510.9" cy="505" r="2" fill="#000" stroke="none" stroke-width="0.5" />
<circle cx="501" cy="506.2" r="2" fill="#000" stroke="none" stroke-width="0.5" />
<circle cx="506.9" cy="509.5" r="2" fill="#000" stroke="none" stroke-width="0.5" />
<circle cx="506.1" cy="509.5" r="2" fill="#000" stroke="none" stroke-width="0.5" />
<circle cx="511.4" cy="506.3" r="2" fill="#000" stroke="none" stroke-width="0.5" />
<circle cx="511" cy="509.3" r="2" fill="#000" stroke="none" stroke-width="0.5" />
<circle cx="506.4" cy="507.5" r="2" fill="#000" stroke="none" stroke-width="0.5" />
<circle cx="497.5" cy="501" r="2" fill="#000" stroke="none" stroke-width="0.5" />
<circle cx="512" cy="509.9" r="2" fill="#000" stroke="none" stroke-width="0.5" />
<circle cx="497.1" cy="505.9" r="2" fill="#000" stroke="none" stroke-width="0.5" />
<circle cx="516.6" cy="502.8" r="2" fill="#000" stroke="none" stroke-width="0.5" />
<circle cx="497.9" cy="507.6" r="2" fill="#000" stroke="none" stroke-width="0.5" />
<circle cx="504.3" cy="509.5" r="2" fill="#000" stroke="none" stroke-width="0.5" />
<circle cx="513.6" cy="509.2" r="2" fill="#000" stroke="none" stroke-width="0.5" />
<circle cx="501.9" cy="509.1" r="2" fill="#000" stroke="none" stroke-width="0.5" />
<circle cx="512.4" cy="497.4" r="2" fill="#000" stroke="none" stroke-width="0.5" />
<circle cx="501.9" cy="506.3" r="2" fill="#000" stroke="none" stroke-width="0.5" />
<circle cx="511.8" cy="498" r="2" fill="#000" stroke="none" stroke-width="0.5" />
<circle cx="509.7" cy="507.8" r="2" fill="#000" stroke="none" stroke-width="0.5" />
<circle cx="514.6" cy="497.5" r="2" fill="#000" stroke="none" stroke-width="0.5" />
<circle cx="515.1" cy="509.8" r="2" fill="#000" stroke="none" stroke-width="0.5" />
<circle cx="501" cy="509.7" r="2" fill="#000" stroke="none" stroke-width="0.5" />
<circle cx="504.5" cy="506.8" r="2" fill="#000" stroke="none" stroke-width="0.5" />
<circle cx="511.9" cy="499.8" r="2" fill="#000" stroke="none" stroke-width="0.5" />
<circle cx="513.5" cy="506.9" r="2" fill="#000" stroke="none" stroke-width="0.5" />
<circle cx="516.7" cy="507.3" r="2" fill="#000" stroke="none" stroke-width="0.5" />
<circle cx="509" cy="509.3" r="2" fill="#000" stroke="none" stroke-width="0.5" />
<circle cx="512.6" cy="505" r="2" fill="#000" stroke="none" stroke-width="0.5" />
<circle cx="512.4" cy="505.7" r="2" fill="#000" stroke="none" stroke-width="0.5" />
<circle cx="509.7" cy="507.4" r="2" fill="#000" stroke="none" stroke-width="0.5" />
<circle cx="511.1" cy="506.5" r="2" fill="#000" stroke="none" stroke-width="0.5" />
<circle cx="515.3" cy="505.1" r="2" fill="#000" stroke="none" stroke-width="0.5" />
<circle cx="526.5" cy="509.9" r="2" fill="#000" stroke="none" stroke-width="0.5" />
<circle cx="527.2" cy="509.2" r="2" fill="#000" stroke="none" stroke-width="0.5" />
<circle cx="543.1" cy="509.8" r="2" fill="#000" stroke="none" stroke-width="0.5" />
<circle cx="530.6" cy="509.5" r="2" fill="#000" stroke="none" stroke-width="0.5" />
<circle cx="529.4" cy="509.8" r="2" fill="#000" stroke="none" stroke-width="0.5" />
<circle cx="543.1" cy="509.7" r="2" fill="#000" stroke="none" stroke-width="0.5" />
<circle cx="526.9" cy="508.4" r="2" fill="#000" stroke="none" stroke-width="0.5" />
<circle cx="540.9" cy="509.7" r="2" fill="#000" stroke="none" stroke-width="0.5" />
<circle cx="539.1" cy="509.8" r="2" fill="#000" stroke="none" stroke-width="0.5" />
<circle cx="534.7" cy="509.3" r="2" fill="#000" stroke="none" stroke-width="0.5" />
<circle cx="541.4" cy="508.8" r="2" fill="#000" stroke="none" stroke-width="0.5" />
<circle cx="536" cy="509.8" r="2" fill="#000" stroke="none" stroke-width="0.5" />
<circle cx="528.4" cy="509.5" r="2" fill="#000" stroke="none" stroke-width="0.5" />
<circle cx="542.6" cy="509.3" r="2" fill="#000" stroke="none" stroke-width="0.5" />
<circle cx="528" cy="509.6" r="2" fill="#000" stroke="none" stroke-width="0.5" />
<circle cx="540.5" cy="509.4" r="2" fill="#000" stroke="none" stroke-width="0.5" />
<circle cx="541.9" cy="509.7" r="2" fill="#000" stroke="none" stroke-width="0.5" />
<circle cx="543.4" cy="508.1" r="2" fill="#000" stroke="none" stroke-width="0.5" />
<circle cx="539.9" cy="508.2" r="2" fill="#000" stroke="none" stroke-width="0.5" />
<circle cx="540.3" cy="507.6" r="2" fill="#000" stroke="none" stroke-width="0.5" />
<circle cx="539.5" cy="449.8" r="2" fill="#000" stroke="none" stroke-width="0.5" />
<circle cx="538" cy="492.5" r="2" fill="#000" stroke="none" stroke-width="0.5" />
<rect x="583.8" y="431.8" width="56.5" height="6.2" fill="#FFFFB3" stroke="#8A8A8A" stroke-width="0.5" />
<rect x="583.8" y="438" width="56.5" height="74.4" fill="none" stroke="#222" stroke-width="0.75" />
<line x1="583.8" y1="438" x2="640.3" y2="438" stroke="#222" stroke-width="0.9" />
<text x="612" y="427.5" font-size="10.4" text-anchor="middle" font-weight="normal" fill="#111"  stroke="#111" stroke-width="0.16">migDCs</text>
<line x1="581.6" y1="459.4" x2="583.8" y2="459.4" stroke="#333" stroke-width="0.6" />
<text x="580.6" y="462.5" font-size="8.7" text-anchor="end" font-weight="normal" fill="#111"  stroke="#111" stroke-width="0.16">40</text>
<line x1="581.6" y1="484.8" x2="583.8" y2="484.8" stroke="#333" stroke-width="0.6" />
<text x="580.6" y="487.9" font-size="8.7" text-anchor="end" font-weight="normal" fill="#111"  stroke="#111" stroke-width="0.16">20</text>
<line x1="581.6" y1="510.3" x2="583.8" y2="510.3" stroke="#333" stroke-width="0.6" />
<text x="580.6" y="513.4" font-size="8.7" text-anchor="end" font-weight="normal" fill="#111"  stroke="#111" stroke-width="0.16">0</text>
<line x1="615.4" y1="449.8" x2="634.7" y2="449.8" stroke="#111" stroke-width="0.8" />
<line x1="589" y1="510.3" x2="608" y2="510.3" stroke="#111" stroke-width="0.8" />
<circle cx="599.3" cy="510.1" r="2" fill="#000" stroke="none" stroke-width="0.5" />
<circle cx="625.6" cy="449.8" r="2" fill="#000" stroke="none" stroke-width="0.5" />
<circle cx="625.5" cy="449.8" r="2" fill="#000" stroke="none" stroke-width="0.5" />
<circle cx="597.5" cy="500.5" r="2" fill="#000" stroke="none" stroke-width="0.5" />
<circle cx="599.5" cy="499.8" r="2" fill="#000" stroke="none" stroke-width="0.5" />
<circle cx="594" cy="510.3" r="2" fill="#000" stroke="none" stroke-width="0.5" />
<circle cx="597" cy="510.3" r="2" fill="#000" stroke="none" stroke-width="0.5" />
<circle cx="600" cy="510.3" r="2" fill="#000" stroke="none" stroke-width="0.5" />
<circle cx="603" cy="510.3" r="2" fill="#000" stroke="none" stroke-width="0.5" />
<circle cx="605.5" cy="510.3" r="2" fill="#000" stroke="none" stroke-width="0.5" />
<text x="401.8" y="411.5" font-size="10.7" text-anchor="middle" font-weight="normal" fill="#111"  stroke="#111" stroke-width="0.16">&lt;=73</text>
<text x="430.7" y="411.5" font-size="10.7" text-anchor="middle" font-weight="normal" fill="#111"  stroke="#111" stroke-width="0.16">&gt;73</text>
<text x="509.4" y="411.5" font-size="10.7" text-anchor="middle" font-weight="normal" fill="#111"  stroke="#111" stroke-width="0.16">&lt;=73</text>
<text x="535.9" y="411.5" font-size="10.7" text-anchor="middle" font-weight="normal" fill="#111"  stroke="#111" stroke-width="0.16">&gt;73</text>
<text x="601" y="411.5" font-size="10.7" text-anchor="middle" font-weight="normal" fill="#111"  stroke="#111" stroke-width="0.16">&lt;=73</text>
<text x="627.4" y="411.5" font-size="10.7" text-anchor="middle" font-weight="normal" fill="#111"  stroke="#111" stroke-width="0.16">&gt;73</text>
<text x="402.3" y="526.6" font-size="10.7" text-anchor="middle" font-weight="normal" fill="#111"  stroke="#111" stroke-width="0.16">&lt;=73</text>
<text x="431.2" y="526.6" font-size="10.7" text-anchor="middle" font-weight="normal" fill="#111"  stroke="#111" stroke-width="0.16">&gt;73</text>
<text x="510.7" y="526.6" font-size="10.7" text-anchor="middle" font-weight="normal" fill="#111"  stroke="#111" stroke-width="0.16">&lt;=73</text>
<text x="540" y="526.6" font-size="10.7" text-anchor="middle" font-weight="normal" fill="#111"  stroke="#111" stroke-width="0.16">&gt;73</text>
<text x="601" y="526.6" font-size="10.7" text-anchor="middle" font-weight="normal" fill="#111"  stroke="#111" stroke-width="0.16">&lt;=73</text>
<text x="629.9" y="526.6" font-size="10.7" text-anchor="middle" font-weight="normal" fill="#111"  stroke="#111" stroke-width="0.16">&gt;73</text>
<line x1="31.2" y1="557" x2="31.2" y2="802.6" stroke="#000" stroke-width="3.2" />
<path d="M31.2 802.6H674" stroke="#000" stroke-width="3.2" stroke-linecap="round" fill="none"/>
<text x="266.9" y="546.9" font-size="17.6" text-anchor="start" font-weight="bold" fill="#222" textLength="151.9" lengthAdjust="spacingAndGlyphs" stroke="#222" stroke-width="0.16">Tumour-infiltrating</text>
<text x="266.7" y="692.3" font-size="17.6" text-anchor="start" font-weight="bold" fill="#222" textLength="135" lengthAdjust="spacingAndGlyphs" stroke="#222" stroke-width="0.16">Peripheral blood</text>
<text x="296.1" y="821" font-size="16.4" text-anchor="start" font-weight="bold" fill="#222" textLength="93.1" lengthAdjust="spacingAndGlyphs" stroke="#222" stroke-width="0.16">Age (years)</text>
<text transform="translate(21.8 723.6) rotate(-90)" font-size="17.2" font-weight="bold" fill="#222">% PD-L2<tspan font-size="11" dy="-7">+</tspan></text>
<line x1="53.8" y1="644" x2="53.8" y2="566.2" stroke="#8A8A8A" stroke-width="1.1" />
<line x1="53.8" y1="644" x2="170.8" y2="644" stroke="#8A8A8A" stroke-width="1.1" />
<line x1="53.8" y1="644" x2="53.8" y2="646.8" stroke="#8A8A8A" stroke-width="0.7" />
<line x1="57.7" y1="644" x2="57.7" y2="645.6" stroke="#8A8A8A" stroke-width="0.7" />
<line x1="61.6" y1="644" x2="61.6" y2="645.6" stroke="#8A8A8A" stroke-width="0.7" />
<line x1="65.5" y1="644" x2="65.5" y2="645.6" stroke="#8A8A8A" stroke-width="0.7" />
<line x1="69.4" y1="644" x2="69.4" y2="645.6" stroke="#8A8A8A" stroke-width="0.7" />
<line x1="73.3" y1="644" x2="73.3" y2="645.6" stroke="#8A8A8A" stroke-width="0.7" />
<line x1="77.2" y1="644" x2="77.2" y2="645.6" stroke="#8A8A8A" stroke-width="0.7" />
<line x1="81.1" y1="644" x2="81.1" y2="645.6" stroke="#8A8A8A" stroke-width="0.7" />
<line x1="85" y1="644" x2="85" y2="645.6" stroke="#8A8A8A" stroke-width="0.7" />
<line x1="88.9" y1="644" x2="88.9" y2="645.6" stroke="#8A8A8A" stroke-width="0.7" />
<line x1="92.8" y1="644" x2="92.8" y2="646.8" stroke="#8A8A8A" stroke-width="0.7" />
<line x1="96.7" y1="644" x2="96.7" y2="645.6" stroke="#8A8A8A" stroke-width="0.7" />
<line x1="100.6" y1="644" x2="100.6" y2="645.6" stroke="#8A8A8A" stroke-width="0.7" />
<line x1="104.5" y1="644" x2="104.5" y2="645.6" stroke="#8A8A8A" stroke-width="0.7" />
<line x1="108.4" y1="644" x2="108.4" y2="645.6" stroke="#8A8A8A" stroke-width="0.7" />
<line x1="112.3" y1="644" x2="112.3" y2="645.6" stroke="#8A8A8A" stroke-width="0.7" />
<line x1="116.2" y1="644" x2="116.2" y2="645.6" stroke="#8A8A8A" stroke-width="0.7" />
<line x1="120.1" y1="644" x2="120.1" y2="645.6" stroke="#8A8A8A" stroke-width="0.7" />
<line x1="124" y1="644" x2="124" y2="645.6" stroke="#8A8A8A" stroke-width="0.7" />
<line x1="127.9" y1="644" x2="127.9" y2="645.6" stroke="#8A8A8A" stroke-width="0.7" />
<line x1="131.8" y1="644" x2="131.8" y2="646.8" stroke="#8A8A8A" stroke-width="0.7" />
<line x1="135.7" y1="644" x2="135.7" y2="645.6" stroke="#8A8A8A" stroke-width="0.7" />
<line x1="139.6" y1="644" x2="139.6" y2="645.6" stroke="#8A8A8A" stroke-width="0.7" />
<line x1="143.5" y1="644" x2="143.5" y2="645.6" stroke="#8A8A8A" stroke-width="0.7" />
<line x1="147.4" y1="644" x2="147.4" y2="645.6" stroke="#8A8A8A" stroke-width="0.7" />
<line x1="151.3" y1="644" x2="151.3" y2="645.6" stroke="#8A8A8A" stroke-width="0.7" />
<line x1="155.2" y1="644" x2="155.2" y2="645.6" stroke="#8A8A8A" stroke-width="0.7" />
<line x1="159.1" y1="644" x2="159.1" y2="645.6" stroke="#8A8A8A" stroke-width="0.7" />
<line x1="163" y1="644" x2="163" y2="645.6" stroke="#8A8A8A" stroke-width="0.7" />
<line x1="166.9" y1="644" x2="166.9" y2="645.6" stroke="#8A8A8A" stroke-width="0.7" />
<line x1="170.8" y1="644" x2="170.8" y2="646.8" stroke="#8A8A8A" stroke-width="0.7" />
<text x="53.8" y="655.4" font-size="7.3" text-anchor="middle" font-weight="bold" fill="#111"  stroke="#111" stroke-width="0.13">20</text>
<text x="92.8" y="655.4" font-size="7.3" text-anchor="middle" font-weight="bold" fill="#111"  stroke="#111" stroke-width="0.13">40</text>
<text x="131.8" y="655.4" font-size="7.3" text-anchor="middle" font-weight="bold" fill="#111"  stroke="#111" stroke-width="0.13">60</text>
<text x="170.8" y="655.4" font-size="7.3" text-anchor="middle" font-weight="bold" fill="#111"  stroke="#111" stroke-width="0.13">80</text>
<line x1="51" y1="644" x2="53.8" y2="644" stroke="#8A8A8A" stroke-width="0.7" />
<text x="49.8" y="646.6" font-size="7.3" text-anchor="end" font-weight="bold" fill="#111"  stroke="#111" stroke-width="0.13">0</text>
<line x1="51" y1="618.1" x2="53.8" y2="618.1" stroke="#8A8A8A" stroke-width="0.7" />
<text x="49.8" y="620.7" font-size="7.3" text-anchor="end" font-weight="bold" fill="#111"  stroke="#111" stroke-width="0.13">10</text>
<line x1="51" y1="592.1" x2="53.8" y2="592.1" stroke="#8A8A8A" stroke-width="0.7" />
<text x="49.8" y="594.7" font-size="7.3" text-anchor="end" font-weight="bold" fill="#111"  stroke="#111" stroke-width="0.13">20</text>
<line x1="51" y1="566.2" x2="53.8" y2="566.2" stroke="#8A8A8A" stroke-width="0.7" />
<text x="49.8" y="568.8" font-size="7.3" text-anchor="end" font-weight="bold" fill="#111"  stroke="#111" stroke-width="0.13">30</text>
<text x="112.5" y="569.2" font-size="10.6" text-anchor="middle" font-weight="bold" fill="#111"  stroke="#111" stroke-width="0.16">Monocytes</text>
<line x1="75.4" y1="610.4" x2="161.6" y2="622.7" stroke="#E8422A" stroke-width="1.1" />
<text x="88" y="607.1" font-size="6.2" text-anchor="start" font-weight="bold" fill="#111"  stroke="#111" stroke-width="0.11">R<tspan font-size="4" dy="-2.6">2</tspan><tspan dy="2.6"> = 0.043</tspan></text>
<circle cx="75.4" cy="621.5" r="1.7" fill="#000" stroke="none" stroke-width="0.5" />
<circle cx="96.8" cy="621" r="1.7" fill="#000" stroke="none" stroke-width="0.5" />
<circle cx="116.4" cy="580" r="1.7" fill="#000" stroke="none" stroke-width="0.5" />
<circle cx="134" cy="632" r="1.7" fill="#000" stroke="none" stroke-width="0.5" />
<circle cx="135.6" cy="610.1" r="1.7" fill="#000" stroke="none" stroke-width="0.5" />
<circle cx="153.5" cy="615.5" r="1.7" fill="#000" stroke="none" stroke-width="0.5" />
<circle cx="155.5" cy="641.5" r="1.7" fill="#000" stroke="none" stroke-width="0.5" />
<circle cx="159.3" cy="639.5" r="1.7" fill="#000" stroke="none" stroke-width="0.5" />
<circle cx="161.6" cy="592.3" r="1.7" fill="#000" stroke="none" stroke-width="0.5" />
<line x1="203.6" y1="648.8" x2="203.6" y2="571.3" stroke="#111" stroke-width="1.1" />
<line x1="203.6" y1="648.8" x2="321" y2="648.8" stroke="#111" stroke-width="1.1" />
<line x1="203.6" y1="648.8" x2="203.6" y2="651.6" stroke="#111" stroke-width="0.7" />
<line x1="207.5" y1="648.8" x2="207.5" y2="650.4" stroke="#111" stroke-width="0.7" />
<line x1="211.4" y1="648.8" x2="211.4" y2="650.4" stroke="#111" stroke-width="0.7" />
<line x1="215.3" y1="648.8" x2="215.3" y2="650.4" stroke="#111" stroke-width="0.7" />
<line x1="219.3" y1="648.8" x2="219.3" y2="650.4" stroke="#111" stroke-width="0.7" />
<line x1="223.2" y1="648.8" x2="223.2" y2="650.4" stroke="#111" stroke-width="0.7" />
<line x1="227.1" y1="648.8" x2="227.1" y2="650.4" stroke="#111" stroke-width="0.7" />
<line x1="231" y1="648.8" x2="231" y2="650.4" stroke="#111" stroke-width="0.7" />
<line x1="234.9" y1="648.8" x2="234.9" y2="650.4" stroke="#111" stroke-width="0.7" />
<line x1="238.8" y1="648.8" x2="238.8" y2="650.4" stroke="#111" stroke-width="0.7" />
<line x1="242.7" y1="648.8" x2="242.7" y2="651.6" stroke="#111" stroke-width="0.7" />
<line x1="246.6" y1="648.8" x2="246.6" y2="650.4" stroke="#111" stroke-width="0.7" />
<line x1="250.6" y1="648.8" x2="250.6" y2="650.4" stroke="#111" stroke-width="0.7" />
<line x1="254.5" y1="648.8" x2="254.5" y2="650.4" stroke="#111" stroke-width="0.7" />
<line x1="258.4" y1="648.8" x2="258.4" y2="650.4" stroke="#111" stroke-width="0.7" />
<line x1="262.3" y1="648.8" x2="262.3" y2="650.4" stroke="#111" stroke-width="0.7" />
<line x1="266.2" y1="648.8" x2="266.2" y2="650.4" stroke="#111" stroke-width="0.7" />
<line x1="270.1" y1="648.8" x2="270.1" y2="650.4" stroke="#111" stroke-width="0.7" />
<line x1="274" y1="648.8" x2="274" y2="650.4" stroke="#111" stroke-width="0.7" />
<line x1="278" y1="648.8" x2="278" y2="650.4" stroke="#111" stroke-width="0.7" />
<line x1="281.9" y1="648.8" x2="281.9" y2="651.6" stroke="#111" stroke-width="0.7" />
<line x1="285.8" y1="648.8" x2="285.8" y2="650.4" stroke="#111" stroke-width="0.7" />
<line x1="289.7" y1="648.8" x2="289.7" y2="650.4" stroke="#111" stroke-width="0.7" />
<line x1="293.6" y1="648.8" x2="293.6" y2="650.4" stroke="#111" stroke-width="0.7" />
<line x1="297.5" y1="648.8" x2="297.5" y2="650.4" stroke="#111" stroke-width="0.7" />
<line x1="301.4" y1="648.8" x2="301.4" y2="650.4" stroke="#111" stroke-width="0.7" />
<line x1="305.3" y1="648.8" x2="305.3" y2="650.4" stroke="#111" stroke-width="0.7" />
<line x1="309.3" y1="648.8" x2="309.3" y2="650.4" stroke="#111" stroke-width="0.7" />
<line x1="313.2" y1="648.8" x2="313.2" y2="650.4" stroke="#111" stroke-width="0.7" />
<line x1="317.1" y1="648.8" x2="317.1" y2="650.4" stroke="#111" stroke-width="0.7" />
<line x1="321" y1="648.8" x2="321" y2="651.6" stroke="#111" stroke-width="0.7" />
<text x="203.6" y="660.2" font-size="7.3" text-anchor="middle" font-weight="bold" fill="#111"  stroke="#111" stroke-width="0.13">20</text>
<text x="242.7" y="660.2" font-size="7.3" text-anchor="middle" font-weight="bold" fill="#111"  stroke="#111" stroke-width="0.13">40</text>
<text x="281.9" y="660.2" font-size="7.3" text-anchor="middle" font-weight="bold" fill="#111"  stroke="#111" stroke-width="0.13">60</text>
<text x="321" y="660.2" font-size="7.3" text-anchor="middle" font-weight="bold" fill="#111"  stroke="#111" stroke-width="0.13">80</text>
<line x1="200.8" y1="648.8" x2="203.6" y2="648.8" stroke="#111" stroke-width="0.7" />
<text x="199.6" y="651.4" font-size="7.3" text-anchor="end" font-weight="bold" fill="#111"  stroke="#111" stroke-width="0.13">0</text>
<line x1="200.8" y1="629.4" x2="203.6" y2="629.4" stroke="#111" stroke-width="0.7" />
<text x="199.6" y="632" font-size="7.3" text-anchor="end" font-weight="bold" fill="#111"  stroke="#111" stroke-width="0.13">20</text>
<line x1="200.8" y1="610" x2="203.6" y2="610" stroke="#111" stroke-width="0.7" />
<text x="199.6" y="612.6" font-size="7.3" text-anchor="end" font-weight="bold" fill="#111"  stroke="#111" stroke-width="0.13">40</text>
<line x1="200.8" y1="590.7" x2="203.6" y2="590.7" stroke="#111" stroke-width="0.7" />
<text x="199.6" y="593.3" font-size="7.3" text-anchor="end" font-weight="bold" fill="#111"  stroke="#111" stroke-width="0.13">60</text>
<line x1="200.8" y1="571.3" x2="203.6" y2="571.3" stroke="#111" stroke-width="0.7" />
<text x="199.6" y="573.9" font-size="7.3" text-anchor="end" font-weight="bold" fill="#111"  stroke="#111" stroke-width="0.13">80</text>
<text x="262" y="574.5" font-size="10.6" text-anchor="middle" font-weight="bold" fill="#111"  stroke="#111" stroke-width="0.16">cDC1</text>
<line x1="225.2" y1="640.9" x2="308.7" y2="600.4" stroke="#E8422A" stroke-width="1.1" />
<text x="234" y="609.5" font-size="6.2" text-anchor="start" font-weight="bold" fill="#111"  stroke="#111" stroke-width="0.11">R<tspan font-size="4" dy="-2.6">2</tspan><tspan dy="2.6"> = 0.32</tspan></text>
<circle cx="225.2" cy="622.5" r="1.7" fill="#000" stroke="none" stroke-width="0.5" />
<circle cx="246.7" cy="648.8" r="1.7" fill="#000" stroke="none" stroke-width="0.5" />
<circle cx="266.4" cy="628" r="1.7" fill="#000" stroke="none" stroke-width="0.5" />
<circle cx="283.5" cy="582" r="1.7" fill="#000" stroke="none" stroke-width="0.5" />
<circle cx="285.6" cy="648.8" r="1.7" fill="#000" stroke="none" stroke-width="0.5" />
<circle cx="303.2" cy="606.2" r="1.7" fill="#000" stroke="none" stroke-width="0.5" />
<circle cx="309.3" cy="583.3" r="1.7" fill="#000" stroke="none" stroke-width="0.5" />
<circle cx="309.3" cy="600.4" r="1.7" fill="#000" stroke="none" stroke-width="0.5" />
<line x1="371" y1="652.5" x2="371" y2="574.5" stroke="#111" stroke-width="1.1" />
<line x1="371" y1="652.5" x2="487.7" y2="652.5" stroke="#111" stroke-width="1.1" />
<line x1="371" y1="652.5" x2="371" y2="655.3" stroke="#111" stroke-width="0.7" />
<line x1="374.9" y1="652.5" x2="374.9" y2="654.1" stroke="#111" stroke-width="0.7" />
<line x1="378.8" y1="652.5" x2="378.8" y2="654.1" stroke="#111" stroke-width="0.7" />
<line x1="382.7" y1="652.5" x2="382.7" y2="654.1" stroke="#111" stroke-width="0.7" />
<line x1="386.6" y1="652.5" x2="386.6" y2="654.1" stroke="#111" stroke-width="0.7" />
<line x1="390.4" y1="652.5" x2="390.4" y2="654.1" stroke="#111" stroke-width="0.7" />
<line x1="394.3" y1="652.5" x2="394.3" y2="654.1" stroke="#111" stroke-width="0.7" />
<line x1="398.2" y1="652.5" x2="398.2" y2="654.1" stroke="#111" stroke-width="0.7" />
<line x1="402.1" y1="652.5" x2="402.1" y2="654.1" stroke="#111" stroke-width="0.7" />
<line x1="406" y1="652.5" x2="406" y2="654.1" stroke="#111" stroke-width="0.7" />
<line x1="409.9" y1="652.5" x2="409.9" y2="655.3" stroke="#111" stroke-width="0.7" />
<line x1="413.8" y1="652.5" x2="413.8" y2="654.1" stroke="#111" stroke-width="0.7" />
<line x1="417.7" y1="652.5" x2="417.7" y2="654.1" stroke="#111" stroke-width="0.7" />
<line x1="421.6" y1="652.5" x2="421.6" y2="654.1" stroke="#111" stroke-width="0.7" />
<line x1="425.5" y1="652.5" x2="425.5" y2="654.1" stroke="#111" stroke-width="0.7" />
<line x1="429.4" y1="652.5" x2="429.4" y2="654.1" stroke="#111" stroke-width="0.7" />
<line x1="433.2" y1="652.5" x2="433.2" y2="654.1" stroke="#111" stroke-width="0.7" />
<line x1="437.1" y1="652.5" x2="437.1" y2="654.1" stroke="#111" stroke-width="0.7" />
<line x1="441" y1="652.5" x2="441" y2="654.1" stroke="#111" stroke-width="0.7" />
<line x1="444.9" y1="652.5" x2="444.9" y2="654.1" stroke="#111" stroke-width="0.7" />
<line x1="448.8" y1="652.5" x2="448.8" y2="655.3" stroke="#111" stroke-width="0.7" />
<line x1="452.7" y1="652.5" x2="452.7" y2="654.1" stroke="#111" stroke-width="0.7" />
<line x1="456.6" y1="652.5" x2="456.6" y2="654.1" stroke="#111" stroke-width="0.7" />
<line x1="460.5" y1="652.5" x2="460.5" y2="654.1" stroke="#111" stroke-width="0.7" />
<line x1="464.4" y1="652.5" x2="464.4" y2="654.1" stroke="#111" stroke-width="0.7" />
<line x1="468.2" y1="652.5" x2="468.2" y2="654.1" stroke="#111" stroke-width="0.7" />
<line x1="472.1" y1="652.5" x2="472.1" y2="654.1" stroke="#111" stroke-width="0.7" />
<line x1="476" y1="652.5" x2="476" y2="654.1" stroke="#111" stroke-width="0.7" />
<line x1="479.9" y1="652.5" x2="479.9" y2="654.1" stroke="#111" stroke-width="0.7" />
<line x1="483.8" y1="652.5" x2="483.8" y2="654.1" stroke="#111" stroke-width="0.7" />
<line x1="487.7" y1="652.5" x2="487.7" y2="655.3" stroke="#111" stroke-width="0.7" />
<text x="371" y="663.9" font-size="7.3" text-anchor="middle" font-weight="bold" fill="#111"  stroke="#111" stroke-width="0.13">20</text>
<text x="409.9" y="663.9" font-size="7.3" text-anchor="middle" font-weight="bold" fill="#111"  stroke="#111" stroke-width="0.13">40</text>
<text x="448.8" y="663.9" font-size="7.3" text-anchor="middle" font-weight="bold" fill="#111"  stroke="#111" stroke-width="0.13">60</text>
<text x="487.7" y="663.9" font-size="7.3" text-anchor="middle" font-weight="bold" fill="#111"  stroke="#111" stroke-width="0.13">80</text>
<line x1="368.2" y1="652.5" x2="371" y2="652.5" stroke="#111" stroke-width="0.7" />
<text x="367" y="655.1" font-size="7.3" text-anchor="end" font-weight="bold" fill="#111"  stroke="#111" stroke-width="0.13">0</text>
<line x1="368.2" y1="626.5" x2="371" y2="626.5" stroke="#111" stroke-width="0.7" />
<text x="367" y="629.1" font-size="7.3" text-anchor="end" font-weight="bold" fill="#111"  stroke="#111" stroke-width="0.13">10</text>
<line x1="368.2" y1="600.5" x2="371" y2="600.5" stroke="#111" stroke-width="0.7" />
<text x="367" y="603.1" font-size="7.3" text-anchor="end" font-weight="bold" fill="#111"  stroke="#111" stroke-width="0.13">20</text>
<line x1="368.2" y1="574.5" x2="371" y2="574.5" stroke="#111" stroke-width="0.7" />
<text x="367" y="577.1" font-size="7.3" text-anchor="end" font-weight="bold" fill="#111"  stroke="#111" stroke-width="0.13">30</text>
<text x="429.3" y="574.8" font-size="10.6" text-anchor="middle" font-weight="bold" fill="#111"  stroke="#111" stroke-width="0.16">cDC2</text>
<line x1="392.5" y1="625.2" x2="478.7" y2="633.6" stroke="#E8422A" stroke-width="1.1" />
<text x="396.5" y="607.4" font-size="6.2" text-anchor="start" font-weight="bold" fill="#111"  stroke="#111" stroke-width="0.11">R<tspan font-size="4" dy="-2.6">2</tspan><tspan dy="2.6"> = 0.016</tspan></text>
<circle cx="392.5" cy="646" r="1.7" fill="#000" stroke="none" stroke-width="0.5" />
<circle cx="414.2" cy="617.8" r="1.7" fill="#000" stroke="none" stroke-width="0.5" />
<circle cx="433.3" cy="615.5" r="1.7" fill="#000" stroke="none" stroke-width="0.5" />
<circle cx="451.3" cy="586.3" r="1.7" fill="#000" stroke="none" stroke-width="0.5" />
<circle cx="453.1" cy="652.5" r="1.7" fill="#000" stroke="none" stroke-width="0.5" />
<circle cx="470.3" cy="641.3" r="1.7" fill="#000" stroke="none" stroke-width="0.5" />
<circle cx="472.4" cy="652.5" r="1.7" fill="#000" stroke="none" stroke-width="0.5" />
<circle cx="476.1" cy="642.8" r="1.7" fill="#000" stroke="none" stroke-width="0.5" />
<circle cx="476.1" cy="605.2" r="1.7" fill="#000" stroke="none" stroke-width="0.5" />
<circle cx="478.3" cy="652.5" r="1.7" fill="#000" stroke="none" stroke-width="0.5" />
<line x1="544.4" y1="651.2" x2="544.4" y2="572.6" stroke="#111" stroke-width="1.1" />
<line x1="544.4" y1="651.2" x2="661.3" y2="651.2" stroke="#111" stroke-width="1.1" />
<line x1="544.4" y1="651.2" x2="544.4" y2="654" stroke="#111" stroke-width="0.7" />
<line x1="548.3" y1="651.2" x2="548.3" y2="652.8" stroke="#111" stroke-width="0.7" />
<line x1="552.2" y1="651.2" x2="552.2" y2="652.8" stroke="#111" stroke-width="0.7" />
<line x1="556.1" y1="651.2" x2="556.1" y2="652.8" stroke="#111" stroke-width="0.7" />
<line x1="560" y1="651.2" x2="560" y2="652.8" stroke="#111" stroke-width="0.7" />
<line x1="563.9" y1="651.2" x2="563.9" y2="652.8" stroke="#111" stroke-width="0.7" />
<line x1="567.8" y1="651.2" x2="567.8" y2="652.8" stroke="#111" stroke-width="0.7" />
<line x1="571.7" y1="651.2" x2="571.7" y2="652.8" stroke="#111" stroke-width="0.7" />
<line x1="575.6" y1="651.2" x2="575.6" y2="652.8" stroke="#111" stroke-width="0.7" />
<line x1="579.5" y1="651.2" x2="579.5" y2="652.8" stroke="#111" stroke-width="0.7" />
<line x1="583.4" y1="651.2" x2="583.4" y2="654" stroke="#111" stroke-width="0.7" />
<line x1="587.3" y1="651.2" x2="587.3" y2="652.8" stroke="#111" stroke-width="0.7" />
<line x1="591.2" y1="651.2" x2="591.2" y2="652.8" stroke="#111" stroke-width="0.7" />
<line x1="595.1" y1="651.2" x2="595.1" y2="652.8" stroke="#111" stroke-width="0.7" />
<line x1="599" y1="651.2" x2="599" y2="652.8" stroke="#111" stroke-width="0.7" />
<line x1="602.8" y1="651.2" x2="602.8" y2="652.8" stroke="#111" stroke-width="0.7" />
<line x1="606.7" y1="651.2" x2="606.7" y2="652.8" stroke="#111" stroke-width="0.7" />
<line x1="610.6" y1="651.2" x2="610.6" y2="652.8" stroke="#111" stroke-width="0.7" />
<line x1="614.5" y1="651.2" x2="614.5" y2="652.8" stroke="#111" stroke-width="0.7" />
<line x1="618.4" y1="651.2" x2="618.4" y2="652.8" stroke="#111" stroke-width="0.7" />
<line x1="622.3" y1="651.2" x2="622.3" y2="654" stroke="#111" stroke-width="0.7" />
<line x1="626.2" y1="651.2" x2="626.2" y2="652.8" stroke="#111" stroke-width="0.7" />
<line x1="630.1" y1="651.2" x2="630.1" y2="652.8" stroke="#111" stroke-width="0.7" />
<line x1="634" y1="651.2" x2="634" y2="652.8" stroke="#111" stroke-width="0.7" />
<line x1="637.9" y1="651.2" x2="637.9" y2="652.8" stroke="#111" stroke-width="0.7" />
<line x1="641.8" y1="651.2" x2="641.8" y2="652.8" stroke="#111" stroke-width="0.7" />
<line x1="645.7" y1="651.2" x2="645.7" y2="652.8" stroke="#111" stroke-width="0.7" />
<line x1="649.6" y1="651.2" x2="649.6" y2="652.8" stroke="#111" stroke-width="0.7" />
<line x1="653.5" y1="651.2" x2="653.5" y2="652.8" stroke="#111" stroke-width="0.7" />
<line x1="657.4" y1="651.2" x2="657.4" y2="652.8" stroke="#111" stroke-width="0.7" />
<line x1="661.3" y1="651.2" x2="661.3" y2="654" stroke="#111" stroke-width="0.7" />
<text x="544.4" y="662.6" font-size="7.3" text-anchor="middle" font-weight="bold" fill="#111"  stroke="#111" stroke-width="0.13">20</text>
<text x="583.4" y="662.6" font-size="7.3" text-anchor="middle" font-weight="bold" fill="#111"  stroke="#111" stroke-width="0.13">40</text>
<text x="622.3" y="662.6" font-size="7.3" text-anchor="middle" font-weight="bold" fill="#111"  stroke="#111" stroke-width="0.13">60</text>
<text x="661.3" y="662.6" font-size="7.3" text-anchor="middle" font-weight="bold" fill="#111"  stroke="#111" stroke-width="0.13">80</text>
<line x1="541.6" y1="651.2" x2="544.4" y2="651.2" stroke="#111" stroke-width="0.7" />
<text x="540.4" y="653.8" font-size="7.3" text-anchor="end" font-weight="bold" fill="#111"  stroke="#111" stroke-width="0.13">0</text>
<line x1="541.6" y1="631.6" x2="544.4" y2="631.6" stroke="#111" stroke-width="0.7" />
<text x="540.4" y="634.2" font-size="7.3" text-anchor="end" font-weight="bold" fill="#111"  stroke="#111" stroke-width="0.13">10</text>
<line x1="541.6" y1="611.9" x2="544.4" y2="611.9" stroke="#111" stroke-width="0.7" />
<text x="540.4" y="614.5" font-size="7.3" text-anchor="end" font-weight="bold" fill="#111"  stroke="#111" stroke-width="0.13">20</text>
<line x1="541.6" y1="592.2" x2="544.4" y2="592.2" stroke="#111" stroke-width="0.7" />
<text x="540.4" y="594.9" font-size="7.3" text-anchor="end" font-weight="bold" fill="#111"  stroke="#111" stroke-width="0.13">30</text>
<line x1="541.6" y1="572.6" x2="544.4" y2="572.6" stroke="#111" stroke-width="0.7" />
<text x="540.4" y="575.2" font-size="7.3" text-anchor="end" font-weight="bold" fill="#111"  stroke="#111" stroke-width="0.13">40</text>
<text x="602.2" y="574.8" font-size="10.6" text-anchor="middle" font-weight="bold" fill="#111"  stroke="#111" stroke-width="0.16">pDC</text>
<line x1="565.4" y1="631" x2="651.6" y2="632.3" stroke="#E8422A" stroke-width="1.1" />
<text x="578" y="614.2" font-size="6.2" text-anchor="start" font-weight="bold" fill="#111"  stroke="#111" stroke-width="0.11">R<tspan font-size="4" dy="-2.6">2</tspan><tspan dy="2.6"> = 9e</tspan><tspan font-size="4" dy="-2.6">-5</tspan></text>
<circle cx="565.4" cy="625.8" r="1.7" fill="#000" stroke="none" stroke-width="0.5" />
<circle cx="587" cy="645.2" r="1.7" fill="#000" stroke="none" stroke-width="0.5" />
<circle cx="606.4" cy="643.3" r="1.7" fill="#000" stroke="none" stroke-width="0.5" />
<circle cx="624" cy="590.2" r="1.7" fill="#000" stroke="none" stroke-width="0.5" />
<circle cx="626" cy="651" r="1.7" fill="#000" stroke="none" stroke-width="0.5" />
<circle cx="643.5" cy="578" r="1.7" fill="#000" stroke="none" stroke-width="0.5" />
<circle cx="645.5" cy="651" r="1.7" fill="#000" stroke="none" stroke-width="0.5" />
<circle cx="648.6" cy="651" r="1.7" fill="#000" stroke="none" stroke-width="0.5" />
<circle cx="651" cy="651" r="1.7" fill="#000" stroke="none" stroke-width="0.5" />
<line x1="58.3" y1="776.1" x2="58.3" y2="698.6" stroke="#111" stroke-width="1.1" />
<line x1="58.3" y1="776.1" x2="174.7" y2="776.1" stroke="#111" stroke-width="1.1" />
<line x1="58.3" y1="776.1" x2="58.3" y2="778.9" stroke="#111" stroke-width="0.7" />
<line x1="62.2" y1="776.1" x2="62.2" y2="777.7" stroke="#111" stroke-width="0.7" />
<line x1="66.1" y1="776.1" x2="66.1" y2="777.7" stroke="#111" stroke-width="0.7" />
<line x1="69.9" y1="776.1" x2="69.9" y2="777.7" stroke="#111" stroke-width="0.7" />
<line x1="73.8" y1="776.1" x2="73.8" y2="777.7" stroke="#111" stroke-width="0.7" />
<line x1="77.7" y1="776.1" x2="77.7" y2="777.7" stroke="#111" stroke-width="0.7" />
<line x1="81.6" y1="776.1" x2="81.6" y2="777.7" stroke="#111" stroke-width="0.7" />
<line x1="85.5" y1="776.1" x2="85.5" y2="777.7" stroke="#111" stroke-width="0.7" />
<line x1="89.3" y1="776.1" x2="89.3" y2="777.7" stroke="#111" stroke-width="0.7" />
<line x1="93.2" y1="776.1" x2="93.2" y2="777.7" stroke="#111" stroke-width="0.7" />
<line x1="97.1" y1="776.1" x2="97.1" y2="778.9" stroke="#111" stroke-width="0.7" />
<line x1="101" y1="776.1" x2="101" y2="777.7" stroke="#111" stroke-width="0.7" />
<line x1="104.9" y1="776.1" x2="104.9" y2="777.7" stroke="#111" stroke-width="0.7" />
<line x1="108.7" y1="776.1" x2="108.7" y2="777.7" stroke="#111" stroke-width="0.7" />
<line x1="112.6" y1="776.1" x2="112.6" y2="777.7" stroke="#111" stroke-width="0.7" />
<line x1="116.5" y1="776.1" x2="116.5" y2="777.7" stroke="#111" stroke-width="0.7" />
<line x1="120.4" y1="776.1" x2="120.4" y2="777.7" stroke="#111" stroke-width="0.7" />
<line x1="124.3" y1="776.1" x2="124.3" y2="777.7" stroke="#111" stroke-width="0.7" />
<line x1="128.1" y1="776.1" x2="128.1" y2="777.7" stroke="#111" stroke-width="0.7" />
<line x1="132" y1="776.1" x2="132" y2="777.7" stroke="#111" stroke-width="0.7" />
<line x1="135.9" y1="776.1" x2="135.9" y2="778.9" stroke="#111" stroke-width="0.7" />
<line x1="139.8" y1="776.1" x2="139.8" y2="777.7" stroke="#111" stroke-width="0.7" />
<line x1="143.7" y1="776.1" x2="143.7" y2="777.7" stroke="#111" stroke-width="0.7" />
<line x1="147.5" y1="776.1" x2="147.5" y2="777.7" stroke="#111" stroke-width="0.7" />
<line x1="151.4" y1="776.1" x2="151.4" y2="777.7" stroke="#111" stroke-width="0.7" />
<line x1="155.3" y1="776.1" x2="155.3" y2="777.7" stroke="#111" stroke-width="0.7" />
<line x1="159.2" y1="776.1" x2="159.2" y2="777.7" stroke="#111" stroke-width="0.7" />
<line x1="163.1" y1="776.1" x2="163.1" y2="777.7" stroke="#111" stroke-width="0.7" />
<line x1="166.9" y1="776.1" x2="166.9" y2="777.7" stroke="#111" stroke-width="0.7" />
<line x1="170.8" y1="776.1" x2="170.8" y2="777.7" stroke="#111" stroke-width="0.7" />
<line x1="174.7" y1="776.1" x2="174.7" y2="778.9" stroke="#111" stroke-width="0.7" />
<text x="58.3" y="787.5" font-size="7.3" text-anchor="middle" font-weight="bold" fill="#111"  stroke="#111" stroke-width="0.13">20</text>
<text x="97.1" y="787.5" font-size="7.3" text-anchor="middle" font-weight="bold" fill="#111"  stroke="#111" stroke-width="0.13">40</text>
<text x="135.9" y="787.5" font-size="7.3" text-anchor="middle" font-weight="bold" fill="#111"  stroke="#111" stroke-width="0.13">60</text>
<text x="174.7" y="787.5" font-size="7.3" text-anchor="middle" font-weight="bold" fill="#111"  stroke="#111" stroke-width="0.13">80</text>
<line x1="55.5" y1="776.1" x2="58.3" y2="776.1" stroke="#111" stroke-width="0.7" />
<text x="54.3" y="778.7" font-size="7.3" text-anchor="end" font-weight="bold" fill="#111"  stroke="#111" stroke-width="0.13">0.0</text>
<line x1="55.5" y1="756.7" x2="58.3" y2="756.7" stroke="#111" stroke-width="0.7" />
<text x="54.3" y="759.3" font-size="7.3" text-anchor="end" font-weight="bold" fill="#111"  stroke="#111" stroke-width="0.13">0.5</text>
<line x1="55.5" y1="737.4" x2="58.3" y2="737.4" stroke="#111" stroke-width="0.7" />
<text x="54.3" y="740" font-size="7.3" text-anchor="end" font-weight="bold" fill="#111"  stroke="#111" stroke-width="0.13">1.0</text>
<line x1="55.5" y1="718" x2="58.3" y2="718" stroke="#111" stroke-width="0.7" />
<text x="54.3" y="720.6" font-size="7.3" text-anchor="end" font-weight="bold" fill="#111"  stroke="#111" stroke-width="0.13">1.5</text>
<line x1="55.5" y1="698.6" x2="58.3" y2="698.6" stroke="#111" stroke-width="0.7" />
<text x="54.3" y="701.2" font-size="7.3" text-anchor="end" font-weight="bold" fill="#111"  stroke="#111" stroke-width="0.13">2.0</text>
<line x1="80.1" y1="745.1" x2="166" y2="753.3" stroke="#E8422A" stroke-width="1.1" />
<line x1="74.4" y1="714.9" x2="98" y2="745.9" stroke="#E8422A" stroke-width="1.2" stroke-dasharray="1.6 1.3"/>
<text x="83.6" y="717.2" font-size="6.2" text-anchor="start" font-weight="bold" fill="#111"  stroke="#111" stroke-width="0.11">R<tspan font-size="4" dy="-2.6">2</tspan><tspan dy="2.6"> = 0.77</tspan></text>
<text x="118.2" y="744.8" font-size="6.2" text-anchor="start" font-weight="bold" fill="#111"  stroke="#111" stroke-width="0.11">R<tspan font-size="4" dy="-2.6">2</tspan><tspan dy="2.6"> = 0.032</tspan></text>
<line x1="66.2" y1="701.8" x2="76.2" y2="701.8" stroke="#E8422A" stroke-width="1.1" />
<circle cx="71.2" cy="701.8" r="1.6" fill="#000" stroke="none" stroke-width="0.5" />
<line x1="66.2" y1="709.2" x2="76.2" y2="709.2" stroke="#E8422A" stroke-width="1.1" stroke-dasharray="1.6 1.3"/>
<circle cx="71.2" cy="709.2" r="1.6" fill="#000" stroke="none" stroke-width="0.5" />
<text x="79.6" y="704.1" font-size="6.4" text-anchor="start" font-weight="bold" fill="#111"  stroke="#111" stroke-width="0.12">Cancer Patient</text>
<text x="79.6" y="711.5" font-size="6.4" text-anchor="start" font-weight="bold" fill="#111"  stroke="#111" stroke-width="0.12">Healthy Donor</text>
<circle cx="70.9" cy="709.1" r="1.7" fill="#000" stroke="none" stroke-width="0.5" />
<circle cx="74.4" cy="715.2" r="1.7" fill="#000" stroke="none" stroke-width="0.5" />
<circle cx="80.1" cy="736.7" r="1.7" fill="#000" stroke="none" stroke-width="0.5" />
<circle cx="95.4" cy="732" r="1.7" fill="#000" stroke="none" stroke-width="0.5" />
<circle cx="101.4" cy="735.7" r="1.7" fill="#000" stroke="none" stroke-width="0.5" />
<circle cx="99.3" cy="757.2" r="1.7" fill="#000" stroke="none" stroke-width="0.5" />
<circle cx="120.9" cy="768.8" r="1.7" fill="#000" stroke="none" stroke-width="0.5" />
<circle cx="138.5" cy="770.1" r="1.7" fill="#000" stroke="none" stroke-width="0.5" />
<circle cx="140.6" cy="752.5" r="1.7" fill="#000" stroke="none" stroke-width="0.5" />
<circle cx="157.6" cy="750.4" r="1.7" fill="#000" stroke="none" stroke-width="0.5" />
<circle cx="159.7" cy="759.3" r="1.7" fill="#000" stroke="none" stroke-width="0.5" />
<circle cx="163.7" cy="721.5" r="1.7" fill="#000" stroke="none" stroke-width="0.5" />
<circle cx="163.7" cy="743.8" r="1.7" fill="#000" stroke="none" stroke-width="0.5" />
<circle cx="165.5" cy="767.2" r="1.7" fill="#000" stroke="none" stroke-width="0.5" />
<line x1="208.9" y1="776.4" x2="208.9" y2="698.4" stroke="#111" stroke-width="1.1" />
<line x1="208.9" y1="776.4" x2="325.5" y2="776.4" stroke="#111" stroke-width="1.1" />
<line x1="208.9" y1="776.4" x2="208.9" y2="779.2" stroke="#111" stroke-width="0.7" />
<line x1="212.8" y1="776.4" x2="212.8" y2="778" stroke="#111" stroke-width="0.7" />
<line x1="216.7" y1="776.4" x2="216.7" y2="778" stroke="#111" stroke-width="0.7" />
<line x1="220.6" y1="776.4" x2="220.6" y2="778" stroke="#111" stroke-width="0.7" />
<line x1="224.4" y1="776.4" x2="224.4" y2="778" stroke="#111" stroke-width="0.7" />
<line x1="228.3" y1="776.4" x2="228.3" y2="778" stroke="#111" stroke-width="0.7" />
<line x1="232.2" y1="776.4" x2="232.2" y2="778" stroke="#111" stroke-width="0.7" />
<line x1="236.1" y1="776.4" x2="236.1" y2="778" stroke="#111" stroke-width="0.7" />
<line x1="240" y1="776.4" x2="240" y2="778" stroke="#111" stroke-width="0.7" />
<line x1="243.9" y1="776.4" x2="243.9" y2="778" stroke="#111" stroke-width="0.7" />
<line x1="247.8" y1="776.4" x2="247.8" y2="779.2" stroke="#111" stroke-width="0.7" />
<line x1="251.7" y1="776.4" x2="251.7" y2="778" stroke="#111" stroke-width="0.7" />
<line x1="255.5" y1="776.4" x2="255.5" y2="778" stroke="#111" stroke-width="0.7" />
<line x1="259.4" y1="776.4" x2="259.4" y2="778" stroke="#111" stroke-width="0.7" />
<line x1="263.3" y1="776.4" x2="263.3" y2="778" stroke="#111" stroke-width="0.7" />
<line x1="267.2" y1="776.4" x2="267.2" y2="778" stroke="#111" stroke-width="0.7" />
<line x1="271.1" y1="776.4" x2="271.1" y2="778" stroke="#111" stroke-width="0.7" />
<line x1="275" y1="776.4" x2="275" y2="778" stroke="#111" stroke-width="0.7" />
<line x1="278.9" y1="776.4" x2="278.9" y2="778" stroke="#111" stroke-width="0.7" />
<line x1="282.7" y1="776.4" x2="282.7" y2="778" stroke="#111" stroke-width="0.7" />
<line x1="286.6" y1="776.4" x2="286.6" y2="779.2" stroke="#111" stroke-width="0.7" />
<line x1="290.5" y1="776.4" x2="290.5" y2="778" stroke="#111" stroke-width="0.7" />
<line x1="294.4" y1="776.4" x2="294.4" y2="778" stroke="#111" stroke-width="0.7" />
<line x1="298.3" y1="776.4" x2="298.3" y2="778" stroke="#111" stroke-width="0.7" />
<line x1="302.2" y1="776.4" x2="302.2" y2="778" stroke="#111" stroke-width="0.7" />
<line x1="306.1" y1="776.4" x2="306.1" y2="778" stroke="#111" stroke-width="0.7" />
<line x1="310" y1="776.4" x2="310" y2="778" stroke="#111" stroke-width="0.7" />
<line x1="313.8" y1="776.4" x2="313.8" y2="778" stroke="#111" stroke-width="0.7" />
<line x1="317.7" y1="776.4" x2="317.7" y2="778" stroke="#111" stroke-width="0.7" />
<line x1="321.6" y1="776.4" x2="321.6" y2="778" stroke="#111" stroke-width="0.7" />
<line x1="325.5" y1="776.4" x2="325.5" y2="779.2" stroke="#111" stroke-width="0.7" />
<text x="208.9" y="787.8" font-size="7.3" text-anchor="middle" font-weight="bold" fill="#111"  stroke="#111" stroke-width="0.13">20</text>
<text x="247.8" y="787.8" font-size="7.3" text-anchor="middle" font-weight="bold" fill="#111"  stroke="#111" stroke-width="0.13">40</text>
<text x="286.6" y="787.8" font-size="7.3" text-anchor="middle" font-weight="bold" fill="#111"  stroke="#111" stroke-width="0.13">60</text>
<text x="325.5" y="787.8" font-size="7.3" text-anchor="middle" font-weight="bold" fill="#111"  stroke="#111" stroke-width="0.13">80</text>
<line x1="206.1" y1="776.4" x2="208.9" y2="776.4" stroke="#111" stroke-width="0.7" />
<text x="204.9" y="779" font-size="7.3" text-anchor="end" font-weight="bold" fill="#111"  stroke="#111" stroke-width="0.13">0</text>
<line x1="206.1" y1="756.9" x2="208.9" y2="756.9" stroke="#111" stroke-width="0.7" />
<text x="204.9" y="759.5" font-size="7.3" text-anchor="end" font-weight="bold" fill="#111"  stroke="#111" stroke-width="0.13">10</text>
<line x1="206.1" y1="737.4" x2="208.9" y2="737.4" stroke="#111" stroke-width="0.7" />
<text x="204.9" y="740" font-size="7.3" text-anchor="end" font-weight="bold" fill="#111"  stroke="#111" stroke-width="0.13">20</text>
<line x1="206.1" y1="717.9" x2="208.9" y2="717.9" stroke="#111" stroke-width="0.7" />
<text x="204.9" y="720.5" font-size="7.3" text-anchor="end" font-weight="bold" fill="#111"  stroke="#111" stroke-width="0.13">30</text>
<line x1="206.1" y1="698.4" x2="208.9" y2="698.4" stroke="#111" stroke-width="0.7" />
<text x="204.9" y="701" font-size="7.3" text-anchor="end" font-weight="bold" fill="#111"  stroke="#111" stroke-width="0.13">40</text>
<line x1="239.6" y1="776.4" x2="314.5" y2="754.9" stroke="#E8422A" stroke-width="1.1" />
<line x1="223.9" y1="768.5" x2="249.3" y2="760.6" stroke="#E8422A" stroke-width="1.2" stroke-dasharray="1.6 1.3"/>
<text x="214.7" y="757.7" font-size="6.2" text-anchor="start" font-weight="bold" fill="#111"  stroke="#111" stroke-width="0.11">R<tspan font-size="4" dy="-2.6">2</tspan><tspan dy="2.6"> = 0.90</tspan></text>
<text x="271.2" y="751.1" font-size="6.2" text-anchor="start" font-weight="bold" fill="#111"  stroke="#111" stroke-width="0.11">R<tspan font-size="4" dy="-2.6">2</tspan><tspan dy="2.6"> = 0.13</tspan></text>
<line x1="213.4" y1="710.7" x2="223.4" y2="710.7" stroke="#E8422A" stroke-width="1.1" />
<circle cx="218.4" cy="710.7" r="1.6" fill="#000" stroke="none" stroke-width="0.5" />
<line x1="213.4" y1="718.1" x2="223.4" y2="718.1" stroke="#E8422A" stroke-width="1.1" stroke-dasharray="1.6 1.3"/>
<circle cx="218.4" cy="718.1" r="1.6" fill="#000" stroke="none" stroke-width="0.5" />
<text x="227.3" y="713" font-size="6.4" text-anchor="start" font-weight="bold" fill="#111"  stroke="#111" stroke-width="0.12">Cancer Patient</text>
<text x="227.3" y="720.4" font-size="6.4" text-anchor="start" font-weight="bold" fill="#111"  stroke="#111" stroke-width="0.12">Healthy Donor</text>
<circle cx="223.9" cy="768.5" r="1.7" fill="#000" stroke="none" stroke-width="0.5" />
<circle cx="230.2" cy="776.4" r="1.7" fill="#000" stroke="none" stroke-width="0.5" />
<circle cx="245.7" cy="764.3" r="1.7" fill="#000" stroke="none" stroke-width="0.5" />
<circle cx="249.3" cy="760.6" r="1.7" fill="#000" stroke="none" stroke-width="0.5" />
<circle cx="251.6" cy="762.6" r="1.7" fill="#000" stroke="none" stroke-width="0.5" />
<circle cx="271" cy="776.4" r="1.7" fill="#000" stroke="none" stroke-width="0.5" />
<circle cx="288.6" cy="776.4" r="1.7" fill="#000" stroke="none" stroke-width="0.5" />
<circle cx="290" cy="776.4" r="1.7" fill="#000" stroke="none" stroke-width="0.5" />
<circle cx="310" cy="711.5" r="1.7" fill="#000" stroke="none" stroke-width="0.5" />
<circle cx="314" cy="776.4" r="1.7" fill="#000" stroke="none" stroke-width="0.5" />
<line x1="372.8" y1="775.9" x2="372.8" y2="697.6" stroke="#111" stroke-width="1.1" />
<line x1="372.8" y1="775.9" x2="489.8" y2="775.9" stroke="#111" stroke-width="1.1" />
<line x1="372.8" y1="775.9" x2="372.8" y2="778.7" stroke="#111" stroke-width="0.7" />
<line x1="376.7" y1="775.9" x2="376.7" y2="777.5" stroke="#111" stroke-width="0.7" />
<line x1="380.6" y1="775.9" x2="380.6" y2="777.5" stroke="#111" stroke-width="0.7" />
<line x1="384.5" y1="775.9" x2="384.5" y2="777.5" stroke="#111" stroke-width="0.7" />
<line x1="388.4" y1="775.9" x2="388.4" y2="777.5" stroke="#111" stroke-width="0.7" />
<line x1="392.3" y1="775.9" x2="392.3" y2="777.5" stroke="#111" stroke-width="0.7" />
<line x1="396.2" y1="775.9" x2="396.2" y2="777.5" stroke="#111" stroke-width="0.7" />
<line x1="400.1" y1="775.9" x2="400.1" y2="777.5" stroke="#111" stroke-width="0.7" />
<line x1="404" y1="775.9" x2="404" y2="777.5" stroke="#111" stroke-width="0.7" />
<line x1="407.9" y1="775.9" x2="407.9" y2="777.5" stroke="#111" stroke-width="0.7" />
<line x1="411.8" y1="775.9" x2="411.8" y2="778.7" stroke="#111" stroke-width="0.7" />
<line x1="415.7" y1="775.9" x2="415.7" y2="777.5" stroke="#111" stroke-width="0.7" />
<line x1="419.6" y1="775.9" x2="419.6" y2="777.5" stroke="#111" stroke-width="0.7" />
<line x1="423.5" y1="775.9" x2="423.5" y2="777.5" stroke="#111" stroke-width="0.7" />
<line x1="427.4" y1="775.9" x2="427.4" y2="777.5" stroke="#111" stroke-width="0.7" />
<line x1="431.3" y1="775.9" x2="431.3" y2="777.5" stroke="#111" stroke-width="0.7" />
<line x1="435.2" y1="775.9" x2="435.2" y2="777.5" stroke="#111" stroke-width="0.7" />
<line x1="439.1" y1="775.9" x2="439.1" y2="777.5" stroke="#111" stroke-width="0.7" />
<line x1="443" y1="775.9" x2="443" y2="777.5" stroke="#111" stroke-width="0.7" />
<line x1="446.9" y1="775.9" x2="446.9" y2="777.5" stroke="#111" stroke-width="0.7" />
<line x1="450.8" y1="775.9" x2="450.8" y2="778.7" stroke="#111" stroke-width="0.7" />
<line x1="454.7" y1="775.9" x2="454.7" y2="777.5" stroke="#111" stroke-width="0.7" />
<line x1="458.6" y1="775.9" x2="458.6" y2="777.5" stroke="#111" stroke-width="0.7" />
<line x1="462.5" y1="775.9" x2="462.5" y2="777.5" stroke="#111" stroke-width="0.7" />
<line x1="466.4" y1="775.9" x2="466.4" y2="777.5" stroke="#111" stroke-width="0.7" />
<line x1="470.3" y1="775.9" x2="470.3" y2="777.5" stroke="#111" stroke-width="0.7" />
<line x1="474.2" y1="775.9" x2="474.2" y2="777.5" stroke="#111" stroke-width="0.7" />
<line x1="478.1" y1="775.9" x2="478.1" y2="777.5" stroke="#111" stroke-width="0.7" />
<line x1="482" y1="775.9" x2="482" y2="777.5" stroke="#111" stroke-width="0.7" />
<line x1="485.9" y1="775.9" x2="485.9" y2="777.5" stroke="#111" stroke-width="0.7" />
<line x1="489.8" y1="775.9" x2="489.8" y2="778.7" stroke="#111" stroke-width="0.7" />
<text x="372.8" y="787.3" font-size="7.3" text-anchor="middle" font-weight="bold" fill="#111"  stroke="#111" stroke-width="0.13">20</text>
<text x="411.8" y="787.3" font-size="7.3" text-anchor="middle" font-weight="bold" fill="#111"  stroke="#111" stroke-width="0.13">40</text>
<text x="450.8" y="787.3" font-size="7.3" text-anchor="middle" font-weight="bold" fill="#111"  stroke="#111" stroke-width="0.13">60</text>
<text x="489.8" y="787.3" font-size="7.3" text-anchor="middle" font-weight="bold" fill="#111"  stroke="#111" stroke-width="0.13">80</text>
<line x1="370" y1="775.9" x2="372.8" y2="775.9" stroke="#111" stroke-width="0.7" />
<text x="368.8" y="778.5" font-size="7.3" text-anchor="end" font-weight="bold" fill="#111"  stroke="#111" stroke-width="0.13">0</text>
<line x1="370" y1="760.2" x2="372.8" y2="760.2" stroke="#111" stroke-width="0.7" />
<text x="368.8" y="762.8" font-size="7.3" text-anchor="end" font-weight="bold" fill="#111"  stroke="#111" stroke-width="0.13">5</text>
<line x1="370" y1="744.6" x2="372.8" y2="744.6" stroke="#111" stroke-width="0.7" />
<text x="368.8" y="747.2" font-size="7.3" text-anchor="end" font-weight="bold" fill="#111"  stroke="#111" stroke-width="0.13">10</text>
<line x1="370" y1="728.9" x2="372.8" y2="728.9" stroke="#111" stroke-width="0.7" />
<text x="368.8" y="731.5" font-size="7.3" text-anchor="end" font-weight="bold" fill="#111"  stroke="#111" stroke-width="0.13">15</text>
<line x1="370" y1="713.3" x2="372.8" y2="713.3" stroke="#111" stroke-width="0.7" />
<text x="368.8" y="715.9" font-size="7.3" text-anchor="end" font-weight="bold" fill="#111"  stroke="#111" stroke-width="0.13">20</text>
<line x1="370" y1="697.6" x2="372.8" y2="697.6" stroke="#111" stroke-width="0.7" />
<text x="368.8" y="700.2" font-size="7.3" text-anchor="end" font-weight="bold" fill="#111"  stroke="#111" stroke-width="0.13">25</text>
<line x1="393.9" y1="775.6" x2="478.7" y2="762.7" stroke="#E8422A" stroke-width="1.1" />
<line x1="389.9" y1="746.2" x2="413.6" y2="735.7" stroke="#E8422A" stroke-width="1.2" stroke-dasharray="1.6 1.3"/>
<text x="384.7" y="750.6" font-size="6.2" text-anchor="start" font-weight="bold" fill="#111"  stroke="#111" stroke-width="0.11">R<tspan font-size="4" dy="-2.6">2</tspan><tspan dy="2.6"> = 0.050</tspan></text>
<text x="433.3" y="758.5" font-size="6.2" text-anchor="start" font-weight="bold" fill="#111"  stroke="#111" stroke-width="0.11">R<tspan font-size="4" dy="-2.6">2</tspan><tspan dy="2.6"> = 0.17</tspan></text>
<line x1="378.9" y1="710.2" x2="388.9" y2="710.2" stroke="#E8422A" stroke-width="1.1" />
<circle cx="383.9" cy="710.2" r="1.6" fill="#000" stroke="none" stroke-width="0.5" />
<line x1="378.9" y1="717.6" x2="388.9" y2="717.6" stroke="#E8422A" stroke-width="1.1" stroke-dasharray="1.6 1.3"/>
<circle cx="383.9" cy="717.6" r="1.6" fill="#000" stroke="none" stroke-width="0.5" />
<text x="392" y="712.5" font-size="6.4" text-anchor="start" font-weight="bold" fill="#111"  stroke="#111" stroke-width="0.12">Cancer Patient</text>
<text x="392" y="719.9" font-size="6.4" text-anchor="start" font-weight="bold" fill="#111"  stroke="#111" stroke-width="0.12">Healthy Donor</text>
<circle cx="389.1" cy="741.5" r="1.7" fill="#000" stroke="none" stroke-width="0.5" />
<circle cx="392.5" cy="775.9" r="1.7" fill="#000" stroke="none" stroke-width="0.5" />
<circle cx="394.3" cy="775.9" r="1.7" fill="#000" stroke="none" stroke-width="0.5" />
<circle cx="410.4" cy="761.4" r="1.7" fill="#000" stroke="none" stroke-width="0.5" />
<circle cx="414.1" cy="715.2" r="1.7" fill="#000" stroke="none" stroke-width="0.5" />
<circle cx="416.4" cy="766.2" r="1.7" fill="#000" stroke="none" stroke-width="0.5" />
<circle cx="453.5" cy="773.8" r="1.7" fill="#000" stroke="none" stroke-width="0.5" />
<circle cx="455.3" cy="771.8" r="1.7" fill="#000" stroke="none" stroke-width="0.5" />
<circle cx="472.6" cy="773.8" r="1.7" fill="#000" stroke="none" stroke-width="0.5" />
<circle cx="474.8" cy="743.2" r="1.7" fill="#000" stroke="none" stroke-width="0.5" />
<circle cx="478.7" cy="762.2" r="1.7" fill="#000" stroke="none" stroke-width="0.5" />
<circle cx="478.7" cy="764.8" r="1.7" fill="#000" stroke="none" stroke-width="0.5" />
<circle cx="478.7" cy="766.9" r="1.7" fill="#000" stroke="none" stroke-width="0.5" />
<line x1="544.4" y1="776.4" x2="544.4" y2="698.4" stroke="#111" stroke-width="1.1" />
<line x1="544.4" y1="776.4" x2="661.3" y2="776.4" stroke="#111" stroke-width="1.1" />
<line x1="544.4" y1="776.4" x2="544.4" y2="779.2" stroke="#111" stroke-width="0.7" />
<line x1="548.3" y1="776.4" x2="548.3" y2="778" stroke="#111" stroke-width="0.7" />
<line x1="552.2" y1="776.4" x2="552.2" y2="778" stroke="#111" stroke-width="0.7" />
<line x1="556.1" y1="776.4" x2="556.1" y2="778" stroke="#111" stroke-width="0.7" />
<line x1="560" y1="776.4" x2="560" y2="778" stroke="#111" stroke-width="0.7" />
<line x1="563.9" y1="776.4" x2="563.9" y2="778" stroke="#111" stroke-width="0.7" />
<line x1="567.8" y1="776.4" x2="567.8" y2="778" stroke="#111" stroke-width="0.7" />
<line x1="571.7" y1="776.4" x2="571.7" y2="778" stroke="#111" stroke-width="0.7" />
<line x1="575.6" y1="776.4" x2="575.6" y2="778" stroke="#111" stroke-width="0.7" />
<line x1="579.5" y1="776.4" x2="579.5" y2="778" stroke="#111" stroke-width="0.7" />
<line x1="583.4" y1="776.4" x2="583.4" y2="779.2" stroke="#111" stroke-width="0.7" />
<line x1="587.3" y1="776.4" x2="587.3" y2="778" stroke="#111" stroke-width="0.7" />
<line x1="591.2" y1="776.4" x2="591.2" y2="778" stroke="#111" stroke-width="0.7" />
<line x1="595.1" y1="776.4" x2="595.1" y2="778" stroke="#111" stroke-width="0.7" />
<line x1="599" y1="776.4" x2="599" y2="778" stroke="#111" stroke-width="0.7" />
<line x1="602.8" y1="776.4" x2="602.8" y2="778" stroke="#111" stroke-width="0.7" />
<line x1="606.7" y1="776.4" x2="606.7" y2="778" stroke="#111" stroke-width="0.7" />
<line x1="610.6" y1="776.4" x2="610.6" y2="778" stroke="#111" stroke-width="0.7" />
<line x1="614.5" y1="776.4" x2="614.5" y2="778" stroke="#111" stroke-width="0.7" />
<line x1="618.4" y1="776.4" x2="618.4" y2="778" stroke="#111" stroke-width="0.7" />
<line x1="622.3" y1="776.4" x2="622.3" y2="779.2" stroke="#111" stroke-width="0.7" />
<line x1="626.2" y1="776.4" x2="626.2" y2="778" stroke="#111" stroke-width="0.7" />
<line x1="630.1" y1="776.4" x2="630.1" y2="778" stroke="#111" stroke-width="0.7" />
<line x1="634" y1="776.4" x2="634" y2="778" stroke="#111" stroke-width="0.7" />
<line x1="637.9" y1="776.4" x2="637.9" y2="778" stroke="#111" stroke-width="0.7" />
<line x1="641.8" y1="776.4" x2="641.8" y2="778" stroke="#111" stroke-width="0.7" />
<line x1="645.7" y1="776.4" x2="645.7" y2="778" stroke="#111" stroke-width="0.7" />
<line x1="649.6" y1="776.4" x2="649.6" y2="778" stroke="#111" stroke-width="0.7" />
<line x1="653.5" y1="776.4" x2="653.5" y2="778" stroke="#111" stroke-width="0.7" />
<line x1="657.4" y1="776.4" x2="657.4" y2="778" stroke="#111" stroke-width="0.7" />
<line x1="661.3" y1="776.4" x2="661.3" y2="779.2" stroke="#111" stroke-width="0.7" />
<text x="544.4" y="787.8" font-size="7.3" text-anchor="middle" font-weight="bold" fill="#111"  stroke="#111" stroke-width="0.13">20</text>
<text x="583.4" y="787.8" font-size="7.3" text-anchor="middle" font-weight="bold" fill="#111"  stroke="#111" stroke-width="0.13">40</text>
<text x="622.3" y="787.8" font-size="7.3" text-anchor="middle" font-weight="bold" fill="#111"  stroke="#111" stroke-width="0.13">60</text>
<text x="661.3" y="787.8" font-size="7.3" text-anchor="middle" font-weight="bold" fill="#111"  stroke="#111" stroke-width="0.13">80</text>
<line x1="541.6" y1="776.4" x2="544.4" y2="776.4" stroke="#111" stroke-width="0.7" />
<text x="540.4" y="779" font-size="7.3" text-anchor="end" font-weight="bold" fill="#111"  stroke="#111" stroke-width="0.13">0</text>
<line x1="541.6" y1="756.9" x2="544.4" y2="756.9" stroke="#111" stroke-width="0.7" />
<text x="540.4" y="759.5" font-size="7.3" text-anchor="end" font-weight="bold" fill="#111"  stroke="#111" stroke-width="0.13">10</text>
<line x1="541.6" y1="737.4" x2="544.4" y2="737.4" stroke="#111" stroke-width="0.7" />
<text x="540.4" y="740" font-size="7.3" text-anchor="end" font-weight="bold" fill="#111"  stroke="#111" stroke-width="0.13">20</text>
<line x1="541.6" y1="717.9" x2="544.4" y2="717.9" stroke="#111" stroke-width="0.7" />
<text x="540.4" y="720.5" font-size="7.3" text-anchor="end" font-weight="bold" fill="#111"  stroke="#111" stroke-width="0.13">30</text>
<line x1="541.6" y1="698.4" x2="544.4" y2="698.4" stroke="#111" stroke-width="0.7" />
<text x="540.4" y="701" font-size="7.3" text-anchor="end" font-weight="bold" fill="#111"  stroke="#111" stroke-width="0.13">40</text>
<line x1="579.9" y1="776.4" x2="651.6" y2="765.9" stroke="#E8422A" stroke-width="1.1" />
<line x1="559.6" y1="759.9" x2="583.8" y2="748.8" stroke="#E8422A" stroke-width="1.2" stroke-dasharray="1.6 1.3"/>
<text x="550.2" y="744.6" font-size="6.2" text-anchor="start" font-weight="bold" fill="#111"  stroke="#111" stroke-width="0.11">R<tspan font-size="4" dy="-2.6">2</tspan><tspan dy="2.6"> = 0.77</tspan></text>
<text x="603.5" y="758.5" font-size="6.2" text-anchor="start" font-weight="bold" fill="#111"  stroke="#111" stroke-width="0.11">R<tspan font-size="4" dy="-2.6">2</tspan><tspan dy="2.6"> = 0.15</tspan></text>
<line x1="549.1" y1="710.7" x2="559.1" y2="710.7" stroke="#E8422A" stroke-width="1.1" />
<circle cx="554.1" cy="710.7" r="1.6" fill="#000" stroke="none" stroke-width="0.5" />
<line x1="549.1" y1="718.1" x2="559.1" y2="718.1" stroke="#E8422A" stroke-width="1.1" stroke-dasharray="1.6 1.3"/>
<circle cx="554.1" cy="718.1" r="1.6" fill="#000" stroke="none" stroke-width="0.5" />
<text x="562.8" y="713" font-size="6.4" text-anchor="start" font-weight="bold" fill="#111"  stroke="#111" stroke-width="0.12">Cancer Patient</text>
<text x="562.8" y="720.4" font-size="6.4" text-anchor="start" font-weight="bold" fill="#111"  stroke="#111" stroke-width="0.12">Healthy Donor</text>
<circle cx="559.6" cy="759.9" r="1.7" fill="#000" stroke="none" stroke-width="0.5" />
<circle cx="565.8" cy="776.4" r="1.7" fill="#000" stroke="none" stroke-width="0.5" />
<circle cx="581.4" cy="754.3" r="1.7" fill="#000" stroke="none" stroke-width="0.5" />
<circle cx="584.9" cy="745.3" r="1.7" fill="#000" stroke="none" stroke-width="0.5" />
<circle cx="587" cy="776.4" r="1.7" fill="#000" stroke="none" stroke-width="0.5" />
<circle cx="606.4" cy="775.4" r="1.7" fill="#000" stroke="none" stroke-width="0.5" />
<circle cx="624.2" cy="771.9" r="1.7" fill="#000" stroke="none" stroke-width="0.5" />
<circle cx="626" cy="765.6" r="1.7" fill="#000" stroke="none" stroke-width="0.5" />
<circle cx="644" cy="773.5" r="1.7" fill="#000" stroke="none" stroke-width="0.5" />
<circle cx="645.5" cy="776.4" r="1.7" fill="#000" stroke="none" stroke-width="0.5" />
<circle cx="648.6" cy="743.7" r="1.7" fill="#000" stroke="none" stroke-width="0.5" />
<circle cx="649.3" cy="775.4" r="1.7" fill="#000" stroke="none" stroke-width="0.5" />
<circle cx="651" cy="776.4" r="1.7" fill="#000" stroke="none" stroke-width="0.5" />
<circle cx="652.5" cy="776.4" r="1.7" fill="#000" stroke="none" stroke-width="0.5" />
<text x="4.6" y="25.5" font-size="22.5" text-anchor="start" font-weight="bold" fill="#000"  stroke="#000" stroke-width="0.16">a</text>
<text x="2.2" y="168.6" font-size="22.5" text-anchor="start" font-weight="bold" fill="#000"  stroke="#000" stroke-width="0.16">b</text>
<text x="131.6" y="21.2" font-size="22.5" text-anchor="start" font-weight="bold" fill="#000"  stroke="#000" stroke-width="0.16">c</text>
<text x="342.2" y="17.8" font-size="22.5" text-anchor="start" font-weight="bold" fill="#000"  stroke="#000" stroke-width="0.16">d</text>
<text x="477.2" y="16.1" font-size="22.5" text-anchor="start" font-weight="bold" fill="#000"  stroke="#000" stroke-width="0.16">e</text>
<text x="476.6" y="134" font-size="22.5" text-anchor="start" font-weight="bold" fill="#000"  stroke="#000" stroke-width="0.16">f</text>
<text x="7.9" y="328.5" font-size="22.5" text-anchor="start" font-weight="bold" fill="#000"  stroke="#000" stroke-width="0.16">g</text>
<text x="342.5" y="328.4" font-size="22.5" text-anchor="start" font-weight="bold" fill="#000"  stroke="#000" stroke-width="0.16">h</text>
<text x="14.6" y="540.3" font-size="22.5" text-anchor="start" font-weight="bold" fill="#000"  stroke="#000" stroke-width="0.16">i</text>
</svg></body></html>
